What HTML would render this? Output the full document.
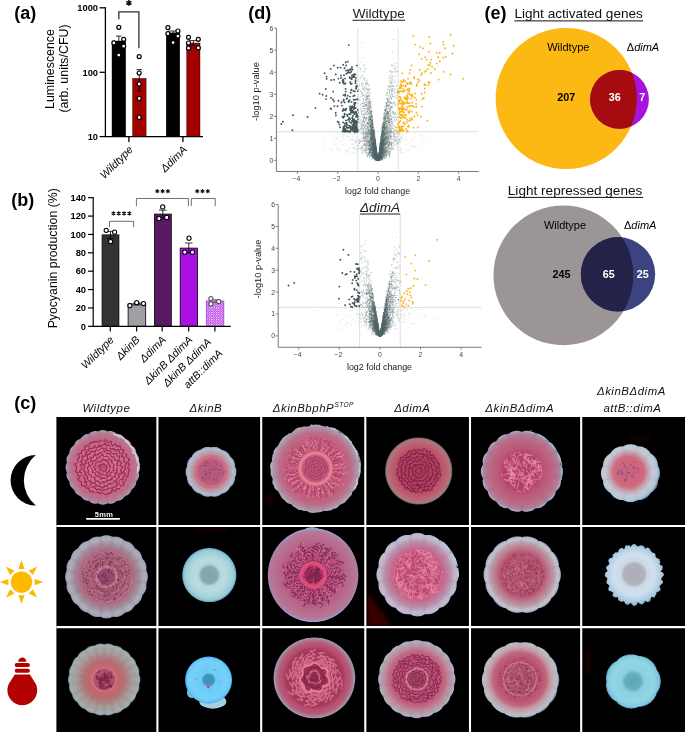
<!DOCTYPE html>
<html><head><meta charset="utf-8"><title>Figure</title>
<style>html,body{margin:0;padding:0;background:#fff;}body{width:685px;height:732px;overflow:hidden;font-family:"Liberation Sans", sans-serif;}svg{display:block;opacity:0.9999;}</style></head>
<body>
<svg width="685" height="732" viewBox="0 0 685 732" font-family='"Liberation Sans", sans-serif' fill="#000">
<defs>
<pattern id="chk" width="2.4" height="2.4" patternUnits="userSpaceOnUse"><rect width="2.4" height="2.4" fill="#b431e6"/><rect x="0" y="0" width="1.2" height="1.2" fill="#fff"/><rect x="1.2" y="1.2" width="1.2" height="1.2" fill="#dba6f3"/></pattern>
<clipPath id="cv1"><circle cx="566.2" cy="98.5" r="70.6"/></clipPath>
<clipPath id="cv2"><circle cx="563.4" cy="275.3" r="69.9"/></clipPath>
<filter id="b3" x="-30%" y="-30%" width="160%" height="160%"><feGaussianBlur stdDeviation="0.3"/></filter>
<filter id="b4" x="-30%" y="-30%" width="160%" height="160%"><feGaussianBlur stdDeviation="0.4"/></filter>
<filter id="b5" x="-30%" y="-30%" width="160%" height="160%"><feGaussianBlur stdDeviation="0.5"/></filter>
<filter id="b6" x="-30%" y="-30%" width="160%" height="160%"><feGaussianBlur stdDeviation="0.6"/></filter>
<filter id="b7" x="-30%" y="-30%" width="160%" height="160%"><feGaussianBlur stdDeviation="0.7"/></filter>
<filter id="b8" x="-30%" y="-30%" width="160%" height="160%"><feGaussianBlur stdDeviation="0.8"/></filter>
<filter id="b9" x="-30%" y="-30%" width="160%" height="160%"><feGaussianBlur stdDeviation="0.9"/></filter>
<filter id="b10" x="-30%" y="-30%" width="160%" height="160%"><feGaussianBlur stdDeviation="1.0"/></filter>
<filter id="b12" x="-30%" y="-30%" width="160%" height="160%"><feGaussianBlur stdDeviation="1.2"/></filter>
<filter id="b15" x="-30%" y="-30%" width="160%" height="160%"><feGaussianBlur stdDeviation="1.5"/></filter>
<filter id="b20" x="-30%" y="-30%" width="160%" height="160%"><feGaussianBlur stdDeviation="2.0"/></filter>
<filter id="b30" x="-30%" y="-30%" width="160%" height="160%"><feGaussianBlur stdDeviation="3.0"/></filter>
<filter id="wob" x="-10%" y="-10%" width="120%" height="120%"><feTurbulence type="fractalNoise" baseFrequency="0.11" numOctaves="2" seed="4" result="t"/><feDisplacementMap in="SourceGraphic" in2="t" scale="3.2" xChannelSelector="R" yChannelSelector="G"/></filter>
<radialGradient id="g1" gradientUnits="userSpaceOnUse" cx="102.8" cy="467.4" r="37.3"><stop offset="0" stop-color="#b14a6d"/><stop offset="0.1" stop-color="#c7627c"/><stop offset="0.3" stop-color="#d27287"/><stop offset="0.66" stop-color="#ca6b82"/><stop offset="0.8" stop-color="#c16b84"/><stop offset="0.9" stop-color="#b87d96"/><stop offset="0.96" stop-color="#ad8ea4"/><stop offset="0.99" stop-color="#aca4b8"/><stop offset="1" stop-color="#8e8ea8"/></radialGradient>
<radialGradient id="g2" gradientUnits="userSpaceOnUse" cx="211" cy="471.8" r="25.5"><stop offset="0" stop-color="#b25a7b"/><stop offset="0.5" stop-color="#b8607d"/><stop offset="0.56" stop-color="#cc6e85"/><stop offset="0.64" stop-color="#ce7287"/><stop offset="0.7" stop-color="#be93a2"/><stop offset="0.78" stop-color="#b4a4b4"/><stop offset="0.9" stop-color="#b9bcca"/><stop offset="0.97" stop-color="#98a8c2"/><stop offset="1" stop-color="#6c84a8"/></radialGradient>
<radialGradient id="g3" gradientUnits="userSpaceOnUse" cx="315.5" cy="468.6" r="45.3"><stop offset="0" stop-color="#bc5374"/><stop offset="0.29" stop-color="#c3587a"/><stop offset="0.325" stop-color="#e48496"/><stop offset="0.365" stop-color="#e07f90"/><stop offset="0.4" stop-color="#bc5374"/><stop offset="0.66" stop-color="#c15c7c"/><stop offset="0.8" stop-color="#bc6e88"/><stop offset="0.88" stop-color="#b4889c"/><stop offset="0.94" stop-color="#ad9bac"/><stop offset="0.985" stop-color="#b3b3c4"/><stop offset="1" stop-color="#888ba8"/></radialGradient>
<radialGradient id="g4" gradientUnits="userSpaceOnUse" cx="418.7" cy="471" r="33.6"><stop offset="0" stop-color="#a63f5b"/><stop offset="0.6" stop-color="#ad4460"/><stop offset="0.67" stop-color="#b85169"/><stop offset="0.82" stop-color="#bc6071"/><stop offset="0.91" stop-color="#b47276"/><stop offset="0.965" stop-color="#9b797c"/><stop offset="1" stop-color="#554850"/></radialGradient>
<radialGradient id="g5" gradientUnits="userSpaceOnUse" cx="521.8" cy="471.3" r="41"><stop offset="0" stop-color="#b44a6d"/><stop offset="0.45" stop-color="#b84a6f"/><stop offset="0.55" stop-color="#bc5576"/><stop offset="0.72" stop-color="#bc6380"/><stop offset="0.84" stop-color="#b8728c"/><stop offset="0.93" stop-color="#ad84a0"/><stop offset="0.985" stop-color="#b0aac4"/><stop offset="1" stop-color="#888db0"/></radialGradient>
<radialGradient id="g6" gradientUnits="userSpaceOnUse" cx="628.8" cy="471.8" r="30.5"><stop offset="0" stop-color="#ca637c"/><stop offset="0.49" stop-color="#d2677e"/><stop offset="0.56" stop-color="#ce8193"/><stop offset="0.64" stop-color="#bfa6b3"/><stop offset="0.78" stop-color="#c8c8d4"/><stop offset="0.92" stop-color="#b4c8d8"/><stop offset="0.98" stop-color="#98b8d0"/><stop offset="1" stop-color="#6c90b0"/></radialGradient>
<radialGradient id="g7" gradientUnits="userSpaceOnUse" cx="106.5" cy="576.8" r="41.7"><stop offset="0" stop-color="#904667"/><stop offset="0.18" stop-color="#974d6d"/><stop offset="0.24" stop-color="#c38196"/><stop offset="0.3" stop-color="#a65a71"/><stop offset="0.6" stop-color="#a9627a"/><stop offset="0.68" stop-color="#ab7489"/><stop offset="0.78" stop-color="#a28e9d"/><stop offset="0.9" stop-color="#b1aeba"/><stop offset="0.97" stop-color="#a0a6b6"/><stop offset="1" stop-color="#71788e"/></radialGradient>
<radialGradient id="g8" gradientUnits="userSpaceOnUse" cx="209.3" cy="575.1" r="27"><stop offset="0" stop-color="#84a4ac"/><stop offset="0.3" stop-color="#88a8b0"/><stop offset="0.42" stop-color="#b4d8da"/><stop offset="0.58" stop-color="#b8dcde"/><stop offset="0.78" stop-color="#a8d4dc"/><stop offset="0.92" stop-color="#98c8d8"/><stop offset="1" stop-color="#68a8c0"/></radialGradient>
<radialGradient id="g9" gradientUnits="userSpaceOnUse" cx="313.1" cy="575.2" r="46.9"><stop offset="0" stop-color="#9b2c53"/><stop offset="0.16" stop-color="#a6355e"/><stop offset="0.21" stop-color="#d94a78"/><stop offset="0.27" stop-color="#e0517e"/><stop offset="0.32" stop-color="#b84a70"/><stop offset="0.6" stop-color="#b6567a"/><stop offset="0.72" stop-color="#b8678a"/><stop offset="0.9" stop-color="#b87694"/><stop offset="0.95" stop-color="#a881a9"/><stop offset="0.985" stop-color="#aa9fc4"/><stop offset="1" stop-color="#8a8ab8"/></radialGradient>
<radialGradient id="g10" gradientUnits="userSpaceOnUse" cx="417.6" cy="574.6" r="41.8"><stop offset="0" stop-color="#c55378"/><stop offset="0.5" stop-color="#c5557a"/><stop offset="0.58" stop-color="#c76387"/><stop offset="0.7" stop-color="#c17999"/><stop offset="0.8" stop-color="#ba95af"/><stop offset="0.9" stop-color="#c5b8cc"/><stop offset="0.97" stop-color="#bab9d0"/><stop offset="1" stop-color="#9095b8"/></radialGradient>
<radialGradient id="g11" gradientUnits="userSpaceOnUse" cx="522.2" cy="574.6" r="38.8"><stop offset="0" stop-color="#b1536e"/><stop offset="0.55" stop-color="#b2556f"/><stop offset="0.62" stop-color="#bc637d"/><stop offset="0.72" stop-color="#bc8192"/><stop offset="0.82" stop-color="#b89ea8"/><stop offset="0.92" stop-color="#c6c3cc"/><stop offset="0.97" stop-color="#acb4c8"/><stop offset="1" stop-color="#707c9a"/></radialGradient>
<radialGradient id="g12" gradientUnits="userSpaceOnUse" cx="634.1" cy="574.2" r="31"><stop offset="0" stop-color="#acacb8"/><stop offset="0.34" stop-color="#b1b2be"/><stop offset="0.43" stop-color="#ccd8e6"/><stop offset="0.66" stop-color="#d0e0ee"/><stop offset="0.85" stop-color="#b4d0e2"/><stop offset="0.95" stop-color="#9cc0d8"/><stop offset="1" stop-color="#74a4c4"/></radialGradient>
<radialGradient id="g13" gradientUnits="userSpaceOnUse" cx="104.2" cy="679.5" r="36.3"><stop offset="0" stop-color="#a94a62"/><stop offset="0.28" stop-color="#b1536a"/><stop offset="0.325" stop-color="#d47085"/><stop offset="0.37" stop-color="#c16771"/><stop offset="0.5" stop-color="#b86b70"/><stop offset="0.58" stop-color="#b4767c"/><stop offset="0.66" stop-color="#ad8a88"/><stop offset="0.76" stop-color="#a99d9b"/><stop offset="0.87" stop-color="#a6a6a6"/><stop offset="0.95" stop-color="#a4b0b4"/><stop offset="1" stop-color="#5c7480"/></radialGradient>
<radialGradient id="g14" gradientUnits="userSpaceOnUse" cx="208.6" cy="680" r="23.4"><stop offset="0" stop-color="#3a92b6"/><stop offset="0.22" stop-color="#3e96ba"/><stop offset="0.32" stop-color="#6cccf8"/><stop offset="0.8" stop-color="#74d0fa"/><stop offset="0.94" stop-color="#68c6f8"/><stop offset="1" stop-color="#44a4e4"/></radialGradient>
<radialGradient id="g15" gradientUnits="userSpaceOnUse" cx="314.4" cy="677.9" r="40.9"><stop offset="0" stop-color="#8c2c4c"/><stop offset="0.3" stop-color="#9b3453"/><stop offset="0.7" stop-color="#a43b5b"/><stop offset="0.76" stop-color="#b44a6b"/><stop offset="0.88" stop-color="#b85c7b"/><stop offset="0.94" stop-color="#a97d95"/><stop offset="0.98" stop-color="#9e98ac"/><stop offset="1" stop-color="#6c6c8c"/></radialGradient>
<radialGradient id="g16" gradientUnits="userSpaceOnUse" cx="416.8" cy="679.1" r="39.2"><stop offset="0" stop-color="#9b3b5b"/><stop offset="0.2" stop-color="#a94666"/><stop offset="0.27" stop-color="#ce7d91"/><stop offset="0.32" stop-color="#bc5574"/><stop offset="0.6" stop-color="#bc5878"/><stop offset="0.72" stop-color="#bf6b84"/><stop offset="0.82" stop-color="#be8c9e"/><stop offset="0.92" stop-color="#b4a2b0"/><stop offset="0.97" stop-color="#afb4c2"/><stop offset="1" stop-color="#747a94"/></radialGradient>
<radialGradient id="g17" gradientUnits="userSpaceOnUse" cx="519.8" cy="679.0" r="39.2"><stop offset="0" stop-color="#a94f68"/><stop offset="0.38" stop-color="#ad536c"/><stop offset="0.42" stop-color="#ce7d8f"/><stop offset="0.46" stop-color="#b4556f"/><stop offset="0.56" stop-color="#bc5571"/><stop offset="0.68" stop-color="#bf677e"/><stop offset="0.78" stop-color="#c797a3"/><stop offset="0.88" stop-color="#bfb4bb"/><stop offset="0.96" stop-color="#b4c0cc"/><stop offset="1" stop-color="#687a92"/></radialGradient>
<radialGradient id="g18" gradientUnits="userSpaceOnUse" cx="633" cy="681.4" r="27.8"><stop offset="0" stop-color="#5ea6b6"/><stop offset="0.28" stop-color="#64aebe"/><stop offset="0.42" stop-color="#8cd0e0"/><stop offset="0.75" stop-color="#92d6e6"/><stop offset="0.92" stop-color="#80c8e0"/><stop offset="1" stop-color="#5098b8"/></radialGradient>
</defs>
<text x="14.2" y="19.4" font-size="18" font-weight="bold">(a)</text>
<text transform="translate(53.6,69) rotate(-90)" text-anchor="middle" font-size="12.4">Luminescence</text>
<text transform="translate(68.2,68.5) rotate(-90)" text-anchor="middle" font-size="12.4">(arb. units/CFU)</text>
<rect x="112.0" y="41.0" width="13.70" height="95.60" fill="#000000" stroke="#000" stroke-width="0.4"/>
<rect x="132.6" y="78.4" width="13.50" height="58.20" fill="#a30000" stroke="#000" stroke-width="0.4"/>
<rect x="166.2" y="32.9" width="13.60" height="103.70" fill="#000000" stroke="#000" stroke-width="0.4"/>
<rect x="186.7" y="43.0" width="13.30" height="93.60" fill="#a30000" stroke="#000" stroke-width="0.4"/>
<path d="M105.4 7.2 V136.6 M104.80000000000001 136.6 H203" stroke="#000" stroke-width="1.3" fill="none"/>
<path d="M99.6 7.8 H105.4" stroke="#000" stroke-width="1.3"/>
<path d="M99.6 72.3 H105.4" stroke="#000" stroke-width="1.3"/>
<path d="M99.6 136.6 H105.4" stroke="#000" stroke-width="1.3"/>
<path d="M128.9 136.6 V142" stroke="#000" stroke-width="1.3"/>
<path d="M182.9 136.6 V142" stroke="#000" stroke-width="1.3"/>
<text x="98" y="11.1" text-anchor="end" font-size="9.3" font-weight="bold">1000</text>
<text x="98" y="75.6" text-anchor="end" font-size="9.3" font-weight="bold">100</text>
<text x="98" y="139.9" text-anchor="end" font-size="9.3" font-weight="bold">10</text>
<path d="M118.8 36.1 V45.5 M115.89999999999999 36.1 H121.7 M115.89999999999999 45.5 H121.7" stroke="#000" stroke-width="0.8" fill="none"/>
<path d="M139.3 69.6 V91.0 M136.4 69.6 H142.20000000000002 M136.4 91.0 H142.20000000000002" stroke="#000" stroke-width="0.8" fill="none"/>
<path d="M173.0 31.0 V35.0 M168.5 31.0 H177.5 M168.5 35.0 H177.5" stroke="#000" stroke-width="0.8" fill="none"/>
<path d="M193.4 40.6 V45.6 M188.9 40.6 H197.9 M188.9 45.6 H197.9" stroke="#000" stroke-width="0.8" fill="none"/>
<path d="M118.85 19.3 V11.9 H138.9 V48.2" stroke="#2a2a2a" stroke-width="1.25" fill="none"/>
<path d="M128.90 -0.15L128.90 5.85M131.50 1.35L126.30 4.35M131.50 4.35L126.30 1.35" stroke="#111" stroke-width="1.45" fill="none"/>
<circle cx="118.8" cy="27.3" r="2.0" fill="#fff" stroke="#000" stroke-width="1.2"/>
<circle cx="123.7" cy="39.3" r="2.0" fill="#fff" stroke="#000" stroke-width="1.2"/>
<circle cx="113.9" cy="42.9" r="2.0" fill="#fff" stroke="#000" stroke-width="1.2"/>
<circle cx="123.7" cy="46.2" r="2.0" fill="#fff" stroke="#000" stroke-width="1.2"/>
<circle cx="118.8" cy="55.1" r="2.0" fill="#fff" stroke="#000" stroke-width="1.2"/>
<circle cx="139.2" cy="56.6" r="2.0" fill="#fff" stroke="#000" stroke-width="1.2"/>
<circle cx="139.2" cy="73.0" r="2.0" fill="#fff" stroke="#000" stroke-width="1.2"/>
<circle cx="139.2" cy="84.0" r="2.0" fill="#fff" stroke="#000" stroke-width="1.2"/>
<circle cx="139.2" cy="98.5" r="2.0" fill="#fff" stroke="#000" stroke-width="1.2"/>
<circle cx="139.2" cy="117.5" r="2.0" fill="#fff" stroke="#000" stroke-width="1.2"/>
<circle cx="167.9" cy="27.6" r="2.0" fill="#fff" stroke="#000" stroke-width="1.2"/>
<circle cx="177.9" cy="31.0" r="2.0" fill="#fff" stroke="#000" stroke-width="1.2"/>
<circle cx="167.9" cy="33.7" r="2.0" fill="#fff" stroke="#000" stroke-width="1.2"/>
<circle cx="177.9" cy="36.1" r="2.0" fill="#fff" stroke="#000" stroke-width="1.2"/>
<circle cx="173.1" cy="42.6" r="2.0" fill="#fff" stroke="#000" stroke-width="1.2"/>
<circle cx="188.5" cy="37.3" r="2.0" fill="#fff" stroke="#000" stroke-width="1.2"/>
<circle cx="198.3" cy="39.3" r="2.0" fill="#fff" stroke="#000" stroke-width="1.2"/>
<circle cx="188.5" cy="43.0" r="2.0" fill="#fff" stroke="#000" stroke-width="1.2"/>
<circle cx="188.5" cy="48.2" r="2.0" fill="#fff" stroke="#000" stroke-width="1.2"/>
<circle cx="198.3" cy="47.9" r="2.0" fill="#fff" stroke="#000" stroke-width="1.2"/>
<text transform="translate(133.6,150.2) rotate(-45)" text-anchor="end" font-size="10.8" font-style="italic">Wildtype</text>
<text transform="translate(187.6,150.2) rotate(-45)" text-anchor="end" font-size="10.8" font-style="italic">ΔdimA</text>
<text x="11.3" y="205.6" font-size="18" font-weight="bold">(b)</text>
<text transform="translate(56.6,258.3) rotate(-90)" text-anchor="middle" font-size="12.3">Pyocyanin production (%)</text>
<rect x="102.1" y="234.9" width="16.80" height="91.40" fill="#333333" stroke="#000" stroke-width="0.8"/>
<rect x="128.1" y="303.9" width="17.60" height="22.40" fill="#a0a0a4" stroke="#000" stroke-width="0.8"/>
<rect x="154.4" y="214.1" width="16.90" height="112.20" fill="#591864" stroke="#000" stroke-width="0.8"/>
<rect x="180.2" y="248.1" width="17.30" height="78.20" fill="#a910e2" stroke="#000" stroke-width="0.8"/>
<rect x="206.3" y="301.0" width="17.50" height="25.30" fill="url(#chk)" stroke="#b431e6" stroke-width="0.8"/>
<path d="M93.2 197.1 V326.3 M92.60000000000001 326.3 H230.8" stroke="#000" stroke-width="1.2" fill="none"/>
<path d="M88 326.30 H93.2" stroke="#000" stroke-width="1.2"/>
<text x="86" y="329.60" text-anchor="end" font-size="9.3" font-weight="bold">0</text>
<path d="M88 307.93 H93.2" stroke="#000" stroke-width="1.2"/>
<text x="86" y="311.23" text-anchor="end" font-size="9.3" font-weight="bold">20</text>
<path d="M88 289.56 H93.2" stroke="#000" stroke-width="1.2"/>
<text x="86" y="292.86" text-anchor="end" font-size="9.3" font-weight="bold">40</text>
<path d="M88 271.18 H93.2" stroke="#000" stroke-width="1.2"/>
<text x="86" y="274.48" text-anchor="end" font-size="9.3" font-weight="bold">60</text>
<path d="M88 252.81 H93.2" stroke="#000" stroke-width="1.2"/>
<text x="86" y="256.11" text-anchor="end" font-size="9.3" font-weight="bold">80</text>
<path d="M88 234.44 H93.2" stroke="#000" stroke-width="1.2"/>
<text x="86" y="237.74" text-anchor="end" font-size="9.3" font-weight="bold">100</text>
<path d="M88 216.07 H93.2" stroke="#000" stroke-width="1.2"/>
<text x="86" y="219.37" text-anchor="end" font-size="9.3" font-weight="bold">120</text>
<path d="M88 197.70 H93.2" stroke="#000" stroke-width="1.2"/>
<text x="86" y="201.00" text-anchor="end" font-size="9.3" font-weight="bold">140</text>
<path d="M110.3 326.3 V331.5" stroke="#000" stroke-width="1.2"/>
<path d="M136.6 326.3 V331.5" stroke="#000" stroke-width="1.2"/>
<path d="M162.2 326.3 V331.5" stroke="#000" stroke-width="1.2"/>
<path d="M188.7 326.3 V331.5" stroke="#000" stroke-width="1.2"/>
<path d="M214.9 326.3 V331.5" stroke="#000" stroke-width="1.2"/>
<path d="M110.5 231.3 V238.4 M106.7 231.3 H114.3 M106.7 238.4 H114.3" stroke="#000" stroke-width="0.8" fill="none"/>
<path d="M136.9 302.9 V305.0 M133.4 302.9 H140.4 M133.4 305.0 H140.4" stroke="#000" stroke-width="0.8" fill="none"/>
<path d="M162.8 210.2 V218.0 M159.0 210.2 H166.60000000000002 M159.0 218.0 H166.60000000000002" stroke="#000" stroke-width="0.8" fill="none"/>
<path d="M188.8 243.0 V253.0 M185.0 243.0 H192.60000000000002 M185.0 253.0 H192.60000000000002" stroke="#000" stroke-width="0.8" fill="none"/>
<path d="M215.0 299.6 V302.6 M211.2 299.6 H218.8 M211.2 302.6 H218.8" stroke="#555" stroke-width="0.8" fill="none"/>
<path d="M109.5 227.1 V221.3 H133.6 V227.1" stroke="#333" stroke-width="0.7" fill="none"/>
<path d="M136.4 206.1 V198.5 H188.4 V206.1" stroke="#333" stroke-width="0.7" fill="none"/>
<path d="M191.3 206.1 V198.5 H215.2 V206.1" stroke="#333" stroke-width="0.7" fill="none"/>
<path d="M113.45 211.25L113.45 215.55M115.31 212.33L111.59 214.47M115.31 214.47L111.59 212.33" stroke="#111" stroke-width="1.05" fill="none"/><path d="M118.75 211.25L118.75 215.55M120.61 212.33L116.89 214.47M120.61 214.47L116.89 212.33" stroke="#111" stroke-width="1.05" fill="none"/><path d="M124.05 211.25L124.05 215.55M125.91 212.33L122.19 214.47M125.91 214.47L122.19 212.33" stroke="#111" stroke-width="1.05" fill="none"/><path d="M129.35 211.25L129.35 215.55M131.21 212.33L127.49 214.47M131.21 214.47L127.49 212.33" stroke="#111" stroke-width="1.05" fill="none"/>
<path d="M157.30 189.05L157.30 193.35M159.16 190.12L155.44 192.27M159.16 192.27L155.44 190.12" stroke="#111" stroke-width="1.05" fill="none"/><path d="M162.60 189.05L162.60 193.35M164.46 190.12L160.74 192.27M164.46 192.27L160.74 190.12" stroke="#111" stroke-width="1.05" fill="none"/><path d="M167.90 189.05L167.90 193.35M169.76 190.12L166.04 192.27M169.76 192.27L166.04 190.12" stroke="#111" stroke-width="1.05" fill="none"/>
<path d="M197.20 189.05L197.20 193.35M199.06 190.12L195.34 192.27M199.06 192.27L195.34 190.12" stroke="#111" stroke-width="1.05" fill="none"/><path d="M202.50 189.05L202.50 193.35M204.36 190.12L200.64 192.27M204.36 192.27L200.64 190.12" stroke="#111" stroke-width="1.05" fill="none"/><path d="M207.80 189.05L207.80 193.35M209.66 190.12L205.94 192.27M209.66 192.27L205.94 190.12" stroke="#111" stroke-width="1.05" fill="none"/>
<circle cx="106.2" cy="230.3" r="2.1" fill="#fff" stroke="#000" stroke-width="1.05"/>
<circle cx="114.6" cy="232.1" r="2.1" fill="#fff" stroke="#000" stroke-width="1.05"/>
<circle cx="110.6" cy="241.5" r="2.1" fill="#fff" stroke="#000" stroke-width="1.05"/>
<circle cx="129.9" cy="305.6" r="2.1" fill="#fff" stroke="#000" stroke-width="1.05"/>
<circle cx="136.7" cy="302.6" r="2.1" fill="#fff" stroke="#000" stroke-width="1.05"/>
<circle cx="143.5" cy="303.5" r="2.1" fill="#fff" stroke="#000" stroke-width="1.05"/>
<circle cx="162.7" cy="206.9" r="2.1" fill="#fff" stroke="#000" stroke-width="1.05"/>
<circle cx="159.0" cy="218.5" r="2.1" fill="#fff" stroke="#000" stroke-width="1.05"/>
<circle cx="166.7" cy="217.4" r="2.1" fill="#fff" stroke="#000" stroke-width="1.05"/>
<circle cx="189.0" cy="238.2" r="2.1" fill="#fff" stroke="#000" stroke-width="1.05"/>
<circle cx="184.8" cy="252.2" r="2.1" fill="#fff" stroke="#000" stroke-width="1.05"/>
<circle cx="192.5" cy="252.2" r="2.1" fill="#fff" stroke="#000" stroke-width="1.05"/>
<circle cx="210.9" cy="298.5" r="2.1" fill="#fff" stroke="#555" stroke-width="1.05"/>
<circle cx="210.9" cy="303.9" r="2.1" fill="#fff" stroke="#555" stroke-width="1.05"/>
<circle cx="218.7" cy="301.5" r="2.1" fill="#fff" stroke="#555" stroke-width="1.05"/>
<text transform="translate(114.6,340.4) rotate(-45)" text-anchor="end" font-size="10.8" font-style="italic">Wildtype</text>
<text transform="translate(140.4,340.4) rotate(-45)" text-anchor="end" font-size="10.8" font-style="italic">ΔkinB</text>
<text transform="translate(166.6,340.4) rotate(-45)" text-anchor="end" font-size="10.8" font-style="italic">ΔdimA</text>
<text transform="translate(193.2,340.4) rotate(-45)" text-anchor="end" font-size="10.8" font-style="italic">ΔkinB ΔdimA</text>
<text transform="translate(211.8,342.6) rotate(-45)" text-anchor="end" font-size="10.8" font-style="italic">ΔkinB ΔdimA</text>
<text transform="translate(223.2,353.8) rotate(-45)" text-anchor="end" font-size="10.8" font-style="italic">attB::dimA</text>
<text x="248.3" y="19.3" font-size="18" font-weight="bold">(d)</text>
<g>
<path d="M357.85 28.0 V171.5 M398.15 28.0 V171.5 M276.4 131.74 H478.75" stroke="#c4c4c4" stroke-width="0.55" fill="none"/>
<path d="M375.7 155.7h.01M375.6 146.7h.01M375.2 147.5h.01M383.7 137.0h.01M379.1 156.8h.01M370.9 152.4h.01M376.9 160.3h.01M375.0 158.2h.01M379.3 152.8h.01M379.5 153.0h.01M380.8 156.9h.01M375.7 159.8h.01M370.4 109.0h.01M370.4 118.2h.01M380.9 145.6h.01M391.4 131.6h.01M386.2 147.7h.01M383.2 156.1h.01M379.4 154.8h.01M388.3 150.0h.01M382.8 152.6h.01M394.3 71.2h.01M378.1 159.7h.01M386.5 103.3h.01M382.9 126.8h.01M374.3 138.7h.01M383.0 132.7h.01M374.1 129.3h.01M381.5 152.1h.01M386.2 104.4h.01M370.2 118.9h.01M378.3 160.4h.01M372.1 132.6h.01M369.5 149.5h.01M382.9 144.7h.01M389.3 80.7h.01M389.7 121.0h.01M377.5 160.3h.01M378.4 158.7h.01M380.5 144.6h.01M377.3 157.7h.01M396.1 127.6h.01M374.4 148.5h.01M384.5 125.3h.01M392.6 96.7h.01M383.3 142.6h.01M372.6 157.1h.01M372.2 123.0h.01M374.9 153.7h.01M372.5 137.1h.01M376.6 151.7h.01M364.8 88.1h.01M379.2 156.4h.01M374.7 152.2h.01M374.4 139.0h.01M382.1 146.4h.01M375.9 153.2h.01M377.8 159.1h.01M374.7 142.8h.01M379.7 155.9h.01M379.7 148.6h.01M390.5 86.7h.01M367.0 135.2h.01M370.8 130.4h.01M391.6 132.0h.01M367.0 140.2h.01M383.7 149.1h.01M375.2 149.2h.01M384.5 116.5h.01M377.4 157.2h.01M389.1 152.4h.01M376.1 147.6h.01M372.6 145.0h.01M382.0 143.6h.01M370.6 138.2h.01M376.5 157.5h.01M367.7 111.5h.01M374.1 143.3h.01M360.9 119.9h.01M386.9 120.7h.01M379.6 152.5h.01M377.6 158.8h.01M377.6 159.1h.01M376.7 155.3h.01M382.7 142.9h.01M378.7 156.8h.01M387.0 144.1h.01M378.7 160.1h.01M372.7 155.8h.01M376.6 150.3h.01M385.0 140.3h.01M377.5 159.9h.01M373.9 144.7h.01M375.7 153.3h.01M376.6 153.4h.01M381.2 152.6h.01M385.8 148.3h.01M379.6 153.4h.01M386.9 134.8h.01M375.4 153.4h.01M389.8 122.0h.01M392.9 85.2h.01M374.9 145.7h.01M384.6 139.5h.01M389.1 112.2h.01M386.4 125.6h.01M386.1 148.7h.01M372.4 134.7h.01M379.9 152.0h.01M362.7 130.5h.01M386.6 111.0h.01M372.2 134.6h.01M372.3 131.3h.01M374.5 154.8h.01M378.3 159.3h.01M383.0 149.2h.01M384.6 118.5h.01M366.1 133.7h.01M381.8 152.2h.01M376.4 153.2h.01M370.9 127.8h.01M371.3 148.1h.01M386.3 137.4h.01M386.0 143.9h.01M370.5 132.8h.01M381.2 137.0h.01M375.8 147.6h.01M384.7 134.2h.01M374.5 157.1h.01M387.1 126.5h.01M384.2 127.0h.01M376.7 154.8h.01M382.3 146.3h.01M367.7 156.1h.01M379.3 160.2h.01M383.0 144.7h.01M381.9 135.4h.01M372.3 126.4h.01M363.8 117.3h.01M390.6 128.6h.01M385.3 150.0h.01M376.4 159.8h.01M389.8 106.1h.01M382.5 152.3h.01M380.0 146.9h.01M373.3 155.5h.01M368.0 124.4h.01M372.4 147.1h.01M367.2 105.7h.01M380.6 150.2h.01M368.5 85.6h.01M394.1 137.8h.01M390.9 135.7h.01M377.2 156.2h.01M374.1 150.0h.01M368.7 148.4h.01M377.5 158.0h.01M376.5 153.6h.01M378.5 157.7h.01M376.9 158.1h.01M389.4 126.3h.01M386.8 141.6h.01M381.1 154.1h.01M370.5 152.8h.01M394.8 113.4h.01M368.5 127.8h.01M372.8 156.6h.01M377.2 159.6h.01M378.9 158.1h.01M380.4 147.4h.01M379.6 158.1h.01M364.8 133.2h.01M381.9 134.8h.01M381.5 156.6h.01M379.7 156.6h.01M373.5 157.0h.01M375.1 158.2h.01M377.3 158.8h.01M382.5 149.0h.01M378.1 159.4h.01M384.6 134.1h.01M369.2 142.7h.01M367.9 136.7h.01M360.6 96.3h.01M383.3 144.4h.01M382.9 158.5h.01M380.8 149.3h.01M377.7 160.0h.01M380.2 151.8h.01M372.6 130.9h.01M371.5 139.9h.01M386.0 150.9h.01M381.3 145.4h.01M379.0 155.2h.01M381.0 156.0h.01M373.2 130.0h.01M370.6 111.9h.01M385.1 113.3h.01M387.6 128.9h.01M379.2 158.9h.01M382.4 144.9h.01M371.2 101.1h.01M382.7 130.3h.01M370.3 126.0h.01M384.4 140.2h.01M366.9 128.1h.01M381.0 153.6h.01M380.4 143.4h.01M383.1 127.6h.01M391.1 144.4h.01M383.3 155.7h.01M381.0 160.2h.01M383.6 136.0h.01M369.8 105.6h.01M382.5 148.7h.01M388.0 102.5h.01M376.5 153.2h.01M374.0 134.5h.01M376.8 157.5h.01M369.3 119.7h.01M376.3 157.1h.01M368.7 109.4h.01M389.8 152.2h.01M386.5 103.4h.01M362.7 133.5h.01M369.8 111.0h.01M383.1 133.1h.01M377.0 157.6h.01M379.3 157.4h.01M385.0 132.8h.01M380.5 150.3h.01M391.6 81.8h.01M380.9 153.2h.01M370.7 141.5h.01M359.2 142.5h.01M371.7 130.8h.01M376.1 148.6h.01M377.9 159.6h.01M376.1 149.0h.01M388.8 125.0h.01M397.0 136.5h.01M369.2 129.3h.01M376.0 155.0h.01M383.3 149.0h.01M385.1 137.6h.01M388.9 104.8h.01M375.3 153.4h.01M374.9 143.5h.01M367.8 147.1h.01M379.6 158.5h.01M376.6 156.2h.01M373.8 143.3h.01M367.1 132.7h.01M379.9 157.2h.01M379.4 149.1h.01M386.0 140.7h.01M376.5 150.1h.01M363.2 114.4h.01M374.9 149.4h.01M383.8 151.8h.01M376.0 149.8h.01M383.4 130.9h.01M370.6 127.2h.01M385.8 127.5h.01M395.1 117.6h.01M371.9 144.8h.01M373.4 148.3h.01M372.9 126.1h.01M379.6 157.3h.01M374.3 134.7h.01M370.6 149.0h.01M377.5 156.1h.01M376.2 152.4h.01M380.5 141.7h.01M386.1 115.0h.01M378.8 159.3h.01M374.6 139.2h.01M383.8 141.4h.01M387.2 140.7h.01M371.2 132.5h.01M374.1 146.9h.01M379.0 159.4h.01M366.9 101.7h.01M389.8 133.9h.01M369.7 102.2h.01M367.6 90.1h.01M387.1 133.4h.01M388.1 118.1h.01M373.6 140.2h.01M379.5 158.3h.01M382.1 149.7h.01M384.2 146.6h.01M367.2 95.6h.01M373.2 144.6h.01M381.4 139.4h.01M377.6 160.2h.01M384.2 135.5h.01M384.1 128.0h.01M368.8 141.0h.01M375.6 145.9h.01M376.8 157.4h.01M376.6 154.9h.01M371.4 112.5h.01M378.5 157.5h.01M379.4 156.4h.01M375.4 148.1h.01M391.5 144.3h.01M372.3 124.6h.01M376.5 156.4h.01M381.6 152.6h.01M381.1 140.5h.01M371.0 139.3h.01M370.0 120.4h.01M378.3 160.4h.01M379.3 154.9h.01M376.8 156.5h.01M367.0 145.3h.01M366.4 136.1h.01M377.5 158.8h.01M366.5 134.9h.01M361.3 107.2h.01M387.3 148.2h.01M368.9 85.6h.01M384.1 123.3h.01M367.1 145.5h.01M367.1 131.0h.01M368.4 95.2h.01M363.1 117.8h.01M377.9 160.3h.01M381.0 148.3h.01M380.5 151.1h.01M374.1 153.8h.01M381.2 157.6h.01M376.3 153.2h.01M371.9 139.0h.01M387.3 144.1h.01M392.2 143.1h.01M372.4 121.4h.01M390.4 108.7h.01M393.7 86.3h.01M382.9 144.6h.01M366.5 141.2h.01M372.8 128.2h.01M390.1 108.3h.01M375.3 149.8h.01M366.0 152.6h.01M373.4 132.3h.01M371.8 120.5h.01M385.9 110.9h.01M374.5 158.5h.01M379.1 154.1h.01M381.7 146.7h.01M385.6 147.4h.01M375.9 157.3h.01M361.5 127.4h.01M383.2 152.9h.01M397.9 120.1h.01M373.5 153.6h.01M375.0 148.4h.01M398.0 82.0h.01M366.2 95.7h.01M374.2 149.2h.01M383.4 135.0h.01M372.7 148.1h.01M370.0 148.7h.01M364.6 117.4h.01M360.4 108.1h.01M364.2 110.8h.01M383.9 152.6h.01M374.6 154.6h.01M373.0 122.1h.01M379.8 151.3h.01M379.9 158.7h.01M388.8 119.4h.01M384.1 151.3h.01M372.1 118.8h.01M377.9 159.8h.01M370.8 130.9h.01M373.1 156.1h.01M381.3 151.2h.01M382.0 147.3h.01M376.9 155.2h.01M385.0 143.4h.01M367.3 153.6h.01M396.2 92.3h.01M374.2 155.0h.01M374.4 153.0h.01M375.5 151.8h.01M383.4 122.5h.01M362.1 125.2h.01M375.5 145.7h.01M375.7 143.5h.01M370.8 132.3h.01M380.1 150.4h.01M377.3 155.2h.01M362.2 124.7h.01M380.7 157.9h.01M391.8 136.3h.01M378.7 158.0h.01M383.0 140.8h.01M371.3 130.3h.01M387.5 130.5h.01M378.6 157.3h.01M373.0 150.1h.01M379.5 158.5h.01M377.6 157.7h.01M387.2 99.8h.01M375.8 160.3h.01M380.2 156.0h.01M372.7 125.5h.01M371.4 142.3h.01M387.1 123.1h.01M376.2 148.6h.01M388.4 121.7h.01M382.8 146.3h.01M380.9 159.4h.01M376.1 148.7h.01M390.4 71.5h.01M384.2 133.6h.01M369.6 139.7h.01M369.9 104.8h.01M371.9 115.9h.01M381.1 147.4h.01M364.5 150.9h.01M384.9 127.6h.01M376.1 155.3h.01M386.8 126.6h.01M370.4 119.1h.01M360.0 81.7h.01M363.2 95.2h.01M381.4 157.7h.01M379.4 155.4h.01M387.9 134.5h.01M379.6 153.3h.01M361.1 83.9h.01M381.9 132.7h.01M374.4 149.8h.01M382.4 132.3h.01M375.2 151.5h.01M380.8 158.3h.01M363.9 118.3h.01M385.6 152.8h.01M381.9 136.0h.01M376.2 158.1h.01M383.4 154.5h.01M367.6 83.2h.01M379.1 153.1h.01M390.2 123.0h.01M376.3 154.8h.01M371.8 145.8h.01M379.2 154.1h.01M385.0 131.4h.01M379.0 154.2h.01M380.4 146.1h.01M358.3 129.3h.01M378.8 158.0h.01M370.1 113.8h.01M382.2 146.4h.01M377.0 155.6h.01M371.9 145.1h.01M378.6 159.6h.01M375.4 145.0h.01M366.2 94.3h.01M383.6 154.9h.01M379.2 154.6h.01M371.8 129.2h.01M377.6 160.3h.01M391.4 91.7h.01M387.2 116.3h.01M365.5 84.6h.01M379.2 159.6h.01M371.5 138.0h.01M384.1 156.6h.01M382.2 157.1h.01M380.4 153.5h.01M376.8 153.4h.01M377.1 157.8h.01M361.7 112.7h.01M373.6 135.9h.01M394.9 141.3h.01M377.5 159.1h.01M375.1 152.9h.01M377.0 159.6h.01M366.9 123.1h.01M388.4 134.7h.01M374.3 147.5h.01M368.3 106.0h.01M383.8 126.3h.01M378.5 159.0h.01M373.2 140.5h.01M376.1 146.4h.01M374.7 155.1h.01M396.1 137.4h.01M365.0 126.3h.01M385.4 117.2h.01M380.6 143.2h.01M379.1 156.1h.01M373.6 131.7h.01M394.3 78.8h.01M379.8 147.8h.01M380.9 155.8h.01M386.2 124.7h.01M369.0 99.2h.01M371.1 149.6h.01M376.0 158.3h.01M367.6 123.8h.01M377.3 156.1h.01M375.2 153.3h.01M377.6 160.1h.01M382.3 134.1h.01M373.5 134.9h.01M391.5 121.4h.01M382.0 151.8h.01M375.4 159.3h.01M373.4 145.7h.01M384.3 150.8h.01M377.5 158.2h.01M374.2 153.9h.01M367.7 149.1h.01M378.8 157.6h.01M360.8 68.6h.01M383.5 151.7h.01M382.6 158.1h.01M379.4 152.9h.01M378.8 156.5h.01M382.8 126.6h.01M369.7 138.2h.01M377.4 155.6h.01M374.7 150.3h.01M377.1 157.1h.01M371.2 150.1h.01M371.1 140.5h.01M397.9 88.9h.01M380.9 149.4h.01M374.7 154.8h.01M365.6 126.3h.01M372.6 131.5h.01M382.1 149.6h.01M363.2 119.6h.01M375.5 157.3h.01M378.7 159.9h.01M384.0 126.3h.01M377.0 153.4h.01M382.1 154.3h.01M391.4 145.4h.01M364.5 137.7h.01M376.4 152.4h.01M370.2 119.6h.01M372.5 134.4h.01M373.8 131.8h.01M375.9 148.0h.01M371.3 121.2h.01M389.3 146.5h.01M376.3 151.1h.01M363.5 144.7h.01M365.4 141.7h.01M395.3 127.9h.01M376.4 159.9h.01M375.0 144.2h.01M384.1 122.3h.01M379.9 147.8h.01M380.1 151.8h.01M389.7 142.8h.01M370.0 141.1h.01M376.8 154.3h.01M370.3 146.7h.01M389.3 156.6h.01M383.3 126.3h.01M382.0 137.7h.01M379.1 154.7h.01M390.6 147.1h.01M379.1 155.5h.01M384.0 132.6h.01M376.2 151.0h.01M386.5 140.7h.01M383.8 137.7h.01M392.7 142.6h.01M373.5 150.8h.01M381.0 151.1h.01M378.5 158.3h.01M388.6 145.3h.01M383.2 143.2h.01M380.4 149.8h.01M382.0 147.9h.01M382.9 151.4h.01M379.1 155.0h.01M376.5 158.0h.01M369.7 92.9h.01M387.0 146.2h.01M376.4 158.9h.01M377.9 159.4h.01M374.0 137.1h.01M363.8 148.4h.01M382.6 131.7h.01M388.0 129.2h.01M374.0 147.8h.01M362.8 138.6h.01M386.4 103.5h.01M366.7 133.2h.01M377.5 159.9h.01M359.6 129.3h.01M373.8 137.7h.01M373.2 132.4h.01M376.8 157.0h.01M377.5 158.9h.01M372.8 141.2h.01M378.7 158.6h.01M370.7 112.6h.01M387.2 135.7h.01M363.3 135.2h.01M372.7 141.8h.01M375.9 148.8h.01M369.4 157.0h.01M384.7 128.5h.01M371.9 121.2h.01M367.0 108.4h.01M382.6 128.9h.01M387.0 121.1h.01M381.6 156.6h.01M364.7 102.6h.01M391.9 126.9h.01M376.0 158.6h.01M369.1 154.0h.01M379.5 157.1h.01M379.0 156.8h.01M374.8 142.6h.01M375.8 150.3h.01M390.3 81.0h.01M375.0 154.7h.01M385.6 137.5h.01M374.1 137.2h.01M377.5 158.8h.01M375.8 158.3h.01M371.4 131.5h.01M375.2 151.7h.01M381.7 139.9h.01M370.2 118.1h.01M373.9 142.1h.01M377.6 160.4h.01M374.0 152.6h.01M362.0 42.9h.01M381.4 140.7h.01M381.7 155.7h.01M373.9 144.6h.01M377.8 159.8h.01M379.1 154.4h.01M375.7 148.1h.01M359.2 118.5h.01M379.5 155.7h.01M371.7 135.9h.01M376.1 153.4h.01M381.8 131.9h.01M388.9 117.2h.01M370.5 143.8h.01M373.4 143.0h.01M378.6 158.2h.01M390.2 154.8h.01M375.7 153.6h.01M373.4 147.1h.01M390.3 101.5h.01M373.4 134.7h.01M386.4 121.3h.01M383.7 131.6h.01M385.7 140.8h.01M384.4 129.8h.01M379.7 159.5h.01M369.1 113.1h.01M377.1 160.2h.01M370.6 152.2h.01M393.4 81.0h.01M374.0 143.4h.01M372.3 139.3h.01M382.3 148.2h.01M386.0 127.5h.01M387.5 100.3h.01M388.1 132.5h.01M374.6 146.0h.01M366.5 129.3h.01M382.7 135.1h.01M373.9 149.7h.01M391.4 82.2h.01M385.2 124.4h.01M368.7 146.3h.01M393.1 146.7h.01M382.2 155.0h.01M370.7 116.7h.01M381.5 148.6h.01M382.9 139.3h.01M377.8 159.3h.01M370.0 137.6h.01M386.1 151.1h.01M380.7 140.2h.01M381.5 136.9h.01M386.1 151.4h.01M386.6 114.6h.01M390.7 124.0h.01M371.4 148.4h.01M380.7 141.2h.01M381.9 127.3h.01M379.0 154.9h.01M371.9 147.3h.01M395.9 66.9h.01M386.7 113.4h.01M374.8 138.5h.01M382.1 149.1h.01M375.1 151.7h.01M373.1 149.8h.01M385.5 146.4h.01M383.2 118.4h.01M392.1 86.4h.01M381.4 154.5h.01M373.8 135.8h.01M374.9 151.8h.01M376.2 156.1h.01M370.6 125.6h.01M372.9 141.7h.01M388.2 120.7h.01M366.8 97.7h.01M377.3 156.6h.01M373.3 147.9h.01M378.8 155.5h.01M378.4 158.4h.01M370.1 150.9h.01M364.8 122.1h.01M375.1 153.6h.01M368.1 113.7h.01M374.8 144.7h.01M386.1 118.2h.01M375.5 154.9h.01M379.5 159.9h.01M381.2 154.1h.01M372.9 142.0h.01M370.9 123.6h.01M379.2 157.2h.01M375.3 139.7h.01M374.6 154.4h.01M374.3 157.8h.01M369.2 134.8h.01M380.2 155.1h.01M379.2 155.1h.01M384.0 139.8h.01M390.7 144.3h.01M378.8 160.3h.01M372.2 124.2h.01M374.7 135.7h.01M388.0 132.5h.01M385.2 118.3h.01M379.7 153.3h.01M384.6 145.2h.01M376.9 154.5h.01M372.9 125.3h.01M381.1 148.4h.01M365.9 92.0h.01M370.0 119.2h.01M374.3 149.0h.01M379.0 154.4h.01M365.8 111.2h.01M370.6 117.5h.01M368.7 129.3h.01M378.7 159.7h.01M381.0 157.7h.01M385.9 142.4h.01M390.3 96.5h.01M376.1 148.8h.01M380.9 152.3h.01M379.9 149.4h.01M373.9 146.9h.01M375.4 152.3h.01M388.1 106.8h.01M372.8 147.1h.01M377.4 159.0h.01M378.5 159.7h.01M378.7 156.3h.01M382.6 142.6h.01M382.3 154.2h.01M376.4 157.6h.01M380.6 152.9h.01M385.1 139.5h.01M372.7 123.0h.01M373.8 144.8h.01M364.0 153.2h.01M376.4 154.4h.01M374.3 137.0h.01M379.0 155.0h.01M382.7 130.9h.01M373.9 136.3h.01M372.5 148.6h.01M384.3 135.6h.01M370.9 146.3h.01M366.9 97.0h.01M369.9 144.9h.01M371.5 117.6h.01M376.9 154.6h.01M383.4 155.0h.01M380.5 153.1h.01M378.0 160.2h.01M376.9 154.2h.01M374.0 140.2h.01M375.9 149.7h.01M377.2 159.7h.01M385.0 120.9h.01M374.0 156.3h.01M384.7 139.8h.01M367.6 99.3h.01M389.5 125.3h.01M377.2 158.5h.01M388.9 108.5h.01M358.0 91.3h.01M378.8 156.1h.01M379.9 159.9h.01M385.4 117.4h.01M382.7 144.2h.01M382.8 138.8h.01M375.2 157.9h.01M394.8 82.8h.01M376.3 148.3h.01M376.3 149.5h.01M368.5 123.3h.01M377.6 160.0h.01M388.1 120.2h.01M375.7 153.2h.01M365.9 100.0h.01M377.0 159.5h.01M371.9 137.7h.01M376.7 159.1h.01M374.1 153.8h.01M361.8 138.1h.01M390.5 89.4h.01M365.1 122.0h.01M379.7 159.2h.01M397.4 117.4h.01M375.6 150.9h.01M383.9 139.5h.01M357.9 121.1h.01M383.2 154.4h.01M364.6 127.7h.01M375.5 152.5h.01M383.2 134.4h.01M389.7 141.3h.01M367.3 133.0h.01M383.6 151.6h.01M370.5 121.0h.01M377.2 155.8h.01M380.9 157.4h.01M375.0 146.5h.01M387.6 132.2h.01M384.1 148.6h.01M382.3 150.0h.01M374.3 150.1h.01M371.3 113.9h.01M388.4 144.4h.01M373.4 158.2h.01M380.8 151.9h.01M365.7 104.9h.01M382.2 157.4h.01M393.5 117.4h.01M372.9 127.9h.01M383.9 129.0h.01M366.2 148.6h.01M374.1 149.7h.01M381.6 146.8h.01M380.2 156.4h.01M375.6 153.0h.01M381.3 141.0h.01M390.5 125.4h.01M375.4 142.6h.01M389.2 132.3h.01M378.5 159.1h.01M384.1 144.7h.01M375.4 146.3h.01M370.0 147.0h.01M374.0 135.3h.01M381.6 134.8h.01M375.7 154.4h.01M372.0 125.6h.01M372.7 152.8h.01M378.4 160.3h.01M365.9 126.0h.01M389.5 127.8h.01M371.7 145.6h.01M385.7 136.6h.01M381.0 143.3h.01M372.5 150.3h.01M381.4 156.3h.01M377.3 157.3h.01M362.2 94.8h.01M379.1 154.1h.01M386.2 150.8h.01M395.8 118.5h.01M379.1 154.5h.01M376.2 154.1h.01M360.9 126.6h.01M375.0 141.2h.01M390.8 137.8h.01M390.2 131.7h.01M383.9 144.8h.01M391.2 65.8h.01M377.3 156.8h.01M378.5 159.0h.01M383.8 126.6h.01M377.1 155.7h.01M372.9 126.8h.01M377.1 158.9h.01M389.2 148.4h.01M371.8 122.5h.01M376.6 159.8h.01M391.3 147.8h.01M374.2 133.1h.01M380.8 147.7h.01M369.3 100.7h.01M362.7 128.9h.01M393.3 139.6h.01M375.6 147.0h.01M390.0 118.0h.01M386.5 144.1h.01M385.6 111.8h.01M372.0 136.9h.01M378.1 159.5h.01M376.2 159.9h.01M388.3 130.7h.01M381.0 142.3h.01M384.3 121.9h.01M376.1 158.9h.01M371.9 144.2h.01M384.1 139.8h.01M382.6 147.2h.01M391.7 148.6h.01M377.6 160.1h.01M369.7 149.7h.01M376.9 152.5h.01M366.0 118.0h.01M370.0 145.4h.01M374.0 131.2h.01M377.1 159.7h.01M391.6 98.2h.01M379.3 154.2h.01M374.9 150.9h.01M371.2 156.3h.01M375.2 151.4h.01M374.3 136.7h.01M372.7 155.2h.01M382.9 153.9h.01M379.3 152.8h.01M376.7 156.6h.01M371.3 148.3h.01M362.5 147.8h.01M374.0 133.5h.01M381.8 150.8h.01M380.2 155.0h.01M383.1 131.6h.01M384.5 120.5h.01M372.7 151.8h.01M384.8 110.6h.01M381.2 153.7h.01M380.0 154.1h.01M364.8 66.2h.01M379.8 150.6h.01M389.4 122.6h.01M376.7 152.0h.01M388.0 149.8h.01M379.9 156.9h.01M369.9 112.1h.01M388.4 145.8h.01M378.5 159.5h.01M373.6 139.4h.01M389.3 132.7h.01M378.8 157.0h.01M373.5 148.0h.01M375.0 148.7h.01M367.0 114.7h.01M374.9 140.4h.01M376.6 151.0h.01M385.0 125.0h.01M384.4 127.8h.01M385.0 118.8h.01M374.1 145.1h.01M382.6 149.3h.01M380.1 153.8h.01M373.6 155.4h.01M383.7 141.9h.01M363.3 101.8h.01M383.0 123.8h.01M375.2 154.5h.01M381.1 156.7h.01M370.2 143.7h.01M383.9 152.8h.01M367.0 111.7h.01M366.4 143.0h.01M374.3 145.1h.01M388.0 118.7h.01M379.1 157.0h.01M369.2 146.0h.01M374.7 146.0h.01M387.9 89.2h.01M362.9 150.1h.01M388.0 86.1h.01M376.7 159.2h.01M370.3 138.3h.01M380.0 145.5h.01M365.6 137.0h.01M371.4 121.2h.01M394.2 63.7h.01M373.1 138.5h.01M366.3 150.8h.01M365.2 119.6h.01M375.4 142.8h.01M374.8 153.5h.01M378.2 159.2h.01M385.2 139.2h.01M389.1 101.4h.01M377.0 158.5h.01M364.2 79.7h.01M375.8 148.7h.01M377.8 160.0h.01M383.1 146.4h.01M378.1 159.8h.01M384.5 123.3h.01M382.2 128.3h.01M379.3 155.1h.01M371.5 132.6h.01M379.7 150.6h.01M382.4 131.4h.01M374.9 137.1h.01M370.3 134.5h.01M383.4 145.4h.01M372.5 155.4h.01M371.4 141.1h.01M375.9 156.1h.01M380.5 148.2h.01M359.7 64.3h.01M381.3 137.8h.01M377.3 159.5h.01M386.1 155.7h.01M387.5 138.1h.01M380.6 152.5h.01M376.7 152.9h.01M374.6 149.0h.01M393.7 102.7h.01M378.9 160.4h.01M379.1 153.6h.01M368.9 149.7h.01M377.4 160.1h.01M382.9 124.7h.01M370.7 118.3h.01M385.0 157.4h.01M372.3 126.7h.01M389.7 153.9h.01M373.4 145.5h.01M373.6 144.0h.01M365.2 132.7h.01M380.8 140.2h.01M373.0 151.6h.01M367.3 137.2h.01M379.5 154.7h.01M384.5 115.2h.01M383.4 143.7h.01M366.1 105.2h.01M384.9 149.8h.01M378.6 156.7h.01M382.1 144.6h.01M378.2 159.8h.01M370.7 150.0h.01M389.2 144.7h.01M377.0 156.3h.01M371.3 140.9h.01M381.2 137.9h.01M371.4 119.4h.01M373.4 155.7h.01M371.6 118.0h.01M374.1 133.8h.01M375.2 155.3h.01M374.6 144.1h.01M378.7 155.7h.01M370.0 110.3h.01M372.2 142.9h.01M376.6 158.9h.01M374.9 151.0h.01M367.6 118.1h.01M388.1 137.3h.01M386.9 140.8h.01M368.7 131.7h.01M382.0 144.8h.01M380.3 145.8h.01M377.3 158.1h.01M375.7 142.7h.01M364.7 78.5h.01M380.6 144.7h.01M390.6 149.4h.01M371.3 140.8h.01M374.1 150.6h.01M379.4 159.4h.01M388.4 153.8h.01M376.0 155.2h.01M392.4 131.8h.01M385.8 121.2h.01M377.2 156.6h.01M383.5 140.9h.01M375.7 156.3h.01M385.1 139.9h.01M370.7 112.4h.01M374.9 140.0h.01M364.3 141.4h.01M396.2 63.0h.01M370.2 129.1h.01M368.0 109.5h.01M378.8 160.3h.01M387.7 99.0h.01M382.9 158.0h.01M385.9 131.0h.01M367.9 140.1h.01M377.1 157.3h.01M365.0 80.6h.01M385.9 126.8h.01M374.9 154.1h.01M378.2 160.1h.01M358.7 113.0h.01M370.7 138.7h.01M384.6 143.2h.01M379.5 156.6h.01M362.6 83.8h.01M362.2 149.4h.01M376.1 156.1h.01M377.4 160.0h.01M375.0 146.2h.01M383.2 141.7h.01M386.3 154.8h.01M375.5 158.8h.01M379.7 150.5h.01M383.1 125.4h.01M374.7 153.4h.01M383.7 142.0h.01M380.1 146.2h.01M375.9 155.9h.01M367.5 127.0h.01M372.1 135.9h.01M364.9 139.0h.01M373.5 157.7h.01M392.0 121.9h.01M378.5 157.6h.01M389.4 141.8h.01M381.4 140.0h.01M375.7 160.1h.01M381.5 159.2h.01M372.6 158.8h.01M365.0 106.5h.01M384.6 145.4h.01M378.6 156.3h.01M391.3 76.8h.01M375.6 145.8h.01M383.9 137.8h.01M365.3 132.5h.01M373.9 144.6h.01M374.4 159.7h.01M373.0 134.8h.01M373.7 136.7h.01M381.6 143.6h.01M383.4 149.4h.01M373.7 142.3h.01M374.8 142.7h.01M390.6 151.3h.01M375.4 143.3h.01M366.2 88.2h.01M377.8 160.2h.01M370.8 135.9h.01M371.4 113.9h.01M374.5 136.5h.01M376.2 149.6h.01M377.6 159.3h.01M366.8 131.6h.01M372.7 134.3h.01M382.7 123.1h.01M380.8 150.5h.01M386.5 115.9h.01M391.8 86.7h.01M379.5 156.8h.01M368.5 96.1h.01M381.1 156.1h.01M375.3 147.4h.01M376.4 154.9h.01M380.3 160.0h.01M375.1 146.5h.01M374.2 148.7h.01M382.2 131.6h.01M380.5 156.3h.01M386.5 104.7h.01M366.9 134.1h.01M381.7 148.0h.01M382.9 150.1h.01M370.9 126.4h.01M374.0 153.3h.01M387.1 113.1h.01M377.3 156.9h.01M384.4 141.0h.01M387.9 118.3h.01M380.3 158.4h.01M376.8 154.5h.01M378.6 159.1h.01M383.2 145.8h.01M383.9 143.7h.01M384.3 151.2h.01M375.1 139.1h.01M378.6 156.3h.01M370.4 137.2h.01M379.1 160.3h.01M386.0 118.6h.01M374.5 139.3h.01M373.6 139.7h.01M371.3 149.4h.01M387.2 154.3h.01M391.5 121.6h.01M373.7 149.7h.01M377.8 159.6h.01M377.5 158.6h.01M371.1 133.7h.01M373.9 144.2h.01M375.5 159.1h.01M374.1 150.1h.01M393.6 112.8h.01M367.9 114.6h.01M381.6 145.4h.01M376.2 154.4h.01M374.2 144.5h.01M389.4 86.3h.01M370.6 116.3h.01M379.8 154.6h.01M385.5 138.8h.01M371.7 141.0h.01M369.8 138.4h.01M377.1 158.6h.01M374.1 142.5h.01M383.0 149.4h.01M362.1 117.7h.01M389.8 149.9h.01M379.2 160.0h.01M379.4 157.1h.01M390.4 129.3h.01M390.7 103.2h.01M382.1 151.0h.01M373.6 127.2h.01M384.8 144.4h.01M372.5 131.0h.01M378.8 160.2h.01M376.0 145.2h.01M379.5 153.7h.01M391.9 107.2h.01M385.0 141.6h.01M374.6 143.4h.01M390.9 137.3h.01M373.5 132.7h.01M375.5 154.7h.01M367.7 122.8h.01M384.4 134.2h.01M373.8 154.5h.01M380.0 144.3h.01M389.5 78.7h.01M363.6 119.9h.01M375.4 153.8h.01M380.4 142.5h.01M373.0 158.3h.01M380.3 156.0h.01M389.8 119.8h.01M379.8 156.3h.01M379.0 154.0h.01M375.2 157.3h.01M381.8 152.2h.01M392.0 72.5h.01M382.6 152.7h.01M372.2 144.3h.01M385.8 125.9h.01M371.9 138.3h.01M385.9 108.7h.01M369.6 116.7h.01M387.4 114.5h.01M379.6 153.8h.01M383.4 133.6h.01M381.9 156.7h.01M370.9 123.4h.01M377.4 158.0h.01M387.6 127.8h.01M384.2 135.4h.01M389.2 113.7h.01M389.8 110.9h.01M385.7 127.9h.01M378.6 160.3h.01M373.5 144.4h.01M367.1 134.0h.01M379.1 156.9h.01M375.5 152.3h.01M380.9 150.3h.01M370.0 122.1h.01M386.7 109.0h.01M378.1 159.7h.01M377.1 157.7h.01M372.3 151.0h.01M376.5 151.3h.01M382.7 135.9h.01M364.6 68.3h.01M383.4 129.6h.01M378.3 159.6h.01M381.7 155.9h.01M384.3 124.7h.01M380.4 158.8h.01M382.5 151.6h.01M372.3 130.3h.01M374.0 131.4h.01M392.8 132.9h.01M371.7 144.7h.01M386.4 126.5h.01M375.6 150.7h.01M371.5 109.9h.01M372.9 129.5h.01M374.7 139.1h.01M371.3 149.0h.01M368.8 126.4h.01M374.5 155.0h.01M374.5 153.5h.01M376.4 158.3h.01M380.6 158.1h.01M366.9 144.2h.01M380.1 150.3h.01M396.6 132.3h.01M381.6 135.6h.01M368.8 121.7h.01M378.5 159.0h.01M379.8 143.5h.01M380.0 159.1h.01M370.9 141.0h.01M375.9 153.2h.01M377.1 157.3h.01M371.2 129.0h.01M379.2 155.3h.01M386.1 150.5h.01M370.2 94.5h.01M374.4 136.6h.01M371.5 139.2h.01M381.9 155.2h.01M379.9 147.8h.01M373.1 156.4h.01M389.1 108.2h.01M375.4 140.0h.01M364.0 150.4h.01M374.0 150.6h.01M374.1 156.0h.01M381.5 138.6h.01M378.7 157.2h.01M380.9 146.8h.01M369.2 137.0h.01M374.3 144.9h.01M370.8 151.0h.01M391.9 123.7h.01M375.7 154.4h.01M369.7 98.1h.01M380.6 142.3h.01M374.7 145.4h.01M380.1 151.0h.01M359.9 116.2h.01M384.7 122.2h.01M379.2 154.8h.01M377.1 159.3h.01M364.6 71.5h.01M383.7 139.6h.01M384.5 134.9h.01M368.9 128.0h.01M387.2 141.3h.01M373.9 158.0h.01M368.1 135.6h.01M380.3 154.1h.01M366.8 140.9h.01M385.3 129.1h.01M375.5 151.5h.01M382.4 154.7h.01M376.3 152.7h.01M373.5 146.6h.01M373.2 152.0h.01M380.0 148.8h.01M383.5 141.8h.01M377.8 159.9h.01M372.0 144.3h.01M389.6 134.1h.01M394.6 103.4h.01M372.6 143.4h.01M388.0 130.3h.01M385.2 134.3h.01M369.8 117.6h.01M381.1 156.6h.01M377.9 159.2h.01M381.9 139.9h.01M373.2 135.4h.01M385.7 133.5h.01M393.5 135.5h.01M372.1 115.5h.01M381.4 146.5h.01M373.0 133.3h.01M375.7 151.9h.01M392.3 66.1h.01M379.2 153.9h.01M379.2 157.3h.01M370.6 130.7h.01M382.1 158.0h.01M381.5 156.8h.01M388.3 137.9h.01M378.4 158.1h.01M380.7 152.8h.01M394.7 145.9h.01M363.6 115.3h.01M361.4 129.0h.01M383.4 142.8h.01M379.1 160.4h.01M383.1 151.0h.01M376.8 159.2h.01M370.0 122.7h.01M371.9 128.6h.01M384.7 150.4h.01M376.7 150.0h.01M363.6 98.8h.01M384.5 131.8h.01M385.7 116.5h.01M373.5 143.1h.01M373.7 137.8h.01M383.9 149.8h.01M371.7 133.3h.01M377.5 160.0h.01M369.4 107.9h.01M385.6 118.6h.01M360.2 148.3h.01M369.5 141.9h.01M375.6 149.3h.01M381.8 136.3h.01M381.9 150.4h.01M373.4 154.0h.01M373.7 149.2h.01M374.9 134.1h.01M365.5 137.4h.01M377.5 160.1h.01M378.9 157.6h.01M382.5 157.0h.01M375.8 151.8h.01M381.0 156.4h.01M375.5 159.5h.01M378.7 156.2h.01M365.2 112.4h.01M373.9 144.5h.01M388.8 151.6h.01M374.7 147.0h.01M375.5 155.5h.01M376.0 157.5h.01M376.3 154.1h.01M387.9 113.1h.01M381.8 146.2h.01M372.1 116.5h.01M385.7 144.7h.01M369.9 153.8h.01M372.8 144.4h.01M376.6 156.9h.01M374.8 148.3h.01M370.4 139.6h.01M381.1 153.7h.01M363.0 121.6h.01M394.1 130.1h.01M380.1 150.2h.01M379.5 156.3h.01M378.1 160.2h.01M379.7 156.4h.01M373.4 130.1h.01M376.9 159.3h.01M373.3 158.1h.01M381.3 147.2h.01M380.1 159.3h.01M381.3 150.5h.01M374.9 148.3h.01M376.7 152.7h.01M372.9 138.2h.01M373.1 142.0h.01M368.4 130.4h.01M380.4 155.3h.01M389.8 115.7h.01M373.2 155.3h.01M373.1 151.2h.01M392.1 123.6h.01M368.0 93.1h.01M374.8 152.1h.01M361.7 93.9h.01M392.8 93.5h.01M381.2 154.9h.01M384.3 150.2h.01M384.6 142.8h.01M391.6 106.6h.01M362.0 128.3h.01M371.4 135.8h.01M366.6 96.1h.01M380.0 149.2h.01M382.2 158.4h.01M370.6 137.6h.01M367.0 137.6h.01M378.9 152.8h.01M375.4 143.7h.01M380.0 145.6h.01M385.5 120.0h.01M374.8 151.7h.01M377.7 158.6h.01M377.3 158.4h.01M373.1 139.0h.01M370.3 125.5h.01M389.6 155.2h.01M389.9 133.0h.01M386.1 138.3h.01M375.9 157.6h.01M397.8 90.5h.01M366.2 104.8h.01M367.8 111.1h.01M372.4 121.8h.01M377.4 156.3h.01M371.8 137.3h.01M377.5 158.2h.01M375.6 157.4h.01M368.9 119.8h.01M370.0 126.5h.01M379.6 158.6h.01M374.7 148.7h.01M379.2 156.0h.01M379.7 147.6h.01M387.4 111.6h.01M385.0 131.2h.01M379.9 148.2h.01M384.1 140.2h.01M383.7 155.9h.01M371.6 141.9h.01M370.3 151.3h.01M368.1 127.6h.01M363.2 103.3h.01M383.8 146.2h.01M373.0 132.6h.01M373.6 131.9h.01M380.5 154.3h.01M372.0 155.2h.01M373.6 142.7h.01M379.0 159.4h.01M376.0 149.1h.01M382.0 136.8h.01M385.6 152.2h.01M382.4 141.0h.01M385.2 110.7h.01M388.2 120.9h.01M372.4 136.5h.01M381.0 153.5h.01M374.5 144.9h.01M383.7 156.0h.01M364.0 90.0h.01M386.3 133.8h.01M371.0 119.9h.01M369.9 141.2h.01M389.1 106.3h.01M367.4 110.3h.01M378.7 159.6h.01M381.6 139.2h.01M383.3 118.5h.01M378.2 160.3h.01M371.0 139.7h.01M378.8 157.8h.01M376.9 160.2h.01M362.9 123.4h.01M383.8 138.4h.01M371.6 144.5h.01M388.1 135.8h.01M381.7 144.8h.01M370.6 131.4h.01M381.6 157.8h.01M387.3 130.2h.01M394.5 91.9h.01M385.3 106.8h.01M374.3 139.0h.01M373.7 129.8h.01M374.4 159.2h.01M383.0 136.4h.01M384.9 133.1h.01M386.0 128.4h.01M386.0 144.6h.01M380.1 154.8h.01M385.7 155.3h.01M377.4 159.4h.01M375.7 153.2h.01M369.9 150.8h.01M380.9 157.5h.01M373.9 147.2h.01M375.8 152.2h.01M371.6 148.5h.01M383.7 132.5h.01M377.6 159.9h.01M377.7 158.1h.01M382.6 144.2h.01M371.6 148.0h.01M370.9 128.5h.01M373.0 148.5h.01M377.3 158.5h.01M374.7 154.1h.01M378.3 160.3h.01M380.8 142.1h.01M386.6 136.5h.01M385.4 139.1h.01M370.6 133.6h.01M385.8 133.8h.01M373.2 134.1h.01M381.5 150.2h.01M381.2 154.3h.01M382.9 131.0h.01M374.9 149.8h.01M385.1 121.5h.01M376.8 157.8h.01M376.9 155.1h.01M379.9 156.7h.01M376.2 154.3h.01M384.2 149.4h.01M379.0 156.8h.01M364.7 141.6h.01M383.6 118.9h.01M361.9 111.6h.01M379.1 156.3h.01M378.2 160.1h.01M390.4 136.2h.01M377.4 157.4h.01M370.1 140.9h.01M374.7 150.6h.01M379.2 152.5h.01M373.1 147.4h.01M371.3 111.0h.01M390.2 99.6h.01M374.4 156.2h.01M380.5 143.7h.01M375.5 142.9h.01M377.0 156.2h.01M383.0 124.5h.01M391.7 140.3h.01M378.6 159.5h.01M389.2 109.9h.01M369.3 103.6h.01M385.8 132.8h.01M375.4 141.9h.01M368.4 113.3h.01M386.2 151.9h.01M391.8 139.3h.01M358.3 88.8h.01M375.3 154.1h.01M375.2 147.1h.01M381.3 154.1h.01M376.7 159.5h.01M375.6 153.1h.01M383.7 121.2h.01M380.0 152.5h.01M371.5 111.8h.01M377.4 159.8h.01M360.8 141.2h.01M391.6 98.3h.01M370.1 124.2h.01M377.9 159.4h.01M371.1 139.7h.01M360.2 77.6h.01M387.2 134.6h.01M379.3 153.8h.01M366.2 151.7h.01M368.8 141.5h.01M381.1 143.4h.01M381.5 152.5h.01M371.3 127.5h.01M372.9 133.5h.01M393.7 149.5h.01M380.3 153.8h.01M383.4 135.8h.01M374.9 154.8h.01M379.6 156.6h.01M379.4 158.5h.01M381.5 144.3h.01M383.3 139.6h.01M372.1 137.2h.01M369.9 134.9h.01M383.5 144.8h.01M379.8 155.5h.01M371.9 145.4h.01M375.9 155.2h.01M379.7 148.6h.01M382.7 144.5h.01M379.3 158.0h.01M375.6 154.0h.01M368.8 148.9h.01M379.1 157.7h.01M370.4 101.5h.01M385.5 134.9h.01M381.5 154.2h.01M383.8 146.0h.01M367.6 107.5h.01M366.2 150.1h.01M381.1 147.9h.01M382.7 132.8h.01M365.6 105.1h.01M381.9 133.2h.01M380.1 149.9h.01M393.0 113.8h.01M381.2 145.9h.01M369.3 139.8h.01M381.3 147.0h.01M366.6 129.7h.01M374.0 134.8h.01M375.7 147.5h.01M378.9 158.8h.01M389.9 122.4h.01M368.6 123.6h.01M385.2 132.7h.01M366.8 153.1h.01M371.9 143.5h.01M373.7 128.2h.01M373.8 147.3h.01M374.0 154.0h.01M368.2 154.5h.01M375.2 150.8h.01M376.3 155.3h.01M373.4 154.7h.01M375.7 148.5h.01M375.0 151.3h.01M383.6 148.1h.01M374.2 148.3h.01M379.7 157.7h.01M383.6 135.7h.01M377.0 155.7h.01M391.8 102.9h.01M374.7 150.6h.01M377.4 157.4h.01M386.6 132.5h.01M359.5 67.7h.01M375.7 148.9h.01M387.4 113.5h.01M363.1 130.2h.01M376.7 152.6h.01M377.2 156.1h.01M386.0 143.1h.01M383.3 131.6h.01M385.2 151.6h.01M374.7 142.3h.01M358.5 98.7h.01M377.3 159.0h.01M370.6 125.8h.01M378.3 160.2h.01M378.5 159.6h.01M371.7 126.3h.01M370.9 152.2h.01M379.7 149.3h.01M389.7 137.0h.01M377.5 159.0h.01M372.9 134.9h.01M382.2 157.7h.01M374.2 141.0h.01M369.8 126.9h.01M391.0 149.6h.01M372.4 127.7h.01M380.1 143.9h.01M392.3 104.9h.01M365.9 96.8h.01M368.9 138.5h.01M371.4 130.0h.01M378.8 159.7h.01M374.8 156.6h.01M382.6 141.3h.01M381.6 138.5h.01M367.7 103.4h.01M381.5 157.1h.01M369.4 103.7h.01M387.6 119.7h.01M365.7 133.3h.01M380.0 153.5h.01M381.5 143.2h.01M376.3 156.6h.01M395.3 81.2h.01M370.3 105.1h.01M373.2 143.8h.01M390.5 141.7h.01M383.6 130.3h.01M363.1 121.0h.01M382.4 144.7h.01M370.9 148.1h.01M375.7 150.4h.01M378.4 159.3h.01M380.6 142.5h.01M368.4 143.7h.01M378.7 157.4h.01M375.1 142.4h.01M376.5 157.8h.01M376.4 151.9h.01M376.4 156.8h.01M371.1 129.6h.01M371.5 142.6h.01M388.4 90.0h.01M388.4 132.3h.01M380.0 156.3h.01M382.8 149.3h.01M366.0 109.8h.01M384.9 110.6h.01M383.2 131.7h.01M384.9 118.1h.01M384.8 127.3h.01M379.9 146.9h.01M361.2 149.3h.01M369.1 148.8h.01M371.8 141.1h.01M376.1 156.5h.01M389.0 152.0h.01M370.8 118.1h.01M360.3 110.3h.01M359.8 141.0h.01M379.7 158.9h.01M380.7 157.6h.01M372.7 132.6h.01M376.1 160.1h.01M377.6 159.6h.01M386.1 135.0h.01M382.4 153.9h.01M367.0 136.7h.01M374.4 142.6h.01M376.7 150.8h.01M361.8 125.2h.01M387.7 125.4h.01M374.2 139.5h.01M378.5 159.8h.01M361.5 124.5h.01M376.5 154.6h.01M383.3 151.3h.01M380.2 148.9h.01M374.3 155.9h.01M376.1 154.2h.01M375.5 153.9h.01M378.9 155.2h.01M365.6 136.8h.01M386.7 126.3h.01M380.1 154.0h.01M366.0 141.7h.01M378.8 155.7h.01M373.5 155.1h.01M394.9 114.2h.01M380.5 151.4h.01M378.4 159.0h.01M383.1 142.4h.01M377.4 156.9h.01M359.5 122.1h.01M372.5 144.7h.01M380.9 144.1h.01M374.9 152.9h.01M388.1 146.4h.01M380.6 148.2h.01M375.6 150.8h.01M372.4 151.3h.01M367.2 137.9h.01M375.1 140.0h.01M377.2 159.3h.01M386.1 114.0h.01M382.1 150.1h.01M379.7 159.3h.01M376.1 152.5h.01M385.3 131.0h.01M375.8 146.4h.01M384.2 138.0h.01M386.8 103.7h.01M366.2 68.1h.01M375.6 152.5h.01M386.5 148.6h.01M361.9 123.7h.01M359.5 130.9h.01M369.3 119.3h.01M379.5 154.8h.01M375.1 149.2h.01M376.8 158.9h.01M371.7 114.9h.01M364.8 117.3h.01M372.7 145.2h.01M388.2 106.0h.01M379.6 151.3h.01M379.4 156.7h.01M377.7 159.3h.01M382.7 142.6h.01M379.2 157.6h.01M384.9 154.0h.01M379.5 153.8h.01M379.6 154.5h.01M377.4 156.0h.01M379.0 159.1h.01M379.7 148.2h.01M377.3 156.3h.01M375.8 155.3h.01M373.3 125.2h.01M375.9 149.5h.01M381.2 146.7h.01M368.8 145.1h.01M374.1 131.8h.01M374.2 143.4h.01M362.0 152.5h.01M371.6 150.2h.01M367.6 149.2h.01M372.8 142.0h.01M366.9 132.8h.01M382.3 134.7h.01M379.0 154.5h.01M379.2 157.5h.01M381.9 140.5h.01M374.0 154.9h.01M372.3 153.4h.01M378.9 156.2h.01M382.9 131.5h.01M379.7 156.0h.01M381.6 153.5h.01M373.8 152.3h.01M388.0 137.0h.01M375.2 148.5h.01M364.1 103.5h.01M396.6 134.0h.01M372.6 134.2h.01M365.3 150.9h.01M379.4 150.6h.01M374.9 149.7h.01M380.2 144.5h.01M389.4 90.8h.01M384.8 118.6h.01M373.8 131.1h.01M388.5 124.0h.01M373.8 146.9h.01M371.5 116.9h.01M375.4 154.7h.01M396.2 137.9h.01M366.8 117.8h.01M377.0 155.4h.01M373.0 147.1h.01M368.8 146.1h.01M373.8 149.7h.01M378.8 157.0h.01M388.4 149.5h.01M381.8 140.1h.01M382.0 154.7h.01M380.7 148.6h.01M381.2 148.2h.01M380.4 154.7h.01M380.5 146.1h.01M381.5 145.3h.01M376.6 158.1h.01M376.7 160.1h.01M363.6 118.7h.01M389.4 145.0h.01M383.2 142.7h.01M378.6 159.7h.01M387.1 98.2h.01M375.0 154.4h.01M376.3 151.8h.01M372.7 146.7h.01M369.2 106.1h.01M367.4 156.8h.01M371.7 149.1h.01M383.2 159.9h.01M362.9 137.1h.01M382.7 137.7h.01M381.9 155.2h.01M379.5 155.2h.01M381.0 156.8h.01M376.6 151.2h.01M389.0 103.0h.01M370.3 125.3h.01M368.0 95.7h.01M384.2 123.0h.01M368.0 143.4h.01M375.1 152.4h.01M379.5 155.9h.01M375.3 149.3h.01M369.7 95.2h.01M382.4 150.1h.01M373.8 129.8h.01M373.4 139.0h.01M382.9 148.8h.01M376.1 159.3h.01M387.3 132.2h.01M372.9 150.8h.01M377.2 155.7h.01M365.2 100.0h.01M369.1 151.3h.01M370.9 135.2h.01M376.0 151.3h.01M376.7 155.0h.01M379.6 151.4h.01M377.1 157.6h.01M375.0 147.7h.01M375.7 159.5h.01M396.2 117.8h.01M363.8 133.1h.01M375.6 144.1h.01M380.7 142.4h.01M373.8 134.1h.01M386.7 155.5h.01M387.6 133.2h.01M372.6 156.6h.01M381.7 151.4h.01M371.2 159.1h.01M364.8 137.4h.01M381.0 136.7h.01M374.3 155.5h.01M390.7 133.1h.01M388.0 115.2h.01M366.2 154.6h.01M373.9 150.2h.01M383.3 141.2h.01M381.0 151.3h.01M376.6 154.2h.01M383.1 144.8h.01M384.8 140.5h.01M371.1 141.6h.01M371.9 128.0h.01M384.1 130.2h.01M383.2 135.5h.01M370.2 137.9h.01M381.0 137.5h.01M371.7 144.5h.01M386.3 150.7h.01M377.5 159.1h.01M381.3 142.4h.01M379.3 157.2h.01M383.0 141.9h.01M374.3 139.2h.01M368.2 152.0h.01M379.7 149.6h.01M374.7 151.6h.01M381.2 156.8h.01M385.3 111.3h.01M379.2 155.5h.01M392.4 127.9h.01M386.5 155.0h.01M383.4 131.5h.01M375.8 154.0h.01M378.9 159.8h.01M377.2 156.6h.01M377.0 154.8h.01M368.5 117.0h.01M378.5 159.8h.01M374.7 158.6h.01M383.5 130.5h.01M367.8 141.7h.01M382.6 130.0h.01M366.1 145.4h.01M375.7 151.9h.01M364.0 106.0h.01M372.9 147.2h.01M379.2 157.5h.01M365.5 140.6h.01M379.5 155.7h.01M387.4 153.6h.01M372.3 144.1h.01M382.1 159.0h.01M384.4 133.3h.01M374.8 155.7h.01M375.1 141.9h.01M373.6 132.8h.01M379.1 160.2h.01M388.7 144.5h.01M371.3 131.1h.01M379.4 160.1h.01M381.9 154.0h.01M377.7 158.0h.01M375.5 156.8h.01M389.7 119.8h.01M366.3 155.3h.01M365.1 128.8h.01M377.3 157.9h.01M396.2 127.2h.01M374.0 154.2h.01M372.2 128.1h.01M368.7 141.8h.01M375.5 157.1h.01M389.9 97.6h.01M372.3 149.9h.01M377.3 160.0h.01M383.7 136.8h.01M387.5 126.8h.01M370.6 137.9h.01M377.1 155.1h.01M359.9 100.1h.01M393.8 143.3h.01M373.6 155.3h.01M374.2 137.6h.01M372.1 121.5h.01M390.4 112.9h.01M376.0 148.3h.01M382.8 143.0h.01M374.4 153.5h.01M380.3 151.0h.01M367.2 139.0h.01M389.2 139.2h.01M380.5 145.1h.01M372.2 123.9h.01M373.3 157.0h.01M377.6 159.1h.01M374.7 152.2h.01M377.7 159.5h.01M381.6 155.1h.01M376.3 152.7h.01M379.3 153.4h.01M388.0 134.2h.01M376.5 159.0h.01M378.3 159.9h.01M380.9 155.7h.01M382.6 148.6h.01M372.5 135.6h.01M375.1 159.1h.01M380.0 153.5h.01M382.8 156.8h.01M384.6 141.6h.01M382.7 134.9h.01M373.7 139.8h.01M375.9 156.6h.01M375.3 146.1h.01M374.5 148.4h.01M378.4 158.9h.01M380.8 147.9h.01M376.9 157.8h.01M388.7 138.7h.01M378.6 155.8h.01M385.6 138.2h.01M359.4 139.6h.01M381.1 152.0h.01M389.2 120.9h.01M387.4 150.9h.01M371.3 113.2h.01M367.9 148.7h.01M384.7 144.3h.01M372.1 136.7h.01M389.7 154.5h.01M382.1 135.1h.01M369.7 132.6h.01M374.5 142.2h.01M381.6 154.2h.01M373.8 144.2h.01M386.8 146.6h.01M390.4 108.1h.01M377.5 159.1h.01M392.0 78.4h.01M379.9 157.2h.01M389.9 135.8h.01M381.2 154.9h.01M363.1 106.4h.01M374.6 158.7h.01M376.1 151.8h.01M361.1 103.4h.01M383.5 149.4h.01M381.8 140.1h.01M367.3 132.7h.01M381.1 155.9h.01M382.4 132.4h.01M375.0 139.4h.01M376.5 150.7h.01M374.5 150.3h.01M369.7 133.5h.01M377.8 158.7h.01M384.1 147.7h.01M379.2 154.2h.01M375.6 145.4h.01M389.9 136.8h.01M369.4 152.5h.01M384.4 117.2h.01M379.2 156.7h.01M374.8 152.7h.01M377.9 159.9h.01M368.0 122.7h.01M381.8 154.7h.01M377.6 159.9h.01M369.9 140.4h.01M386.8 89.2h.01M376.6 151.8h.01M378.2 158.2h.01M372.0 122.7h.01M367.0 113.0h.01M373.6 156.0h.01M382.9 134.3h.01M361.0 122.2h.01M363.9 72.0h.01M382.8 145.9h.01M379.8 149.2h.01M380.8 136.3h.01M387.3 119.8h.01M379.0 160.1h.01M381.9 153.0h.01M380.9 150.6h.01M379.6 155.0h.01M377.1 155.6h.01M378.2 158.7h.01M374.5 147.4h.01M368.2 136.9h.01M380.5 154.6h.01M372.6 153.5h.01M381.9 152.0h.01M362.0 104.9h.01M383.4 145.5h.01M380.2 154.8h.01M367.6 156.0h.01M376.2 160.3h.01M371.2 150.0h.01M368.3 119.6h.01M372.5 152.2h.01M380.4 156.3h.01M373.1 135.2h.01M373.5 131.2h.01M381.6 140.3h.01M372.5 154.5h.01M376.2 155.5h.01M362.8 93.5h.01M376.2 150.8h.01M382.8 152.5h.01M378.6 158.7h.01M382.5 145.2h.01M371.1 138.8h.01M387.8 137.5h.01M375.6 149.5h.01M383.3 132.0h.01M387.4 139.4h.01M375.5 147.2h.01M371.7 155.6h.01M378.4 158.0h.01M383.3 135.9h.01M391.5 91.2h.01M380.6 152.3h.01M379.7 150.2h.01M374.5 154.0h.01M376.0 158.4h.01M380.9 156.1h.01M365.2 118.6h.01M369.0 109.4h.01M377.4 156.8h.01M375.0 146.0h.01M370.2 142.9h.01M387.6 152.9h.01M380.8 156.3h.01M376.0 145.1h.01M396.5 86.3h.01M387.5 117.0h.01M370.4 140.4h.01M388.9 122.5h.01M380.2 151.4h.01M375.5 149.0h.01M361.5 147.6h.01M375.1 140.3h.01M373.3 134.2h.01M390.4 137.0h.01M379.5 156.5h.01M369.0 109.5h.01M374.0 139.0h.01M376.7 153.0h.01M376.2 153.6h.01M369.1 106.0h.01M374.6 152.1h.01M380.3 152.2h.01M389.2 142.3h.01M374.0 144.5h.01M393.7 148.3h.01M384.2 151.5h.01M377.3 157.8h.01M392.4 96.2h.01M375.2 157.4h.01M375.6 156.4h.01M374.4 146.5h.01M382.3 143.4h.01M378.4 159.3h.01M362.9 101.6h.01M372.6 157.5h.01M384.7 142.4h.01M371.5 150.7h.01M378.4 160.2h.01M366.4 84.7h.01M378.7 159.8h.01M387.3 114.3h.01M378.9 156.7h.01M384.6 143.1h.01M378.7 159.7h.01M375.2 149.7h.01M379.6 158.2h.01M391.5 86.0h.01M381.2 138.5h.01M370.7 137.3h.01M391.3 131.7h.01M381.0 154.2h.01M375.7 144.1h.01M372.0 152.9h.01M385.6 121.7h.01M379.0 158.0h.01M371.2 126.9h.01M385.5 151.9h.01M381.5 135.3h.01M384.4 133.3h.01M394.7 138.6h.01M377.3 159.9h.01M381.4 142.3h.01M385.1 145.1h.01M374.6 153.8h.01M365.4 90.9h.01M382.1 147.5h.01M372.5 127.4h.01M372.6 145.7h.01M380.4 157.7h.01M370.0 125.0h.01M373.6 144.1h.01M380.3 149.4h.01M379.7 154.7h.01M381.4 159.0h.01M385.9 134.0h.01M379.6 154.6h.01M389.8 138.0h.01M366.0 136.8h.01M391.0 125.8h.01M375.3 155.8h.01M380.4 157.1h.01M382.5 140.5h.01M388.5 127.8h.01M382.3 143.8h.01M374.8 151.3h.01M371.8 116.2h.01M384.9 128.8h.01M378.4 157.5h.01M376.4 157.6h.01M379.8 151.2h.01M377.7 159.8h.01M371.2 144.8h.01M385.1 127.8h.01M371.0 152.6h.01M390.5 71.3h.01M378.3 159.3h.01M373.8 145.3h.01M375.5 146.7h.01M386.5 133.0h.01M363.1 145.5h.01M383.7 144.4h.01M383.5 155.8h.01M374.9 152.4h.01M362.6 80.9h.01M363.0 83.3h.01M378.5 159.0h.01M376.9 159.5h.01M394.7 126.7h.01M372.3 125.5h.01M370.3 151.8h.01M378.2 158.8h.01M381.8 151.5h.01M374.2 157.2h.01M390.1 114.4h.01M383.6 139.6h.01M374.4 136.1h.01M380.6 158.2h.01M394.6 88.6h.01M387.5 121.5h.01M379.7 153.0h.01M373.6 147.7h.01M381.2 138.1h.01M377.7 160.0h.01M382.6 141.9h.01M381.4 148.2h.01M371.0 149.5h.01M367.4 97.1h.01M367.6 122.8h.01M378.9 156.4h.01M381.5 156.6h.01M374.4 152.3h.01M370.2 148.2h.01M372.7 126.8h.01M377.1 156.5h.01M375.2 155.1h.01M385.9 136.8h.01M373.0 143.5h.01M369.8 122.1h.01M385.6 110.2h.01M387.8 116.6h.01M377.3 157.7h.01M366.9 131.2h.01M383.8 151.7h.01M373.3 152.9h.01M378.3 159.9h.01M380.8 144.0h.01M379.5 149.8h.01M370.0 107.8h.01M374.0 141.9h.01M390.2 143.0h.01M373.0 140.0h.01M373.7 156.4h.01M383.3 149.5h.01M383.4 128.0h.01M392.2 124.3h.01M372.0 129.7h.01M388.3 136.2h.01M394.4 114.2h.01M374.2 145.9h.01M376.0 146.6h.01M379.5 152.4h.01M389.8 156.0h.01M375.8 147.4h.01M382.8 149.3h.01M361.2 129.1h.01M378.7 158.5h.01M372.9 139.6h.01M372.8 149.4h.01M368.6 140.9h.01M378.4 160.4h.01M391.3 127.6h.01M368.0 106.3h.01M380.6 150.3h.01M379.3 152.4h.01M385.5 128.5h.01M377.5 159.7h.01M377.3 158.6h.01M384.1 125.0h.01M380.0 150.9h.01M381.9 140.1h.01M373.2 140.3h.01M371.8 139.4h.01M376.4 160.0h.01M383.2 128.1h.01M379.7 157.0h.01M374.9 154.5h.01M382.6 138.4h.01M393.5 39.5h.01M369.8 113.5h.01M376.3 157.3h.01M378.7 160.0h.01M365.7 123.2h.01M372.6 120.1h.01M379.3 159.8h.01M371.2 130.8h.01M385.5 114.9h.01M376.9 152.1h.01M373.1 127.6h.01M370.7 114.9h.01M372.5 146.1h.01M382.4 150.4h.01M377.0 154.7h.01M369.0 155.9h.01M376.3 156.2h.01M370.5 137.9h.01M369.7 96.3h.01M381.3 147.0h.01M381.0 140.6h.01M370.9 146.0h.01M385.8 143.3h.01M382.6 141.0h.01M381.9 138.6h.01M364.2 108.3h.01M375.3 146.0h.01M372.7 152.7h.01M381.1 146.9h.01M389.7 110.7h.01M375.4 149.6h.01M384.5 138.8h.01M379.3 160.2h.01M382.9 127.1h.01M380.0 149.2h.01M378.2 159.7h.01M388.4 116.8h.01M371.4 142.6h.01M385.0 140.7h.01M384.9 130.6h.01M378.7 155.2h.01M381.7 156.8h.01M375.0 151.4h.01M370.7 111.8h.01M377.6 159.4h.01M384.9 148.8h.01M371.3 125.4h.01M376.0 151.9h.01M376.0 147.0h.01M382.6 133.3h.01M379.2 152.6h.01M375.4 157.0h.01M375.0 150.8h.01M378.6 158.5h.01M369.4 118.9h.01M369.3 144.6h.01M380.5 154.7h.01M389.3 142.6h.01M380.1 148.0h.01M380.7 144.8h.01M375.4 150.4h.01M370.8 143.9h.01M392.5 82.3h.01M365.7 120.4h.01M382.6 140.2h.01M369.2 126.4h.01M387.6 116.3h.01M377.2 158.0h.01M380.3 146.9h.01M381.7 149.9h.01M377.1 158.0h.01M363.5 108.4h.01M383.9 148.8h.01M375.5 145.8h.01M372.7 134.5h.01M380.9 146.9h.01M363.7 120.6h.01M382.3 151.9h.01M377.3 160.0h.01M362.7 116.5h.01M376.6 157.0h.01M370.0 150.9h.01M389.7 147.6h.01M375.9 155.2h.01M376.3 156.2h.01M384.7 130.4h.01M385.2 143.6h.01M389.9 95.0h.01M376.5 153.2h.01M360.6 142.0h.01M382.5 138.4h.01M374.4 151.1h.01M383.4 139.0h.01M396.5 67.0h.01M381.8 152.1h.01M381.6 135.6h.01M373.0 136.1h.01M375.5 151.2h.01M385.9 133.6h.01M382.0 134.3h.01M376.0 155.4h.01M373.5 137.6h.01M374.5 151.8h.01M369.3 149.8h.01M376.2 158.5h.01M381.9 157.5h.01M384.0 119.3h.01M374.6 153.0h.01M373.2 152.5h.01M374.5 146.1h.01M381.9 154.7h.01M381.2 157.7h.01M358.8 111.9h.01M382.0 134.3h.01M383.5 135.9h.01M371.6 116.5h.01M373.6 148.5h.01M393.7 131.2h.01M371.9 121.1h.01M371.0 125.8h.01M378.9 153.9h.01M377.3 156.6h.01M372.7 137.1h.01M374.7 147.7h.01M378.6 159.1h.01M389.1 111.8h.01M375.5 144.0h.01M361.0 91.8h.01M378.0 160.3h.01M384.0 126.5h.01M380.5 140.1h.01M383.1 137.6h.01M388.7 122.4h.01M377.6 159.4h.01M378.7 156.0h.01M386.1 118.4h.01M385.7 136.5h.01M378.4 157.8h.01M372.1 154.9h.01M391.1 113.0h.01M374.9 145.0h.01M383.4 142.5h.01M372.4 138.0h.01M385.7 141.6h.01M376.6 159.5h.01M386.8 114.5h.01M381.1 154.1h.01M382.2 141.8h.01M373.1 140.9h.01M378.6 159.8h.01M364.2 137.4h.01M385.2 144.1h.01M380.8 151.6h.01M382.4 134.5h.01M380.8 154.8h.01M394.5 89.7h.01M373.8 154.2h.01M384.4 139.4h.01M377.4 159.3h.01M377.1 158.8h.01M381.8 128.7h.01M377.2 158.5h.01M372.6 144.1h.01M373.8 151.2h.01M379.2 154.7h.01M377.6 159.9h.01M376.8 155.7h.01M368.0 136.9h.01M383.1 140.6h.01M379.5 158.3h.01M382.7 142.8h.01M395.2 93.3h.01M370.1 130.3h.01M361.6 124.9h.01M388.3 148.3h.01M388.6 102.0h.01M379.7 153.2h.01M387.1 121.6h.01M382.5 147.1h.01M391.2 145.6h.01M362.1 142.4h.01M383.8 136.8h.01M382.5 145.7h.01M375.7 154.7h.01M381.9 148.7h.01M391.7 118.1h.01M374.6 156.0h.01M368.2 136.3h.01M371.4 156.8h.01M384.3 125.6h.01M374.4 142.9h.01M364.4 106.3h.01M384.0 118.4h.01M379.2 159.2h.01M383.3 120.2h.01M379.9 144.4h.01M381.6 153.4h.01M379.9 149.9h.01M378.3 159.7h.01M385.1 113.9h.01M381.1 147.6h.01M386.5 142.4h.01M390.7 139.2h.01M386.5 141.2h.01M368.6 107.1h.01M379.9 154.2h.01M386.9 143.0h.01M371.4 117.2h.01M381.9 146.8h.01M372.3 130.3h.01M375.9 145.5h.01M391.2 70.4h.01M377.6 159.1h.01M375.0 141.5h.01M390.2 130.8h.01M386.4 131.6h.01M386.4 147.3h.01M385.5 141.3h.01M392.4 111.5h.01M382.0 152.1h.01M360.4 91.5h.01M383.7 123.0h.01M363.3 95.7h.01M372.3 149.1h.01M372.6 155.8h.01M385.2 109.1h.01M377.7 159.9h.01M383.6 135.4h.01M370.7 146.5h.01M387.6 135.7h.01M376.9 156.4h.01M374.6 143.3h.01M365.9 138.8h.01M370.3 131.1h.01M361.5 84.6h.01M374.5 147.7h.01M383.4 128.4h.01M383.8 125.0h.01M388.4 115.2h.01M381.7 145.8h.01M388.8 145.9h.01M366.9 128.0h.01M381.4 159.6h.01M388.7 114.2h.01M389.1 104.3h.01M386.9 137.9h.01M372.0 145.2h.01M378.2 159.8h.01M383.4 154.7h.01M387.4 128.3h.01M378.8 155.2h.01M385.0 117.2h.01M383.9 142.8h.01M373.8 130.8h.01M364.8 124.7h.01M382.0 149.7h.01M374.4 144.6h.01M370.5 149.4h.01M381.3 151.7h.01M383.1 150.6h.01M382.5 137.9h.01M383.7 136.0h.01M373.2 140.3h.01M383.5 156.4h.01M375.7 150.7h.01M380.4 144.1h.01M373.3 148.4h.01M385.7 138.5h.01M376.3 153.8h.01M376.6 158.6h.01M366.9 147.5h.01M371.1 123.6h.01M384.0 125.9h.01M375.7 140.7h.01M387.6 131.1h.01M362.4 152.1h.01M369.3 142.6h.01M376.9 153.1h.01M395.4 72.1h.01M380.5 147.1h.01M376.5 149.9h.01M366.9 145.1h.01M382.6 140.8h.01M374.9 140.7h.01M367.5 123.8h.01M381.4 148.1h.01M378.5 158.6h.01M372.9 151.4h.01M380.6 142.4h.01M379.4 157.7h.01M391.9 79.2h.01M377.3 156.2h.01M376.3 158.8h.01M378.6 159.2h.01M381.9 152.7h.01M383.6 141.1h.01M371.2 131.2h.01M388.0 134.3h.01M393.5 125.5h.01M386.0 144.2h.01M381.0 155.3h.01M380.1 144.3h.01M393.7 86.0h.01M387.7 138.8h.01M380.4 154.1h.01M383.2 146.2h.01M381.2 142.9h.01M393.1 65.5h.01M372.4 125.0h.01M382.0 144.3h.01M386.5 98.6h.01M382.1 147.3h.01M387.6 143.5h.01M379.3 154.1h.01M369.4 140.7h.01M378.5 158.1h.01M375.8 150.8h.01M378.1 159.8h.01M368.4 133.2h.01M363.5 114.3h.01M395.6 112.1h.01M373.7 130.4h.01M359.6 108.8h.01M382.2 143.3h.01M370.3 103.4h.01M383.4 133.5h.01M377.1 157.7h.01M372.6 153.1h.01M371.6 149.5h.01M381.5 154.0h.01M371.0 130.1h.01M383.6 139.4h.01M370.4 153.8h.01M380.8 151.0h.01M369.4 152.2h.01M384.6 132.5h.01M365.1 133.7h.01M387.9 142.0h.01M381.2 155.8h.01M374.0 154.2h.01M378.2 159.8h.01M372.8 155.4h.01M370.2 147.5h.01M368.5 130.0h.01M383.4 145.4h.01M379.6 155.8h.01M381.1 150.9h.01M386.9 148.9h.01M371.4 128.7h.01M386.6 94.3h.01M371.2 146.9h.01M376.1 153.9h.01M366.6 118.5h.01M376.2 158.9h.01M380.2 154.4h.01M372.1 124.9h.01M382.4 150.6h.01M384.7 149.3h.01M391.2 89.2h.01M374.7 150.4h.01M387.0 123.3h.01M368.5 120.3h.01M395.1 69.8h.01M380.1 146.1h.01M376.1 150.7h.01M369.7 126.7h.01M382.1 156.9h.01M380.1 151.0h.01M376.6 151.6h.01M386.1 136.4h.01M387.6 118.7h.01M363.5 65.5h.01M386.3 138.8h.01M364.4 144.1h.01M396.3 119.6h.01M374.7 145.3h.01M376.9 159.4h.01M381.6 137.4h.01M376.9 157.4h.01M374.5 145.4h.01M378.7 159.1h.01M379.6 158.3h.01M381.5 144.2h.01M382.7 125.0h.01M375.7 156.3h.01M396.2 129.8h.01M378.7 156.5h.01M384.1 145.1h.01M394.2 131.2h.01M371.6 149.4h.01M376.2 147.1h.01M368.4 116.8h.01M359.9 148.6h.01M372.6 155.6h.01M396.4 141.0h.01M380.0 152.3h.01M370.4 113.7h.01M375.2 151.6h.01M379.8 147.5h.01M367.7 99.2h.01M371.2 120.0h.01M369.9 146.2h.01M376.6 160.2h.01M366.7 134.6h.01M370.4 118.9h.01M381.3 141.7h.01M379.0 159.1h.01M395.8 140.9h.01M376.0 158.2h.01M374.2 145.4h.01M382.3 140.0h.01M378.2 159.9h.01M376.0 155.8h.01M361.3 147.2h.01M382.4 130.7h.01M373.8 155.5h.01M391.4 130.8h.01M385.6 134.8h.01M377.6 157.9h.01M374.5 143.4h.01M369.5 153.9h.01M381.4 155.3h.01M375.4 154.7h.01M380.6 148.5h.01M378.2 159.9h.01M386.2 143.7h.01M387.4 142.5h.01M380.2 149.3h.01M367.9 96.7h.01M364.8 108.5h.01M368.3 143.1h.01M374.8 148.8h.01M382.8 125.9h.01M380.3 153.2h.01M377.0 156.0h.01M366.2 112.8h.01M372.5 120.7h.01M376.1 152.1h.01M379.1 159.9h.01M371.0 121.8h.01M382.3 133.5h.01M371.5 145.8h.01M375.6 143.1h.01M381.3 147.7h.01M372.5 136.1h.01M388.3 129.7h.01M373.0 138.2h.01M375.9 155.7h.01M377.4 159.4h.01M378.7 159.1h.01M383.0 133.8h.01M376.3 158.1h.01M391.8 121.9h.01M388.6 153.5h.01M375.9 143.4h.01M373.0 151.0h.01M392.9 111.3h.01M373.5 154.4h.01M386.2 123.6h.01M379.8 152.5h.01M365.9 112.9h.01M378.8 157.3h.01M369.9 144.3h.01M385.1 153.1h.01M392.4 88.6h.01M382.2 148.9h.01M363.7 78.2h.01M375.3 145.1h.01M379.3 159.4h.01M385.0 155.3h.01M379.9 159.0h.01M379.5 149.6h.01M380.5 150.9h.01M381.7 142.1h.01M383.1 149.6h.01M359.7 89.5h.01M375.5 150.9h.01M368.7 104.4h.01M386.7 109.1h.01M381.5 141.7h.01M374.6 138.4h.01M379.9 155.1h.01M380.5 151.3h.01M384.3 156.4h.01M387.7 131.1h.01M377.1 154.4h.01M380.1 148.4h.01M380.4 159.0h.01M384.1 122.9h.01M385.8 113.3h.01M388.6 136.8h.01M383.3 153.0h.01M369.5 152.2h.01M381.1 148.1h.01M394.8 102.4h.01M376.5 149.1h.01M381.2 138.7h.01M383.4 142.1h.01M384.3 133.1h.01M388.3 105.6h.01M372.5 133.1h.01M372.7 142.3h.01M372.8 141.7h.01M390.4 145.7h.01M389.5 151.6h.01M382.6 151.7h.01M385.4 119.5h.01M378.4 159.2h.01M380.0 149.0h.01M367.5 126.9h.01M371.8 133.6h.01M382.0 155.8h.01M377.5 157.6h.01M386.1 133.7h.01M369.3 99.2h.01M374.5 133.6h.01M376.2 160.3h.01M369.4 125.7h.01M373.7 150.0h.01M383.7 152.2h.01M380.6 152.0h.01M376.7 160.4h.01M378.7 157.1h.01M370.1 126.8h.01M372.5 118.3h.01M375.4 143.1h.01M373.4 132.4h.01M381.8 140.0h.01M370.3 119.8h.01M376.1 154.7h.01M376.2 151.6h.01M379.7 150.3h.01M374.0 137.5h.01M394.2 135.4h.01M373.5 131.7h.01M388.4 99.6h.01M368.8 145.3h.01M374.7 148.1h.01M368.5 102.3h.01M387.4 105.8h.01M377.8 159.3h.01M372.0 125.9h.01M379.3 159.8h.01M373.8 144.1h.01M376.6 159.7h.01M373.2 141.4h.01M375.6 143.2h.01M373.4 127.6h.01M359.8 86.1h.01M386.8 105.7h.01M383.9 158.2h.01M384.4 146.6h.01M377.6 160.2h.01M374.8 157.2h.01M381.5 147.2h.01M384.9 142.1h.01M373.4 155.9h.01M382.1 137.5h.01M371.8 140.2h.01M379.8 145.6h.01M379.1 160.2h.01M371.7 137.7h.01M389.2 157.8h.01M383.6 132.3h.01M390.1 109.0h.01M386.0 122.5h.01M387.9 155.2h.01M371.5 111.3h.01M375.3 141.8h.01M384.7 119.1h.01M389.1 89.2h.01M381.4 141.9h.01M376.5 153.9h.01M376.2 157.1h.01M393.2 113.6h.01M371.7 138.9h.01M381.1 149.1h.01M370.7 132.8h.01M380.3 157.0h.01M382.0 152.9h.01M368.8 118.1h.01M377.3 157.9h.01M374.9 141.2h.01M376.4 159.0h.01M371.9 135.0h.01M386.3 131.2h.01M381.8 141.8h.01M374.2 132.5h.01M383.4 144.0h.01M378.9 159.5h.01M378.4 160.3h.01M371.2 113.9h.01M379.7 154.7h.01M373.2 137.6h.01M363.0 75.0h.01M374.4 134.6h.01M373.5 130.4h.01M391.4 116.3h.01M383.3 143.5h.01M383.4 139.5h.01M377.5 159.0h.01M364.3 117.7h.01M382.3 141.6h.01M377.3 159.4h.01M371.2 130.3h.01M370.0 110.8h.01M380.8 156.6h.01M371.6 153.3h.01M369.2 131.7h.01M379.4 157.8h.01M366.0 152.7h.01M381.6 138.5h.01M373.5 134.4h.01M390.2 129.9h.01M377.7 160.1h.01M375.5 145.9h.01M372.4 132.3h.01M384.1 133.7h.01M377.5 160.0h.01M378.9 158.6h.01M372.2 132.6h.01M375.9 150.3h.01M381.8 155.1h.01M381.8 159.8h.01M383.2 138.7h.01M379.1 160.2h.01M386.3 106.8h.01M380.5 145.8h.01M376.8 159.6h.01M362.7 141.1h.01M369.8 106.8h.01M381.4 142.9h.01M373.1 142.9h.01M373.5 149.4h.01M370.3 137.0h.01M390.7 106.4h.01M374.4 140.2h.01M367.3 80.2h.01M375.0 153.6h.01M383.9 140.0h.01M379.5 148.4h.01M371.9 131.9h.01M376.2 155.4h.01M361.8 126.1h.01M360.3 78.1h.01M379.4 158.6h.01M379.5 152.3h.01M372.5 140.1h.01M376.4 152.2h.01M382.2 149.2h.01M376.2 156.3h.01M394.9 133.2h.01M380.6 156.4h.01M389.7 82.4h.01M377.0 156.2h.01M376.3 159.5h.01M372.9 156.8h.01M381.6 149.7h.01M384.5 151.9h.01M382.4 147.9h.01M376.9 158.5h.01M376.3 152.5h.01M385.4 152.5h.01M373.4 149.2h.01M372.6 124.0h.01M379.1 159.9h.01M377.3 158.9h.01M384.8 138.4h.01M389.4 143.5h.01M396.7 140.7h.01M374.8 145.2h.01M363.2 135.0h.01M394.6 133.7h.01M376.3 159.9h.01M380.3 147.0h.01M371.4 154.0h.01M382.5 132.4h.01M377.6 157.4h.01M373.9 144.1h.01M373.0 129.9h.01M378.5 158.2h.01M372.0 152.4h.01M391.1 83.6h.01M376.1 152.8h.01M369.5 130.6h.01M366.3 99.6h.01M385.6 124.1h.01M376.0 149.4h.01M382.7 145.8h.01M377.8 158.9h.01M385.1 118.6h.01M375.1 149.1h.01M383.5 134.8h.01M377.2 159.8h.01M380.1 148.0h.01M364.3 127.5h.01M362.8 95.9h.01M375.6 157.4h.01M363.7 125.1h.01M381.7 144.6h.01M375.4 145.9h.01M373.8 140.6h.01M381.7 152.3h.01M374.0 147.5h.01M384.2 126.0h.01M385.1 144.6h.01M373.4 140.9h.01M372.9 143.8h.01M379.6 151.7h.01M381.6 134.5h.01M391.3 99.2h.01M388.0 113.3h.01M375.6 146.1h.01M375.3 156.7h.01M371.4 142.9h.01M374.7 151.2h.01M369.1 133.7h.01M372.6 128.8h.01M375.4 145.0h.01M359.5 143.5h.01M383.3 141.8h.01M385.8 135.7h.01M369.5 115.2h.01M369.0 90.6h.01M370.2 115.0h.01M379.5 151.4h.01M366.3 150.1h.01M378.5 157.6h.01M366.3 108.9h.01M377.7 157.6h.01M378.3 158.7h.01M381.9 147.6h.01M392.4 149.2h.01M366.2 120.0h.01M377.8 159.8h.01M364.0 121.6h.01M382.3 153.2h.01M392.4 51.3h.01M375.6 148.7h.01M360.7 128.4h.01M372.2 127.9h.01M377.9 160.0h.01M372.5 145.8h.01M370.2 105.6h.01M373.1 128.2h.01M363.4 137.8h.01M375.4 149.0h.01M369.7 151.5h.01M388.7 142.1h.01M383.8 129.9h.01M394.3 136.7h.01M379.1 156.0h.01M395.4 113.4h.01M374.7 155.7h.01M383.0 132.7h.01M376.6 151.7h.01M370.4 149.4h.01M364.8 139.1h.01M388.4 101.5h.01M384.5 153.1h.01M394.5 119.3h.01M375.2 144.2h.01M383.9 113.3h.01M397.7 70.5h.01M373.2 144.8h.01M375.1 157.6h.01M359.3 140.7h.01M374.5 153.7h.01M383.0 152.8h.01M380.1 159.7h.01M375.9 150.2h.01M373.3 132.8h.01M381.5 141.7h.01M392.1 125.9h.01M366.1 82.3h.01M382.4 137.9h.01M394.3 96.8h.01M392.5 139.2h.01M376.9 160.1h.01M377.6 158.8h.01M371.8 149.9h.01M396.3 149.6h.01M378.4 159.4h.01M368.5 131.0h.01M373.7 140.1h.01M379.3 158.7h.01M371.6 133.9h.01M379.0 155.6h.01M380.4 159.4h.01M373.5 141.3h.01M364.7 116.2h.01M366.8 104.3h.01M373.1 135.4h.01M370.8 126.1h.01M383.7 148.8h.01M374.8 150.5h.01M376.7 157.8h.01M380.8 151.5h.01M365.1 145.1h.01M378.0 160.1h.01M383.0 142.8h.01M382.4 133.8h.01M365.8 149.8h.01M383.6 153.2h.01M363.1 89.2h.01M378.2 160.4h.01M371.7 131.2h.01M376.5 157.9h.01M381.6 146.1h.01M358.5 80.1h.01M383.7 149.3h.01M380.5 146.5h.01M371.6 154.0h.01M391.8 84.4h.01M375.5 138.3h.01M375.2 153.7h.01M372.5 120.6h.01M380.0 150.7h.01M371.8 115.4h.01M381.3 148.4h.01M381.9 157.8h.01M387.1 151.0h.01M370.0 150.5h.01M383.9 135.5h.01M377.4 157.9h.01M375.3 147.6h.01M372.8 125.5h.01M371.9 137.5h.01M379.1 157.4h.01M380.3 144.8h.01M375.5 157.7h.01M384.9 157.3h.01M372.0 132.0h.01M370.6 103.5h.01M383.3 134.8h.01M373.7 156.2h.01M390.9 138.1h.01M383.2 157.7h.01M374.9 156.8h.01M391.5 142.7h.01M377.1 158.1h.01M381.8 134.7h.01M392.5 75.9h.01M367.6 93.1h.01M371.6 127.9h.01M376.1 152.7h.01M378.9 158.7h.01M383.6 140.0h.01M363.6 134.0h.01M384.1 124.7h.01M381.4 144.1h.01M387.9 123.5h.01M380.0 151.2h.01M375.2 151.1h.01M368.8 154.7h.01M364.8 103.5h.01M373.2 156.2h.01M366.7 134.3h.01M372.7 137.3h.01M380.7 140.0h.01M372.4 152.9h.01M391.9 136.4h.01M371.0 138.6h.01M371.4 124.1h.01M376.3 154.2h.01M368.8 96.1h.01M387.0 115.1h.01M377.6 159.2h.01M391.4 143.3h.01M367.2 82.9h.01M379.2 159.2h.01M376.9 159.0h.01M370.6 135.3h.01M377.4 159.2h.01M385.8 130.4h.01M372.0 142.7h.01M373.2 130.9h.01M371.8 110.5h.01M380.6 154.7h.01M368.3 100.9h.01M379.1 155.7h.01M382.0 136.3h.01M386.1 113.9h.01M394.0 101.3h.01M367.4 89.5h.01M370.6 125.0h.01M375.6 148.6h.01M385.4 122.3h.01M381.3 156.2h.01M380.2 156.8h.01M369.9 152.7h.01M377.4 156.6h.01M378.5 158.7h.01M379.3 160.0h.01M374.6 149.1h.01M382.6 145.1h.01M383.3 147.7h.01M372.8 154.8h.01M377.2 154.4h.01M385.5 145.2h.01M382.8 143.2h.01M384.4 132.2h.01M364.1 136.7h.01M366.5 141.9h.01M380.4 146.8h.01M373.6 157.2h.01M387.6 111.5h.01M376.2 156.0h.01M381.5 139.3h.01M375.6 154.7h.01M370.5 105.4h.01M378.4 159.0h.01M358.7 148.0h.01M371.6 111.5h.01M375.3 148.8h.01M371.3 104.6h.01M388.3 112.5h.01M374.0 136.9h.01M378.9 159.1h.01M381.7 149.6h.01M365.1 145.6h.01M382.8 141.5h.01M374.0 132.4h.01M369.4 122.1h.01M376.9 158.3h.01M373.5 124.1h.01M377.9 160.0h.01M380.9 148.5h.01M393.4 141.3h.01M379.2 155.7h.01M376.1 151.3h.01M381.5 144.7h.01M381.1 148.3h.01M381.3 153.7h.01M379.3 155.0h.01M379.2 150.2h.01M395.9 76.0h.01M377.8 159.7h.01M370.7 107.4h.01M387.1 105.0h.01M383.6 146.0h.01M381.1 134.4h.01M372.1 150.8h.01M377.2 155.0h.01M386.3 142.1h.01M385.8 150.7h.01M369.1 125.0h.01M371.9 131.0h.01M378.7 156.6h.01M372.3 132.7h.01M381.6 142.0h.01M363.8 120.6h.01M374.6 152.0h.01M373.7 155.1h.01M372.0 122.4h.01M374.7 142.9h.01M372.0 141.6h.01M381.1 155.1h.01M383.9 128.0h.01M380.9 148.6h.01M379.3 157.4h.01M392.2 145.1h.01M380.9 145.0h.01M383.8 142.6h.01M377.7 160.2h.01M385.8 128.2h.01M376.2 158.1h.01M377.4 159.3h.01M369.9 127.0h.01M379.9 159.2h.01M381.6 140.5h.01M370.7 143.7h.01M382.4 148.1h.01M389.1 123.4h.01M378.5 158.3h.01M392.6 94.3h.01M380.6 159.5h.01M358.3 130.4h.01M378.6 158.2h.01M377.4 160.1h.01M371.4 134.7h.01M392.2 96.5h.01M392.4 71.3h.01M373.8 145.6h.01M374.2 144.7h.01M387.3 116.3h.01M381.3 157.2h.01M393.1 133.1h.01M382.3 127.9h.01M377.8 159.7h.01M382.0 156.5h.01M383.7 117.1h.01M368.3 133.1h.01M375.1 152.5h.01M377.8 159.8h.01M375.7 146.8h.01M375.7 153.0h.01M384.9 123.4h.01M371.5 143.1h.01M380.6 155.2h.01M376.0 154.3h.01M377.9 158.6h.01M373.1 155.4h.01M377.1 158.1h.01M376.0 151.2h.01M383.3 151.2h.01M381.4 146.8h.01M388.9 115.9h.01M380.2 151.1h.01M387.7 146.8h.01M395.8 89.3h.01M372.2 116.4h.01M367.6 135.0h.01M378.2 159.6h.01M373.2 142.1h.01M380.7 155.8h.01M385.0 148.3h.01M374.1 148.0h.01M386.3 108.0h.01M375.0 155.4h.01M377.5 159.8h.01M377.4 157.9h.01M369.1 136.6h.01M381.4 151.9h.01M382.4 147.6h.01M380.5 152.0h.01M368.5 123.4h.01M389.6 132.1h.01M386.2 124.5h.01M384.2 150.5h.01M374.8 156.7h.01M377.1 157.6h.01M378.3 160.3h.01M378.7 156.5h.01M370.9 149.5h.01M375.6 152.7h.01M373.4 156.6h.01M362.3 126.8h.01M374.7 138.8h.01M382.2 145.1h.01M383.7 148.5h.01M384.3 129.5h.01M386.0 129.4h.01M384.8 140.4h.01M375.4 153.8h.01M389.6 90.9h.01M384.2 112.7h.01M366.5 114.8h.01M375.2 154.5h.01M379.0 158.9h.01M389.8 111.0h.01M383.6 138.8h.01M379.9 148.9h.01M383.1 129.7h.01M369.2 154.1h.01M376.8 153.9h.01M381.7 157.6h.01M378.9 157.1h.01M387.4 126.8h.01M378.3 159.7h.01M376.1 157.0h.01M382.7 150.8h.01M397.3 85.5h.01M384.1 139.4h.01M377.2 154.5h.01M377.3 159.7h.01M371.1 128.0h.01M375.5 154.8h.01M380.7 148.8h.01M372.4 136.2h.01M379.8 147.0h.01M388.6 102.3h.01M377.9 159.5h.01M371.5 142.4h.01M368.6 108.0h.01M381.5 148.8h.01M372.1 128.2h.01M371.4 139.5h.01M395.6 127.0h.01M381.6 153.6h.01M371.0 135.4h.01M376.6 154.8h.01M367.5 98.7h.01M369.4 144.0h.01M397.5 91.3h.01M368.1 93.0h.01M388.3 129.1h.01M380.1 155.0h.01M379.7 152.6h.01M391.4 145.1h.01M377.5 157.2h.01M375.5 149.6h.01M381.3 157.1h.01M379.2 157.4h.01M382.4 129.2h.01M390.1 148.4h.01M378.6 157.2h.01M372.4 147.8h.01M370.9 138.5h.01M383.7 126.5h.01M377.0 156.7h.01M388.4 106.9h.01M365.5 134.8h.01M374.4 137.4h.01M383.9 152.9h.01M379.1 158.0h.01M375.9 148.0h.01M377.2 156.3h.01M372.7 123.2h.01M395.1 86.6h.01M379.6 154.6h.01M382.4 128.4h.01M371.6 127.7h.01M385.7 153.8h.01M380.7 144.3h.01M374.2 148.1h.01M367.0 84.2h.01M391.1 142.9h.01M364.3 146.0h.01M382.3 151.3h.01M378.4 158.6h.01M373.0 154.9h.01M379.6 158.6h.01M369.8 155.9h.01M382.0 145.3h.01M369.4 112.0h.01M370.9 147.4h.01M367.4 137.6h.01M370.3 144.1h.01M377.9 160.0h.01M389.8 109.9h.01M381.6 133.9h.01M380.2 153.4h.01M376.4 156.7h.01M390.0 143.1h.01M383.5 154.3h.01M376.8 154.1h.01M380.3 156.6h.01M383.6 140.5h.01M376.3 158.2h.01M380.2 159.5h.01M372.8 135.3h.01M375.9 150.9h.01M370.6 145.4h.01M377.8 160.2h.01M391.6 107.2h.01M386.4 116.2h.01M386.6 110.0h.01M382.8 135.3h.01M368.8 148.3h.01M382.8 150.3h.01M365.0 150.5h.01M384.6 126.8h.01M388.8 146.1h.01M375.3 155.7h.01M381.8 153.1h.01M360.0 100.5h.01M395.6 68.7h.01M381.7 142.7h.01M378.1 159.5h.01M365.6 144.2h.01M380.1 145.8h.01M371.3 137.4h.01M389.0 116.8h.01M380.7 155.1h.01M369.1 111.0h.01M368.1 138.8h.01M368.0 129.0h.01M370.5 138.4h.01M372.1 135.6h.01M379.2 152.0h.01M365.7 147.9h.01M378.7 155.7h.01M382.7 154.6h.01M378.1 159.4h.01M370.7 124.0h.01M379.1 159.5h.01M389.8 135.9h.01M380.9 156.6h.01M375.5 158.2h.01M372.9 139.2h.01M383.4 146.7h.01M378.3 159.9h.01M375.2 147.3h.01M389.5 140.6h.01M379.3 152.6h.01M369.4 105.8h.01M380.6 143.7h.01M361.5 109.2h.01M377.5 157.1h.01M381.3 148.9h.01M383.1 142.3h.01M379.5 152.9h.01M386.8 144.2h.01M371.1 128.0h.01M378.7 155.0h.01M389.1 142.8h.01M376.2 150.4h.01M371.9 150.5h.01M374.2 155.9h.01M370.4 133.8h.01M375.6 152.9h.01M375.2 146.2h.01M376.0 155.6h.01M392.0 72.7h.01M382.5 137.3h.01M387.5 143.3h.01M364.3 143.5h.01M371.3 140.5h.01M380.1 151.2h.01M390.9 96.3h.01M381.0 148.2h.01M376.7 153.9h.01M382.3 146.5h.01M372.7 140.0h.01M378.8 156.8h.01M378.4 159.6h.01M391.2 64.1h.01M373.8 142.4h.01M364.5 144.0h.01M382.5 148.2h.01M379.6 159.2h.01M367.2 126.2h.01M389.5 135.3h.01M388.5 139.1h.01M372.6 145.0h.01M377.7 160.1h.01M368.1 134.7h.01M389.7 116.3h.01M375.0 151.3h.01M388.8 134.7h.01M365.1 86.5h.01M382.9 129.1h.01M384.4 130.1h.01M360.7 120.1h.01M368.2 142.2h.01M380.7 150.9h.01M373.1 142.5h.01M379.7 159.9h.01M377.5 157.7h.01M382.3 150.5h.01M374.8 147.0h.01M362.2 93.0h.01M381.4 156.9h.01M396.1 122.4h.01M373.8 148.7h.01M377.4 157.7h.01M387.7 112.8h.01M373.1 146.5h.01M382.4 134.6h.01M389.6 126.8h.01M377.4 160.2h.01M376.1 159.7h.01M375.8 145.9h.01M382.4 138.0h.01M375.0 137.9h.01M385.8 123.8h.01M372.5 138.2h.01M376.6 152.8h.01M380.2 151.0h.01M387.0 135.9h.01M376.2 157.4h.01M376.2 152.0h.01M377.9 159.6h.01M372.7 127.8h.01M387.2 126.0h.01M392.2 76.7h.01M385.9 123.3h.01M369.9 136.6h.01M373.9 134.3h.01M387.0 127.5h.01M372.0 134.9h.01M382.4 159.6h.01M382.8 151.1h.01M374.0 131.2h.01M375.8 148.3h.01M382.8 130.9h.01M373.2 142.7h.01M385.7 133.4h.01M376.7 157.4h.01M374.6 158.1h.01M372.6 119.1h.01M371.2 147.5h.01M376.6 154.3h.01M364.7 131.2h.01M377.6 159.4h.01M379.2 157.0h.01M366.3 141.0h.01M369.5 133.2h.01M376.4 147.8h.01M386.6 137.8h.01M387.5 142.0h.01M391.5 129.3h.01M378.5 156.5h.01M377.7 158.8h.01M372.8 130.4h.01M376.6 156.6h.01M379.4 157.4h.01M389.0 120.6h.01M373.1 138.3h.01M382.2 130.1h.01M385.9 142.5h.01M373.5 155.4h.01M367.1 105.8h.01M381.5 149.5h.01M375.7 149.7h.01M372.9 155.9h.01M377.0 153.3h.01M379.0 156.8h.01M370.3 131.2h.01M386.7 110.1h.01M397.1 95.6h.01M372.9 154.4h.01M376.4 153.3h.01M389.2 148.3h.01M387.1 112.7h.01M367.3 102.3h.01M394.3 130.3h.01M370.1 148.4h.01M382.4 141.1h.01M390.3 103.5h.01M380.2 150.8h.01M380.2 147.8h.01M383.6 144.8h.01M372.5 136.0h.01M372.0 125.1h.01M363.6 141.0h.01M380.5 154.2h.01M370.9 132.1h.01M376.7 158.6h.01M393.5 103.7h.01M374.1 144.6h.01M376.3 158.3h.01M375.5 149.7h.01M369.2 141.6h.01M362.0 96.3h.01M383.8 139.4h.01M369.9 92.5h.01M372.2 144.8h.01M383.6 126.7h.01M388.3 139.8h.01M369.4 134.4h.01M371.0 152.7h.01M374.3 139.8h.01M390.3 97.8h.01M385.5 147.6h.01M372.3 147.6h.01M358.3 111.6h.01M371.0 139.1h.01M378.8 155.2h.01M371.3 136.0h.01M379.1 159.9h.01M370.2 149.6h.01M380.6 142.0h.01M378.0 160.0h.01M387.1 150.3h.01M382.5 141.1h.01M376.9 156.5h.01M368.9 109.6h.01M387.3 95.5h.01M389.0 142.9h.01M383.3 143.5h.01M376.4 149.9h.01M377.2 157.0h.01M390.4 132.1h.01M377.3 156.8h.01M376.9 159.5h.01M373.5 136.4h.01M392.3 90.4h.01M362.5 146.7h.01M365.3 138.2h.01M387.8 105.5h.01M379.3 156.4h.01M374.6 151.6h.01M372.1 143.3h.01M378.5 156.9h.01M377.7 158.8h.01M380.2 145.7h.01M374.8 141.6h.01M385.1 137.8h.01M388.5 151.3h.01M376.6 155.6h.01M371.3 107.4h.01M366.9 143.0h.01M379.7 154.7h.01M380.9 157.2h.01M377.1 157.3h.01M374.2 136.3h.01M376.8 157.7h.01M379.7 154.0h.01M381.7 143.3h.01M386.4 150.7h.01M390.2 130.6h.01M381.2 151.7h.01M371.2 138.5h.01M382.9 128.4h.01M377.1 159.1h.01M388.8 113.2h.01M367.3 133.6h.01M364.5 95.8h.01M363.3 132.2h.01M385.3 155.1h.01M377.8 159.8h.01M377.2 158.3h.01M389.1 118.4h.01M364.8 108.7h.01M376.4 152.0h.01M386.6 139.4h.01M371.9 125.5h.01M385.0 109.7h.01M366.1 137.0h.01M363.9 150.8h.01M386.4 137.2h.01M371.5 137.3h.01M386.9 117.8h.01M383.1 146.2h.01M378.3 160.2h.01M369.7 152.5h.01M372.5 148.8h.01M391.0 110.3h.01M381.9 149.1h.01M368.2 108.2h.01M374.1 152.5h.01M372.7 133.4h.01M374.6 154.3h.01M358.1 90.3h.01M379.2 156.4h.01M387.8 136.9h.01M372.3 149.6h.01M383.5 151.2h.01M384.5 142.6h.01M388.5 117.3h.01M369.0 149.2h.01M374.0 134.6h.01M371.4 148.4h.01M368.0 99.5h.01M382.3 139.3h.01M376.9 159.8h.01M363.6 129.5h.01M379.9 154.2h.01M380.0 150.1h.01M379.2 156.9h.01M384.1 118.3h.01M380.6 149.8h.01M375.0 144.7h.01M376.0 157.1h.01M381.8 147.9h.01M372.2 129.9h.01M382.5 144.0h.01M377.3 160.2h.01M370.8 119.1h.01M376.3 156.3h.01M379.0 154.5h.01M392.8 107.6h.01M376.6 152.9h.01M376.3 150.7h.01M376.4 153.5h.01M386.1 152.9h.01M370.9 102.2h.01M377.2 158.4h.01M388.0 118.4h.01M388.4 142.6h.01M384.6 142.7h.01M374.6 145.7h.01M386.8 105.5h.01M382.6 156.6h.01M388.3 148.1h.01M380.4 150.0h.01M375.1 150.8h.01M380.8 151.1h.01M382.7 134.9h.01M372.6 147.8h.01M378.7 158.8h.01M375.1 140.5h.01M376.7 159.4h.01M377.4 156.7h.01M376.1 158.4h.01M370.9 122.6h.01M372.4 153.3h.01M368.4 135.2h.01M376.7 157.9h.01M374.5 148.9h.01M363.9 99.9h.01M379.6 151.6h.01M379.4 150.4h.01M389.7 75.6h.01M378.6 160.3h.01M386.4 106.4h.01M384.7 119.7h.01M369.5 117.2h.01M381.3 144.8h.01M384.4 158.7h.01M380.0 144.4h.01M384.3 144.5h.01M368.4 154.6h.01M389.9 127.8h.01M372.5 151.8h.01M358.7 131.3h.01M376.1 147.4h.01M365.5 133.4h.01M383.2 132.8h.01M376.3 151.1h.01M391.4 102.6h.01M374.0 156.2h.01M378.1 160.2h.01M387.0 137.7h.01M380.3 154.7h.01M382.4 127.1h.01M367.6 143.8h.01M376.6 156.0h.01M375.3 147.3h.01M377.9 158.6h.01M376.4 150.0h.01M385.0 153.9h.01M383.0 124.0h.01M369.2 88.5h.01M384.2 140.3h.01M369.2 147.3h.01M374.6 142.3h.01M390.7 149.3h.01M374.7 134.5h.01M369.0 129.3h.01M381.7 151.8h.01M377.0 154.2h.01M374.4 155.9h.01M375.7 157.9h.01M366.7 88.8h.01M376.1 157.3h.01M366.9 129.0h.01M361.2 131.0h.01M381.2 147.8h.01M397.7 133.0h.01M371.4 139.6h.01M376.9 158.8h.01M377.6 159.3h.01M362.5 110.4h.01M392.7 86.2h.01M370.3 144.2h.01M379.8 151.5h.01M379.6 157.6h.01M371.6 127.9h.01M384.4 149.9h.01M375.7 154.8h.01M377.3 157.7h.01M365.2 139.0h.01M383.8 143.2h.01M387.3 136.9h.01M384.2 126.8h.01M387.5 104.9h.01M378.7 159.5h.01M381.3 145.4h.01M383.1 147.9h.01M377.2 154.9h.01M363.5 83.7h.01M379.4 150.4h.01M394.1 144.3h.01M378.8 158.0h.01M369.8 150.7h.01M363.6 120.7h.01M386.7 147.3h.01M387.1 146.0h.01M371.5 138.0h.01M383.1 145.8h.01M388.1 101.1h.01M371.0 149.8h.01M374.3 154.4h.01M374.3 145.0h.01M373.6 142.2h.01M377.3 158.3h.01M391.1 94.8h.01M382.1 144.1h.01M379.7 150.2h.01M373.9 140.9h.01M381.0 147.1h.01M369.6 122.6h.01M379.4 154.4h.01M372.9 142.3h.01M380.7 142.9h.01M388.0 113.6h.01M373.2 154.1h.01M376.8 160.2h.01M374.8 148.2h.01M390.5 137.6h.01M375.6 149.6h.01M382.8 144.5h.01M382.6 132.8h.01M374.3 142.5h.01M377.7 159.4h.01M375.0 140.7h.01M369.8 151.2h.01M365.6 147.9h.01M374.8 149.1h.01M358.8 99.5h.01M388.5 86.9h.01M372.2 153.1h.01M378.9 160.4h.01M366.8 88.1h.01M378.9 159.3h.01M378.4 159.8h.01M381.7 140.1h.01M378.8 160.3h.01M377.1 156.8h.01M380.4 158.6h.01M367.8 136.4h.01M382.9 137.8h.01M384.2 122.5h.01M392.7 112.3h.01M379.5 151.6h.01M382.0 136.9h.01M377.1 158.9h.01M374.4 147.8h.01M368.9 148.3h.01M378.4 158.7h.01M380.2 154.5h.01M376.9 152.4h.01M387.0 140.2h.01M388.5 118.6h.01M385.5 122.1h.01M376.7 154.5h.01M371.1 127.2h.01M391.9 91.3h.01M377.6 158.8h.01M371.5 115.8h.01M375.4 156.9h.01M387.6 101.9h.01M385.9 132.2h.01M378.2 159.4h.01M384.3 129.0h.01M372.2 151.0h.01M374.0 147.6h.01M376.0 153.1h.01M385.5 133.5h.01M377.2 155.0h.01M369.8 149.4h.01M382.8 158.1h.01M381.4 150.0h.01M382.1 152.1h.01M371.9 123.6h.01M369.8 132.4h.01M360.8 133.3h.01M380.0 157.4h.01M375.8 148.9h.01M361.0 140.2h.01M381.8 158.2h.01M371.0 126.5h.01M376.6 153.2h.01M369.5 115.4h.01M368.7 153.9h.01M371.9 137.9h.01M386.9 138.7h.01M360.7 68.7h.01M378.9 159.3h.01M370.6 133.5h.01M386.4 112.1h.01M390.0 87.2h.01M375.7 149.1h.01M377.7 158.8h.01M384.1 150.0h.01M366.5 135.0h.01M380.3 142.4h.01M373.7 157.1h.01M367.1 96.7h.01M385.4 109.8h.01M385.1 150.6h.01M390.8 125.7h.01M385.0 145.1h.01M384.0 123.1h.01M365.1 97.1h.01M370.8 154.7h.01M381.8 143.6h.01M373.4 133.3h.01M376.3 156.1h.01M384.9 136.9h.01M367.9 114.4h.01M385.0 153.6h.01M369.9 103.3h.01M377.6 158.3h.01M366.1 104.6h.01M373.8 155.7h.01M376.4 150.1h.01M370.7 128.8h.01M378.6 159.4h.01M383.2 146.3h.01M381.0 154.7h.01M370.7 125.2h.01M386.9 141.8h.01M376.3 158.8h.01M376.5 150.9h.01M377.4 159.8h.01M369.0 131.9h.01M386.2 153.4h.01M383.0 141.4h.01M371.7 145.0h.01M376.3 154.0h.01M373.3 147.2h.01M381.7 132.7h.01M383.5 127.6h.01M373.5 150.6h.01M376.9 153.6h.01M370.2 148.4h.01M392.0 103.2h.01M382.4 151.6h.01M374.6 152.2h.01M367.3 93.1h.01M374.4 149.4h.01M374.6 140.2h.01M361.8 92.7h.01M379.9 156.4h.01M384.8 155.6h.01M374.4 130.2h.01M380.6 144.3h.01M374.9 158.7h.01M374.5 154.7h.01M364.5 123.8h.01M383.3 150.2h.01M385.3 124.8h.01M375.7 150.1h.01M382.3 146.3h.01M378.4 158.6h.01M376.1 155.1h.01M391.6 136.4h.01M373.3 157.2h.01M374.3 153.9h.01M384.4 134.0h.01M376.1 156.3h.01M363.1 110.9h.01M386.9 138.6h.01M374.0 151.2h.01M378.1 158.6h.01M383.0 152.5h.01M382.0 153.4h.01M379.0 160.0h.01M375.2 158.0h.01M371.2 121.0h.01M360.1 123.1h.01M382.2 148.0h.01M371.8 136.9h.01M377.2 156.4h.01M382.9 140.0h.01M372.6 130.1h.01M377.6 159.0h.01M382.4 133.5h.01M367.3 141.8h.01M382.7 132.7h.01M376.5 149.0h.01M372.4 143.9h.01M391.5 133.1h.01M382.7 128.9h.01M390.2 143.1h.01M380.8 154.0h.01M385.7 138.5h.01M382.1 133.0h.01M389.5 131.8h.01M362.3 114.6h.01M374.7 147.0h.01M386.9 93.0h.01M385.6 148.3h.01M377.6 158.1h.01M389.9 138.2h.01M387.9 142.5h.01M380.9 141.3h.01M375.4 142.5h.01M391.0 119.2h.01M383.7 131.2h.01M384.8 128.7h.01M378.3 159.3h.01M378.4 158.6h.01M368.1 98.5h.01M379.4 158.8h.01M379.5 157.7h.01M389.3 131.5h.01M371.0 136.9h.01M390.1 114.9h.01M372.1 153.1h.01M380.4 148.9h.01M365.2 136.0h.01M369.6 101.4h.01M379.0 160.2h.01M377.2 157.7h.01M380.2 150.6h.01M369.4 132.2h.01M373.6 140.2h.01M371.1 133.5h.01M382.0 133.0h.01M382.3 137.1h.01M381.3 147.7h.01M365.9 133.2h.01M375.1 152.4h.01M366.2 145.7h.01M375.3 142.7h.01M362.9 134.1h.01M382.5 152.9h.01M379.6 157.6h.01M374.2 155.3h.01M386.4 120.5h.01M383.9 122.6h.01M386.3 157.4h.01M390.6 115.1h.01M381.7 154.7h.01M380.6 150.3h.01M382.6 127.7h.01M372.0 132.1h.01M383.3 123.4h.01M378.1 159.8h.01M373.7 143.8h.01M386.3 112.3h.01M390.9 115.4h.01M385.1 125.7h.01M389.1 98.2h.01M385.0 155.1h.01M386.4 131.6h.01M377.5 158.0h.01M376.6 150.0h.01M371.8 153.3h.01M365.1 117.9h.01M381.0 154.7h.01M374.7 157.1h.01M376.9 159.4h.01M376.0 149.7h.01M358.3 100.5h.01M379.7 159.3h.01M361.7 141.4h.01M375.9 150.3h.01M374.9 143.2h.01M390.0 102.5h.01M373.0 146.4h.01M379.5 151.6h.01M378.4 158.8h.01M381.7 150.6h.01M376.1 155.8h.01M383.7 116.7h.01M376.3 152.8h.01M386.0 139.5h.01M379.8 153.8h.01M380.2 157.0h.01M379.3 155.4h.01M372.9 123.2h.01M362.3 88.0h.01M375.3 154.3h.01M384.4 143.7h.01M376.4 155.6h.01M392.5 117.7h.01M377.7 157.6h.01M385.1 147.8h.01M374.9 152.2h.01M378.8 158.1h.01M374.7 144.8h.01M388.8 139.8h.01M387.0 118.1h.01M383.3 130.7h.01M366.0 140.3h.01M372.5 126.6h.01M384.5 154.9h.01M385.9 145.9h.01M378.3 158.7h.01M383.3 126.5h.01M373.3 144.7h.01M366.4 139.5h.01M369.4 146.8h.01M357.9 129.5h.01M378.5 158.2h.01M373.5 157.8h.01M380.3 147.3h.01M383.5 127.6h.01M385.4 147.0h.01M371.5 141.8h.01M382.3 136.9h.01M368.0 124.0h.01M378.1 159.6h.01M366.7 104.4h.01M377.4 160.1h.01M380.4 150.8h.01M372.7 144.8h.01M377.9 160.3h.01M374.3 140.6h.01M384.1 148.3h.01M379.0 156.2h.01M364.3 144.2h.01M377.1 157.3h.01M374.6 141.3h.01M392.2 132.1h.01M384.7 115.4h.01M376.9 154.0h.01M381.2 134.8h.01M380.4 156.1h.01M392.1 78.9h.01M381.8 146.4h.01M360.5 104.9h.01M375.8 145.4h.01M373.9 152.0h.01M381.8 136.4h.01M389.9 106.7h.01M390.3 83.8h.01M378.1 159.6h.01M370.9 128.1h.01M382.7 132.0h.01M369.4 142.1h.01M376.2 157.1h.01M379.1 159.0h.01M376.9 155.1h.01M373.9 147.1h.01M375.7 158.7h.01M365.3 139.2h.01M378.5 157.9h.01M373.9 143.6h.01M361.7 76.7h.01M372.3 144.2h.01M378.3 160.3h.01M387.4 98.9h.01M388.6 128.1h.01M382.1 146.6h.01M376.6 158.5h.01M376.7 159.6h.01M376.5 156.0h.01M385.5 155.1h.01M367.7 96.5h.01M360.7 128.9h.01M382.7 146.4h.01M377.0 155.4h.01M380.0 158.2h.01M388.6 137.2h.01M375.5 150.1h.01M370.3 132.8h.01M377.6 160.3h.01M387.1 139.5h.01M369.6 129.9h.01M398.1 114.7h.01M373.8 132.6h.01M373.5 145.2h.01M368.7 129.7h.01M394.2 141.6h.01M381.2 151.2h.01M380.4 149.2h.01M382.3 130.3h.01M389.4 144.3h.01M372.8 147.5h.01M367.1 129.3h.01M380.6 159.8h.01M393.4 121.2h.01M377.8 159.9h.01M369.7 103.2h.01M385.4 151.4h.01M381.4 140.0h.01M383.8 139.1h.01M382.3 151.5h.01M378.3 158.8h.01M376.5 156.2h.01M378.2 159.7h.01M376.4 150.6h.01M379.2 155.3h.01M385.4 133.7h.01M374.8 146.5h.01M382.3 151.7h.01M387.7 93.5h.01M382.9 124.4h.01M367.6 138.3h.01M380.6 148.4h.01M371.8 138.9h.01M381.4 134.6h.01M383.3 145.9h.01M374.2 145.6h.01M375.9 152.3h.01M375.2 145.7h.01M378.2 159.7h.01M375.4 144.0h.01M391.3 134.4h.01M379.2 159.4h.01M379.9 149.6h.01M387.0 147.5h.01M365.1 94.3h.01M392.5 148.3h.01M373.7 156.8h.01M381.7 151.5h.01M383.7 149.9h.01M375.1 154.5h.01M383.0 143.7h.01M369.5 145.1h.01M395.3 131.5h.01M387.8 138.6h.01M371.9 155.8h.01M377.8 158.6h.01M383.5 145.6h.01M374.3 157.8h.01M368.0 153.3h.01M381.2 143.9h.01M376.6 157.1h.01M381.4 141.5h.01M374.3 135.0h.01M372.3 116.0h.01M371.1 156.1h.01M384.8 130.1h.01M370.8 129.6h.01M388.1 131.2h.01M376.0 152.3h.01M378.7 157.1h.01M368.3 141.7h.01M386.0 134.5h.01M370.8 157.0h.01M376.8 157.0h.01M375.5 143.7h.01M366.0 100.0h.01M374.1 131.9h.01M387.1 136.9h.01M371.8 145.5h.01M395.0 96.7h.01M384.1 146.9h.01M384.5 139.9h.01M375.8 156.3h.01M380.8 151.6h.01M379.9 156.4h.01M366.3 97.8h.01M372.6 139.3h.01M382.5 150.2h.01M373.3 146.7h.01M378.7 158.0h.01M375.8 144.4h.01M373.3 143.3h.01M368.1 152.7h.01M370.9 107.9h.01M375.1 155.0h.01M379.5 160.3h.01M382.9 138.7h.01M385.8 137.6h.01M382.5 131.5h.01M379.0 156.7h.01M382.8 124.3h.01M395.0 96.1h.01M381.3 136.3h.01M373.5 144.6h.01M380.2 155.5h.01M389.3 85.6h.01M384.4 154.9h.01M387.8 137.1h.01M387.1 155.6h.01M388.3 145.1h.01M390.0 110.8h.01M361.5 132.8h.01M378.2 159.3h.01M376.1 145.7h.01M387.7 143.6h.01M378.3 158.7h.01M381.6 157.5h.01M377.6 160.3h.01M370.3 154.9h.01M376.7 158.4h.01M371.3 138.8h.01M380.8 144.1h.01M396.9 91.9h.01M387.4 113.5h.01M387.9 112.0h.01M378.3 159.7h.01M365.2 144.0h.01M375.1 157.0h.01M369.8 146.9h.01M377.5 159.4h.01M368.3 132.7h.01M358.0 118.1h.01M378.7 154.7h.01M377.6 159.7h.01M382.7 153.5h.01M366.3 147.0h.01M380.7 147.0h.01M385.5 143.4h.01M367.8 140.9h.01M379.0 158.6h.01M374.0 149.3h.01M385.9 152.8h.01M363.8 124.5h.01M376.7 154.8h.01M390.0 77.4h.01M373.3 151.7h.01M372.3 121.4h.01M391.9 91.2h.01M371.2 114.1h.01M382.3 148.7h.01M373.6 143.2h.01M383.0 148.6h.01M375.5 150.3h.01M380.9 146.6h.01M374.1 143.4h.01M380.2 151.4h.01M374.8 140.5h.01M375.9 156.5h.01M386.0 149.2h.01M379.0 156.2h.01M376.8 158.2h.01M380.8 154.7h.01M378.5 160.0h.01M380.9 141.9h.01M376.9 157.8h.01M359.9 120.1h.01M374.1 149.6h.01M380.0 158.2h.01M375.4 158.0h.01M385.2 157.6h.01M362.9 105.8h.01M380.7 158.8h.01M379.2 159.8h.01M396.3 144.6h.01M373.4 152.7h.01M381.9 148.3h.01M381.2 158.0h.01M382.8 146.4h.01M380.8 143.7h.01M397.3 91.3h.01M371.4 132.2h.01M383.6 142.6h.01M374.2 137.6h.01M381.3 149.7h.01M371.7 155.9h.01M372.1 147.3h.01M364.9 117.2h.01M363.9 114.9h.01M367.4 122.5h.01M372.2 136.6h.01M386.1 128.6h.01M374.7 143.3h.01M358.7 94.5h.01M373.6 135.0h.01M374.0 132.6h.01M383.8 132.9h.01M381.4 148.3h.01M378.6 157.7h.01M382.7 143.4h.01M374.9 140.4h.01M380.0 148.3h.01M396.3 98.6h.01M373.6 152.5h.01M370.3 120.5h.01M383.7 123.0h.01M363.3 57.4h.01M383.7 127.1h.01M386.8 141.9h.01M369.3 101.5h.01M383.9 152.5h.01M380.9 153.1h.01M365.9 82.7h.01M377.8 159.9h.01M375.8 152.6h.01M366.0 146.2h.01M371.3 151.6h.01M379.7 158.7h.01M381.8 147.9h.01M364.3 104.5h.01M382.3 131.5h.01M367.6 127.4h.01M362.2 85.7h.01M372.8 158.2h.01M376.0 151.2h.01M370.7 133.4h.01M382.7 129.9h.01M392.7 128.5h.01M383.7 148.6h.01M371.3 135.9h.01M369.7 134.7h.01M368.7 148.6h.01M380.6 151.6h.01M379.7 158.0h.01M382.3 142.3h.01M367.5 108.6h.01M385.6 141.7h.01M381.4 146.7h.01M383.7 133.0h.01M369.2 130.0h.01M390.1 124.9h.01M372.2 134.5h.01M365.7 98.3h.01M376.7 154.2h.01M392.1 80.3h.01M374.6 145.6h.01M385.0 130.5h.01M390.6 135.9h.01M376.9 152.9h.01M379.5 156.1h.01M376.5 158.6h.01M382.0 152.9h.01M377.3 158.1h.01M373.7 141.1h.01M382.0 132.2h.01M382.7 137.2h.01M376.3 159.2h.01M383.7 126.1h.01M373.2 142.3h.01M373.4 152.4h.01M367.9 130.9h.01M371.9 152.5h.01M384.5 137.5h.01M376.7 151.8h.01M370.6 149.4h.01M385.1 118.1h.01M384.9 134.1h.01M365.6 114.1h.01M389.0 121.5h.01M396.1 129.4h.01M381.3 152.4h.01M371.4 142.9h.01M390.0 118.9h.01M375.3 141.9h.01M377.4 159.0h.01M374.2 139.9h.01M385.0 126.2h.01M379.1 158.0h.01M373.0 155.6h.01M377.7 159.0h.01M393.5 128.8h.01M372.4 137.5h.01M365.7 144.1h.01M375.5 150.0h.01M372.0 140.1h.01M372.0 122.1h.01M396.0 114.6h.01M382.8 138.6h.01M374.0 129.6h.01M361.6 75.8h.01M375.2 156.0h.01M378.2 159.6h.01M381.6 141.7h.01M380.7 140.4h.01M362.7 126.7h.01M389.4 122.3h.01M388.9 122.6h.01M393.3 112.7h.01M392.0 107.4h.01M398.0 143.0h.01M370.0 125.1h.01M369.8 150.4h.01M375.7 149.9h.01M381.0 151.2h.01M376.0 156.4h.01M366.7 102.6h.01M375.0 143.5h.01M376.2 158.0h.01M376.2 159.0h.01M379.8 150.8h.01M382.8 136.7h.01M374.5 140.5h.01M376.8 158.3h.01M372.9 156.2h.01M383.5 124.4h.01M364.7 145.1h.01M375.5 143.5h.01M383.7 143.6h.01M383.9 129.1h.01M381.4 152.8h.01M379.8 159.1h.01M368.9 89.6h.01M383.8 136.3h.01M377.8 159.6h.01M379.9 155.1h.01M372.6 130.9h.01M381.8 155.6h.01M382.9 157.7h.01M379.8 157.5h.01M391.2 128.8h.01M385.0 125.1h.01M366.9 117.9h.01M370.2 139.6h.01M385.2 121.1h.01M366.1 100.4h.01M388.1 132.1h.01M383.8 114.4h.01M358.9 145.2h.01M370.8 149.3h.01M382.9 143.4h.01M374.1 151.0h.01M384.7 143.5h.01M379.5 148.6h.01M365.1 148.4h.01M372.9 142.1h.01M376.7 150.7h.01M384.6 133.1h.01M376.9 158.5h.01M382.3 147.4h.01M374.5 152.8h.01M387.1 152.3h.01M374.5 156.8h.01M393.1 89.9h.01M378.9 159.3h.01M374.2 155.5h.01M380.0 152.3h.01M374.8 145.4h.01M379.0 160.3h.01M378.6 159.9h.01M384.5 110.4h.01M371.0 116.3h.01M370.8 118.4h.01M375.6 156.6h.01M379.8 159.3h.01M380.2 145.6h.01M370.4 132.9h.01M377.0 159.1h.01M377.2 155.7h.01M388.9 120.7h.01M390.1 124.5h.01M383.9 118.2h.01M377.7 158.7h.01M377.2 159.4h.01M379.2 156.6h.01M380.1 152.4h.01M384.8 149.5h.01M362.9 103.2h.01M377.0 157.3h.01M379.5 156.8h.01M381.6 130.2h.01M395.0 116.0h.01M381.4 142.4h.01M384.1 145.6h.01M358.2 126.4h.01M370.2 143.0h.01M388.2 113.6h.01M368.8 149.6h.01M384.6 128.2h.01M373.6 136.3h.01M381.7 155.8h.01M371.1 138.9h.01M358.4 113.3h.01M381.9 139.4h.01M374.5 145.9h.01M372.6 138.1h.01M372.9 126.2h.01M386.1 155.0h.01M386.3 157.0h.01M379.5 157.1h.01M376.3 152.3h.01M384.0 152.3h.01M371.1 143.0h.01M381.6 147.2h.01M380.4 152.0h.01M379.5 147.9h.01M373.9 130.1h.01M371.3 124.0h.01M382.7 139.7h.01M369.4 144.1h.01M368.2 139.8h.01M378.2 158.7h.01M374.0 148.5h.01M376.0 151.0h.01M375.4 147.6h.01M372.1 149.2h.01M365.0 119.4h.01M378.2 159.5h.01M388.8 111.4h.01M380.0 157.5h.01M375.6 154.1h.01M363.7 138.1h.01M383.5 126.7h.01M372.8 149.6h.01M364.6 114.5h.01M366.3 89.2h.01M384.0 121.4h.01M364.5 140.5h.01M381.8 148.0h.01M379.2 157.9h.01M375.9 159.1h.01M371.8 139.3h.01M375.9 146.5h.01M378.3 159.8h.01M379.0 155.2h.01M371.5 145.6h.01M387.8 113.7h.01M375.5 148.0h.01M377.1 159.8h.01M380.4 151.3h.01M372.0 154.7h.01M387.2 108.4h.01M376.3 159.5h.01M374.4 139.5h.01M381.9 129.9h.01M382.0 138.5h.01M379.9 147.5h.01M363.9 131.8h.01M372.7 145.4h.01M379.5 157.4h.01M379.5 158.6h.01M377.2 159.6h.01M377.4 160.3h.01M376.1 150.8h.01M374.9 139.9h.01M369.5 144.4h.01M377.6 158.7h.01M384.5 137.3h.01M387.8 140.8h.01M367.7 105.9h.01M377.6 159.2h.01M381.1 150.9h.01M382.5 151.9h.01M374.5 142.7h.01M376.4 148.1h.01M377.3 159.1h.01M384.9 117.3h.01M380.7 150.1h.01M379.0 159.1h.01M371.1 125.5h.01M384.0 156.0h.01M391.4 89.8h.01M375.5 148.6h.01M368.2 120.0h.01M379.1 158.9h.01M379.8 156.8h.01M382.1 136.4h.01M390.5 74.3h.01M368.6 125.1h.01M389.7 101.9h.01M382.5 139.5h.01M382.3 135.6h.01M379.5 155.7h.01M381.2 152.0h.01M387.5 140.1h.01M378.1 160.0h.01M381.9 136.2h.01M367.9 134.2h.01M371.7 132.7h.01M382.6 159.3h.01M384.5 146.9h.01M376.7 151.6h.01M386.5 143.1h.01M377.6 157.3h.01M372.4 122.8h.01M385.6 128.8h.01M371.6 127.6h.01M379.0 157.8h.01M372.3 127.7h.01M385.1 133.4h.01M384.2 134.4h.01M373.4 155.6h.01M385.8 109.6h.01M383.3 136.3h.01M375.7 152.6h.01M374.8 151.6h.01M371.7 111.5h.01M385.7 139.4h.01M375.5 144.0h.01M358.0 126.6h.01M367.1 124.9h.01M374.4 152.4h.01M374.9 142.4h.01M377.7 159.2h.01M381.1 137.7h.01M378.2 159.7h.01M378.9 159.8h.01M395.9 104.0h.01M376.5 159.6h.01M380.8 142.8h.01M386.7 129.7h.01M377.4 157.9h.01M381.7 145.5h.01M371.9 143.4h.01M377.0 159.5h.01M377.5 158.9h.01M370.6 141.1h.01M366.4 81.0h.01M375.9 148.3h.01M377.4 158.9h.01M378.8 157.6h.01M387.2 132.6h.01M381.8 136.7h.01M372.7 149.5h.01M373.6 143.2h.01M381.9 133.3h.01M379.6 160.0h.01M373.2 147.5h.01M370.0 102.2h.01M390.9 103.3h.01M381.7 135.2h.01M366.5 141.7h.01M368.7 101.9h.01M372.5 122.8h.01M379.1 151.8h.01M373.3 151.1h.01M376.0 155.4h.01M381.6 141.5h.01M372.1 135.2h.01M379.6 156.3h.01M383.8 125.0h.01M383.7 139.5h.01M383.1 131.4h.01M394.2 124.8h.01M379.5 158.2h.01M389.7 128.5h.01M375.6 151.3h.01M376.0 151.5h.01M376.1 152.3h.01M376.7 151.7h.01M381.2 145.3h.01M380.0 152.8h.01M374.1 153.6h.01M380.5 151.8h.01M373.3 155.8h.01M385.0 106.9h.01M365.4 129.8h.01M385.3 105.9h.01M375.2 149.7h.01M372.2 146.0h.01M372.2 123.6h.01M383.2 154.3h.01M384.4 140.1h.01M388.4 153.0h.01M364.0 137.2h.01M382.5 158.1h.01M390.8 152.3h.01M390.1 132.6h.01M375.2 157.3h.01M369.5 122.2h.01M373.0 130.1h.01M365.7 69.6h.01M379.8 151.6h.01M370.4 111.8h.01M377.6 157.9h.01M378.0 159.9h.01M392.1 106.4h.01M373.3 149.8h.01M372.8 158.5h.01M364.2 128.8h.01M379.8 157.9h.01M377.4 159.8h.01M379.5 147.4h.01M388.8 143.9h.01M371.4 134.2h.01M397.9 71.6h.01M376.8 155.3h.01M373.3 131.7h.01M363.5 88.8h.01M372.9 151.3h.01M379.9 147.9h.01M393.3 92.0h.01M375.3 141.0h.01M373.4 152.6h.01M375.4 154.5h.01M384.4 123.9h.01M392.1 95.0h.01M381.8 143.4h.01M380.0 154.5h.01M371.3 133.9h.01M377.7 160.3h.01M377.2 155.6h.01M373.7 132.1h.01M377.4 156.9h.01M395.3 104.5h.01M379.5 153.4h.01M388.9 95.0h.01M373.1 137.6h.01M369.7 146.1h.01M376.1 150.6h.01M376.0 156.1h.01M378.9 158.8h.01M376.0 154.9h.01M378.4 160.3h.01M369.0 121.3h.01M375.9 149.8h.01M376.9 155.3h.01M377.6 157.5h.01M373.3 130.8h.01M396.3 143.7h.01M383.0 144.7h.01M369.5 122.9h.01M377.9 160.4h.01M368.7 104.4h.01M384.5 154.0h.01M375.4 151.9h.01M388.1 146.6h.01M366.1 83.5h.01M376.5 157.7h.01M376.4 159.0h.01M376.9 153.4h.01M372.6 144.4h.01M379.2 152.9h.01M377.6 158.4h.01M383.0 151.3h.01M374.9 143.1h.01M382.0 129.9h.01M394.2 68.3h.01M366.3 124.1h.01M380.1 150.1h.01M368.4 103.8h.01M378.9 157.6h.01M378.7 156.8h.01M370.9 138.4h.01M382.2 151.0h.01M386.6 151.2h.01M379.7 152.4h.01M392.0 119.5h.01M375.0 136.1h.01M384.0 145.6h.01M387.3 125.1h.01M384.8 126.9h.01M380.2 152.3h.01M385.4 157.4h.01M372.5 129.2h.01M381.3 138.6h.01M393.9 134.1h.01M382.0 138.5h.01M377.8 159.4h.01M384.0 138.4h.01M373.3 134.0h.01M368.3 132.9h.01M379.1 152.7h.01M364.5 117.6h.01M375.8 154.7h.01M376.7 153.7h.01M383.3 147.7h.01M397.9 91.9h.01M376.1 159.5h.01M377.1 159.4h.01M361.1 70.8h.01M384.3 156.0h.01M374.4 151.0h.01M383.8 152.9h.01M375.7 149.2h.01M371.4 141.4h.01M379.5 151.8h.01M376.9 157.6h.01M384.1 147.9h.01M375.4 152.5h.01M376.4 152.4h.01M376.2 151.7h.01M374.5 151.3h.01M379.7 149.4h.01M376.2 148.7h.01M379.7 157.6h.01M370.8 146.1h.01M390.8 118.1h.01M385.2 114.7h.01M377.9 160.0h.01M388.9 141.3h.01M377.0 157.8h.01M389.6 92.7h.01M379.0 158.3h.01M390.1 118.8h.01M380.8 152.4h.01M376.8 153.2h.01M384.6 135.8h.01M390.9 107.9h.01M379.4 155.8h.01M385.1 148.5h.01M376.1 154.4h.01M396.4 71.9h.01M375.9 149.0h.01M372.9 149.4h.01M378.2 159.8h.01M361.7 62.3h.01M383.4 126.4h.01M358.2 103.6h.01M371.6 146.4h.01M391.4 119.5h.01M385.8 143.0h.01M372.7 152.3h.01M370.7 121.4h.01M378.6 158.3h.01M366.9 84.2h.01M378.8 158.7h.01M390.5 130.4h.01M372.8 149.2h.01M379.9 158.8h.01M374.7 158.7h.01M375.6 155.5h.01M374.4 132.4h.01M383.4 141.7h.01M384.0 123.7h.01M379.9 152.7h.01M378.7 157.1h.01M382.1 140.5h.01M389.2 78.3h.01M378.2 159.5h.01M381.8 133.6h.01M374.6 158.7h.01M365.0 134.8h.01M374.1 140.5h.01M361.9 90.0h.01M365.7 149.5h.01M380.7 154.7h.01M373.7 144.8h.01M380.2 157.8h.01M386.7 128.8h.01M367.1 144.6h.01M377.7 159.1h.01M387.8 99.4h.01M362.3 121.6h.01M395.8 134.6h.01M383.5 149.7h.01M372.2 124.4h.01M381.2 138.9h.01M371.0 129.9h.01M363.3 132.5h.01M368.1 83.8h.01M377.2 154.8h.01M379.7 151.9h.01M372.9 139.4h.01M378.8 158.2h.01M381.5 140.1h.01M380.7 152.9h.01M382.1 148.9h.01M380.7 145.3h.01M376.3 159.3h.01M364.5 78.5h.01M376.6 151.3h.01M378.8 156.7h.01M370.1 117.7h.01M376.1 148.8h.01M383.9 119.8h.01M385.1 144.7h.01M372.0 143.8h.01M380.0 147.9h.01M384.7 117.0h.01M358.1 112.7h.01M379.4 152.5h.01M388.0 114.4h.01M377.3 159.1h.01M367.2 111.3h.01M364.4 86.7h.01M376.5 151.1h.01M374.5 145.3h.01M373.7 149.2h.01M377.0 153.5h.01M376.1 158.7h.01M371.4 138.6h.01M365.6 125.9h.01M379.0 156.7h.01M378.3 159.9h.01M382.2 135.7h.01M375.4 139.3h.01M374.8 150.0h.01M375.8 155.9h.01M371.4 135.3h.01M389.1 130.9h.01M387.5 151.1h.01M378.2 159.8h.01M373.5 146.5h.01M382.5 140.4h.01M372.6 153.9h.01M380.4 154.0h.01M368.1 130.7h.01M382.4 137.0h.01M390.5 133.4h.01M365.3 135.7h.01M372.8 151.8h.01M376.5 156.0h.01M397.0 130.5h.01M371.3 123.4h.01M382.6 144.2h.01M377.8 157.5h.01M380.7 153.1h.01M393.7 64.9h.01M374.3 149.2h.01M376.1 152.2h.01M375.0 144.2h.01M382.3 150.6h.01M381.6 142.9h.01M370.7 149.1h.01M376.4 151.9h.01M396.9 97.8h.01M389.9 86.9h.01M379.9 147.2h.01M388.2 122.6h.01M377.5 156.9h.01M386.4 104.0h.01M382.3 129.3h.01M380.1 152.0h.01M378.8 158.2h.01M379.7 149.5h.01M384.6 109.3h.01M372.1 130.5h.01M384.4 138.3h.01M377.8 158.0h.01M379.6 158.0h.01M390.9 119.9h.01M378.8 155.1h.01M383.7 133.5h.01M383.5 136.3h.01M381.1 145.1h.01M369.7 133.8h.01M386.5 142.3h.01M364.8 126.8h.01M381.0 156.4h.01M379.3 154.4h.01M383.5 131.1h.01M395.4 139.1h.01M377.7 159.2h.01M383.4 149.9h.01M374.1 144.2h.01M376.0 152.3h.01M392.6 123.0h.01M377.2 157.6h.01M369.8 107.2h.01M381.3 143.0h.01M388.6 126.7h.01M381.2 142.7h.01M370.2 143.2h.01M375.7 148.2h.01M385.6 115.8h.01M371.5 138.7h.01M370.4 128.0h.01M383.2 154.8h.01M371.2 145.3h.01M378.3 160.2h.01M385.4 115.5h.01M378.9 157.6h.01M371.4 122.2h.01M380.0 148.2h.01M382.6 152.9h.01M381.3 151.8h.01M378.6 159.6h.01M371.4 152.0h.01M371.0 148.1h.01M386.7 131.8h.01M375.6 143.3h.01M374.3 149.7h.01M371.4 147.9h.01M376.6 157.1h.01M377.4 157.2h.01M375.7 152.1h.01M375.4 142.0h.01M381.9 157.9h.01M373.0 157.9h.01M380.9 158.9h.01M385.8 118.0h.01M388.9 100.6h.01M381.9 146.3h.01M381.5 140.7h.01M358.7 96.9h.01M374.3 144.0h.01M369.6 152.1h.01M391.0 120.2h.01M375.5 157.9h.01M372.9 154.1h.01M383.4 134.6h.01M383.6 140.1h.01M371.6 137.4h.01M363.4 126.0h.01M376.4 153.3h.01M371.7 111.4h.01M372.9 145.9h.01M362.8 86.6h.01M364.9 131.2h.01M374.7 145.5h.01M375.3 144.1h.01M363.1 88.3h.01M368.7 118.7h.01M361.4 114.1h.01M379.6 154.9h.01M379.0 155.4h.01M375.4 147.8h.01M373.6 136.5h.01M385.0 152.8h.01M377.4 158.2h.01M373.0 130.7h.01M375.6 159.6h.01M385.7 136.2h.01M368.7 108.6h.01M382.4 144.1h.01M382.3 133.7h.01M376.6 160.2h.01M389.7 135.5h.01M370.3 154.5h.01M370.0 106.6h.01M368.1 145.2h.01M382.8 143.0h.01M380.6 160.2h.01M384.3 126.1h.01M387.1 111.9h.01M375.3 155.7h.01M374.6 159.9h.01M388.3 97.4h.01M384.0 151.4h.01M373.5 152.3h.01M380.7 156.1h.01M381.7 143.3h.01M383.8 146.5h.01M379.5 152.5h.01M370.8 119.8h.01M393.5 136.6h.01M374.4 150.2h.01M375.7 147.6h.01M388.8 105.4h.01M368.0 124.6h.01M375.9 146.3h.01M383.8 156.6h.01M375.1 151.6h.01M379.5 159.7h.01M372.9 120.1h.01M395.8 106.1h.01M376.3 152.0h.01M369.9 109.0h.01M383.0 122.0h.01M389.7 71.5h.01M372.3 130.5h.01M378.8 154.6h.01M375.5 145.7h.01M362.7 121.7h.01M373.0 145.7h.01M379.3 154.1h.01M373.6 148.8h.01M388.5 152.2h.01M389.1 124.8h.01M397.9 94.1h.01M380.2 151.9h.01M367.2 131.6h.01M374.8 147.3h.01M387.0 140.3h.01M384.2 127.3h.01M379.6 158.8h.01M381.1 155.7h.01M370.9 143.5h.01M371.3 134.7h.01M375.9 158.0h.01M367.3 141.6h.01M393.5 135.1h.01M375.7 148.1h.01M377.0 159.0h.01M377.7 158.9h.01M378.4 160.2h.01M389.1 121.8h.01M385.1 128.8h.01M386.1 150.9h.01M382.3 157.0h.01M382.0 136.8h.01M376.5 157.8h.01M390.9 108.7h.01M370.5 119.4h.01M374.7 154.9h.01M371.3 150.1h.01M377.2 158.2h.01M385.4 135.0h.01M374.7 149.3h.01M371.9 134.0h.01M374.9 145.3h.01M397.6 143.3h.01M375.4 148.1h.01M363.9 91.1h.01M363.8 138.8h.01M365.8 106.0h.01M374.8 148.8h.01M377.5 159.4h.01M379.4 152.0h.01M381.4 136.1h.01M371.6 135.9h.01M372.0 121.0h.01M370.7 124.3h.01M370.7 118.8h.01M363.3 139.8h.01M391.8 147.6h.01M377.5 158.1h.01M393.5 133.3h.01M387.5 140.1h.01M382.2 132.8h.01M369.0 120.7h.01M372.0 138.7h.01M379.9 153.1h.01M381.7 154.3h.01M377.0 158.7h.01M374.6 149.9h.01M375.1 142.2h.01M365.2 121.6h.01M372.8 139.0h.01M371.9 132.9h.01M380.4 145.6h.01M363.1 134.1h.01M374.7 154.4h.01M380.7 147.4h.01M383.1 133.2h.01M375.9 154.3h.01M372.6 125.6h.01M376.7 152.4h.01M381.8 139.3h.01M371.7 142.8h.01M376.2 147.7h.01M389.0 119.6h.01M381.5 135.8h.01M372.3 120.5h.01M374.2 131.5h.01M397.5 139.7h.01M373.8 142.9h.01M371.1 142.1h.01M383.6 147.2h.01M376.9 153.4h.01M387.2 128.1h.01M379.8 157.6h.01M377.2 156.7h.01M376.8 157.8h.01M380.9 138.3h.01M386.4 129.3h.01M378.6 159.9h.01M371.7 120.3h.01M387.2 92.7h.01M379.8 154.2h.01M386.4 121.3h.01M384.3 119.4h.01M373.8 131.2h.01M380.5 144.8h.01M370.4 132.6h.01M374.4 143.7h.01M390.3 121.1h.01M374.4 145.8h.01M372.5 139.3h.01M375.5 142.9h.01M376.5 156.8h.01M390.1 129.4h.01M379.2 153.0h.01M377.2 155.0h.01M380.2 150.7h.01M377.6 158.5h.01M380.2 153.3h.01M378.2 160.2h.01M375.7 151.8h.01M373.9 148.9h.01M370.1 152.0h.01M377.8 160.2h.01M391.3 144.1h.01M380.1 150.1h.01M368.9 123.7h.01M379.1 158.8h.01M379.8 155.5h.01M378.5 159.1h.01M388.1 146.5h.01M384.5 112.7h.01M364.2 64.8h.01M370.2 142.2h.01M381.6 138.1h.01M369.4 118.9h.01M374.0 152.8h.01M375.7 157.1h.01M382.2 150.5h.01M384.4 128.8h.01M377.0 154.7h.01M380.5 142.0h.01M372.7 137.5h.01M373.2 156.4h.01M373.2 153.2h.01M394.4 76.3h.01M371.5 154.8h.01M374.0 156.3h.01M375.7 157.1h.01M373.1 149.4h.01M383.9 133.7h.01M377.5 158.2h.01M380.0 147.7h.01M387.3 102.7h.01M376.4 156.9h.01M381.8 152.3h.01M382.4 140.4h.01M374.9 152.0h.01M383.4 152.8h.01M374.9 138.2h.01M363.9 125.9h.01M384.9 130.1h.01M386.5 102.7h.01M377.0 154.8h.01M366.8 126.1h.01M379.4 155.9h.01M371.3 139.2h.01M384.0 142.4h.01M376.4 152.1h.01M385.3 149.2h.01M378.6 158.7h.01M383.3 141.0h.01M391.2 119.0h.01M370.1 116.4h.01M377.5 159.1h.01M376.7 155.2h.01M368.5 153.4h.01M383.5 155.4h.01M375.3 159.4h.01M386.4 121.5h.01M374.3 154.5h.01M383.0 130.8h.01M376.4 155.2h.01M378.9 156.8h.01M373.9 143.8h.01M379.9 153.0h.01M383.9 145.0h.01M397.3 142.8h.01M380.1 160.3h.01M380.4 141.4h.01M381.1 157.9h.01M371.6 107.2h.01M374.1 156.1h.01M378.8 158.7h.01M377.0 157.1h.01M380.7 154.3h.01M381.1 158.2h.01M376.0 153.2h.01M393.3 121.2h.01M384.4 145.7h.01M367.8 149.8h.01M381.4 145.2h.01M368.4 145.5h.01M377.8 159.2h.01M360.0 104.2h.01M374.0 133.9h.01M374.8 136.9h.01M372.1 125.5h.01M366.5 117.2h.01M388.9 85.0h.01M383.0 156.8h.01M375.3 157.5h.01M382.0 151.9h.01M387.6 118.4h.01M385.7 137.1h.01M376.2 156.7h.01M374.6 136.0h.01M377.8 159.5h.01M386.2 127.5h.01M381.3 155.0h.01M385.8 138.0h.01M377.6 159.9h.01M390.5 82.2h.01M383.2 154.7h.01M383.0 138.1h.01M370.0 152.4h.01M379.1 158.2h.01M395.5 140.0h.01M372.9 143.3h.01M383.3 127.4h.01M373.2 147.6h.01M372.8 148.1h.01M377.1 159.7h.01M379.6 152.4h.01M374.2 139.1h.01M380.9 138.9h.01M370.5 112.8h.01M375.4 146.0h.01M373.7 136.2h.01M362.4 98.7h.01M385.0 152.3h.01M378.7 158.3h.01M387.0 132.7h.01M381.8 146.4h.01M383.8 138.6h.01M385.5 138.3h.01M374.9 141.5h.01M370.4 112.1h.01M377.4 160.1h.01M366.3 101.4h.01M374.0 158.1h.01M380.7 153.9h.01M377.0 157.6h.01M381.0 139.5h.01M373.9 144.6h.01M375.8 148.5h.01M367.4 145.8h.01M385.6 127.0h.01M377.0 158.2h.01M379.4 159.3h.01M387.2 123.1h.01M389.8 153.9h.01M380.0 159.3h.01M370.7 134.3h.01M377.3 159.2h.01M383.0 142.5h.01M381.4 135.0h.01M385.9 152.4h.01M378.4 159.9h.01M375.8 155.5h.01M368.8 90.7h.01M365.6 102.8h.01M366.3 119.7h.01M376.6 154.5h.01M374.5 141.0h.01M385.8 149.2h.01M380.2 150.8h.01M380.1 143.5h.01M376.8 159.4h.01M374.6 148.9h.01M380.3 143.3h.01M393.8 136.5h.01M381.9 148.5h.01M377.2 156.0h.01M384.7 116.3h.01M381.7 135.6h.01M375.7 157.3h.01M383.3 152.5h.01M384.0 135.8h.01M377.9 159.8h.01M375.2 142.7h.01M381.0 141.1h.01M374.7 146.9h.01M371.0 133.5h.01M389.2 116.6h.01M378.7 158.8h.01M375.4 159.0h.01M371.6 138.1h.01M381.4 151.7h.01M378.0 160.1h.01M385.7 122.4h.01M371.2 133.4h.01M379.7 158.9h.01M380.3 144.3h.01M377.1 158.8h.01M374.6 150.2h.01M392.1 88.6h.01M377.4 156.6h.01M384.7 151.7h.01M363.5 99.8h.01M369.7 116.5h.01M379.9 152.0h.01M373.2 136.2h.01M362.6 111.5h.01M381.2 143.7h.01M377.8 159.5h.01M384.2 126.2h.01M373.7 150.0h.01M380.8 146.3h.01M395.6 136.8h.01M379.8 150.9h.01M385.5 111.3h.01M376.6 155.3h.01M361.0 111.8h.01M393.6 112.0h.01M395.7 120.7h.01M361.1 114.0h.01M367.6 121.9h.01M385.5 143.8h.01M367.8 112.2h.01M383.6 143.4h.01M374.3 140.1h.01M372.6 150.7h.01M373.9 146.2h.01M377.3 159.2h.01M369.8 156.3h.01M376.0 152.7h.01M362.8 103.5h.01M381.9 149.0h.01M378.6 156.7h.01M384.6 120.2h.01M379.0 155.6h.01M381.7 144.7h.01M383.8 140.4h.01M373.7 147.3h.01M375.4 140.8h.01M381.1 146.7h.01M375.1 152.9h.01M375.3 140.6h.01M378.2 159.3h.01M373.8 150.0h.01M376.2 153.5h.01M363.8 129.2h.01M380.8 145.8h.01M380.8 156.3h.01M382.8 131.3h.01M386.1 123.5h.01M377.5 158.2h.01M382.9 140.0h.01M376.8 150.7h.01M376.2 154.0h.01M377.5 157.2h.01M374.1 140.2h.01M371.7 140.2h.01M384.0 149.6h.01M371.8 120.2h.01M383.1 137.2h.01M369.6 89.1h.01M374.8 140.7h.01M373.2 132.5h.01M373.1 134.7h.01M378.6 158.8h.01M381.3 138.6h.01M369.1 117.5h.01M377.3 158.1h.01M383.9 139.5h.01M369.0 124.2h.01M377.6 158.9h.01M372.8 117.3h.01M377.3 157.1h.01M377.6 159.6h.01M373.7 135.8h.01M375.6 153.5h.01M382.3 127.2h.01M374.5 156.1h.01M372.7 134.1h.01M379.1 155.9h.01M385.3 136.1h.01M375.1 150.3h.01M386.4 118.1h.01M374.0 149.0h.01M381.2 139.5h.01M378.9 153.7h.01M375.0 159.5h.01M388.9 138.6h.01M376.6 156.1h.01M368.7 120.2h.01M383.8 127.2h.01M376.9 160.0h.01M363.1 106.7h.01M373.1 144.7h.01M391.6 93.8h.01M376.4 155.7h.01M390.1 93.7h.01M376.9 157.4h.01M381.5 152.0h.01M380.7 154.0h.01M369.2 114.4h.01M383.6 147.0h.01M387.1 148.2h.01M377.1 155.6h.01M385.5 102.6h.01M378.7 157.4h.01M379.8 151.5h.01M380.7 141.5h.01M373.8 152.4h.01M386.3 112.9h.01M381.6 152.0h.01M374.2 142.0h.01M382.3 148.9h.01M384.4 113.3h.01M378.3 157.6h.01M381.3 144.6h.01M377.5 159.6h.01M380.1 157.6h.01M363.2 122.5h.01M368.1 142.6h.01M377.2 157.3h.01M376.9 155.8h.01M369.3 144.6h.01M386.4 136.8h.01M371.8 156.2h.01M368.0 143.6h.01M377.9 159.8h.01M381.4 145.0h.01M368.4 134.6h.01M380.8 152.0h.01M374.8 144.2h.01M367.1 128.4h.01M386.2 106.8h.01M372.8 136.9h.01M364.8 113.5h.01M374.3 154.8h.01M382.2 131.3h.01M374.1 142.6h.01M384.2 132.0h.01M373.1 146.0h.01M384.3 140.8h.01M381.0 153.2h.01M369.3 142.2h.01M371.3 154.1h.01M370.5 101.6h.01M362.0 146.7h.01M374.7 153.9h.01M363.5 136.3h.01M382.0 127.2h.01M379.6 153.8h.01M367.2 108.9h.01M389.3 140.8h.01M379.2 154.9h.01M367.6 155.6h.01M366.8 105.3h.01M389.2 153.7h.01M369.9 119.5h.01M385.2 127.5h.01M368.2 152.3h.01M369.7 131.8h.01M383.7 141.4h.01M394.0 116.9h.01M382.6 138.2h.01M368.4 102.5h.01M382.8 140.9h.01M384.7 139.1h.01M389.5 90.9h.01M380.9 151.2h.01M389.5 104.8h.01M383.3 140.6h.01M372.8 137.7h.01M383.3 152.8h.01M374.4 139.6h.01M376.8 159.5h.01M381.5 147.7h.01M371.1 127.0h.01M373.8 143.0h.01M372.3 145.4h.01M377.4 158.1h.01M379.3 151.4h.01M368.7 112.3h.01M381.8 133.9h.01M391.9 143.0h.01M379.1 156.4h.01M377.6 159.6h.01M372.1 123.8h.01M375.4 154.8h.01M372.8 152.1h.01M376.3 158.1h.01M373.6 144.1h.01M382.7 149.0h.01M386.1 136.8h.01M359.5 84.9h.01M385.0 143.3h.01M384.2 140.7h.01M379.9 157.1h.01M388.8 133.3h.01M394.8 106.2h.01M380.2 157.7h.01M368.8 140.7h.01M387.0 129.8h.01M374.0 154.1h.01M380.7 144.3h.01M371.3 125.2h.01M364.0 128.4h.01M386.3 152.4h.01M373.9 155.1h.01M375.7 145.7h.01M378.5 158.1h.01M376.3 157.7h.01M383.2 127.2h.01M379.9 158.8h.01M373.0 130.6h.01M377.0 155.8h.01M376.4 154.2h.01M380.0 143.7h.01M381.9 137.5h.01M379.4 154.8h.01M387.8 93.1h.01M376.9 152.2h.01M379.7 158.0h.01M388.2 112.4h.01M387.8 149.9h.01M374.9 152.6h.01M385.2 127.7h.01M378.7 156.3h.01M375.0 148.9h.01M375.0 146.7h.01M370.4 145.5h.01M383.0 125.7h.01M364.9 110.0h.01M374.2 134.7h.01M365.6 104.9h.01M365.6 131.8h.01M364.0 140.5h.01M375.2 158.2h.01M375.5 145.3h.01M381.1 158.7h.01M380.4 158.5h.01M383.2 126.1h.01M379.8 153.0h.01M372.0 113.7h.01M369.5 140.4h.01M378.2 158.9h.01M380.7 151.6h.01M380.5 149.0h.01M377.0 160.2h.01M375.2 146.6h.01M378.8 156.3h.01M385.7 95.3h.01M377.7 159.4h.01M381.6 140.0h.01M375.6 142.6h.01M374.3 147.6h.01M384.2 138.6h.01M383.9 115.8h.01M369.2 111.8h.01M378.6 159.7h.01M371.9 117.0h.01M368.2 89.4h.01M376.5 149.7h.01M375.2 142.4h.01M372.2 119.6h.01M386.0 129.3h.01M381.2 138.7h.01M379.8 147.2h.01M381.6 148.4h.01M380.9 149.4h.01M386.1 142.8h.01M387.7 109.6h.01M381.5 154.1h.01M387.7 144.7h.01M381.3 157.8h.01M377.3 160.0h.01M378.8 159.2h.01M393.5 68.1h.01M382.6 148.9h.01M374.7 148.1h.01M385.1 154.6h.01M376.7 157.2h.01M374.6 146.4h.01M375.9 152.8h.01M370.5 135.7h.01M380.7 141.0h.01M379.0 157.4h.01M381.9 157.0h.01M379.3 157.5h.01M371.4 135.8h.01M385.3 121.2h.01M391.3 131.2h.01M384.2 135.9h.01M376.2 148.5h.01M392.4 90.7h.01M363.0 106.5h.01M382.9 133.0h.01M371.8 133.8h.01M374.3 147.6h.01M359.5 142.7h.01M379.8 144.9h.01M394.8 140.0h.01M384.8 152.6h.01M376.9 156.7h.01" stroke="#52666a" stroke-opacity="0.6" stroke-width="0.72" stroke-linecap="round" fill="none"/>
<path d="M352.5 137.7h.01M400.6 141.2h.01M402.0 136.4h.01M399.4 134.7h.01M398.9 134.4h.01M400.7 151.1h.01M406.6 133.9h.01M400.7 149.7h.01M348.8 137.0h.01M354.7 147.7h.01M400.2 147.2h.01M353.4 139.6h.01M401.8 135.5h.01M399.2 139.4h.01M400.6 138.9h.01M398.2 136.3h.01M344.9 134.2h.01M356.4 141.2h.01M398.4 132.4h.01M399.5 140.6h.01M399.9 138.6h.01M355.2 134.1h.01M353.4 139.6h.01M350.6 133.0h.01M354.5 133.7h.01M343.6 137.7h.01M398.7 139.5h.01M350.4 138.9h.01M401.3 133.9h.01M405.7 138.8h.01M401.1 138.4h.01M356.8 137.9h.01M400.6 148.8h.01M348.5 140.2h.01M400.8 132.0h.01M351.0 139.3h.01M398.5 141.0h.01M401.9 148.6h.01M405.2 150.7h.01M407.2 140.4h.01M408.1 132.8h.01M409.7 144.0h.01M334.7 140.7h.01M357.7 132.8h.01M333.9 134.1h.01M414.2 138.0h.01M357.4 145.8h.01M330.5 148.8h.01M356.1 149.3h.01M399.4 139.6h.01M354.0 143.7h.01M345.7 150.6h.01M324.2 150.4h.01M459.6 150.6h.01M351.3 144.1h.01M341.1 136.9h.01M308.3 143.2h.01M311.8 150.2h.01M348.9 132.7h.01M350.1 141.0h.01M353.9 153.4h.01M342.1 140.3h.01M341.5 153.1h.01M407.6 151.9h.01M357.1 140.5h.01M354.4 140.5h.01M355.7 149.7h.01M348.8 149.8h.01M333.5 132.3h.01M336.7 132.2h.01M357.4 149.7h.01M324.2 137.0h.01M356.5 132.5h.01M347.7 151.8h.01M353.3 148.2h.01M419.3 134.4h.01M353.9 152.6h.01M336.8 148.0h.01M337.1 138.1h.01M356.4 148.6h.01M408.9 148.2h.01M346.2 150.7h.01M346.3 151.2h.01M343.9 134.8h.01M337.9 148.8h.01M344.2 140.2h.01M335.6 144.2h.01M357.1 149.6h.01M356.0 153.0h.01M413.1 138.8h.01M405.6 139.2h.01M354.8 133.7h.01M398.6 147.6h.01M323.6 147.3h.01M405.8 136.5h.01M399.1 133.2h.01M410.3 146.5h.01M416.1 147.4h.01M401.3 136.5h.01M399.9 151.2h.01M339.8 148.8h.01M414.4 146.6h.01M399.0 142.0h.01M411.8 145.4h.01M401.1 152.5h.01M355.8 141.4h.01M421.9 138.1h.01M340.2 151.3h.01M399.3 134.1h.01M401.7 140.0h.01M355.3 136.6h.01M331.4 150.6h.01M352.2 140.1h.01M399.9 142.3h.01M399.0 143.0h.01M402.9 149.8h.01M402.3 139.1h.01M345.4 153.8h.01M300.3 135.3h.01M400.1 141.4h.01M344.1 145.3h.01M347.2 136.7h.01M355.1 140.8h.01M332.7 145.8h.01M403.7 153.2h.01M335.0 144.2h.01M354.3 148.2h.01M399.7 132.6h.01M422.4 140.3h.01M421.7 135.2h.01M347.7 136.8h.01M406.7 145.2h.01M401.9 137.7h.01M407.5 148.9h.01M356.7 141.3h.01M352.7 144.2h.01M325.0 142.4h.01M355.5 141.4h.01M444.6 138.6h.01M345.9 132.6h.01M413.1 147.0h.01M350.0 153.4h.01M355.7 142.1h.01M421.0 144.0h.01M340.2 141.6h.01M401.2 153.0h.01M409.1 150.8h.01M354.4 146.0h.01M353.2 144.2h.01M410.9 145.8h.01M353.1 147.7h.01M338.0 149.0h.01M432.1 141.6h.01M332.8 149.6h.01M430.8 146.2h.01M356.2 143.4h.01M343.1 135.2h.01M403.3 134.3h.01M398.4 134.7h.01M414.0 147.1h.01M400.0 149.5h.01M426.8 153.1h.01M434.3 144.6h.01M429.5 139.8h.01M399.6 140.4h.01M415.3 133.6h.01M354.8 133.0h.01M350.0 148.0h.01M342.3 144.9h.01M411.6 140.7h.01M352.3 136.8h.01M347.1 152.1h.01M419.5 149.1h.01M350.5 147.3h.01M336.8 138.3h.01M333.7 137.2h.01M400.7 137.0h.01M399.7 144.3h.01M414.8 146.1h.01M356.9 146.1h.01M347.0 145.7h.01M343.7 132.8h.01M301.5 142.4h.01" stroke="#8a9a9a" stroke-opacity="0.5" stroke-width="0.7" stroke-linecap="round" fill="none"/>
<path d="M355.6 103.0h.01M349.8 119.6h.01M350.2 131.5h.01M356.8 130.7h.01M345.4 129.8h.01M348.4 70.4h.01M351.9 67.2h.01M344.9 123.6h.01M356.1 123.7h.01M355.6 108.0h.01M352.7 107.6h.01M356.9 127.7h.01M351.7 122.3h.01M351.0 123.1h.01M344.5 125.6h.01M349.9 78.1h.01M354.1 74.2h.01M351.5 89.8h.01M350.5 131.5h.01M341.8 105.6h.01M353.7 99.6h.01M349.1 114.0h.01M325.8 89.0h.01M357.2 99.2h.01M354.1 119.9h.01M357.6 115.7h.01M356.1 131.3h.01M356.3 126.2h.01M344.7 130.8h.01M349.5 77.3h.01M335.7 113.0h.01M352.4 77.2h.01M356.0 128.6h.01M354.3 114.3h.01M353.9 131.7h.01M352.3 106.2h.01M344.9 109.9h.01M347.6 131.3h.01M341.1 77.9h.01M352.3 117.6h.01M348.3 131.1h.01M354.7 129.0h.01M357.1 131.7h.01M356.3 121.1h.01M344.6 102.4h.01M354.0 121.9h.01M356.0 86.7h.01M350.9 112.2h.01M356.3 122.1h.01M345.3 128.7h.01M343.5 109.0h.01M349.6 131.6h.01M343.1 79.4h.01M354.5 120.9h.01M346.2 108.7h.01M353.4 127.1h.01M339.7 82.7h.01M355.0 112.3h.01M357.4 131.6h.01M353.9 99.9h.01M351.3 71.5h.01M354.5 127.0h.01M354.8 105.0h.01M337.5 106.2h.01M340.0 127.2h.01M331.2 80.0h.01M350.6 128.1h.01M353.4 90.9h.01M352.3 117.5h.01M343.6 128.4h.01M355.6 81.5h.01M356.1 88.7h.01M346.0 120.4h.01M355.9 131.7h.01M346.2 109.1h.01M351.5 78.5h.01M355.2 126.0h.01M354.2 107.7h.01M351.5 129.6h.01M353.0 115.9h.01M344.2 116.3h.01M350.1 108.7h.01M357.6 117.0h.01M357.8 91.1h.01M350.7 92.8h.01M352.9 112.3h.01M346.0 130.3h.01M354.1 125.0h.01M350.0 106.5h.01M330.9 97.9h.01M350.2 110.2h.01M351.2 108.6h.01M343.6 95.1h.01M326.3 96.0h.01M343.6 81.7h.01M356.0 116.9h.01M354.2 131.0h.01M340.9 75.5h.01M347.0 98.5h.01M344.5 68.2h.01M343.5 117.7h.01M342.9 82.5h.01M351.3 109.9h.01M354.9 123.2h.01M357.6 109.9h.01M357.6 122.6h.01M349.9 131.1h.01M340.6 67.6h.01M353.8 131.5h.01M354.4 129.9h.01M344.1 83.8h.01M355.6 80.1h.01M347.3 130.6h.01M347.4 116.0h.01M343.7 100.7h.01M356.9 86.0h.01M344.8 114.2h.01M349.5 72.6h.01M355.9 111.7h.01M356.2 129.1h.01M354.8 123.5h.01M346.4 123.5h.01M355.2 121.9h.01M354.1 131.7h.01M349.0 127.8h.01M343.7 130.2h.01M351.6 111.4h.01M352.3 110.6h.01M345.3 94.5h.01M352.1 120.6h.01M355.9 131.1h.01M354.6 129.0h.01M345.1 78.6h.01M354.2 126.4h.01M350.9 128.8h.01M353.9 76.0h.01M349.1 125.6h.01M353.7 121.4h.01M352.1 112.8h.01M354.8 113.1h.01M353.9 130.7h.01M357.2 131.6h.01M354.3 107.8h.01M346.5 98.8h.01M334.4 106.1h.01M343.0 129.1h.01M346.4 131.4h.01M333.2 91.6h.01M339.3 124.5h.01M350.2 82.2h.01M338.4 100.7h.01M345.1 95.7h.01M357.4 129.8h.01M356.3 87.8h.01M348.4 101.4h.01M350.4 131.7h.01M342.6 110.8h.01M347.9 131.1h.01M354.6 131.0h.01M346.8 127.2h.01M352.1 112.5h.01M341.7 102.1h.01M357.0 129.4h.01M346.6 122.8h.01M357.7 131.2h.01M347.7 95.8h.01M354.0 112.4h.01M350.8 129.9h.01M355.4 74.4h.01M357.7 115.9h.01M353.8 127.5h.01M355.2 108.1h.01M349.9 69.8h.01M345.5 110.4h.01M344.4 126.1h.01M350.5 131.6h.01M350.4 114.4h.01M355.7 122.0h.01M345.2 131.7h.01M337.6 121.6h.01M344.0 75.3h.01M352.2 118.0h.01M348.0 119.9h.01M353.7 131.4h.01M345.2 123.7h.01M354.7 125.5h.01M355.0 120.6h.01M334.0 79.7h.01M330.7 68.9h.01M347.0 131.3h.01M351.2 90.2h.01M354.1 131.4h.01M356.3 115.1h.01M353.3 96.1h.01M354.5 102.7h.01M349.4 117.9h.01M355.4 127.6h.01M350.2 126.6h.01M355.7 128.1h.01M352.7 130.6h.01M353.9 108.9h.01M342.5 116.8h.01M349.9 118.9h.01M356.9 125.0h.01M356.4 113.2h.01M335.8 115.4h.01M354.1 119.2h.01M343.4 80.9h.01M357.6 131.6h.01M332.8 99.5h.01M357.8 119.6h.01M338.5 78.6h.01M354.7 130.4h.01M350.0 96.6h.01M343.7 99.6h.01M351.1 107.3h.01M346.0 126.1h.01M346.4 122.9h.01M354.0 104.1h.01M356.5 131.1h.01M349.0 118.3h.01M348.8 131.7h.01M350.9 69.1h.01M334.0 101.2h.01M354.1 76.1h.01M353.8 131.6h.01M347.7 116.3h.01M347.8 72.8h.01M357.3 122.3h.01M347.5 127.4h.01M343.0 110.7h.01M343.2 122.5h.01M354.9 127.1h.01M354.0 77.0h.01M355.0 127.1h.01M347.8 70.2h.01M351.9 126.9h.01M356.2 131.3h.01M351.9 75.7h.01M343.2 64.8h.01M353.4 128.3h.01M342.6 131.5h.01M352.6 119.1h.01M355.3 131.7h.01M352.5 69.5h.01M343.3 127.1h.01M345.4 83.5h.01M357.1 115.0h.01M344.0 127.6h.01M344.3 131.6h.01M345.6 88.9h.01M357.3 131.2h.01M354.6 95.5h.01M353.3 125.2h.01M347.2 124.8h.01M353.6 125.1h.01M346.4 73.8h.01M326.1 99.1h.01M350.7 69.3h.01M352.4 125.3h.01M350.4 72.5h.01M345.7 91.6h.01M341.4 102.6h.01M353.0 121.2h.01M356.9 128.0h.01M354.7 131.2h.01M349.5 121.7h.01M334.0 65.5h.01M356.6 130.6h.01M347.1 114.6h.01M351.6 101.9h.01M342.6 81.0h.01M356.4 87.4h.01M349.3 119.2h.01M355.4 126.2h.01M355.5 83.4h.01M352.9 119.4h.01M350.0 126.1h.01M346.1 65.5h.01M350.7 83.8h.01M330.6 108.4h.01M356.0 128.2h.01M348.2 72.3h.01M344.8 114.5h.01M346.1 70.6h.01M348.8 101.9h.01M352.3 129.3h.01M354.0 106.8h.01M355.3 131.7h.01M347.6 127.9h.01M354.8 91.4h.01M356.9 130.5h.01M349.5 100.3h.01M355.4 99.6h.01M353.6 123.7h.01M353.7 109.1h.01M351.6 79.3h.01M352.8 128.0h.01M355.3 131.7h.01M351.7 83.7h.01M344.5 113.7h.01M357.6 110.1h.01M331.2 109.1h.01M352.7 110.7h.01M353.6 112.1h.01M356.6 114.0h.01M355.9 77.8h.01M350.5 131.3h.01M352.4 75.1h.01M338.6 122.4h.01M281.3 124.0h.01M282.9 121.8h.01M293.0 115.2h.01M292.4 130.2h.01M307.5 117.0h.01M315.5 108.1h.01M319.6 93.6h.01M322.6 94.7h.01M324.6 73.3h.01M326.6 76.6h.01M326.6 78.8h.01M348.8 45.1h.01M337.7 67.8h.01M345.8 62.3h.01M347.8 61.6h.01M356.8 65.6h.01M335.7 74.4h.01" stroke="#3f5557" stroke-width="1.9" stroke-linecap="round" fill="none"/>
<path d="M403.4 89.5h.01M400.2 111.8h.01M402.3 109.9h.01M400.8 84.1h.01M423.0 48.2h.01M401.8 108.4h.01M406.1 97.1h.01M414.3 116.5h.01M409.5 88.6h.01M402.0 111.5h.01M404.0 91.3h.01M403.4 117.2h.01M400.4 129.6h.01M411.7 95.7h.01M402.2 129.7h.01M424.4 84.8h.01M407.8 103.0h.01M402.5 73.4h.01M427.4 120.7h.01M443.2 57.6h.01M399.9 99.7h.01M407.3 119.8h.01M399.4 113.2h.01M398.3 127.1h.01M409.3 90.2h.01M403.1 109.7h.01M406.5 102.9h.01M434.7 69.1h.01M408.2 97.9h.01M414.0 106.9h.01M404.0 112.4h.01M403.6 130.7h.01M417.7 127.4h.01M398.2 131.2h.01M402.0 114.5h.01M436.6 53.1h.01M400.5 103.6h.01M399.9 129.2h.01M399.2 109.7h.01M403.8 122.4h.01M409.3 120.8h.01M398.6 107.8h.01M424.7 92.5h.01M405.1 81.1h.01M407.1 101.7h.01M409.6 73.5h.01M407.6 130.6h.01M408.6 112.5h.01M398.4 101.0h.01M401.4 85.9h.01M399.0 108.7h.01M416.7 85.7h.01M399.6 130.8h.01M424.8 88.5h.01M400.3 97.0h.01M422.0 106.6h.01M404.3 97.4h.01M399.8 100.2h.01M430.3 62.8h.01M405.1 124.2h.01M412.1 102.7h.01M402.3 82.2h.01M406.7 131.5h.01M399.2 101.4h.01M422.3 98.9h.01M399.3 92.5h.01M419.2 54.2h.01M429.7 82.7h.01M421.0 116.8h.01M406.1 99.2h.01M407.9 126.4h.01M398.6 92.7h.01M398.8 131.3h.01M402.9 102.2h.01M421.7 58.9h.01M401.7 118.2h.01M427.8 69.1h.01M439.8 61.2h.01M402.0 108.5h.01M405.7 85.8h.01M428.3 65.2h.01M405.6 99.2h.01M403.9 103.5h.01M400.4 131.4h.01M399.5 102.5h.01M399.7 88.2h.01M430.9 73.0h.01M409.4 103.3h.01M407.0 109.8h.01M406.1 129.0h.01M403.2 130.2h.01M399.1 100.8h.01M403.5 107.6h.01M407.0 96.9h.01M405.5 117.7h.01M403.0 110.1h.01M402.2 129.8h.01M419.4 80.3h.01M400.2 117.7h.01M400.6 109.1h.01M411.4 84.2h.01M406.8 122.3h.01M412.4 95.2h.01M398.8 96.9h.01M422.0 73.2h.01M414.1 77.0h.01M400.6 90.9h.01M399.0 122.5h.01M430.1 65.1h.01M399.7 112.1h.01M399.8 126.5h.01M421.2 75.0h.01M400.1 86.1h.01M421.5 93.8h.01M402.0 106.2h.01M400.1 131.2h.01M425.4 84.8h.01M410.2 118.6h.01M401.9 116.0h.01M438.6 79.6h.01M409.0 91.1h.01M403.3 85.7h.01M419.6 69.8h.01M409.9 120.8h.01M402.1 129.2h.01M424.7 84.2h.01M400.4 114.8h.01M408.7 125.6h.01M443.1 41.9h.01M408.1 78.7h.01M401.3 127.1h.01M445.7 56.8h.01M412.7 96.6h.01M411.7 118.2h.01M408.7 126.8h.01M404.0 115.1h.01M402.3 126.6h.01M407.2 90.1h.01M400.4 108.2h.01M409.0 106.2h.01M399.2 101.7h.01M412.2 111.8h.01M404.7 114.7h.01M398.7 100.6h.01M416.4 112.6h.01M402.3 91.8h.01M410.3 94.6h.01M401.4 128.4h.01M407.2 95.2h.01M399.3 117.0h.01M398.2 104.3h.01M399.3 122.3h.01M409.2 111.8h.01M417.5 115.1h.01M401.1 81.2h.01M438.2 57.2h.01M416.3 99.9h.01M398.2 92.3h.01M404.8 99.0h.01M404.2 117.5h.01M407.6 84.0h.01M407.1 98.5h.01M418.0 82.3h.01M425.2 71.7h.01M412.4 106.0h.01M409.5 83.6h.01M399.2 128.3h.01M401.1 127.1h.01M402.7 130.5h.01M432.2 66.7h.01M405.6 109.5h.01M417.8 79.1h.01M452.3 53.7h.01M402.2 103.0h.01M401.9 100.7h.01M406.6 83.3h.01M436.9 63.6h.01M403.3 102.3h.01M406.1 115.2h.01M412.2 94.8h.01M409.0 112.9h.01M428.4 82.0h.01M411.5 65.5h.01M401.0 84.6h.01M425.5 84.9h.01M401.7 103.8h.01M400.8 99.0h.01M435.1 69.1h.01M398.2 126.9h.01M415.3 93.5h.01M425.2 57.3h.01M416.1 103.9h.01M414.8 97.8h.01M410.0 110.5h.01M401.9 109.0h.01M439.7 52.8h.01M407.6 89.2h.01M400.4 121.1h.01M416.7 84.5h.01M400.8 114.9h.01M404.8 103.5h.01M409.7 82.5h.01M444.9 48.2h.01M410.6 105.6h.01M404.0 103.7h.01M398.2 131.7h.01M402.3 103.0h.01M402.4 111.9h.01M403.3 123.1h.01M403.5 79.7h.01M431.3 59.6h.01M401.6 130.6h.01M443.6 71.7h.01M400.3 87.7h.01M401.5 109.2h.01M403.4 126.4h.01M410.9 82.4h.01M409.5 94.0h.01M402.7 104.9h.01M416.2 106.7h.01M408.0 92.7h.01M398.4 90.7h.01M428.5 85.0h.01M428.9 51.7h.01M402.8 104.3h.01M426.7 59.6h.01M398.2 124.3h.01M414.4 78.3h.01M405.4 86.5h.01M413.8 127.7h.01M405.8 86.0h.01M439.7 61.5h.01M425.9 70.7h.01M403.7 81.2h.01M401.9 101.0h.01M403.9 109.0h.01M410.1 69.9h.01M404.8 90.4h.01M401.6 88.1h.01M412.1 119.8h.01M399.0 127.0h.01M407.4 99.6h.01M408.5 111.6h.01M398.6 108.0h.01M402.9 110.6h.01M407.0 107.3h.01M410.9 98.6h.01M405.1 103.1h.01M423.7 98.3h.01M398.3 126.5h.01M463.0 78.8h.01M450.5 34.7h.01M453.6 45.7h.01M452.6 53.5h.01M429.4 36.9h.01M413.3 35.8h.01M420.3 46.8h.01M415.3 44.6h.01M443.5 44.6h.01M430.4 43.5h.01M450.5 74.4h.01" stroke="#fbb315" stroke-width="1.9" stroke-linecap="round" fill="none"/>
<path d="M276.4 28.0 V171.5 H478.75" stroke="#555b5c" stroke-width="0.8" fill="none"/>
<path d="M273.79999999999995 160.40 H276.4" stroke="#555b5c" stroke-width="0.7"/>
<text x="273.2" y="162.80" text-anchor="end" font-size="6.8" fill="#444">0</text>
<path d="M273.79999999999995 138.35 H276.4" stroke="#555b5c" stroke-width="0.7"/>
<text x="273.2" y="140.75" text-anchor="end" font-size="6.8" fill="#444">1</text>
<path d="M273.79999999999995 116.30 H276.4" stroke="#555b5c" stroke-width="0.7"/>
<text x="273.2" y="118.70" text-anchor="end" font-size="6.8" fill="#444">2</text>
<path d="M273.79999999999995 94.25 H276.4" stroke="#555b5c" stroke-width="0.7"/>
<text x="273.2" y="96.65" text-anchor="end" font-size="6.8" fill="#444">3</text>
<path d="M273.79999999999995 72.20 H276.4" stroke="#555b5c" stroke-width="0.7"/>
<text x="273.2" y="74.60" text-anchor="end" font-size="6.8" fill="#444">4</text>
<path d="M273.79999999999995 50.15 H276.4" stroke="#555b5c" stroke-width="0.7"/>
<text x="273.2" y="52.55" text-anchor="end" font-size="6.8" fill="#444">5</text>
<path d="M273.79999999999995 28.10 H276.4" stroke="#555b5c" stroke-width="0.7"/>
<text x="273.2" y="30.50" text-anchor="end" font-size="6.8" fill="#444">6</text>
<path d="M297.40 171.5 v2.4" stroke="#555b5c" stroke-width="0.7"/>
<text x="296.40" y="181.0" text-anchor="middle" font-size="6.8" fill="#444">−4</text>
<path d="M337.70 171.5 v2.4" stroke="#555b5c" stroke-width="0.7"/>
<text x="336.70" y="181.0" text-anchor="middle" font-size="6.8" fill="#444">−2</text>
<path d="M378.00 171.5 v2.4" stroke="#555b5c" stroke-width="0.7"/>
<text x="378.00" y="181.0" text-anchor="middle" font-size="6.8" fill="#444">0</text>
<path d="M418.30 171.5 v2.4" stroke="#555b5c" stroke-width="0.7"/>
<text x="418.30" y="181.0" text-anchor="middle" font-size="6.8" fill="#444">2</text>
<path d="M458.60 171.5 v2.4" stroke="#555b5c" stroke-width="0.7"/>
<text x="458.60" y="181.0" text-anchor="middle" font-size="6.8" fill="#444">4</text>
<text transform="translate(259.2,91.5) rotate(-90)" text-anchor="middle" font-size="9.3" fill="#222">-log10 p-value</text>
<text x="377.6" y="193.8" text-anchor="middle" font-size="8.9" fill="#222">log2 fold change</text>
</g>
<text x="378.7" y="18.1" text-anchor="middle" font-size="13.6" fill="#222">Wildtype</text>
<path d="M352.4 20.3 H405 " stroke="#222" stroke-width="1.1"/>
<g>
<path d="M359.60 204.6 V347.3 M400.20 204.6 V347.3 M278.2 307.43 H481.40" stroke="#c4c4c4" stroke-width="0.55" fill="none"/>
<path d="M388.0 290.4h.01M381.7 333.3h.01M382.9 329.1h.01M378.7 332.8h.01M378.1 333.6h.01M381.7 329.0h.01M381.6 327.5h.01M378.7 334.0h.01M378.5 332.7h.01M382.7 319.4h.01M383.2 329.0h.01M382.8 322.5h.01M370.5 315.8h.01M384.8 317.4h.01M386.0 329.1h.01M372.4 308.5h.01M397.8 262.0h.01M379.6 335.2h.01M376.7 318.6h.01M385.7 304.4h.01M372.4 330.8h.01M382.8 325.3h.01M387.2 311.4h.01M378.0 325.8h.01M387.0 307.9h.01M363.1 319.2h.01M375.1 313.6h.01M376.3 323.0h.01M380.2 334.7h.01M373.7 311.3h.01M381.8 331.5h.01M384.6 323.9h.01M387.8 321.3h.01M382.5 326.6h.01M391.9 325.5h.01M384.7 319.2h.01M376.3 322.9h.01M381.4 330.2h.01M375.4 318.6h.01M389.6 297.6h.01M383.0 331.6h.01M386.0 306.2h.01M377.5 328.7h.01M377.6 327.1h.01M378.4 328.5h.01M383.7 322.7h.01M383.6 318.1h.01M386.3 303.9h.01M387.1 308.6h.01M382.1 330.1h.01M372.5 289.2h.01M378.3 332.8h.01M362.3 314.6h.01M378.0 334.0h.01M381.1 329.9h.01M374.0 311.7h.01M368.0 286.3h.01M385.0 313.8h.01M382.4 321.9h.01M396.1 285.2h.01M375.7 331.7h.01M381.4 332.5h.01M388.3 297.6h.01M378.7 330.7h.01M378.9 331.9h.01M371.4 302.4h.01M380.4 334.3h.01M376.5 321.3h.01M376.3 312.9h.01M370.1 293.0h.01M384.7 314.3h.01M380.4 332.9h.01M374.4 311.0h.01M391.8 286.7h.01M383.6 330.6h.01M384.5 327.4h.01M378.8 331.3h.01M372.8 318.8h.01M386.6 323.7h.01M383.6 324.1h.01M369.0 321.8h.01M390.2 300.5h.01M370.6 311.5h.01M381.5 328.6h.01M383.4 320.7h.01M370.2 311.3h.01M378.3 335.1h.01M371.4 319.9h.01M376.4 325.1h.01M376.3 325.5h.01M382.6 328.0h.01M382.5 327.6h.01M381.7 334.7h.01M385.6 325.4h.01M389.4 309.6h.01M388.1 325.7h.01M379.6 335.1h.01M381.2 334.1h.01M375.7 326.5h.01M367.0 296.3h.01M376.7 326.8h.01M378.4 333.7h.01M389.2 305.9h.01M366.5 319.9h.01M385.0 326.8h.01M375.8 315.6h.01M372.8 320.4h.01M380.2 335.3h.01M388.9 324.3h.01M373.2 302.4h.01M384.6 315.2h.01M371.1 319.1h.01M387.4 308.7h.01M384.3 328.1h.01M393.7 261.8h.01M376.9 334.1h.01M379.4 332.2h.01M382.1 323.5h.01M381.7 329.9h.01M365.6 315.2h.01M382.4 330.9h.01M383.4 319.4h.01M384.5 312.5h.01M379.5 334.8h.01M381.3 328.4h.01M374.6 310.1h.01M386.3 302.8h.01M378.2 332.5h.01M375.1 308.1h.01M385.4 328.8h.01M379.1 334.2h.01M376.2 332.5h.01M371.3 307.9h.01M387.0 314.2h.01M376.2 317.0h.01M396.9 297.5h.01M382.1 325.6h.01M382.9 333.5h.01M374.6 307.6h.01M380.5 332.2h.01M372.9 299.5h.01M378.9 331.3h.01M377.7 330.1h.01M383.6 323.8h.01M382.1 333.7h.01M386.3 299.5h.01M371.7 324.9h.01M383.5 319.7h.01M386.3 316.0h.01M390.8 295.3h.01M381.0 333.1h.01M383.7 329.7h.01M361.1 253.4h.01M384.2 332.0h.01M375.3 323.6h.01M380.2 334.9h.01M379.8 335.8h.01M380.1 335.1h.01M377.5 332.7h.01M384.0 318.3h.01M371.1 300.6h.01M378.9 334.3h.01M381.2 335.8h.01M380.5 334.1h.01M369.2 289.9h.01M378.0 329.8h.01M377.1 327.7h.01M378.7 335.8h.01M372.2 293.7h.01M383.6 316.4h.01M374.6 305.4h.01M382.2 329.8h.01M378.0 328.1h.01M374.0 325.3h.01M366.8 325.2h.01M374.0 318.9h.01M382.6 331.0h.01M387.9 299.4h.01M361.2 258.1h.01M381.9 334.3h.01M383.1 327.0h.01M386.2 301.0h.01M378.3 331.0h.01M382.1 322.3h.01M364.6 284.0h.01M391.1 309.2h.01M385.0 332.2h.01M375.2 329.0h.01M378.7 333.0h.01M380.8 331.6h.01M378.0 328.9h.01M367.6 306.4h.01M381.0 332.9h.01M384.4 315.6h.01M382.2 331.2h.01M380.6 335.8h.01M381.1 329.7h.01M382.0 326.2h.01M392.7 285.2h.01M382.6 319.5h.01M382.5 329.6h.01M378.8 331.2h.01M376.3 316.7h.01M385.9 327.2h.01M381.3 331.1h.01M382.5 320.5h.01M385.1 330.5h.01M380.5 334.7h.01M391.1 284.6h.01M388.8 317.2h.01M385.5 311.5h.01M371.0 318.3h.01M378.5 330.8h.01M364.8 307.5h.01M378.6 329.2h.01M382.6 326.2h.01M382.3 326.5h.01M380.8 333.5h.01M371.1 285.7h.01M372.1 290.6h.01M382.8 333.2h.01M383.9 317.4h.01M368.1 286.1h.01M387.2 324.4h.01M375.1 315.9h.01M381.1 333.7h.01M371.1 324.8h.01M380.3 334.3h.01M381.7 326.2h.01M381.0 332.0h.01M390.1 309.5h.01M369.1 321.6h.01M385.2 320.4h.01M388.2 328.3h.01M379.3 335.6h.01M393.6 296.0h.01M376.7 328.0h.01M371.6 288.6h.01M366.5 307.6h.01M379.4 334.3h.01M384.9 306.3h.01M363.0 295.6h.01M387.5 317.5h.01M379.0 332.1h.01M382.3 326.4h.01M381.2 335.8h.01M376.5 331.3h.01M383.7 332.2h.01M372.9 304.3h.01M381.4 334.2h.01M375.8 317.8h.01M363.0 267.4h.01M395.2 287.2h.01M387.4 317.0h.01M390.6 305.6h.01M372.9 309.6h.01M383.5 333.6h.01M383.5 320.7h.01M380.2 332.9h.01M374.9 328.6h.01M382.5 321.8h.01M389.3 325.9h.01M393.0 299.3h.01M380.5 333.8h.01M385.5 325.2h.01M375.0 328.0h.01M378.4 330.4h.01M389.9 315.3h.01M383.2 320.9h.01M384.9 313.8h.01M373.6 320.5h.01M375.2 309.0h.01M374.9 314.2h.01M380.6 332.5h.01M382.4 326.4h.01M382.0 330.4h.01M377.9 332.1h.01M384.4 324.4h.01M379.3 331.2h.01M381.1 334.8h.01M389.3 293.8h.01M371.8 314.0h.01M378.8 332.4h.01M380.2 335.6h.01M378.1 333.4h.01M376.5 326.5h.01M375.2 312.2h.01M378.3 333.2h.01M390.3 312.8h.01M377.1 322.5h.01M394.6 246.8h.01M380.6 335.7h.01M384.3 326.5h.01M381.4 328.1h.01M370.0 311.8h.01M378.5 332.2h.01M379.3 333.5h.01M387.2 297.5h.01M377.9 331.2h.01M383.0 327.5h.01M380.5 334.2h.01M376.7 333.9h.01M380.8 330.6h.01M375.7 325.5h.01M380.3 332.8h.01M391.9 284.8h.01M384.5 329.6h.01M372.2 323.1h.01M384.1 310.6h.01M381.9 331.1h.01M383.7 325.5h.01M371.6 297.6h.01M384.8 321.0h.01M373.5 309.1h.01M375.6 324.9h.01M384.2 317.5h.01M382.4 328.2h.01M385.8 313.0h.01M380.1 335.0h.01M375.4 309.4h.01M383.1 326.0h.01M376.5 331.1h.01M367.3 260.9h.01M380.2 335.1h.01M365.9 251.1h.01M382.1 327.1h.01M378.1 330.2h.01M378.7 331.9h.01M373.3 324.9h.01M384.9 319.2h.01M375.5 313.7h.01M379.8 335.0h.01M378.3 331.7h.01M383.4 323.3h.01M375.3 323.6h.01M381.6 329.6h.01M382.1 330.1h.01M382.2 331.9h.01M380.8 332.2h.01M394.6 306.9h.01M372.1 326.3h.01M375.6 334.3h.01M367.1 301.4h.01M382.1 335.9h.01M385.5 310.1h.01M375.6 323.3h.01M373.5 315.9h.01M380.8 333.2h.01M382.4 322.8h.01M388.9 317.9h.01M378.2 325.6h.01M366.8 316.0h.01M381.7 332.2h.01M376.3 327.2h.01M376.8 326.9h.01M380.9 330.6h.01M388.7 290.9h.01M390.9 324.4h.01M379.4 335.7h.01M378.9 333.0h.01M383.1 327.8h.01M381.8 326.7h.01M376.4 322.3h.01M377.3 319.7h.01M396.3 303.5h.01M376.8 317.4h.01M389.4 324.5h.01M383.9 318.6h.01M372.3 321.9h.01M382.5 331.6h.01M382.2 328.8h.01M378.5 333.3h.01M375.8 314.8h.01M378.8 333.4h.01M371.3 297.1h.01M375.2 312.8h.01M372.9 298.3h.01M379.1 333.5h.01M379.8 335.6h.01M379.2 333.9h.01M362.7 246.1h.01M381.9 330.1h.01M361.4 292.1h.01M374.6 314.0h.01M384.1 316.2h.01M379.5 333.8h.01M366.0 316.0h.01M380.7 334.2h.01M360.7 296.3h.01M366.6 315.1h.01M379.1 335.2h.01M375.5 327.4h.01M380.2 335.5h.01M385.1 309.8h.01M379.1 335.2h.01M375.5 328.1h.01M384.3 327.2h.01M389.5 285.5h.01M378.7 335.4h.01M378.9 333.3h.01M378.8 328.8h.01M377.6 330.6h.01M372.7 297.9h.01M370.8 288.1h.01M384.6 316.5h.01M378.9 331.3h.01M383.5 333.6h.01M385.2 321.5h.01M380.0 335.4h.01M387.0 294.0h.01M373.5 318.8h.01M366.7 319.3h.01M388.8 292.6h.01M385.9 320.6h.01M374.1 308.4h.01M383.0 328.2h.01M399.2 283.3h.01M376.0 319.4h.01M376.2 331.1h.01M380.9 331.3h.01M378.9 332.5h.01M378.1 326.1h.01M382.1 330.1h.01M381.1 333.7h.01M389.3 302.2h.01M386.3 300.9h.01M385.5 316.4h.01M376.1 330.3h.01M382.5 333.8h.01M378.3 330.2h.01M370.7 306.8h.01M392.3 309.7h.01M376.1 323.7h.01M376.2 321.8h.01M378.7 329.7h.01M378.2 332.1h.01M386.2 318.5h.01M375.0 326.4h.01M377.8 324.2h.01M382.3 330.1h.01M379.6 334.7h.01M394.6 312.2h.01M384.5 320.1h.01M376.7 329.8h.01M378.1 330.3h.01M379.0 334.8h.01M383.9 325.0h.01M382.3 326.2h.01M376.9 331.6h.01M381.1 328.9h.01M377.8 327.3h.01M386.2 322.4h.01M388.8 298.5h.01M376.8 331.4h.01M372.6 318.6h.01M379.3 334.4h.01M384.7 317.4h.01M369.5 315.9h.01M374.1 312.9h.01M385.8 312.7h.01M379.1 333.0h.01M379.2 333.1h.01M385.8 317.9h.01M387.5 308.3h.01M398.7 281.5h.01M384.0 329.3h.01M395.9 295.4h.01M374.8 325.4h.01M370.2 300.4h.01M384.6 316.2h.01M382.6 328.8h.01M384.5 321.9h.01M381.1 334.3h.01M368.5 293.8h.01M379.0 333.4h.01M380.0 335.6h.01M370.2 314.5h.01M379.4 333.8h.01M377.4 323.0h.01M378.6 335.4h.01M384.1 326.0h.01M372.3 321.0h.01M380.9 332.8h.01M375.5 313.6h.01M376.3 324.7h.01M374.2 311.9h.01M388.3 299.9h.01M369.2 298.5h.01M377.9 333.3h.01M379.0 333.1h.01M371.9 317.3h.01M368.0 310.6h.01M384.5 310.0h.01M368.0 287.1h.01M388.5 325.3h.01M378.6 333.3h.01M380.6 333.9h.01M378.9 332.4h.01M380.5 334.0h.01M385.1 328.0h.01M368.1 300.3h.01M377.6 334.3h.01M377.3 327.1h.01M377.0 334.7h.01M384.3 316.6h.01M389.2 321.7h.01M374.5 313.6h.01M381.5 335.3h.01M370.3 321.8h.01M374.9 322.2h.01M371.6 314.5h.01M379.4 334.6h.01M386.4 327.6h.01M378.7 335.4h.01M382.0 330.3h.01M382.9 324.7h.01M386.1 324.2h.01M386.9 323.9h.01M371.4 314.7h.01M376.5 333.6h.01M384.6 329.3h.01M380.9 330.3h.01M382.2 329.5h.01M390.5 279.4h.01M387.9 298.4h.01M377.4 327.3h.01M374.6 321.3h.01M370.4 301.2h.01M385.9 329.6h.01M379.1 335.8h.01M387.2 313.0h.01M382.5 327.0h.01M372.6 310.0h.01M374.1 308.0h.01M379.3 335.7h.01M374.6 310.2h.01M362.6 314.2h.01M369.8 318.2h.01M368.2 289.7h.01M382.8 334.1h.01M373.6 315.8h.01M377.6 323.6h.01M387.9 314.0h.01M382.1 333.4h.01M389.9 297.9h.01M381.5 333.4h.01M376.8 326.8h.01M380.4 333.5h.01M373.6 324.8h.01M372.5 331.6h.01M375.6 326.3h.01M372.8 329.2h.01M383.5 332.1h.01M379.7 335.6h.01M387.1 309.8h.01M369.3 292.8h.01M377.4 327.9h.01M378.1 332.4h.01M371.1 308.1h.01M381.2 334.3h.01M387.7 315.5h.01M383.2 327.3h.01M369.6 309.7h.01M376.5 321.8h.01M369.5 291.7h.01M376.4 334.7h.01M379.3 335.0h.01M376.1 316.4h.01M380.4 335.9h.01M383.7 323.9h.01M373.2 316.1h.01M379.2 332.1h.01M376.9 318.6h.01M373.7 301.0h.01M392.1 271.4h.01M374.3 315.7h.01M392.3 300.0h.01M394.3 289.7h.01M373.4 298.9h.01M376.7 332.6h.01M392.0 282.1h.01M380.4 333.7h.01M377.2 324.7h.01M384.1 327.3h.01M383.2 321.0h.01M386.6 306.4h.01M387.7 330.3h.01M382.4 328.4h.01M382.1 331.1h.01M377.9 332.2h.01M390.2 319.9h.01M380.3 334.8h.01M380.4 334.5h.01M382.7 326.0h.01M393.3 274.9h.01M377.8 331.9h.01M373.7 301.9h.01M378.8 330.5h.01M379.3 333.9h.01M369.4 320.2h.01M383.1 322.8h.01M377.3 319.3h.01M381.4 327.5h.01M390.0 281.4h.01M371.3 306.8h.01M383.5 330.5h.01M372.8 309.7h.01M375.3 331.4h.01M381.5 332.2h.01M383.6 328.3h.01M383.8 329.5h.01M382.0 326.6h.01M380.8 332.1h.01M381.7 330.8h.01M372.8 305.8h.01M377.3 332.5h.01M374.0 311.9h.01M380.4 332.6h.01M378.6 332.2h.01M380.8 335.6h.01M380.1 334.9h.01M385.5 311.6h.01M371.5 320.7h.01M385.2 312.7h.01M386.4 322.0h.01M382.7 323.5h.01M371.2 295.2h.01M378.7 334.6h.01M385.9 319.2h.01M368.8 307.1h.01M380.4 335.0h.01M365.4 301.1h.01M382.4 320.1h.01M377.6 329.2h.01M377.8 326.0h.01M371.2 327.0h.01M373.3 315.1h.01M374.2 319.5h.01M382.5 320.9h.01M392.8 304.9h.01M384.6 320.8h.01M376.5 331.0h.01M378.9 331.1h.01M382.5 331.6h.01M385.3 304.9h.01M376.7 320.6h.01M381.3 334.2h.01M385.2 315.2h.01M376.8 324.5h.01M380.9 335.5h.01M381.9 329.2h.01M384.0 316.1h.01M382.7 322.5h.01M392.9 302.7h.01M380.9 332.9h.01M385.7 296.8h.01M387.3 302.5h.01M382.5 323.7h.01M367.3 266.1h.01M389.6 284.1h.01M381.8 332.7h.01M386.4 304.1h.01M389.6 320.6h.01M373.1 311.3h.01M374.5 324.3h.01M376.6 318.4h.01M388.2 291.7h.01M387.3 328.9h.01M382.6 328.2h.01M378.0 333.9h.01M385.3 319.1h.01M368.5 275.9h.01M383.3 324.7h.01M377.6 328.7h.01M373.7 317.1h.01M376.4 320.3h.01M381.6 328.8h.01M394.8 250.2h.01M380.8 331.4h.01M376.7 324.7h.01M379.4 335.8h.01M372.9 327.8h.01M381.5 332.3h.01M391.3 287.5h.01M379.2 335.5h.01M387.5 293.8h.01M379.1 331.2h.01M390.3 300.8h.01M388.4 290.6h.01M376.8 328.7h.01M374.2 320.3h.01M384.0 325.0h.01M382.3 335.1h.01M377.8 326.0h.01M377.0 319.8h.01M388.1 297.4h.01M382.5 335.7h.01M372.6 321.8h.01M377.2 324.6h.01M387.7 312.9h.01M387.1 314.0h.01M384.7 322.3h.01M371.2 311.6h.01M381.2 334.5h.01M378.5 333.4h.01M363.5 325.7h.01M378.3 330.9h.01M379.3 332.6h.01M379.7 334.6h.01M381.8 329.8h.01M392.1 302.4h.01M377.5 327.7h.01M376.2 329.6h.01M378.0 327.2h.01M384.7 316.5h.01M379.7 335.3h.01M387.9 322.9h.01M370.3 313.7h.01M390.8 309.0h.01M382.9 332.1h.01M386.2 303.0h.01M374.3 314.9h.01M375.1 320.3h.01M383.0 323.9h.01M375.5 315.1h.01M385.3 308.5h.01M376.5 330.3h.01M375.7 324.7h.01M375.5 324.8h.01M379.6 335.6h.01M385.1 304.4h.01M385.3 328.7h.01M376.4 327.6h.01M384.7 324.2h.01M375.1 307.5h.01M381.1 329.9h.01M366.1 315.4h.01M378.0 328.3h.01M377.4 324.5h.01M382.2 331.7h.01M375.1 316.7h.01M371.1 319.9h.01M382.4 327.3h.01M371.3 298.3h.01M386.5 324.1h.01M380.6 331.0h.01M383.6 324.2h.01M394.4 280.3h.01M383.3 320.3h.01M373.0 334.3h.01M383.8 319.6h.01M379.4 335.2h.01M382.1 328.4h.01M382.5 326.1h.01M373.0 311.6h.01M372.7 293.4h.01M365.2 302.9h.01M377.1 330.6h.01M382.2 323.8h.01M374.8 321.7h.01M373.4 327.2h.01M383.8 319.3h.01M388.0 308.7h.01M376.1 311.9h.01M379.1 333.6h.01M370.3 313.3h.01M379.6 334.2h.01M381.0 332.5h.01M382.5 330.1h.01M379.2 334.5h.01M374.8 320.0h.01M380.8 332.4h.01M382.1 327.2h.01M393.8 272.1h.01M385.2 323.5h.01M391.0 312.3h.01M388.0 286.7h.01M370.6 308.0h.01M381.9 323.9h.01M371.5 300.3h.01M361.9 318.1h.01M374.1 326.9h.01M396.2 268.7h.01M391.0 304.2h.01M383.8 332.2h.01M374.3 326.9h.01M363.4 281.1h.01M387.3 307.5h.01M374.2 310.4h.01M386.5 297.9h.01M380.7 329.9h.01M382.0 333.7h.01M360.4 246.7h.01M378.1 335.2h.01M388.7 325.5h.01M377.6 323.0h.01M391.6 273.5h.01M373.8 306.7h.01M381.4 328.4h.01M385.6 310.1h.01M388.0 323.2h.01M382.0 329.7h.01M379.2 334.3h.01M383.8 330.3h.01M377.4 323.8h.01M381.7 329.8h.01M376.9 324.0h.01M379.0 333.0h.01M381.0 334.5h.01M381.4 330.2h.01M380.9 331.9h.01M364.5 293.1h.01M377.0 332.0h.01M380.7 332.4h.01M380.5 333.3h.01M371.5 305.3h.01M383.0 324.0h.01M384.9 319.7h.01M379.2 332.4h.01M380.7 330.9h.01M386.0 325.1h.01M393.5 296.3h.01M382.2 329.0h.01M374.2 306.2h.01M376.4 324.5h.01M378.8 330.6h.01M376.4 316.8h.01M376.8 321.9h.01M382.0 324.9h.01M365.1 302.5h.01M377.2 326.1h.01M385.6 310.9h.01M371.9 303.7h.01M385.8 327.7h.01M376.6 330.0h.01M386.8 320.2h.01M375.9 323.0h.01M381.1 335.8h.01M373.9 304.4h.01M386.5 329.3h.01M377.7 331.4h.01M372.7 304.4h.01M384.4 318.0h.01M382.9 323.2h.01M380.5 333.5h.01M376.7 325.2h.01M376.8 323.5h.01M375.5 328.3h.01M383.3 316.2h.01M385.1 327.3h.01M378.4 332.3h.01M378.4 326.1h.01M379.9 335.0h.01M377.2 321.9h.01M379.9 335.9h.01M380.8 334.2h.01M380.7 333.2h.01M381.1 327.8h.01M370.7 325.5h.01M378.2 331.1h.01M383.4 323.0h.01M374.2 310.2h.01M380.9 331.7h.01M381.3 335.9h.01M374.1 330.7h.01M395.3 301.5h.01M374.3 321.9h.01M369.2 303.8h.01M392.9 275.5h.01M373.3 317.8h.01M380.4 333.3h.01M376.2 316.1h.01M380.1 334.6h.01M381.4 329.0h.01M373.0 329.5h.01M371.9 292.8h.01M378.8 331.7h.01M378.1 326.3h.01M379.3 335.6h.01M378.8 335.0h.01M362.9 291.5h.01M386.9 301.4h.01M386.0 327.6h.01M386.7 321.0h.01M377.6 325.2h.01M379.6 334.0h.01M393.7 308.6h.01M377.2 322.7h.01M374.7 326.9h.01M380.4 333.8h.01M381.2 333.4h.01M377.9 330.7h.01M386.5 314.8h.01M373.9 309.0h.01M370.5 313.5h.01M383.9 323.6h.01M366.6 289.3h.01M380.6 335.8h.01M382.9 323.4h.01M392.7 318.0h.01M377.8 333.2h.01M382.8 329.4h.01M382.6 332.6h.01M380.8 331.7h.01M376.1 316.4h.01M371.7 312.7h.01M383.7 333.9h.01M385.7 327.0h.01M387.3 295.7h.01M378.6 332.9h.01M380.8 334.6h.01M388.1 295.8h.01M378.4 334.3h.01M386.3 301.1h.01M376.9 330.8h.01M388.4 301.8h.01M398.9 254.2h.01M376.9 320.3h.01M385.6 305.4h.01M386.2 297.6h.01M393.0 299.8h.01M377.7 324.0h.01M380.7 332.7h.01M380.5 334.3h.01M385.2 322.7h.01M381.6 331.0h.01M389.4 323.0h.01M386.6 300.1h.01M383.4 325.9h.01M379.3 335.8h.01M375.8 320.8h.01M377.9 329.8h.01M379.6 335.3h.01M378.7 334.3h.01M377.8 322.7h.01M370.3 311.2h.01M379.3 334.3h.01M385.1 327.2h.01M377.6 329.7h.01M379.2 332.3h.01M377.0 324.7h.01M376.1 328.0h.01M379.3 335.8h.01M383.8 322.3h.01M381.1 331.1h.01M377.4 319.7h.01M398.3 253.2h.01M371.0 307.0h.01M378.5 329.0h.01M375.7 314.9h.01M373.7 306.1h.01M375.3 325.9h.01M376.2 331.6h.01M392.3 308.1h.01M380.8 334.7h.01M378.1 325.7h.01M374.8 312.7h.01M384.1 317.8h.01M383.1 323.5h.01M379.6 335.2h.01M387.3 328.6h.01M376.0 320.2h.01M386.8 319.7h.01M372.2 312.7h.01M377.6 322.3h.01M375.0 321.9h.01M380.3 334.3h.01M373.9 331.9h.01M372.1 316.1h.01M369.3 313.6h.01M383.3 329.6h.01M383.2 333.0h.01M384.8 320.9h.01M378.7 333.6h.01M387.4 317.6h.01M396.4 280.1h.01M388.3 288.6h.01M377.6 323.0h.01M367.1 321.7h.01M370.1 315.3h.01M370.0 296.0h.01M379.1 335.3h.01M377.7 330.5h.01M374.7 317.8h.01M375.6 322.7h.01M385.7 314.8h.01M392.5 314.9h.01M371.9 309.4h.01M375.5 329.5h.01M372.5 305.5h.01M378.8 332.9h.01M384.7 318.2h.01M376.2 323.9h.01M382.2 326.3h.01M378.9 332.1h.01M383.6 331.3h.01M378.9 332.1h.01M381.5 324.1h.01M379.8 335.7h.01M381.3 332.2h.01M383.2 315.9h.01M387.3 320.1h.01M388.6 320.7h.01M372.6 303.6h.01M372.1 288.8h.01M374.1 325.5h.01M381.1 331.5h.01M378.1 334.2h.01M377.7 324.7h.01M380.5 335.1h.01M379.1 332.0h.01M383.5 315.4h.01M371.1 293.8h.01M391.8 312.2h.01M383.6 331.6h.01M381.8 334.1h.01M381.0 333.3h.01M394.0 300.5h.01M368.5 316.5h.01M373.9 303.0h.01M385.9 327.4h.01M397.2 315.4h.01M379.2 334.0h.01M368.0 304.1h.01M380.9 329.9h.01M379.2 333.6h.01M382.9 317.0h.01M372.1 306.2h.01M376.0 328.9h.01M382.4 322.9h.01M383.1 327.5h.01M384.9 308.1h.01M370.1 287.5h.01M386.4 306.2h.01M378.5 332.3h.01M375.8 323.6h.01M397.3 252.3h.01M387.4 306.8h.01M375.6 312.1h.01M380.1 335.5h.01M389.2 293.0h.01M380.2 335.7h.01M376.6 328.9h.01M383.0 327.6h.01M374.8 319.8h.01M379.7 335.2h.01M393.4 303.9h.01M372.0 304.3h.01M379.5 332.4h.01M375.6 320.1h.01M377.5 333.3h.01M381.6 331.3h.01M371.5 320.8h.01M379.2 334.1h.01M385.3 320.8h.01M382.7 327.9h.01M382.2 324.0h.01M377.7 332.2h.01M378.0 328.4h.01M384.1 333.5h.01M382.2 329.6h.01M377.2 331.9h.01M381.3 330.8h.01M386.0 304.7h.01M382.6 334.8h.01M377.2 328.7h.01M386.6 298.5h.01M382.2 330.5h.01M384.2 319.0h.01M375.6 334.8h.01M372.0 308.1h.01M382.3 325.6h.01M383.0 315.3h.01M388.0 301.5h.01M377.7 327.8h.01M389.0 322.3h.01M379.3 335.7h.01M363.8 292.3h.01M386.0 324.4h.01M399.0 300.7h.01M375.6 318.0h.01M390.7 277.2h.01M377.9 328.1h.01M375.9 320.3h.01M381.3 328.3h.01M377.4 323.7h.01M377.3 334.3h.01M382.3 324.6h.01M375.7 313.3h.01M373.8 324.1h.01M374.6 329.0h.01M373.3 315.0h.01M386.7 321.2h.01M375.1 321.6h.01M381.9 327.6h.01M383.5 322.1h.01M378.2 334.5h.01M381.6 327.0h.01M376.4 324.6h.01M387.9 325.1h.01M377.5 321.7h.01M380.5 335.4h.01M377.2 326.1h.01M375.2 331.1h.01M374.8 310.0h.01M376.1 326.6h.01M367.8 300.3h.01M385.8 317.0h.01M382.7 329.9h.01M369.5 294.0h.01M378.1 335.4h.01M388.5 317.1h.01M378.3 328.7h.01M386.1 324.8h.01M377.8 331.4h.01M380.5 332.3h.01M385.8 309.4h.01M367.3 319.6h.01M370.5 309.0h.01M382.8 324.2h.01M381.4 329.0h.01M376.4 320.2h.01M360.5 304.4h.01M378.7 328.6h.01M378.9 333.8h.01M379.6 333.7h.01M387.2 329.5h.01M384.0 322.6h.01M385.0 309.9h.01M377.3 324.5h.01M382.2 331.2h.01M387.3 328.6h.01M378.9 332.4h.01M374.5 309.9h.01M381.4 332.2h.01M371.8 314.3h.01M382.1 324.0h.01M389.5 305.4h.01M374.6 321.1h.01M381.3 329.5h.01M379.2 334.3h.01M383.3 333.7h.01M382.9 322.1h.01M382.1 334.5h.01M373.5 323.4h.01M378.4 332.6h.01M379.4 333.5h.01M386.0 327.0h.01M382.2 327.6h.01M380.8 332.0h.01M386.8 325.2h.01M381.8 325.4h.01M389.0 302.4h.01M378.4 334.4h.01M372.6 312.3h.01M370.7 301.6h.01M377.0 321.8h.01M369.2 322.2h.01M381.4 334.2h.01M376.0 325.4h.01M373.7 317.4h.01M376.0 315.0h.01M381.2 327.7h.01M380.3 334.2h.01M383.5 324.0h.01M383.7 320.8h.01M380.1 335.3h.01M382.7 321.4h.01M381.8 329.6h.01M379.1 335.8h.01M375.2 325.8h.01M379.4 333.5h.01M389.4 286.3h.01M373.8 324.9h.01M370.3 288.8h.01M374.9 330.1h.01M378.0 329.7h.01M366.9 293.6h.01M393.9 307.2h.01M381.6 328.2h.01M383.0 318.3h.01M380.8 334.6h.01M378.8 333.3h.01M376.6 321.3h.01M377.7 328.9h.01M388.8 327.6h.01M377.6 323.8h.01M389.7 320.1h.01M389.3 320.8h.01M375.8 315.6h.01M380.3 335.4h.01M375.2 327.0h.01M375.4 310.5h.01M378.2 330.1h.01M382.3 320.2h.01M368.0 293.2h.01M377.9 326.2h.01M385.7 305.4h.01M382.1 332.8h.01M361.4 256.2h.01M380.8 333.1h.01M377.5 327.4h.01M376.2 321.9h.01M381.8 332.7h.01M387.3 318.3h.01M388.1 301.7h.01M373.8 327.6h.01M381.3 329.9h.01M390.5 311.6h.01M379.3 332.8h.01M387.9 332.3h.01M376.9 321.1h.01M375.0 312.9h.01M384.7 331.5h.01M388.7 318.3h.01M375.8 326.4h.01M375.1 328.8h.01M386.0 303.5h.01M376.9 327.3h.01M389.1 318.6h.01M367.1 290.1h.01M384.0 317.9h.01M378.4 334.2h.01M376.8 332.2h.01M370.7 294.1h.01M376.2 321.2h.01M380.5 332.0h.01M381.9 324.4h.01M366.6 313.1h.01M379.5 335.7h.01M377.4 325.6h.01M380.4 333.3h.01M386.8 305.5h.01M365.9 294.0h.01M391.2 313.7h.01M383.5 319.5h.01M385.5 327.8h.01M396.4 262.0h.01M375.7 315.7h.01M377.8 329.4h.01M384.7 326.4h.01M389.4 318.8h.01M378.8 333.1h.01M381.8 333.1h.01M362.2 301.9h.01M383.8 320.4h.01M380.0 335.0h.01M388.9 301.4h.01M363.1 293.0h.01M375.5 324.7h.01M371.1 298.2h.01M378.0 332.6h.01M382.6 330.5h.01M388.8 310.3h.01M386.5 327.5h.01M382.3 333.3h.01M383.1 329.1h.01M375.3 331.0h.01M369.5 307.6h.01M388.8 317.7h.01M362.1 259.8h.01M376.2 327.7h.01M376.0 325.1h.01M377.1 323.5h.01M381.7 334.5h.01M384.8 323.1h.01M373.3 302.0h.01M381.0 332.5h.01M392.1 310.3h.01M374.0 327.3h.01M368.9 275.4h.01M373.8 317.3h.01M394.0 287.9h.01M399.2 246.0h.01M377.1 323.6h.01M375.6 321.8h.01M382.7 320.7h.01M380.4 334.1h.01M382.6 328.0h.01M374.8 324.5h.01M390.9 278.2h.01M367.2 293.2h.01M387.4 322.7h.01M377.5 321.2h.01M386.7 317.4h.01M381.0 333.8h.01M387.2 305.5h.01M376.4 323.7h.01M378.9 328.1h.01M381.8 331.3h.01M382.8 325.7h.01M382.6 333.5h.01M375.6 319.5h.01M395.2 295.5h.01M373.4 303.2h.01M374.2 311.6h.01M374.2 325.7h.01M374.3 305.0h.01M391.2 276.1h.01M374.4 315.2h.01M395.1 283.0h.01M378.1 334.6h.01M395.1 295.2h.01M377.7 325.2h.01M386.7 296.9h.01M374.1 314.9h.01M378.9 332.8h.01M383.9 332.1h.01M381.3 330.0h.01M377.2 322.1h.01M397.7 315.7h.01M374.9 326.6h.01M379.3 333.4h.01M382.5 326.1h.01M385.3 320.0h.01M382.7 327.5h.01M375.7 326.0h.01M382.5 328.8h.01M388.5 288.3h.01M387.2 320.3h.01M383.5 332.6h.01M383.6 313.3h.01M381.3 330.1h.01M379.9 335.2h.01M380.2 335.3h.01M385.3 305.8h.01M374.7 310.9h.01M385.3 304.4h.01M385.9 331.0h.01M383.4 320.6h.01M374.8 329.4h.01M381.6 327.6h.01M378.5 332.7h.01M379.2 333.4h.01M373.0 310.4h.01M379.8 335.6h.01M384.6 330.7h.01M368.2 283.9h.01M381.5 332.2h.01M377.0 330.0h.01M380.3 335.2h.01M376.1 324.9h.01M377.6 332.0h.01M387.5 294.2h.01M381.7 325.7h.01M389.2 317.5h.01M388.7 312.8h.01M382.0 331.7h.01M374.5 315.4h.01M372.6 317.9h.01M382.4 329.4h.01M382.0 325.0h.01M381.7 329.3h.01M381.7 328.0h.01M381.4 330.0h.01M391.7 281.4h.01M362.4 249.4h.01M376.3 328.9h.01M386.0 318.9h.01M380.4 334.2h.01M396.8 237.7h.01M381.6 325.2h.01M391.7 277.8h.01M382.0 330.7h.01M378.5 327.2h.01M384.9 323.5h.01M385.1 312.4h.01M381.5 329.6h.01M381.9 332.5h.01M377.0 321.4h.01M372.3 321.4h.01M383.3 327.3h.01M382.7 325.8h.01M383.3 325.4h.01M380.8 332.4h.01M375.1 317.6h.01M383.2 317.2h.01M382.6 332.9h.01M375.5 310.5h.01M366.1 319.4h.01M388.0 306.0h.01M380.3 335.3h.01M383.6 313.1h.01M379.3 332.3h.01M377.6 328.0h.01M380.8 335.6h.01M378.7 330.9h.01M382.2 325.4h.01M371.1 319.3h.01M375.2 325.4h.01M386.9 314.6h.01M386.9 318.8h.01M362.7 262.8h.01M375.6 309.1h.01M385.5 315.4h.01M385.9 299.9h.01M388.0 294.2h.01M372.5 323.5h.01M372.2 329.6h.01M375.3 329.4h.01M377.5 327.5h.01M390.8 301.8h.01M382.8 320.4h.01M381.0 334.1h.01M380.2 334.7h.01M366.8 312.4h.01M389.5 310.0h.01M377.1 325.3h.01M371.9 332.0h.01M373.9 315.5h.01M378.3 326.3h.01M372.3 318.6h.01M379.4 335.5h.01M379.4 334.1h.01M377.7 330.9h.01M380.2 335.4h.01M369.4 290.7h.01M380.8 330.4h.01M386.6 297.6h.01M375.5 325.3h.01M377.4 331.6h.01M370.3 299.7h.01M380.4 334.1h.01M378.6 331.5h.01M385.9 327.3h.01M380.8 333.0h.01M387.3 329.8h.01M377.2 329.0h.01M380.2 334.2h.01M377.3 326.6h.01M387.9 320.7h.01M381.0 332.5h.01M365.8 318.9h.01M371.9 316.2h.01M382.4 327.0h.01M380.4 333.7h.01M374.1 314.1h.01M388.4 317.9h.01M369.1 283.1h.01M380.8 330.7h.01M384.0 325.4h.01M385.0 309.6h.01M371.1 320.3h.01M383.1 329.6h.01M381.4 330.2h.01M381.2 329.0h.01M387.0 317.8h.01M372.8 320.7h.01M377.0 319.0h.01M388.1 321.2h.01M378.9 330.7h.01M387.9 321.5h.01M366.7 312.3h.01M382.5 326.3h.01M375.0 329.4h.01M380.7 333.6h.01M375.5 331.2h.01M376.4 331.0h.01M379.3 334.5h.01M372.4 303.6h.01M394.7 259.5h.01M375.7 321.5h.01M370.0 321.8h.01M381.1 332.9h.01M361.2 274.7h.01M380.9 330.6h.01M379.2 333.7h.01M387.1 315.8h.01M375.5 325.4h.01M392.4 295.3h.01M381.2 331.1h.01M386.9 308.2h.01M376.1 312.5h.01M379.3 334.9h.01M369.6 308.6h.01M382.8 325.5h.01M374.9 312.3h.01M373.4 309.8h.01M376.1 315.4h.01M386.6 320.0h.01M379.4 335.2h.01M378.0 326.3h.01M377.1 321.8h.01M392.2 312.2h.01M385.5 329.3h.01M380.3 334.6h.01M372.4 318.4h.01M382.9 325.0h.01M382.1 323.2h.01M379.4 334.5h.01M381.5 328.7h.01M395.0 299.3h.01M389.7 321.1h.01M371.9 298.5h.01M383.4 315.6h.01M367.3 293.9h.01M392.6 301.4h.01M377.7 330.9h.01M380.7 334.5h.01M380.9 334.2h.01M394.2 317.9h.01M376.7 325.9h.01M390.0 294.7h.01M384.5 316.5h.01M393.0 325.7h.01M378.4 332.3h.01M383.5 318.7h.01M375.9 332.2h.01M383.9 322.0h.01M380.9 332.3h.01M381.1 333.1h.01M384.6 327.5h.01M361.1 259.8h.01M383.0 320.6h.01M371.7 305.0h.01M377.6 331.8h.01M387.4 330.9h.01M383.9 325.6h.01M387.1 305.2h.01M376.6 327.0h.01M395.6 282.8h.01M396.4 315.1h.01M380.8 333.8h.01M374.1 328.7h.01M388.0 316.1h.01M383.7 328.1h.01M383.9 331.6h.01M385.7 310.6h.01M372.6 321.2h.01M383.2 324.4h.01M392.4 320.3h.01M373.3 309.6h.01M371.9 309.5h.01M378.2 333.5h.01M386.6 314.9h.01M381.2 328.4h.01M378.1 330.4h.01M383.7 319.6h.01M382.1 332.7h.01M373.7 315.9h.01M377.3 330.5h.01M372.6 318.3h.01M387.2 301.2h.01M368.8 292.4h.01M382.7 328.9h.01M374.9 323.0h.01M388.4 306.4h.01M375.3 316.3h.01M376.9 330.8h.01M373.5 326.4h.01M379.4 332.4h.01M379.3 334.3h.01M371.8 291.7h.01M380.9 335.7h.01M377.0 332.1h.01M365.0 308.0h.01M376.0 317.7h.01M374.1 308.8h.01M389.1 294.6h.01M385.1 320.3h.01M381.7 332.1h.01M377.9 330.6h.01M380.5 335.5h.01M367.6 317.4h.01M372.7 328.3h.01M378.5 327.9h.01M379.6 334.7h.01M380.8 334.6h.01M374.1 325.5h.01M378.6 332.7h.01M382.5 328.2h.01M384.0 325.9h.01M375.5 327.4h.01M371.5 316.6h.01M379.5 334.8h.01M376.8 328.5h.01M381.3 333.9h.01M381.6 335.1h.01M385.1 321.4h.01M385.6 317.1h.01M373.7 316.4h.01M369.8 313.7h.01M385.3 317.3h.01M379.1 333.0h.01M376.3 316.1h.01M377.9 329.0h.01M371.2 308.7h.01M374.9 330.2h.01M383.8 318.3h.01M378.1 328.8h.01M377.6 328.8h.01M388.5 299.2h.01M384.3 320.6h.01M368.4 318.1h.01M384.1 315.0h.01M388.4 323.2h.01M375.3 327.5h.01M372.6 322.9h.01M384.5 328.9h.01M392.4 297.3h.01M382.8 319.3h.01M366.4 323.2h.01M387.4 315.0h.01M376.3 331.4h.01M377.9 329.9h.01M387.0 305.9h.01M382.0 327.8h.01M386.1 321.9h.01M376.4 325.9h.01M372.9 322.8h.01M378.3 326.6h.01M372.9 315.2h.01M373.4 302.3h.01M390.5 286.5h.01M386.9 301.1h.01M386.2 307.4h.01M371.6 311.5h.01M386.5 321.9h.01M373.8 311.8h.01M380.6 334.0h.01M386.0 308.0h.01M379.3 333.7h.01M380.1 334.7h.01M379.0 333.7h.01M378.1 329.2h.01M381.9 333.0h.01M388.1 321.1h.01M390.5 320.8h.01M387.6 324.0h.01M377.8 325.8h.01M373.8 320.4h.01M383.6 320.5h.01M381.5 325.1h.01M379.3 333.6h.01M376.0 333.2h.01M379.6 335.7h.01M379.3 333.1h.01M369.6 279.5h.01M381.3 331.3h.01M382.6 329.8h.01M386.7 296.2h.01M380.5 335.0h.01M372.5 308.4h.01M385.8 303.1h.01M377.1 334.4h.01M385.3 324.1h.01M385.8 323.2h.01M377.8 334.6h.01M361.0 292.0h.01M369.9 315.2h.01M381.6 327.4h.01M377.3 324.2h.01M384.0 320.7h.01M380.3 335.6h.01M377.1 326.4h.01M381.2 331.5h.01M378.6 333.5h.01M378.4 328.9h.01M365.8 274.0h.01M372.9 306.7h.01M376.6 321.8h.01M373.9 325.2h.01M376.3 318.9h.01M374.8 320.7h.01M397.1 281.0h.01M381.3 330.8h.01M384.8 328.7h.01M370.4 326.5h.01M376.9 330.4h.01M384.2 329.0h.01M377.3 332.8h.01M384.2 324.8h.01M381.7 331.3h.01M381.9 326.4h.01M379.5 334.8h.01M367.9 286.8h.01M373.8 311.9h.01M386.9 325.1h.01M388.7 322.2h.01M375.7 325.1h.01M373.9 309.2h.01M376.9 324.5h.01M382.7 322.7h.01M370.0 306.3h.01M396.0 277.6h.01M382.2 330.1h.01M369.2 328.0h.01M387.8 327.4h.01M386.3 316.0h.01M381.4 335.0h.01M368.6 294.0h.01M374.5 319.0h.01M386.0 328.1h.01M385.6 326.9h.01M387.0 318.3h.01M370.9 322.9h.01M378.0 329.2h.01M379.0 334.4h.01M389.7 309.6h.01M377.7 324.8h.01M374.8 316.5h.01M382.8 330.1h.01M375.3 332.2h.01M377.3 326.5h.01M385.0 319.8h.01M380.9 332.9h.01M381.5 330.2h.01M372.3 295.3h.01M384.7 306.5h.01M383.7 327.0h.01M374.9 306.4h.01M371.4 293.6h.01M381.8 327.9h.01M374.9 312.2h.01M383.7 320.0h.01M369.9 321.0h.01M386.1 322.8h.01M377.9 332.5h.01M380.7 334.9h.01M385.7 321.0h.01M367.0 302.0h.01M400.0 294.3h.01M377.8 326.5h.01M378.3 334.3h.01M377.5 331.0h.01M382.5 327.1h.01M380.1 335.2h.01M398.9 320.4h.01M366.5 293.2h.01M386.6 305.8h.01M380.5 335.0h.01M388.1 303.3h.01M373.1 318.9h.01M371.5 318.6h.01M378.3 331.0h.01M399.5 273.4h.01M381.3 330.4h.01M384.2 329.2h.01M379.7 334.9h.01M382.7 327.3h.01M375.7 329.0h.01M388.0 289.5h.01M385.9 317.2h.01M382.5 328.7h.01M382.0 325.4h.01M376.6 318.2h.01M372.0 309.6h.01M376.5 328.8h.01M385.0 309.1h.01M387.3 317.4h.01M381.4 329.3h.01M380.3 333.7h.01M378.8 333.4h.01M385.7 320.4h.01M384.4 323.4h.01M385.0 316.4h.01M378.7 332.5h.01M381.7 333.4h.01M381.8 326.1h.01M389.7 284.7h.01M378.2 329.8h.01M380.7 334.7h.01M386.8 318.4h.01M386.8 304.9h.01M393.5 309.9h.01M393.4 309.9h.01M381.6 328.5h.01M378.6 332.7h.01M361.8 307.2h.01M373.4 301.5h.01M379.3 333.5h.01M382.2 327.2h.01M372.0 303.3h.01M383.4 329.6h.01M382.3 329.0h.01M377.7 330.3h.01M377.0 327.6h.01M394.0 259.1h.01M373.4 331.7h.01M383.3 326.7h.01M385.6 315.7h.01M376.5 330.5h.01M384.5 325.9h.01M370.0 327.6h.01M385.4 323.5h.01M378.0 327.1h.01M380.8 330.9h.01M386.4 295.3h.01M380.7 333.8h.01M380.9 333.4h.01M383.5 331.3h.01M387.5 311.0h.01M372.4 305.9h.01M374.3 321.2h.01M381.3 335.0h.01M391.2 276.3h.01M376.8 329.4h.01M389.2 327.2h.01M394.7 278.3h.01M377.6 323.3h.01M383.6 329.0h.01M378.1 331.9h.01M382.3 330.8h.01M378.8 332.0h.01M384.5 314.1h.01M372.3 292.8h.01M382.8 327.9h.01M375.3 320.9h.01M389.3 292.7h.01M378.7 330.8h.01M380.0 335.1h.01M384.2 333.6h.01M393.4 302.4h.01M366.4 304.9h.01M383.3 330.1h.01M379.0 335.1h.01M377.3 325.8h.01M380.4 335.4h.01M385.0 314.2h.01M383.7 331.6h.01M375.0 304.4h.01M388.9 295.3h.01M369.7 302.4h.01M386.7 322.1h.01M374.9 305.5h.01M379.8 335.5h.01M381.2 328.7h.01M385.1 315.4h.01M366.3 321.4h.01M379.6 334.1h.01M386.9 298.3h.01M380.0 334.4h.01M384.8 325.8h.01M376.7 321.6h.01M382.2 327.2h.01M390.3 313.2h.01M376.0 331.5h.01M383.5 313.4h.01M373.9 328.6h.01M381.4 332.0h.01M384.5 325.8h.01M377.3 335.4h.01M377.3 329.9h.01M383.9 325.2h.01M385.8 326.0h.01M378.8 332.6h.01M370.9 313.8h.01M375.3 331.1h.01M382.1 323.4h.01M381.7 332.4h.01M375.0 322.8h.01M377.9 329.2h.01M375.9 320.3h.01M379.3 335.2h.01M378.6 328.1h.01M396.5 312.3h.01M372.9 308.0h.01M377.5 327.1h.01M374.8 328.7h.01M388.5 333.0h.01M377.3 332.9h.01M363.9 321.5h.01M377.8 328.5h.01M367.7 284.9h.01M378.3 334.1h.01M383.0 324.3h.01M390.5 319.8h.01M381.6 329.7h.01M367.1 262.5h.01M380.5 334.0h.01M378.2 333.6h.01M383.3 323.7h.01M372.0 325.1h.01M381.8 326.8h.01M373.2 309.3h.01M373.6 304.8h.01M373.4 306.4h.01M384.9 321.8h.01M376.6 325.9h.01M374.6 302.9h.01M381.5 335.6h.01M369.8 290.6h.01M379.1 334.7h.01M379.5 335.7h.01M377.1 326.2h.01M381.1 331.9h.01M376.7 332.3h.01M386.0 303.8h.01M377.6 333.2h.01M376.2 321.2h.01M369.4 306.6h.01M382.5 326.9h.01M386.8 324.4h.01M372.2 310.3h.01M377.8 322.1h.01M383.6 326.3h.01M386.3 331.0h.01M380.6 334.2h.01M391.4 301.6h.01M387.5 308.8h.01M390.8 287.9h.01M379.3 334.9h.01M381.2 335.2h.01M375.5 323.7h.01M386.6 314.0h.01M380.3 333.0h.01M371.1 310.6h.01M376.6 332.4h.01M383.5 324.4h.01M388.9 284.4h.01M369.5 311.7h.01M377.9 331.6h.01M381.0 335.4h.01M383.3 322.9h.01M386.4 319.4h.01M384.3 331.6h.01M384.2 328.9h.01M389.3 309.5h.01M375.0 319.3h.01M388.0 313.6h.01M362.5 293.8h.01M374.3 311.0h.01M362.9 293.7h.01M376.8 332.7h.01M374.0 325.5h.01M374.4 309.7h.01M373.3 312.3h.01M387.2 314.2h.01M378.6 333.2h.01M361.2 312.7h.01M362.4 315.6h.01M368.2 278.7h.01M383.0 327.3h.01M373.2 324.8h.01M391.6 299.5h.01M374.9 312.3h.01M384.9 313.8h.01M372.7 300.5h.01M383.5 329.4h.01M378.5 328.0h.01M380.9 331.1h.01M376.3 317.7h.01M381.3 330.6h.01M381.3 335.5h.01M384.3 317.9h.01M377.9 331.0h.01M384.4 321.9h.01M381.7 332.3h.01M381.8 333.5h.01M381.9 327.4h.01M379.4 334.5h.01M385.4 324.1h.01M383.6 312.7h.01M375.4 318.1h.01M368.7 288.6h.01M374.2 324.5h.01M381.6 330.8h.01M382.6 331.9h.01M387.1 328.9h.01M382.7 317.1h.01M370.8 285.7h.01M379.0 330.7h.01M386.5 304.6h.01M387.0 297.3h.01M388.5 296.3h.01M376.7 325.6h.01M384.3 326.9h.01M398.7 267.0h.01M381.4 329.2h.01M391.1 284.0h.01M385.1 323.5h.01M390.2 271.4h.01M380.7 333.7h.01M396.6 256.8h.01M382.8 330.5h.01M372.7 329.2h.01M376.3 329.4h.01M375.6 317.0h.01M384.0 314.9h.01M377.3 329.5h.01M381.0 333.0h.01M371.3 304.9h.01M389.6 323.6h.01M385.7 304.5h.01M369.2 304.1h.01M369.7 302.0h.01M393.6 272.9h.01M382.9 324.5h.01M378.3 326.3h.01M380.3 332.8h.01M376.0 315.7h.01M386.2 302.8h.01M381.9 327.8h.01M389.2 319.6h.01M392.4 295.7h.01M365.9 294.1h.01M381.7 328.3h.01M378.4 333.6h.01M367.8 300.2h.01M383.9 315.3h.01M394.7 274.0h.01M377.9 332.4h.01M380.3 335.4h.01M388.8 282.2h.01M378.5 332.2h.01M368.1 304.9h.01M382.2 327.4h.01M371.7 314.6h.01M377.9 323.1h.01M373.6 315.5h.01M363.6 286.0h.01M374.4 320.6h.01M391.6 318.2h.01M369.2 292.7h.01M383.1 321.8h.01M374.2 309.6h.01M381.9 333.8h.01M385.1 314.6h.01M384.7 319.5h.01M369.9 296.6h.01M382.4 322.4h.01M382.3 333.4h.01M371.7 288.5h.01M386.5 300.4h.01M382.7 330.9h.01M390.4 319.8h.01M390.5 301.5h.01M381.6 328.6h.01M380.6 333.4h.01M382.6 326.6h.01M381.8 327.4h.01M363.8 318.1h.01M373.8 303.3h.01M386.7 315.2h.01M373.2 323.5h.01M374.5 302.1h.01M379.6 335.8h.01M380.5 334.8h.01M385.2 325.8h.01M383.4 316.0h.01M379.2 334.1h.01M381.6 330.0h.01M383.9 326.6h.01M380.2 335.3h.01M376.8 319.4h.01M388.0 307.1h.01M379.8 335.8h.01M377.0 330.3h.01M382.3 327.1h.01M389.6 307.6h.01M385.5 325.8h.01M386.0 305.8h.01M376.0 333.3h.01M391.2 305.9h.01M380.3 333.6h.01M373.1 304.5h.01M380.3 333.8h.01M399.2 254.1h.01M377.9 327.0h.01M386.0 305.0h.01M378.6 334.5h.01M372.6 320.5h.01M372.1 282.3h.01M381.1 331.7h.01M380.8 335.4h.01M384.9 312.4h.01M378.6 333.9h.01M386.0 307.8h.01M381.2 331.2h.01M371.0 287.4h.01M386.1 314.5h.01M376.2 319.0h.01M374.8 319.6h.01M376.3 323.5h.01M383.1 321.4h.01M378.8 335.6h.01M390.2 299.7h.01M385.3 307.4h.01M386.0 300.1h.01M385.1 323.6h.01M379.4 333.2h.01M383.9 334.1h.01M387.1 313.6h.01M376.6 320.3h.01M386.2 309.6h.01M374.6 309.6h.01M382.5 324.0h.01M383.7 324.2h.01M380.0 335.5h.01M380.8 333.2h.01M379.7 334.3h.01M376.2 327.0h.01M370.2 324.4h.01M386.7 299.9h.01M383.4 315.8h.01M390.5 320.6h.01M366.9 292.2h.01M382.8 329.3h.01M383.0 333.2h.01M383.2 326.8h.01M378.9 334.8h.01M381.4 329.7h.01M380.6 334.3h.01M387.6 317.6h.01M376.3 328.2h.01M383.2 326.4h.01M384.9 323.1h.01M385.8 314.6h.01M385.1 330.3h.01M367.0 271.8h.01M384.8 316.6h.01M377.6 327.6h.01M383.5 325.6h.01M387.0 300.1h.01M377.3 330.9h.01M382.3 330.3h.01M376.5 335.0h.01M391.7 304.0h.01M369.8 330.2h.01M385.7 315.6h.01M371.0 321.7h.01M378.9 332.6h.01M383.4 327.1h.01M382.1 327.3h.01M379.7 335.0h.01M378.6 332.6h.01M388.8 295.9h.01M385.5 310.0h.01M382.1 330.5h.01M379.5 335.7h.01M375.4 309.4h.01M369.0 306.9h.01M390.4 283.4h.01M375.7 312.0h.01M371.2 322.5h.01M376.1 318.2h.01M365.2 286.3h.01M388.2 313.9h.01M379.7 335.3h.01M391.5 309.2h.01M381.4 332.0h.01M376.8 324.9h.01M381.2 329.7h.01M375.8 321.1h.01M382.4 330.6h.01M383.8 319.3h.01M393.5 322.5h.01M363.5 278.3h.01M374.8 323.0h.01M384.1 331.3h.01M382.0 325.7h.01M372.2 315.2h.01M375.3 315.9h.01M374.2 330.1h.01M373.8 306.6h.01M362.0 269.6h.01M380.5 335.9h.01M379.7 335.2h.01M382.3 329.1h.01M378.3 332.6h.01M366.5 274.6h.01M398.3 313.4h.01M367.9 312.1h.01M374.1 306.2h.01M391.0 295.3h.01M376.2 330.0h.01M382.0 329.0h.01M378.1 323.7h.01M382.5 324.2h.01M374.6 326.5h.01M379.5 334.7h.01M377.0 322.6h.01M378.6 331.4h.01M382.2 335.1h.01M379.3 335.3h.01M387.1 316.5h.01M367.7 305.6h.01M375.5 319.9h.01M378.4 333.3h.01M387.0 310.2h.01M382.7 322.0h.01M385.9 319.7h.01M383.0 318.9h.01M361.4 271.9h.01M382.1 328.3h.01M380.1 335.6h.01M388.7 290.5h.01M374.3 322.7h.01M389.5 292.1h.01M374.7 313.1h.01M383.3 324.2h.01M365.4 291.8h.01M383.4 323.3h.01M369.7 305.9h.01M370.4 322.1h.01M379.4 335.8h.01M378.1 323.5h.01M375.4 324.0h.01M375.7 316.8h.01M381.6 330.7h.01M378.2 334.1h.01M388.6 318.5h.01M383.1 334.0h.01M369.6 302.8h.01M377.9 331.4h.01M378.5 331.4h.01M371.2 290.2h.01M381.0 333.6h.01M389.7 296.1h.01M378.2 328.9h.01M388.5 296.7h.01M380.1 335.8h.01M395.8 287.6h.01M380.8 333.9h.01M370.4 297.1h.01M374.0 325.3h.01M372.9 323.8h.01M382.1 322.0h.01M398.3 321.1h.01M374.1 318.4h.01M379.0 333.8h.01M372.9 321.5h.01M365.6 322.3h.01M378.2 335.4h.01M388.1 287.3h.01M377.4 321.8h.01M369.3 322.4h.01M374.1 323.9h.01M378.0 327.9h.01M376.8 319.5h.01M384.2 325.5h.01M375.8 316.0h.01M376.2 311.6h.01M370.4 317.7h.01M395.5 304.0h.01M379.3 334.8h.01M386.0 323.4h.01M384.2 325.1h.01M376.2 331.7h.01M377.3 320.9h.01M377.9 332.2h.01M372.3 326.3h.01M379.2 334.9h.01M382.9 322.1h.01M369.2 318.0h.01M382.9 321.5h.01M386.3 322.1h.01M398.3 303.5h.01M388.5 321.4h.01M393.8 300.0h.01M392.0 290.1h.01M375.9 327.2h.01M380.7 333.0h.01M387.4 295.0h.01M385.2 310.0h.01M376.4 318.5h.01M381.9 329.7h.01M382.5 333.3h.01M375.4 321.1h.01M373.6 307.3h.01M392.9 317.5h.01M379.2 332.9h.01M374.8 321.4h.01M382.7 330.0h.01M386.6 315.7h.01M383.8 326.1h.01M388.3 327.2h.01M378.3 327.9h.01M371.8 334.2h.01M396.9 286.2h.01M371.8 296.4h.01M375.2 317.0h.01M389.1 303.4h.01M376.4 326.8h.01M388.9 317.2h.01M380.9 331.0h.01M388.0 327.7h.01M391.8 317.9h.01M372.4 327.0h.01M383.1 331.4h.01M384.4 312.2h.01M369.9 296.8h.01M376.6 320.5h.01M377.1 321.5h.01M376.3 320.0h.01M375.6 326.5h.01M384.5 314.7h.01M383.5 328.0h.01M379.4 334.5h.01M376.4 332.7h.01M388.7 308.0h.01M376.5 322.7h.01M399.4 247.2h.01M383.2 320.7h.01M378.3 331.2h.01M390.7 277.1h.01M393.8 258.8h.01M381.1 334.8h.01M369.6 324.2h.01M376.1 323.7h.01M376.4 319.0h.01M369.6 285.3h.01M382.6 332.9h.01M376.4 319.5h.01M390.3 320.9h.01M378.6 329.2h.01M374.5 316.5h.01M378.3 330.8h.01M372.7 294.3h.01M387.1 315.3h.01M380.8 334.0h.01M377.9 329.2h.01M383.0 316.3h.01M384.8 324.3h.01M395.0 254.1h.01M386.5 314.7h.01M377.0 332.3h.01M371.4 288.0h.01M379.4 332.6h.01M376.5 329.7h.01M383.8 326.0h.01M374.6 314.7h.01M380.7 335.2h.01M387.8 313.1h.01M376.6 324.0h.01M376.2 324.1h.01M382.4 331.8h.01M388.8 288.8h.01M372.0 318.4h.01M389.4 309.6h.01M381.4 328.7h.01M374.2 320.5h.01M375.8 326.0h.01M377.1 333.9h.01M375.8 327.7h.01M376.6 328.8h.01M375.2 316.6h.01M377.3 325.1h.01M387.1 323.5h.01M392.7 281.2h.01M382.5 335.1h.01M385.2 326.7h.01M381.4 330.3h.01M371.9 317.5h.01M371.3 321.5h.01M387.8 303.7h.01M378.6 332.3h.01M381.1 333.0h.01M379.2 334.6h.01M382.6 329.2h.01M365.7 316.4h.01M391.4 319.2h.01M380.6 333.9h.01M383.2 331.8h.01M397.7 295.4h.01M378.8 332.6h.01M381.9 333.5h.01M388.9 314.5h.01M378.8 332.2h.01M383.3 317.1h.01M379.0 331.6h.01M380.2 335.7h.01M388.2 325.6h.01M371.9 328.6h.01M375.9 317.8h.01M379.4 334.4h.01M382.2 328.5h.01M377.1 328.2h.01M375.2 312.4h.01M381.1 329.0h.01M382.2 323.2h.01M382.3 332.3h.01M380.1 335.6h.01M397.0 314.6h.01M385.8 327.5h.01M378.9 333.4h.01M385.7 300.5h.01M363.3 251.8h.01M388.0 324.7h.01M388.0 291.0h.01M373.9 326.7h.01M383.2 330.7h.01M373.3 304.7h.01M382.3 326.7h.01M386.8 312.1h.01M383.6 312.6h.01M368.8 261.4h.01M373.0 297.9h.01M377.9 333.6h.01M390.6 329.6h.01M382.8 320.3h.01M377.2 323.1h.01M374.0 327.9h.01M386.6 329.3h.01M384.1 329.4h.01M373.3 300.0h.01M375.3 313.0h.01M385.0 316.9h.01M375.8 313.9h.01M364.3 321.3h.01M366.3 283.3h.01M385.2 306.5h.01M381.2 332.6h.01M378.4 333.5h.01M379.4 335.0h.01M384.6 316.4h.01M377.1 328.9h.01M366.6 284.7h.01M374.9 321.5h.01M375.5 321.3h.01M374.0 326.1h.01M385.5 307.0h.01M374.0 327.8h.01M362.4 306.8h.01M384.5 324.2h.01M374.9 327.1h.01M376.9 330.4h.01M384.0 309.2h.01M385.3 316.9h.01M382.6 329.8h.01M389.0 306.9h.01M381.2 329.7h.01M389.2 326.1h.01M381.4 325.7h.01M381.5 331.2h.01M389.8 289.1h.01M391.6 312.0h.01M378.0 332.0h.01M380.5 335.0h.01M389.7 328.9h.01M375.4 316.3h.01M364.1 267.3h.01M373.1 328.3h.01M380.2 334.1h.01M379.7 334.7h.01M364.5 250.5h.01M375.5 314.1h.01M382.3 332.5h.01M392.6 273.3h.01M384.4 313.6h.01M381.4 328.3h.01M379.6 334.4h.01M377.5 333.2h.01M371.9 324.2h.01M381.3 330.6h.01M380.7 334.2h.01M375.7 331.2h.01M382.6 331.2h.01M374.4 310.7h.01M376.5 330.3h.01M389.0 305.0h.01M381.4 328.1h.01M386.2 302.0h.01M395.0 297.7h.01M390.9 286.3h.01M377.5 330.0h.01M379.4 333.4h.01M389.3 316.1h.01M381.5 331.8h.01M374.8 309.1h.01M389.0 309.8h.01M383.0 325.2h.01M388.7 316.1h.01M380.2 335.3h.01M394.1 273.9h.01M381.1 328.9h.01M384.0 323.1h.01M377.9 328.1h.01M368.0 291.3h.01M384.2 319.3h.01M387.1 319.2h.01M371.0 312.0h.01M381.6 332.9h.01M380.4 335.0h.01M377.1 329.6h.01M369.7 295.4h.01M383.9 315.6h.01M381.5 327.8h.01M382.4 329.8h.01M380.6 334.7h.01M383.1 320.2h.01M386.3 304.2h.01M370.3 289.0h.01M379.3 332.4h.01M382.8 321.8h.01M380.4 335.3h.01M383.4 320.0h.01M399.7 293.0h.01M377.5 330.8h.01M381.8 328.7h.01M388.3 288.2h.01M379.0 330.7h.01M378.0 332.8h.01M375.1 309.0h.01M376.2 311.7h.01M395.8 323.5h.01M383.3 330.1h.01M376.3 326.3h.01M382.9 327.2h.01M377.6 331.9h.01M384.1 321.1h.01M378.3 332.1h.01M399.2 290.3h.01M384.4 323.7h.01M386.8 325.4h.01M378.4 331.5h.01M391.5 265.2h.01M375.8 320.3h.01M379.8 334.8h.01M379.5 334.8h.01M392.7 275.5h.01M390.9 326.3h.01M386.4 308.0h.01M372.5 303.0h.01M385.5 327.6h.01M371.5 311.3h.01M390.6 307.7h.01M381.1 333.5h.01M375.9 320.9h.01M384.1 332.9h.01M376.2 333.0h.01M383.7 334.2h.01M384.0 314.3h.01M385.2 315.7h.01M373.1 326.4h.01M370.5 322.5h.01M371.5 300.5h.01M374.4 330.4h.01M378.1 333.7h.01M382.7 327.5h.01M368.4 287.3h.01M384.9 317.5h.01M376.8 321.8h.01M365.5 326.5h.01M398.8 299.4h.01M368.9 322.2h.01M373.8 328.9h.01M375.6 334.0h.01M380.6 334.4h.01M378.3 327.7h.01M388.5 323.1h.01M382.2 324.2h.01M397.6 310.3h.01M374.4 303.4h.01M384.7 310.4h.01M385.6 317.2h.01M381.8 329.9h.01M381.0 329.2h.01M369.5 325.3h.01M382.7 328.8h.01M378.3 331.1h.01M378.4 330.2h.01M383.0 325.1h.01M375.8 329.2h.01M383.4 321.0h.01M386.0 314.4h.01M371.1 316.5h.01M387.1 326.0h.01M385.7 315.8h.01M378.9 333.5h.01M387.1 328.0h.01M380.2 335.5h.01M386.0 322.6h.01M369.8 289.7h.01M387.9 316.3h.01M388.7 311.7h.01M373.9 310.6h.01M380.3 332.9h.01M381.7 325.1h.01M378.0 326.0h.01M386.4 299.7h.01M389.0 300.0h.01M386.0 319.8h.01M374.3 327.0h.01M370.5 302.0h.01M378.2 327.7h.01M374.2 328.0h.01M373.1 309.3h.01M381.7 326.7h.01M376.3 319.0h.01M393.0 302.0h.01M378.5 333.0h.01M385.4 310.1h.01M381.0 331.3h.01M384.0 328.1h.01M381.0 334.7h.01M379.1 332.9h.01M373.8 296.9h.01M378.3 333.6h.01M384.4 323.2h.01M380.8 333.9h.01M370.9 314.6h.01M386.7 305.8h.01M378.6 334.4h.01M380.4 335.1h.01M372.1 319.6h.01M372.6 320.6h.01M382.7 324.9h.01M385.9 310.6h.01M376.5 332.4h.01M368.7 293.4h.01M381.7 330.4h.01M378.6 333.5h.01M376.4 319.6h.01M378.7 334.6h.01M391.1 274.3h.01M373.1 308.1h.01M378.3 334.5h.01M375.3 323.5h.01M380.8 330.3h.01M381.5 328.0h.01M364.8 281.6h.01M360.2 305.5h.01M381.9 329.4h.01M379.6 334.8h.01M378.8 333.2h.01M392.3 288.8h.01M380.8 332.7h.01M371.8 296.6h.01M383.2 332.9h.01M381.4 329.3h.01M375.4 322.7h.01M378.9 333.2h.01M370.1 313.5h.01M386.2 300.0h.01M379.6 334.0h.01M373.5 323.6h.01M382.5 322.4h.01M379.1 334.8h.01M387.5 308.4h.01M388.5 311.4h.01M375.5 323.8h.01M374.9 313.8h.01M378.0 332.4h.01M371.4 312.8h.01M386.5 314.4h.01M385.5 325.7h.01M383.7 315.3h.01M391.8 311.4h.01M371.8 320.2h.01M380.7 332.5h.01M385.3 321.9h.01M375.2 318.0h.01M381.5 328.3h.01M376.8 323.5h.01M389.7 312.6h.01M384.2 321.8h.01M382.7 333.1h.01M385.6 334.1h.01M381.4 326.9h.01M386.0 301.6h.01M379.4 334.7h.01M375.2 312.7h.01M376.1 325.6h.01M389.3 301.8h.01M381.1 330.1h.01M376.7 328.8h.01M384.0 314.9h.01M372.6 295.4h.01M368.4 283.1h.01M379.1 332.5h.01M381.7 325.9h.01M383.7 318.7h.01M393.2 288.6h.01M380.3 334.2h.01M379.4 334.1h.01M379.6 335.5h.01M374.9 323.4h.01M374.2 325.8h.01M382.3 331.9h.01M371.8 315.8h.01M379.6 335.6h.01M379.1 333.0h.01M396.1 266.5h.01M381.8 328.1h.01M386.5 299.7h.01M381.1 332.8h.01M376.1 312.9h.01M373.2 314.2h.01M374.5 308.0h.01M373.4 321.7h.01M372.5 296.6h.01M375.6 323.2h.01M373.8 324.0h.01M388.4 323.7h.01M375.7 315.7h.01M383.6 328.9h.01M378.9 335.1h.01M377.6 329.5h.01M387.8 314.7h.01M377.4 330.2h.01M383.7 323.1h.01M391.5 282.6h.01M384.0 321.0h.01M380.8 331.7h.01M376.8 323.9h.01M384.0 317.0h.01M369.7 310.1h.01M371.2 287.0h.01M377.2 322.6h.01M376.0 329.0h.01M372.1 305.3h.01M389.0 283.7h.01M384.5 320.9h.01M383.4 320.1h.01M375.8 312.3h.01M385.9 325.8h.01M377.2 329.1h.01M391.8 296.3h.01M378.9 334.5h.01M384.7 309.2h.01M382.3 328.8h.01M382.0 324.7h.01M384.9 320.8h.01M373.4 318.9h.01M376.6 327.6h.01M387.8 323.6h.01M379.3 335.4h.01M378.8 332.7h.01M379.2 334.6h.01M383.2 321.6h.01M384.8 311.1h.01M388.8 319.4h.01M392.4 315.0h.01M377.6 329.6h.01M385.1 329.0h.01M381.5 332.9h.01M386.0 330.4h.01M374.9 310.5h.01M385.1 310.0h.01M377.3 325.7h.01M379.7 335.9h.01M386.4 310.5h.01M376.7 315.0h.01M372.2 314.5h.01M375.6 326.5h.01M376.7 331.2h.01M372.7 307.4h.01M378.8 333.8h.01M372.3 300.8h.01M380.0 335.6h.01M383.0 325.0h.01M379.2 335.7h.01M385.2 328.2h.01M380.8 335.5h.01M394.2 301.2h.01M382.8 326.7h.01M381.1 328.6h.01M389.1 291.6h.01M388.8 288.3h.01M369.7 316.9h.01M381.3 335.6h.01M372.6 297.3h.01M384.6 334.0h.01M387.1 320.8h.01M369.7 325.9h.01M380.5 334.8h.01M380.7 334.2h.01M383.7 327.6h.01M374.9 323.0h.01M379.4 335.3h.01M380.7 331.1h.01M376.4 320.0h.01M380.1 335.4h.01M366.6 280.7h.01M381.6 330.4h.01M380.6 333.5h.01M388.8 317.3h.01M390.6 301.3h.01M377.0 326.4h.01M376.8 323.4h.01M374.2 329.8h.01M379.2 335.0h.01M377.4 333.9h.01M384.8 311.8h.01M380.2 335.1h.01M382.0 329.5h.01M387.5 313.5h.01M375.2 328.2h.01M378.7 334.9h.01M378.4 333.4h.01M384.9 330.5h.01M385.9 312.1h.01M390.5 315.1h.01M360.4 252.7h.01M376.5 320.8h.01M369.9 303.5h.01M378.6 332.8h.01M381.9 324.3h.01M378.3 334.1h.01M360.0 298.7h.01M386.3 319.8h.01M387.2 308.9h.01M371.5 308.3h.01M394.5 295.4h.01M370.9 314.1h.01M380.0 335.2h.01M379.7 334.8h.01M374.7 318.8h.01M380.9 333.4h.01M376.2 321.3h.01M385.7 312.9h.01M376.6 333.1h.01M381.4 330.3h.01M375.6 330.6h.01M383.8 330.6h.01M379.1 332.6h.01M379.4 334.5h.01M382.8 330.8h.01M380.3 335.9h.01M371.4 272.4h.01M376.5 335.3h.01M378.7 334.4h.01M377.5 323.3h.01M378.0 330.3h.01M365.9 323.1h.01M375.6 318.7h.01M386.4 317.2h.01M379.2 332.9h.01M369.0 303.1h.01M377.0 321.3h.01M377.6 327.8h.01M375.2 311.4h.01M373.8 332.6h.01M386.2 322.8h.01M379.5 335.5h.01M375.7 328.8h.01M377.7 326.6h.01M372.4 329.6h.01M376.3 327.0h.01M385.7 315.8h.01M379.1 333.9h.01M380.9 331.1h.01M362.8 306.5h.01M375.2 313.6h.01M392.8 279.9h.01M384.9 320.7h.01M368.3 309.5h.01M377.6 324.1h.01M386.5 292.2h.01M378.2 331.4h.01M379.6 335.7h.01M399.8 265.2h.01M374.4 325.4h.01M386.3 303.1h.01M380.3 335.6h.01M375.3 320.3h.01M364.3 282.0h.01M371.9 300.5h.01M379.3 333.8h.01M379.5 335.1h.01M374.0 321.9h.01M376.9 326.1h.01M384.2 317.0h.01M378.4 329.8h.01M395.0 281.6h.01M383.7 327.3h.01M378.0 326.8h.01M389.1 283.9h.01M382.6 329.4h.01M383.4 328.6h.01M375.4 311.2h.01M384.8 311.2h.01M376.2 323.3h.01M381.7 328.7h.01M383.8 313.8h.01M376.1 324.8h.01M381.9 331.0h.01M371.7 318.4h.01M374.2 328.6h.01M376.4 326.8h.01M375.2 308.5h.01M377.2 330.0h.01M388.9 309.6h.01M375.2 326.3h.01M381.2 335.8h.01M381.4 333.2h.01M382.4 320.9h.01M371.9 318.0h.01M382.3 333.5h.01M374.9 321.2h.01M389.9 292.1h.01M381.8 333.8h.01M375.2 329.2h.01M383.5 317.6h.01M379.1 335.6h.01M383.9 316.7h.01M374.0 301.4h.01M383.8 312.4h.01M379.1 333.5h.01M381.6 328.3h.01M368.6 309.6h.01M375.8 327.3h.01M385.6 329.6h.01M374.4 319.9h.01M374.4 322.0h.01M359.9 314.5h.01M377.9 334.6h.01M374.6 320.8h.01M379.5 335.5h.01M380.4 334.8h.01M363.3 273.2h.01M375.4 308.3h.01M370.8 315.6h.01M379.1 334.6h.01M372.3 328.4h.01M388.1 302.2h.01M396.2 288.0h.01M375.2 316.4h.01M365.3 312.7h.01M394.5 325.7h.01M382.2 329.1h.01M371.1 327.7h.01M377.9 330.1h.01M375.1 324.1h.01M384.7 328.1h.01M378.2 333.0h.01M373.3 310.8h.01M385.9 306.2h.01M377.7 333.2h.01M381.1 328.3h.01M383.6 320.1h.01M376.6 331.3h.01M381.9 328.2h.01M388.8 306.9h.01M373.8 331.5h.01M376.7 329.2h.01M375.0 328.9h.01M382.3 330.3h.01M378.1 325.1h.01M392.6 277.1h.01M378.1 327.2h.01M369.8 317.3h.01M374.8 309.4h.01M385.8 330.4h.01M381.0 332.2h.01M360.2 316.1h.01M379.0 333.6h.01M381.5 333.3h.01M366.5 294.1h.01M365.8 260.7h.01M371.1 310.0h.01M383.8 313.9h.01M384.2 306.0h.01M382.5 322.4h.01M377.6 321.8h.01M385.2 322.3h.01M378.6 329.2h.01M382.0 327.0h.01M393.8 286.6h.01M388.9 325.5h.01M379.1 331.3h.01M385.8 331.5h.01M366.7 267.3h.01M374.6 329.4h.01M379.7 335.2h.01M377.4 330.1h.01M385.7 311.4h.01M377.6 334.7h.01M383.5 313.9h.01M380.3 333.0h.01M386.5 323.8h.01M380.8 333.9h.01M386.1 317.3h.01M376.1 323.3h.01M368.6 328.1h.01M373.5 320.8h.01M395.6 298.2h.01M384.3 317.0h.01M381.3 332.5h.01M384.0 322.2h.01M375.1 324.4h.01M373.6 318.7h.01M384.0 330.2h.01M386.3 319.7h.01M371.0 290.6h.01M390.7 294.4h.01M377.5 329.5h.01M380.3 334.6h.01M377.6 332.5h.01M386.2 299.9h.01M388.7 294.8h.01M390.2 303.6h.01M379.2 332.1h.01M378.0 324.3h.01M374.9 329.8h.01M387.4 322.2h.01M384.1 308.6h.01M361.5 313.7h.01M377.2 324.3h.01M378.4 328.9h.01M369.7 307.4h.01M378.2 333.1h.01M369.8 275.0h.01M391.9 264.5h.01M386.8 311.1h.01M382.4 323.2h.01M379.5 335.7h.01M381.4 326.4h.01M376.6 320.7h.01M375.9 322.9h.01M388.4 284.3h.01M390.1 310.6h.01M391.1 276.5h.01M382.4 330.0h.01M377.4 329.6h.01M386.5 317.1h.01M379.3 333.1h.01M382.7 324.6h.01M383.3 323.7h.01M372.3 311.2h.01M389.6 286.7h.01M382.8 332.5h.01M368.8 286.3h.01M386.2 326.6h.01M367.7 298.5h.01M396.9 307.4h.01M374.0 323.7h.01M387.7 325.3h.01M374.3 304.9h.01M384.8 327.3h.01M390.3 303.0h.01M380.4 334.6h.01M376.3 321.1h.01M384.1 312.7h.01M384.7 320.5h.01M381.2 330.9h.01M384.4 320.7h.01M382.2 325.5h.01M382.8 322.4h.01M375.5 321.3h.01M387.4 299.5h.01M391.1 296.4h.01M399.6 290.2h.01M386.0 328.6h.01M366.4 276.1h.01M369.1 281.3h.01M372.6 304.3h.01M379.2 335.8h.01M371.0 299.9h.01M386.3 313.3h.01M377.8 329.7h.01M372.9 322.0h.01M368.1 278.5h.01M372.4 328.7h.01M379.4 335.2h.01M374.5 325.1h.01M361.3 304.3h.01M381.7 335.0h.01M376.0 329.1h.01M374.3 317.3h.01M384.0 317.7h.01M370.0 276.0h.01M389.2 290.9h.01M371.4 296.9h.01M385.3 325.9h.01M371.1 317.8h.01M380.4 333.5h.01M377.4 331.3h.01M373.8 322.7h.01M374.8 331.0h.01M387.2 306.0h.01M386.8 317.6h.01M378.1 327.8h.01M377.7 331.5h.01M380.5 335.2h.01M381.6 331.7h.01M381.7 332.2h.01M383.5 332.2h.01M397.8 280.5h.01M376.3 325.6h.01M373.8 313.0h.01M380.9 331.6h.01M375.3 316.0h.01M379.7 335.8h.01M384.8 322.6h.01M380.5 333.8h.01M379.6 335.7h.01M374.9 310.7h.01M378.4 329.3h.01M371.4 310.4h.01M388.2 319.7h.01M378.9 333.6h.01M384.9 321.7h.01M382.5 325.2h.01M378.8 332.1h.01M390.1 312.8h.01M395.1 301.3h.01M372.5 299.1h.01M386.9 307.9h.01M385.8 322.6h.01M382.8 329.8h.01M381.2 334.8h.01M379.4 335.0h.01M383.8 327.7h.01M363.3 303.4h.01M375.6 331.3h.01M376.7 329.7h.01M381.3 330.1h.01M380.9 333.7h.01M367.9 329.2h.01M379.9 335.4h.01M380.2 335.9h.01M377.4 326.5h.01M372.3 300.3h.01M376.8 323.9h.01M394.0 305.4h.01M381.6 334.0h.01M387.7 319.6h.01M391.1 274.7h.01M387.9 326.8h.01M381.8 330.6h.01M393.0 313.5h.01M380.8 334.2h.01M389.0 296.7h.01M378.7 329.6h.01M380.8 335.6h.01M383.6 321.5h.01M386.2 325.2h.01M390.7 290.7h.01M377.1 323.1h.01M377.5 329.5h.01M377.9 326.1h.01M380.9 329.6h.01M376.1 320.4h.01M362.9 284.6h.01M368.1 263.4h.01M382.1 323.6h.01M373.7 306.4h.01M376.6 325.4h.01M377.2 323.9h.01M379.3 334.7h.01M382.2 327.6h.01M386.9 328.2h.01M377.1 327.1h.01M390.2 327.1h.01M381.4 326.3h.01M378.9 333.5h.01M362.7 296.8h.01M375.7 332.0h.01M394.4 273.4h.01M384.3 313.5h.01M388.2 322.8h.01M391.4 293.1h.01M364.2 278.7h.01M384.1 325.3h.01M377.6 332.3h.01M378.7 334.7h.01M375.6 316.9h.01M373.2 307.3h.01M376.1 328.9h.01M377.9 334.5h.01M380.3 334.9h.01M384.8 318.4h.01M386.4 308.6h.01M375.0 331.1h.01M377.2 331.8h.01M384.7 315.2h.01M382.3 323.0h.01M366.4 303.1h.01M382.7 329.4h.01M373.7 318.8h.01M384.7 320.9h.01M376.3 325.4h.01M372.2 303.1h.01M369.4 324.3h.01M371.9 324.6h.01M375.6 312.1h.01M377.3 331.2h.01M378.3 330.6h.01M387.0 299.7h.01M386.1 304.9h.01M376.6 326.8h.01M390.7 318.5h.01M378.7 334.5h.01M372.2 314.8h.01M383.4 326.1h.01M378.5 335.3h.01M378.3 332.2h.01M381.6 330.3h.01M376.4 316.9h.01M377.6 328.0h.01M370.6 319.9h.01M379.7 334.6h.01M370.8 296.9h.01M369.5 314.1h.01M386.5 298.1h.01M379.7 335.7h.01M376.5 316.6h.01M377.2 319.9h.01M379.6 335.8h.01M381.8 329.7h.01M374.9 323.6h.01M370.6 322.3h.01M384.9 320.2h.01M378.7 334.6h.01M375.0 317.9h.01M376.2 325.0h.01M380.5 332.1h.01M367.4 273.5h.01M373.0 296.8h.01M383.4 314.3h.01M376.9 330.1h.01M380.5 335.2h.01M380.7 334.7h.01M376.4 322.4h.01M395.4 279.6h.01M380.9 333.8h.01M384.7 323.2h.01M376.9 317.2h.01M379.6 335.2h.01M383.6 325.6h.01M386.6 302.7h.01M375.1 313.0h.01M380.3 334.5h.01M383.7 331.4h.01M383.5 325.9h.01M376.0 317.8h.01M377.7 333.2h.01M392.5 280.8h.01M391.2 284.6h.01M390.0 293.9h.01M373.1 318.4h.01M377.2 326.2h.01M387.4 293.3h.01M374.0 306.5h.01M376.4 332.5h.01M377.0 332.2h.01M380.1 335.5h.01M370.1 283.7h.01M390.7 292.1h.01M367.9 307.5h.01M384.2 310.1h.01M366.2 292.9h.01M378.0 328.0h.01M378.7 333.3h.01M376.9 334.3h.01M376.9 326.1h.01M375.6 312.0h.01M380.5 332.6h.01M373.2 317.4h.01M382.3 329.6h.01M380.8 333.6h.01M398.4 309.5h.01M382.0 325.3h.01M382.4 323.8h.01M387.7 312.6h.01M393.9 287.7h.01M376.5 329.4h.01M369.5 287.1h.01M378.5 327.6h.01M380.2 335.0h.01M381.5 328.6h.01M375.8 322.4h.01M382.0 330.4h.01M380.7 331.4h.01M376.0 322.9h.01M376.8 317.8h.01M378.1 333.3h.01M367.5 286.7h.01M366.9 293.0h.01M384.2 322.8h.01M381.7 334.1h.01M392.4 272.2h.01M389.6 284.1h.01M392.3 301.3h.01M367.5 306.2h.01M381.8 334.8h.01M390.7 305.9h.01M386.6 312.6h.01M379.1 335.6h.01M373.9 321.0h.01M390.5 323.0h.01M388.4 318.0h.01M383.8 313.4h.01M369.1 321.3h.01M376.5 317.0h.01M391.2 303.0h.01M381.2 329.3h.01M383.3 323.6h.01M378.8 335.3h.01M378.6 328.7h.01M377.2 327.9h.01M379.2 334.8h.01M381.2 330.1h.01M373.2 329.3h.01M381.2 335.2h.01M384.2 320.9h.01M376.2 324.0h.01M398.0 291.5h.01M380.6 331.4h.01M377.8 330.1h.01M399.3 306.0h.01M382.6 332.8h.01M376.2 322.3h.01M386.0 328.9h.01M378.8 332.3h.01M371.9 312.3h.01M395.1 313.1h.01M377.3 323.1h.01M373.4 308.1h.01M374.2 308.5h.01M383.8 316.3h.01M378.1 329.5h.01M365.9 267.1h.01M373.5 331.1h.01M391.8 294.3h.01M393.1 306.8h.01M375.0 310.9h.01M379.3 333.2h.01M372.3 311.4h.01M375.5 331.6h.01M368.4 285.8h.01M378.5 333.5h.01M381.8 327.0h.01M383.4 319.8h.01M377.0 317.4h.01M374.9 319.8h.01M387.8 305.6h.01M384.0 322.4h.01M377.9 329.8h.01M377.2 333.7h.01M384.0 329.4h.01M385.7 322.5h.01M370.7 325.6h.01M385.3 331.4h.01M380.0 335.0h.01M381.8 326.8h.01M383.4 325.0h.01M379.6 335.2h.01M372.7 307.4h.01M384.0 312.6h.01M390.5 306.6h.01M378.2 334.2h.01M382.8 319.1h.01M384.7 311.7h.01M373.2 321.0h.01M383.4 325.7h.01M385.0 303.9h.01M379.5 335.1h.01M374.1 302.2h.01M375.1 308.5h.01M384.4 309.1h.01M374.9 309.2h.01M381.0 335.6h.01M382.4 330.6h.01M374.3 327.8h.01M382.7 330.1h.01M375.3 307.3h.01M385.3 317.3h.01M377.9 333.9h.01M378.5 331.8h.01M379.4 333.1h.01M373.0 313.9h.01M381.5 330.5h.01M372.9 323.3h.01M387.2 316.1h.01M391.2 307.8h.01M367.2 290.5h.01M380.9 332.4h.01M382.0 332.0h.01M385.3 309.1h.01M365.6 322.4h.01M375.0 333.0h.01M382.5 325.5h.01M373.2 306.0h.01M383.2 330.6h.01M385.4 320.6h.01M367.0 293.0h.01M381.7 333.6h.01M371.5 291.0h.01M398.1 287.4h.01M380.5 333.0h.01M376.9 321.8h.01M375.4 318.5h.01M375.7 325.2h.01M374.6 308.1h.01M374.8 331.1h.01M375.7 332.0h.01M390.1 293.4h.01M383.5 330.9h.01M383.7 328.6h.01M384.3 316.9h.01M379.5 333.8h.01M376.1 321.2h.01M382.8 327.5h.01M378.5 333.2h.01M381.7 330.4h.01M380.1 335.8h.01M383.7 314.3h.01M375.0 316.4h.01M380.8 333.9h.01M380.0 334.9h.01M386.4 310.3h.01M372.1 318.3h.01M386.9 296.8h.01M384.2 316.9h.01M383.9 328.8h.01M374.2 306.2h.01M378.0 326.1h.01M378.4 330.1h.01M386.3 324.4h.01M393.8 321.7h.01M386.3 291.1h.01M378.8 331.0h.01M375.9 325.3h.01M374.4 308.5h.01M374.3 310.2h.01M376.3 328.0h.01M381.4 330.7h.01M375.1 311.0h.01M385.9 328.2h.01M372.3 325.0h.01M372.7 322.6h.01M376.6 319.4h.01M374.9 307.7h.01M375.6 330.9h.01M373.5 323.2h.01M382.0 324.7h.01M384.0 331.6h.01M386.3 305.2h.01M374.8 321.2h.01M386.9 299.8h.01M376.5 333.2h.01M371.8 318.0h.01M370.3 292.5h.01M377.3 323.4h.01M372.0 294.8h.01M371.9 321.6h.01M380.5 333.6h.01M390.5 294.8h.01M377.0 321.7h.01M385.5 322.8h.01M378.6 333.2h.01M370.8 319.0h.01M384.4 322.2h.01M371.2 298.6h.01M393.1 313.2h.01M392.8 272.3h.01M367.0 311.2h.01M384.1 320.8h.01M386.1 308.6h.01M397.9 329.2h.01M373.6 320.4h.01M378.0 326.0h.01M373.9 304.3h.01M373.6 307.9h.01M378.7 329.6h.01M382.2 329.0h.01M370.9 299.8h.01M374.1 307.8h.01M379.7 335.4h.01M388.7 327.3h.01M376.4 321.9h.01M382.6 330.5h.01M386.2 312.0h.01M385.9 309.2h.01M375.2 329.8h.01M373.2 297.6h.01M382.2 331.5h.01M371.2 319.0h.01M386.8 303.9h.01M373.3 322.8h.01M378.7 331.0h.01M382.7 328.7h.01M384.4 327.6h.01M378.5 332.8h.01M400.1 268.8h.01M377.7 334.0h.01M377.6 322.0h.01M379.2 334.5h.01M377.5 323.5h.01M374.8 307.4h.01M376.2 328.9h.01M390.3 319.7h.01M383.6 331.6h.01M378.3 328.5h.01M393.8 279.4h.01M388.6 290.9h.01M383.5 326.8h.01M385.6 322.6h.01M375.8 328.7h.01M374.3 328.7h.01M387.8 292.1h.01M380.6 331.2h.01M376.4 325.4h.01M383.2 328.2h.01M390.8 298.8h.01M373.4 323.2h.01M382.2 320.5h.01M381.5 327.8h.01M378.9 332.6h.01M386.3 311.9h.01M371.0 293.7h.01M380.4 335.8h.01M392.4 304.3h.01M378.1 330.8h.01M374.0 324.9h.01M383.5 327.5h.01M392.9 311.4h.01M383.9 317.6h.01M372.8 302.4h.01M376.8 333.5h.01M378.5 332.1h.01M392.9 316.5h.01M377.5 333.4h.01M379.7 335.5h.01M382.4 327.0h.01M379.4 335.0h.01M386.1 303.7h.01M377.3 322.8h.01M376.8 321.5h.01M374.8 324.0h.01M377.6 322.5h.01M379.7 335.4h.01M368.1 310.4h.01M377.5 323.5h.01M389.4 287.5h.01M399.2 280.5h.01M381.4 333.3h.01M383.1 319.3h.01M381.0 335.4h.01M388.0 317.6h.01M376.5 319.2h.01M393.4 302.0h.01M377.8 333.1h.01M385.2 315.6h.01M378.4 335.9h.01M387.5 309.4h.01M376.9 320.6h.01M378.2 327.7h.01M394.0 255.0h.01M382.5 328.8h.01M381.4 334.8h.01M378.3 329.5h.01M368.5 314.7h.01M389.7 281.2h.01M379.5 333.8h.01M377.6 331.5h.01M375.2 308.7h.01M368.7 296.0h.01M385.7 303.2h.01M380.9 331.1h.01M398.6 311.6h.01M386.4 314.4h.01M369.4 313.3h.01M374.6 321.3h.01M384.7 331.4h.01M377.8 326.9h.01M372.8 317.3h.01M389.2 301.7h.01M371.1 324.6h.01M384.5 316.6h.01M380.4 333.0h.01M375.2 313.2h.01M377.9 333.1h.01M380.0 335.2h.01M365.3 278.1h.01M386.9 303.0h.01M392.5 314.9h.01M374.7 309.0h.01M364.5 261.4h.01M379.1 330.9h.01M380.9 332.9h.01M386.2 327.4h.01M381.1 333.0h.01M365.9 261.8h.01M375.6 331.0h.01M382.1 332.7h.01M378.1 327.2h.01M370.9 309.4h.01M379.3 334.3h.01M386.8 316.6h.01M365.7 314.0h.01M375.7 313.4h.01M377.4 321.8h.01M387.0 311.0h.01M385.6 328.1h.01M378.8 334.2h.01M380.0 335.3h.01M373.5 311.2h.01M394.5 292.5h.01M386.6 301.1h.01M385.8 322.7h.01M388.9 307.2h.01M386.9 321.3h.01M378.1 326.7h.01M388.9 291.5h.01M381.1 329.1h.01M387.4 303.6h.01M382.6 331.0h.01M374.1 317.0h.01M381.6 328.0h.01M383.7 328.1h.01M377.9 330.9h.01M381.4 334.8h.01M386.6 310.3h.01M398.6 253.0h.01M387.4 304.9h.01M383.4 332.5h.01M385.1 318.2h.01M375.0 331.3h.01M361.3 304.7h.01M379.8 335.8h.01M372.9 297.0h.01M388.2 300.5h.01M382.9 318.8h.01M378.4 332.4h.01M380.1 334.8h.01M383.2 327.2h.01M379.3 335.3h.01M370.4 317.3h.01M383.9 312.3h.01M380.1 334.7h.01M374.2 306.8h.01M378.0 331.2h.01M391.4 302.7h.01M373.4 321.4h.01M376.3 318.2h.01M393.9 257.2h.01M369.1 316.9h.01M380.2 335.0h.01M384.4 327.6h.01M383.5 319.8h.01M377.9 328.3h.01M377.4 321.9h.01M385.8 328.5h.01M382.4 331.8h.01M385.8 322.1h.01M377.7 334.7h.01M383.3 321.6h.01M382.4 324.4h.01M375.0 310.7h.01M376.5 330.9h.01M362.3 280.4h.01M381.7 329.9h.01M385.0 310.3h.01M379.0 334.5h.01M365.3 285.4h.01M386.9 303.6h.01M381.0 333.4h.01M374.1 329.8h.01M373.7 328.4h.01M376.6 323.7h.01M382.6 331.6h.01M380.0 335.3h.01M376.5 317.7h.01M383.6 331.0h.01M374.2 316.2h.01M377.5 330.8h.01M380.7 333.9h.01M372.8 327.4h.01M378.2 332.2h.01M377.0 333.4h.01M382.7 329.4h.01M383.0 317.0h.01M377.8 332.1h.01M380.2 335.4h.01M378.0 324.9h.01M378.6 328.3h.01M379.1 334.0h.01M377.8 328.5h.01M376.0 313.6h.01M383.0 319.8h.01M376.5 325.1h.01M376.7 324.4h.01M383.9 315.6h.01M373.8 307.6h.01M388.1 309.2h.01M375.2 323.8h.01M383.4 325.3h.01M379.3 333.8h.01M390.5 307.6h.01M365.5 310.7h.01M374.9 306.5h.01M386.1 328.4h.01M375.5 319.3h.01M372.4 330.9h.01M384.4 324.1h.01M385.4 322.6h.01M372.2 306.7h.01M378.0 324.1h.01M378.8 328.6h.01M384.1 331.1h.01M387.5 311.0h.01M380.0 335.4h.01M380.3 332.7h.01M374.3 320.4h.01M376.7 326.2h.01M377.5 331.4h.01M375.5 317.9h.01M383.4 330.9h.01M379.5 334.5h.01M387.4 298.8h.01M386.3 318.8h.01M370.5 293.2h.01M381.0 334.8h.01M362.7 309.3h.01M383.8 327.7h.01M374.3 323.0h.01M378.0 330.2h.01M375.1 315.6h.01M379.4 334.5h.01M380.7 332.3h.01M369.6 315.0h.01M375.4 318.8h.01M386.0 325.6h.01M380.2 334.5h.01M368.9 300.5h.01M382.3 328.6h.01M382.2 327.7h.01M395.9 254.8h.01M381.9 330.7h.01M377.0 331.1h.01M377.4 325.3h.01M375.9 324.0h.01M374.8 323.4h.01M387.9 312.7h.01M388.0 288.1h.01M393.0 305.2h.01M386.0 306.9h.01M378.0 332.4h.01M373.4 303.4h.01M372.3 319.6h.01M381.3 332.9h.01M376.6 330.8h.01M381.8 325.1h.01M375.4 319.7h.01M387.5 317.9h.01M370.1 321.4h.01M378.0 333.3h.01M372.6 303.4h.01M387.7 321.7h.01M368.6 306.4h.01M378.6 330.1h.01M371.7 306.1h.01M384.4 331.0h.01M383.6 315.1h.01M391.6 297.5h.01M389.5 320.8h.01M386.8 319.2h.01M377.8 325.6h.01M380.3 333.8h.01M381.9 329.4h.01M372.1 313.8h.01M384.8 309.2h.01M386.5 308.7h.01M375.7 327.2h.01M368.8 292.7h.01M377.8 329.6h.01M381.6 330.1h.01M374.1 321.1h.01M375.4 310.0h.01M373.8 326.1h.01M381.4 330.7h.01M383.9 325.5h.01M384.0 317.3h.01M375.3 328.0h.01M389.7 306.9h.01M374.7 315.4h.01M381.2 330.1h.01M377.5 326.6h.01M378.8 332.8h.01M372.9 316.4h.01M378.9 333.7h.01M379.4 335.4h.01M373.7 295.9h.01M387.3 330.8h.01M384.3 328.8h.01M388.8 319.1h.01M394.1 281.5h.01M378.1 328.3h.01M375.3 327.3h.01M383.4 328.4h.01M383.5 314.4h.01M391.4 277.9h.01M378.7 334.4h.01M369.0 311.0h.01M379.6 335.3h.01M381.3 327.1h.01M391.1 299.6h.01M378.4 333.4h.01M381.2 331.0h.01M367.3 294.1h.01M370.7 297.7h.01M388.3 317.9h.01M373.7 324.6h.01M384.4 317.6h.01M366.3 324.2h.01M373.1 301.9h.01M371.7 324.8h.01M382.7 326.6h.01M380.9 333.1h.01M379.0 331.3h.01M372.1 329.9h.01M379.9 335.4h.01M372.5 320.6h.01M387.3 320.1h.01M385.7 301.7h.01M367.7 277.4h.01M382.9 323.7h.01M371.3 317.5h.01M379.1 335.2h.01M373.4 330.8h.01M377.7 325.3h.01M379.3 335.5h.01M369.8 311.3h.01M374.7 330.7h.01M360.8 276.6h.01M385.3 330.0h.01M383.9 329.2h.01M389.4 307.6h.01M381.8 335.6h.01M381.5 324.4h.01M387.9 290.3h.01M376.3 328.9h.01M383.8 325.1h.01M376.5 329.0h.01M371.9 325.9h.01M375.5 313.4h.01M372.2 323.3h.01M390.1 297.2h.01M379.5 335.5h.01M391.3 284.6h.01M381.5 329.2h.01M361.0 322.3h.01M383.9 319.5h.01M381.5 332.9h.01M383.7 319.6h.01M370.1 300.0h.01M381.0 332.2h.01M377.9 324.7h.01M381.0 333.1h.01M379.3 332.6h.01M395.1 325.4h.01M386.5 311.7h.01M386.5 321.7h.01M377.9 330.4h.01M372.4 293.5h.01M383.2 320.9h.01M361.4 326.2h.01M375.2 324.4h.01M382.5 328.3h.01M370.1 273.3h.01M391.8 318.9h.01M370.9 321.3h.01M381.4 325.8h.01M383.7 323.6h.01M380.1 335.8h.01M379.8 335.6h.01M371.7 314.7h.01M371.0 297.0h.01M389.9 327.3h.01M369.9 296.0h.01M379.8 335.1h.01M376.2 321.0h.01M378.7 334.8h.01M380.4 333.7h.01M389.2 323.8h.01M384.0 314.5h.01M391.6 298.3h.01M376.8 323.5h.01M377.4 328.6h.01M384.8 315.9h.01M378.6 328.8h.01M380.4 333.8h.01M392.0 302.0h.01M387.5 318.7h.01M370.1 322.0h.01M381.7 333.5h.01M387.2 321.3h.01M366.3 293.7h.01M379.8 335.6h.01M366.9 304.6h.01M398.5 318.1h.01M386.4 301.5h.01M380.6 333.2h.01M378.8 333.8h.01M372.6 301.6h.01M379.6 334.7h.01M387.1 324.6h.01M382.3 325.3h.01M379.1 335.5h.01M384.6 326.7h.01M381.0 335.2h.01M382.6 333.8h.01M382.1 327.0h.01M382.9 321.4h.01M383.0 328.8h.01M382.7 327.9h.01M392.9 307.4h.01M373.1 316.2h.01M374.2 322.9h.01M376.7 326.2h.01M385.3 319.8h.01M376.8 320.8h.01M384.8 323.0h.01M390.1 283.5h.01M383.1 333.3h.01M375.0 305.5h.01M380.3 335.1h.01M379.2 333.0h.01M379.5 334.0h.01M382.5 329.6h.01M379.5 335.8h.01M388.2 297.7h.01M388.1 322.3h.01M376.9 334.5h.01M382.9 322.6h.01M376.3 314.5h.01M372.2 307.2h.01M396.1 311.0h.01M384.7 309.5h.01M382.6 329.5h.01M384.0 312.4h.01M372.5 303.9h.01M376.7 319.2h.01M379.2 334.4h.01M382.3 330.7h.01M370.6 315.8h.01M381.2 329.0h.01M379.8 335.2h.01M376.7 327.0h.01M380.7 334.0h.01M370.3 318.0h.01M376.9 327.7h.01M383.5 326.3h.01M381.2 331.6h.01M376.8 318.9h.01M391.8 327.3h.01M376.1 327.5h.01M384.7 312.3h.01M381.1 332.3h.01M384.4 317.6h.01M378.8 330.8h.01M381.6 330.4h.01M382.0 329.6h.01M386.2 305.7h.01M393.1 311.9h.01M371.0 286.6h.01M380.8 335.8h.01M385.6 320.7h.01M377.7 323.6h.01M364.3 317.4h.01M375.9 313.3h.01M384.8 312.4h.01M378.5 330.0h.01M369.8 293.3h.01M392.9 285.2h.01M389.3 296.8h.01M381.0 333.5h.01M377.8 333.6h.01M377.4 321.7h.01M383.6 328.7h.01M373.0 309.8h.01M384.7 321.0h.01M388.1 324.0h.01M387.7 301.1h.01M381.4 329.6h.01M383.3 328.7h.01M377.4 322.1h.01M373.5 322.6h.01M380.5 335.2h.01M382.6 327.3h.01M389.8 323.6h.01M377.5 325.3h.01M385.2 307.3h.01M378.0 327.6h.01M392.8 307.9h.01M374.1 323.4h.01M374.8 317.0h.01M376.3 314.9h.01M384.0 323.8h.01M368.2 270.0h.01M375.6 320.1h.01M379.9 335.5h.01M387.2 294.3h.01M386.3 311.3h.01M375.2 325.0h.01M389.6 297.2h.01M385.1 311.4h.01M370.8 303.0h.01M376.9 318.3h.01M383.8 321.8h.01M377.4 330.4h.01M384.7 318.8h.01M393.4 312.7h.01M395.7 275.6h.01M378.0 326.9h.01M379.3 335.1h.01M375.6 309.7h.01M380.6 333.1h.01M380.7 334.2h.01M379.7 335.6h.01M374.8 322.6h.01M377.9 334.4h.01M384.1 332.6h.01M374.2 306.8h.01M373.8 303.1h.01M381.3 329.1h.01M378.5 329.7h.01M381.2 333.3h.01M376.4 331.0h.01M389.8 323.8h.01M377.8 332.3h.01M375.1 334.3h.01M376.5 318.6h.01M383.2 330.9h.01M379.0 330.9h.01M368.3 303.3h.01M374.1 307.4h.01M386.0 315.2h.01M376.3 328.4h.01M378.9 330.0h.01M381.7 333.7h.01M392.2 287.1h.01M390.8 321.3h.01M379.4 335.1h.01M382.3 332.8h.01M387.4 295.3h.01M379.4 333.0h.01M372.6 288.8h.01M386.0 300.7h.01M376.2 313.6h.01M383.7 326.9h.01M381.5 332.3h.01M377.8 333.2h.01M378.7 335.1h.01M372.7 308.6h.01M380.5 334.2h.01M380.8 334.5h.01M379.6 334.9h.01M390.1 297.6h.01M378.4 333.6h.01M380.6 334.2h.01M390.8 315.5h.01M385.3 311.3h.01M383.8 323.1h.01M383.1 332.2h.01M375.8 322.8h.01M374.2 331.4h.01M380.3 333.7h.01M385.2 333.0h.01M393.7 258.9h.01M374.6 328.4h.01M366.4 312.2h.01M387.9 300.2h.01M393.0 322.2h.01M369.1 307.9h.01M374.4 322.5h.01M380.6 334.4h.01M381.6 331.0h.01M363.8 305.9h.01M392.3 299.7h.01M378.1 334.7h.01M378.3 332.4h.01M368.0 289.2h.01M372.4 321.1h.01M395.5 288.2h.01M373.6 321.6h.01M381.7 326.8h.01M377.2 325.5h.01M373.5 324.7h.01M369.5 311.8h.01M380.8 332.8h.01M377.9 326.6h.01M379.2 335.1h.01M391.0 284.5h.01M374.3 329.5h.01M381.5 329.4h.01M378.9 331.1h.01M377.5 332.7h.01M377.1 333.7h.01M383.6 329.5h.01M383.8 314.2h.01M386.8 308.0h.01M385.3 322.6h.01M393.8 282.3h.01M376.1 314.5h.01M392.3 323.8h.01M390.0 296.7h.01M377.7 334.5h.01M389.4 304.0h.01M382.1 330.2h.01M377.5 334.2h.01M381.2 328.6h.01M369.6 304.8h.01M372.5 302.5h.01M393.3 297.7h.01M390.6 296.8h.01M376.8 320.2h.01M376.0 327.7h.01M390.7 299.6h.01M384.4 316.1h.01M381.4 330.3h.01M390.6 291.5h.01M382.9 324.4h.01M372.3 308.2h.01M364.9 316.8h.01M388.0 303.4h.01M388.8 289.5h.01M370.4 323.3h.01M392.6 310.3h.01M377.5 321.6h.01M383.2 322.3h.01M381.9 330.2h.01M387.0 304.0h.01M383.5 319.3h.01M381.1 331.6h.01M378.6 332.8h.01M372.6 309.6h.01M381.1 334.0h.01M380.1 333.9h.01M387.6 322.9h.01M373.5 316.7h.01M379.7 335.9h.01M373.5 311.1h.01M379.7 335.4h.01M389.8 287.7h.01M377.4 323.5h.01M380.4 334.8h.01M376.1 322.6h.01M385.5 319.3h.01M382.9 325.6h.01M381.8 325.2h.01M392.4 273.4h.01M375.8 322.7h.01M389.7 305.4h.01M371.8 315.7h.01M382.8 326.5h.01M380.6 332.6h.01M366.8 273.8h.01M383.3 330.2h.01M380.0 335.3h.01M378.0 330.2h.01M382.4 330.3h.01M383.7 321.0h.01M399.5 297.4h.01M385.2 325.6h.01M378.3 334.2h.01M375.3 319.3h.01M393.2 311.1h.01M380.1 335.6h.01M381.9 330.4h.01M375.2 315.0h.01M364.0 303.4h.01M378.4 332.6h.01M377.9 327.4h.01M391.5 320.0h.01M373.6 308.6h.01M381.7 328.3h.01M386.4 329.7h.01M377.8 325.4h.01M381.8 326.9h.01M380.4 334.8h.01M383.7 316.7h.01M371.9 314.6h.01M373.7 308.5h.01M382.4 334.0h.01M375.0 312.3h.01M379.1 334.8h.01M387.0 325.0h.01M368.5 291.8h.01M380.0 335.8h.01M368.4 289.0h.01M371.0 311.2h.01M385.3 307.9h.01M380.4 334.1h.01M371.2 284.5h.01M376.5 316.0h.01M374.1 324.1h.01M371.2 314.5h.01M387.8 326.1h.01M382.9 331.9h.01M377.2 326.8h.01M372.7 303.8h.01M382.8 317.1h.01M386.1 307.2h.01M363.9 256.4h.01M386.3 324.4h.01M392.4 288.0h.01M377.5 325.9h.01M375.3 318.8h.01M392.2 295.6h.01M390.7 324.9h.01M372.1 290.3h.01M376.1 326.7h.01M381.6 334.0h.01M378.7 334.5h.01M397.2 267.6h.01M379.3 334.1h.01M378.1 331.1h.01M377.2 322.2h.01M379.6 335.4h.01M385.3 306.1h.01M384.9 333.5h.01M370.0 277.5h.01M392.6 315.5h.01M379.1 334.3h.01M387.0 322.2h.01M388.7 320.1h.01M374.7 322.6h.01M376.0 314.4h.01M385.4 325.4h.01M378.4 333.1h.01M385.7 322.4h.01M390.3 310.2h.01M386.9 305.8h.01M384.7 333.0h.01M370.9 284.7h.01M382.8 329.1h.01M373.9 327.3h.01M379.4 334.3h.01M392.5 298.0h.01M381.7 330.9h.01M379.2 333.9h.01M384.7 319.9h.01M378.6 333.6h.01M380.8 332.7h.01M378.7 329.8h.01M377.3 326.0h.01M387.1 291.7h.01M381.9 323.4h.01M393.7 317.2h.01M370.5 329.1h.01M375.3 317.6h.01M373.5 333.2h.01M380.5 333.5h.01M369.2 314.0h.01M378.1 331.3h.01M366.5 279.9h.01M391.6 280.5h.01M375.9 314.0h.01M381.3 331.0h.01M380.7 335.6h.01M377.6 333.1h.01M381.1 331.6h.01M375.8 327.3h.01M366.8 275.2h.01M383.7 312.9h.01M387.7 308.2h.01M367.5 285.3h.01M384.5 314.2h.01M381.5 331.3h.01M374.9 314.2h.01M387.9 312.5h.01M372.8 321.8h.01M384.3 321.9h.01M378.1 334.2h.01M372.4 304.6h.01M379.0 333.6h.01M387.1 296.5h.01M386.4 321.1h.01M387.4 314.7h.01M378.4 328.2h.01M385.3 322.4h.01M379.1 332.2h.01M380.7 331.3h.01M383.4 331.6h.01M378.9 334.5h.01M383.2 320.9h.01M381.2 334.3h.01M376.1 315.4h.01M390.0 322.7h.01M380.3 335.4h.01M375.7 319.9h.01M373.2 294.7h.01M381.7 329.6h.01M395.9 303.3h.01M381.4 328.4h.01M380.8 332.8h.01M382.1 327.9h.01M374.3 314.3h.01M373.4 295.8h.01M380.0 335.8h.01M389.9 314.5h.01M395.6 316.8h.01M376.4 328.8h.01M378.6 334.7h.01M373.5 305.8h.01M386.3 325.6h.01M379.5 332.6h.01M382.9 324.8h.01M379.4 334.9h.01M389.4 309.0h.01M373.4 321.8h.01M378.3 326.5h.01M381.4 331.2h.01M381.9 329.8h.01M375.1 322.8h.01M384.3 312.2h.01M378.9 335.4h.01M379.6 332.6h.01M383.7 321.9h.01M385.1 321.8h.01M383.0 330.8h.01M377.9 328.5h.01M386.7 307.5h.01M368.8 290.8h.01M377.4 323.9h.01M384.3 317.4h.01M382.2 330.3h.01M373.0 311.2h.01M376.5 331.3h.01M374.7 321.0h.01M377.1 321.6h.01M376.1 315.7h.01M374.5 317.0h.01M385.0 327.6h.01M388.9 316.7h.01M374.2 315.3h.01M374.0 308.4h.01M378.9 335.2h.01M377.9 330.2h.01M363.5 289.8h.01M377.9 327.3h.01M394.8 258.9h.01M372.6 325.0h.01M385.7 313.1h.01M379.4 333.7h.01M396.7 272.7h.01M377.1 333.8h.01M386.9 304.4h.01M377.7 330.1h.01M386.1 307.3h.01M380.3 334.2h.01M383.1 320.0h.01M392.0 301.5h.01M380.7 330.9h.01M390.6 306.0h.01M380.7 334.7h.01M382.0 329.3h.01M388.4 332.3h.01M385.6 318.9h.01M378.0 326.8h.01M369.9 291.4h.01M378.6 329.3h.01M373.0 303.9h.01M394.8 288.3h.01M377.2 330.6h.01M376.7 328.5h.01M375.1 327.6h.01M375.8 311.5h.01M399.1 319.4h.01M375.4 333.1h.01M383.0 319.5h.01M366.3 307.8h.01M377.9 324.8h.01M379.0 334.4h.01M366.9 298.1h.01M380.7 332.6h.01M386.4 332.1h.01M381.7 327.1h.01M387.1 301.8h.01M362.0 272.7h.01M386.6 325.0h.01M378.8 335.1h.01M390.9 323.1h.01M377.3 331.9h.01M386.4 313.4h.01M381.6 325.0h.01M380.8 333.0h.01M389.9 304.5h.01M374.0 309.9h.01M381.0 333.6h.01M376.9 326.5h.01M372.2 297.7h.01M397.8 287.2h.01M378.8 332.9h.01M383.2 331.1h.01M381.5 329.6h.01M378.4 332.9h.01M378.0 327.6h.01M361.8 291.6h.01M360.0 299.0h.01M365.7 320.9h.01M369.5 322.0h.01M382.0 332.5h.01M377.2 325.6h.01M369.2 292.7h.01M374.2 306.4h.01M397.7 299.5h.01M384.5 316.5h.01M378.1 335.4h.01M381.6 330.3h.01M386.2 299.3h.01M379.4 334.5h.01M384.1 316.1h.01M372.4 309.3h.01M376.1 315.0h.01M374.9 318.7h.01M383.0 329.9h.01M375.5 324.1h.01M382.5 326.1h.01M378.0 325.2h.01M380.8 332.8h.01M378.6 329.6h.01M378.3 329.9h.01M387.9 324.4h.01M390.0 323.0h.01M381.1 333.5h.01M380.9 333.5h.01M378.1 324.5h.01M370.5 296.3h.01M382.5 325.9h.01M386.8 308.4h.01M384.5 312.8h.01M396.6 305.4h.01M377.9 325.1h.01M378.8 332.4h.01M370.5 305.4h.01M385.3 309.2h.01M375.9 314.9h.01M375.2 326.9h.01M380.5 333.9h.01M360.8 282.0h.01M378.8 328.4h.01M373.6 298.7h.01M384.0 330.2h.01M371.4 301.7h.01M382.6 330.1h.01M385.0 323.2h.01M380.6 334.2h.01M383.7 330.6h.01M382.4 325.0h.01M378.4 333.6h.01M377.0 325.5h.01M377.8 323.3h.01M373.8 319.2h.01M390.6 293.5h.01M374.4 303.0h.01M383.9 334.1h.01M380.4 334.4h.01M381.9 327.0h.01M379.3 333.4h.01M372.4 306.0h.01M370.2 296.9h.01M373.2 305.0h.01M391.3 284.5h.01M397.3 268.1h.01M369.1 322.7h.01M389.4 325.8h.01M372.0 328.6h.01M384.0 319.4h.01M378.6 332.0h.01M367.7 300.6h.01M392.8 321.6h.01M370.0 314.5h.01M380.3 335.2h.01M373.7 327.2h.01M373.3 306.5h.01M373.4 327.0h.01M381.8 331.2h.01M373.6 329.7h.01M381.7 326.9h.01M388.1 304.2h.01M379.9 335.3h.01M384.6 313.0h.01M378.4 326.1h.01M392.5 297.7h.01M376.3 322.2h.01M384.0 330.2h.01M384.6 311.0h.01M384.0 324.0h.01M383.8 327.9h.01M369.5 319.0h.01M373.8 324.4h.01M383.9 322.2h.01M378.5 330.7h.01M372.3 302.7h.01M378.1 329.5h.01M374.3 313.3h.01M384.0 327.1h.01M384.3 318.4h.01M378.3 334.2h.01M369.5 296.2h.01M376.9 328.2h.01M391.5 317.9h.01M379.4 333.6h.01M377.8 330.8h.01M376.9 321.5h.01M388.4 318.2h.01M383.4 327.2h.01M366.7 321.9h.01M379.2 334.1h.01M384.8 322.9h.01M377.2 326.5h.01M382.8 325.3h.01M382.0 322.2h.01M378.4 330.1h.01M376.2 320.3h.01M376.4 315.7h.01M383.1 317.1h.01M387.2 309.6h.01M371.8 317.5h.01M381.3 330.0h.01M398.0 289.9h.01M381.3 331.7h.01M372.2 297.8h.01M384.6 328.0h.01M376.6 318.2h.01M386.2 309.5h.01M387.7 307.2h.01M386.1 302.3h.01M379.2 335.2h.01M369.1 322.8h.01M382.1 330.4h.01M388.0 326.5h.01M373.4 321.3h.01M385.0 323.4h.01M379.2 333.0h.01M377.5 330.9h.01M390.2 288.7h.01M377.2 329.6h.01M376.1 316.6h.01M376.9 326.3h.01M386.0 323.7h.01M376.0 314.1h.01M380.5 334.6h.01M377.6 328.5h.01M373.3 317.3h.01M378.4 331.9h.01M378.8 334.1h.01M383.4 317.8h.01M382.1 331.9h.01M387.3 312.0h.01M380.3 333.7h.01M366.5 314.5h.01M375.3 328.8h.01M382.8 329.3h.01M385.3 311.6h.01M380.3 334.6h.01M383.2 323.1h.01M382.2 330.8h.01M380.6 333.8h.01M380.6 334.8h.01M376.6 320.9h.01M388.6 299.6h.01M384.7 325.3h.01M385.8 320.6h.01M388.7 315.1h.01M377.6 323.8h.01M385.2 318.1h.01M387.5 324.1h.01M372.9 297.0h.01M376.8 322.0h.01M380.9 334.8h.01M392.7 260.0h.01M385.8 322.2h.01M375.1 307.2h.01M378.2 334.5h.01M394.5 289.0h.01M382.1 326.1h.01M383.1 318.3h.01M368.4 309.3h.01M371.6 312.6h.01M381.0 335.5h.01M381.0 335.4h.01M373.9 308.0h.01M381.4 334.1h.01M374.5 309.4h.01M376.2 325.3h.01M386.0 331.0h.01M387.8 307.0h.01M380.4 333.2h.01M375.9 322.2h.01M387.2 327.3h.01M384.1 312.6h.01M372.5 310.1h.01M376.3 316.5h.01M363.3 297.9h.01M375.6 328.8h.01M375.1 324.9h.01M380.3 335.1h.01M376.6 330.8h.01M390.2 318.0h.01M387.2 321.6h.01M380.7 332.2h.01M384.7 315.0h.01M387.0 327.7h.01M377.5 321.5h.01M382.7 332.0h.01M380.3 334.8h.01M375.4 311.5h.01M375.2 329.8h.01M378.9 330.7h.01M373.8 310.8h.01M380.6 332.1h.01M376.1 321.3h.01M376.9 331.4h.01M383.3 321.7h.01M379.6 333.4h.01M372.9 325.2h.01M370.1 305.7h.01M384.3 329.7h.01M369.4 290.2h.01M378.9 335.9h.01M376.8 326.1h.01M385.9 314.2h.01M376.4 322.1h.01M380.0 335.5h.01M377.8 330.6h.01M389.8 285.6h.01M366.3 271.5h.01M380.5 333.4h.01M379.2 335.5h.01M388.7 319.9h.01M378.5 333.8h.01M379.7 335.5h.01M377.3 324.9h.01M379.8 335.4h.01M382.7 332.6h.01M392.0 288.7h.01M378.9 333.4h.01M381.7 327.7h.01M383.0 330.7h.01M393.2 277.0h.01M385.2 327.4h.01M373.1 325.8h.01M367.3 289.9h.01M374.7 326.8h.01M378.1 331.1h.01M380.6 333.7h.01M376.6 323.9h.01M368.5 308.5h.01M376.3 318.4h.01M373.9 312.6h.01M383.2 322.7h.01M385.3 326.8h.01M366.9 285.9h.01M383.6 327.5h.01M377.8 324.9h.01M379.8 335.7h.01M373.9 308.4h.01M383.1 320.7h.01M381.9 330.7h.01M378.5 331.0h.01M382.5 324.5h.01M367.9 302.9h.01M375.6 321.5h.01M381.4 331.5h.01M375.2 321.6h.01M364.2 312.0h.01M377.9 334.2h.01M382.3 330.0h.01M380.7 334.4h.01M379.6 334.4h.01M396.6 255.5h.01M372.8 311.1h.01M374.1 321.9h.01M398.5 299.6h.01M378.2 326.5h.01M363.6 290.8h.01M382.1 327.6h.01M385.8 316.6h.01M378.1 328.1h.01M383.3 327.1h.01M399.0 287.1h.01M388.3 294.8h.01M379.5 335.4h.01M389.3 304.5h.01M378.9 334.9h.01M375.2 312.2h.01M375.6 314.7h.01M373.7 308.4h.01M373.0 294.4h.01M383.2 324.9h.01M395.4 297.8h.01M375.8 323.8h.01M385.1 326.5h.01M383.4 326.2h.01M384.0 321.6h.01M387.8 315.8h.01M380.9 334.8h.01M390.3 324.5h.01M380.7 333.0h.01M372.3 309.8h.01M373.5 304.1h.01M378.5 333.4h.01M389.3 328.2h.01M377.9 332.8h.01M389.4 322.6h.01M391.6 296.0h.01M386.5 300.4h.01M368.0 269.5h.01M385.2 328.2h.01M378.0 328.5h.01M379.3 332.9h.01M378.3 327.4h.01M365.1 297.9h.01M364.5 244.2h.01M384.2 330.1h.01M382.1 323.9h.01M384.4 319.2h.01M380.2 335.6h.01M389.2 274.8h.01M365.4 240.8h.01M389.6 307.5h.01M369.5 321.9h.01M376.1 319.5h.01M369.7 324.7h.01M374.9 306.0h.01M374.4 322.9h.01M379.7 335.1h.01M375.0 325.1h.01M378.5 328.7h.01M375.4 333.5h.01M374.9 326.6h.01M391.5 278.8h.01M386.8 310.5h.01M372.0 298.1h.01M386.9 327.5h.01M377.4 327.4h.01M375.5 312.6h.01M371.7 290.6h.01M377.8 328.8h.01M393.0 310.0h.01M379.4 334.8h.01M381.1 333.0h.01M376.9 328.0h.01M375.9 333.7h.01M373.9 324.3h.01M369.5 319.7h.01M381.5 326.8h.01M381.1 328.6h.01M372.7 302.1h.01M379.5 333.1h.01M376.3 333.1h.01M381.7 325.1h.01M373.3 309.9h.01M385.5 327.3h.01M389.0 312.4h.01M385.5 325.5h.01M386.3 323.7h.01M382.4 320.3h.01M377.3 329.6h.01M382.3 322.9h.01M374.8 323.9h.01M366.3 288.8h.01M384.5 328.7h.01M381.7 327.3h.01M376.1 327.3h.01M392.1 303.9h.01M387.0 320.5h.01M378.3 333.1h.01M381.0 333.4h.01M388.4 326.9h.01M393.6 295.8h.01M374.3 317.5h.01M383.4 325.5h.01M387.3 315.0h.01M382.8 327.1h.01M385.0 310.7h.01M387.4 319.7h.01M397.8 317.9h.01M381.1 329.5h.01M370.6 290.4h.01M380.4 333.0h.01M377.4 332.6h.01M380.1 335.6h.01M377.8 334.8h.01M389.7 321.6h.01M378.1 329.7h.01M377.7 331.6h.01M386.4 328.2h.01M379.0 331.7h.01M373.8 322.3h.01M373.7 315.5h.01M381.7 329.1h.01M373.2 305.2h.01M375.6 325.9h.01M369.0 315.2h.01M378.6 328.5h.01M380.4 335.5h.01M380.3 335.7h.01M372.4 311.4h.01M388.8 327.4h.01M381.3 329.1h.01M371.6 320.1h.01M362.1 258.4h.01M363.4 318.2h.01M377.9 331.4h.01M376.4 325.6h.01M379.8 335.1h.01M384.2 330.6h.01M385.5 310.3h.01M383.9 325.8h.01M384.4 308.8h.01M376.3 325.8h.01M376.7 326.0h.01M395.0 267.9h.01M393.9 268.2h.01M381.4 333.1h.01M383.7 325.9h.01M379.6 335.8h.01M381.2 334.5h.01M379.3 331.6h.01M376.4 329.5h.01M377.8 332.3h.01M377.3 320.3h.01M375.7 318.4h.01M379.8 335.0h.01M383.9 312.8h.01M376.6 330.6h.01M394.0 315.2h.01M380.4 335.8h.01M383.0 330.8h.01M373.3 319.0h.01M391.4 317.4h.01M381.3 332.6h.01M381.1 335.0h.01M385.6 324.3h.01M373.7 329.3h.01M376.8 331.3h.01M378.2 330.2h.01M375.8 324.9h.01M384.6 326.0h.01M379.1 332.2h.01M380.4 335.8h.01M398.9 299.6h.01M379.6 335.1h.01M377.0 326.4h.01M380.6 334.0h.01M376.9 327.9h.01M386.4 305.3h.01M385.0 323.4h.01M375.4 319.9h.01M385.0 318.2h.01M381.8 329.7h.01M381.8 330.2h.01M382.4 323.6h.01M375.5 318.4h.01M372.1 323.7h.01M377.4 333.9h.01M387.6 298.0h.01M381.4 332.7h.01M385.1 310.0h.01M381.6 328.9h.01M382.2 327.6h.01M381.7 334.0h.01M387.0 302.6h.01M376.6 328.0h.01M378.0 324.0h.01M385.7 310.4h.01M373.0 321.3h.01M381.0 331.4h.01M371.3 324.3h.01M381.4 334.6h.01M381.5 330.3h.01M370.2 296.2h.01M377.0 332.4h.01M379.2 333.9h.01M388.6 300.2h.01M375.7 328.4h.01M391.8 320.5h.01M383.2 327.0h.01M382.9 325.7h.01M384.5 309.8h.01M379.1 332.8h.01M380.4 333.3h.01M375.1 307.8h.01M394.8 293.5h.01M378.2 329.5h.01M378.4 325.0h.01M381.8 334.3h.01M374.7 310.2h.01M382.1 324.7h.01M366.4 294.2h.01M367.3 293.1h.01M365.9 298.3h.01M373.7 315.0h.01M370.3 285.1h.01M381.4 332.6h.01M380.1 335.2h.01M384.9 316.8h.01M381.3 332.7h.01M385.2 320.4h.01M380.3 335.9h.01M387.1 330.4h.01M378.8 333.6h.01M369.9 311.1h.01M388.3 313.5h.01M386.1 323.9h.01M381.5 328.2h.01M395.7 290.3h.01M380.0 335.6h.01M378.9 332.9h.01M382.6 326.9h.01M366.2 303.1h.01M391.1 325.3h.01M375.7 313.1h.01M381.5 326.6h.01M375.1 321.8h.01M378.7 334.6h.01M375.2 307.5h.01M377.8 332.9h.01M373.9 306.9h.01M376.6 317.7h.01M375.3 306.7h.01M379.5 335.3h.01M377.3 330.3h.01M381.6 334.1h.01M380.6 335.7h.01M380.5 332.6h.01M374.9 325.8h.01M369.4 299.8h.01M368.0 299.8h.01M374.6 322.8h.01M383.8 315.8h.01M390.2 308.5h.01M375.4 325.3h.01M378.0 330.7h.01M380.3 335.3h.01M393.2 295.7h.01M381.0 333.5h.01M386.1 304.8h.01M385.9 300.9h.01M386.0 327.7h.01M384.9 303.4h.01M373.2 304.9h.01M378.9 330.5h.01M380.6 331.4h.01M389.0 316.7h.01M379.3 335.5h.01M368.8 299.4h.01M377.4 325.4h.01M377.3 324.0h.01M376.3 321.7h.01M379.9 335.4h.01M379.2 335.2h.01M372.5 293.4h.01M386.4 319.8h.01M377.4 322.9h.01M378.0 326.4h.01M383.6 326.0h.01M368.8 319.4h.01M375.3 314.0h.01M391.9 299.2h.01M380.3 334.1h.01M371.5 321.3h.01M391.9 284.7h.01M381.3 332.2h.01M377.4 332.5h.01M376.7 325.2h.01M370.5 292.1h.01M390.1 298.4h.01M374.4 305.9h.01M378.0 327.3h.01M382.6 327.7h.01M381.0 333.6h.01M383.5 332.5h.01M369.7 311.4h.01M384.5 315.2h.01M386.5 323.9h.01M376.0 314.8h.01M383.8 325.5h.01M378.8 332.0h.01M384.0 323.6h.01M383.4 316.8h.01M370.2 325.9h.01M373.1 328.2h.01M367.9 267.9h.01M374.5 325.3h.01M383.1 331.3h.01M375.8 321.2h.01M382.5 327.7h.01M380.9 335.3h.01M387.0 311.5h.01M367.4 269.8h.01M388.2 295.6h.01M382.5 325.5h.01M377.6 326.9h.01M388.7 300.7h.01M390.1 301.6h.01M379.4 333.9h.01M360.6 319.0h.01M377.4 324.8h.01M390.0 307.0h.01M378.3 332.1h.01M378.9 333.4h.01M375.2 329.3h.01M382.4 329.7h.01M381.6 328.1h.01M380.5 335.4h.01M377.6 323.3h.01M386.5 323.7h.01M367.8 301.5h.01M372.3 319.4h.01M384.2 322.8h.01M391.0 327.2h.01M377.0 332.1h.01M377.1 332.3h.01M375.0 327.9h.01M370.0 290.5h.01M385.7 321.5h.01M387.5 304.5h.01M379.0 334.5h.01M381.9 327.9h.01M376.9 320.3h.01M381.4 334.2h.01M366.2 302.6h.01M376.7 327.9h.01M379.5 335.3h.01M381.6 328.0h.01M371.4 316.3h.01M385.0 309.7h.01M378.6 329.6h.01M380.4 335.5h.01M381.1 332.8h.01M375.7 317.8h.01M378.2 332.7h.01M391.2 281.7h.01M385.9 308.8h.01M376.9 325.5h.01M371.7 327.4h.01M386.6 329.9h.01M371.5 315.6h.01M377.4 323.2h.01M374.1 324.8h.01M367.0 276.2h.01M384.3 322.2h.01M377.3 325.4h.01M398.2 301.9h.01M383.8 333.9h.01M386.8 302.3h.01M380.3 333.5h.01M383.5 324.1h.01M379.4 334.5h.01M381.5 326.6h.01M380.0 334.8h.01M376.9 332.3h.01M380.6 334.6h.01M368.5 299.9h.01M382.4 327.0h.01M382.1 332.5h.01M383.6 324.6h.01M379.6 335.1h.01M367.1 302.9h.01M378.8 331.0h.01M380.3 335.1h.01M381.2 334.2h.01M384.8 315.8h.01M385.9 308.8h.01M380.3 335.8h.01M377.4 321.8h.01M383.0 322.0h.01M372.9 301.8h.01M379.6 335.5h.01M387.5 327.1h.01M378.4 334.1h.01M384.0 321.7h.01M365.7 306.0h.01M375.4 308.9h.01M384.9 307.7h.01M391.2 295.0h.01M384.6 311.6h.01M370.4 299.9h.01M376.5 330.4h.01M388.0 309.9h.01M376.8 318.7h.01M378.9 332.7h.01M386.6 327.1h.01M387.4 316.1h.01M396.3 288.7h.01M366.9 306.2h.01M397.8 313.8h.01M368.8 284.7h.01M385.3 311.8h.01M377.8 327.6h.01M375.5 316.0h.01M373.3 301.4h.01M380.4 333.9h.01M379.4 334.9h.01M382.1 334.8h.01M379.3 335.3h.01M389.6 281.4h.01M375.1 329.0h.01M389.6 305.8h.01M377.9 326.5h.01M376.1 322.4h.01M385.5 308.7h.01M364.8 284.5h.01M366.6 318.9h.01M372.4 318.8h.01M384.0 324.8h.01M373.6 312.6h.01M375.2 316.1h.01M392.9 312.1h.01M384.8 325.2h.01M381.5 327.3h.01M371.1 307.0h.01M373.0 294.2h.01M379.9 335.2h.01M383.6 332.2h.01M361.9 295.5h.01M383.6 329.8h.01M367.3 312.0h.01M383.2 328.0h.01M382.7 322.9h.01M382.0 331.0h.01M380.7 333.4h.01M380.6 333.3h.01M367.0 315.3h.01M377.9 323.1h.01M382.3 325.4h.01M379.7 335.8h.01M386.2 324.4h.01M378.3 325.6h.01M378.9 335.2h.01M389.3 311.0h.01M387.8 297.8h.01M370.6 320.7h.01M382.3 326.6h.01M380.8 333.0h.01M378.6 327.5h.01M368.8 299.6h.01M390.1 316.0h.01M380.6 334.8h.01M379.3 335.7h.01M381.7 334.8h.01M378.2 329.8h.01M376.0 314.7h.01M380.7 333.2h.01M386.3 314.0h.01M380.8 331.7h.01M370.3 320.6h.01M385.9 316.2h.01M385.6 310.5h.01M378.3 330.9h.01M380.9 335.7h.01M377.6 325.9h.01M374.1 317.4h.01M384.2 317.4h.01M375.6 320.2h.01M383.1 330.6h.01M385.4 305.8h.01M389.1 297.0h.01M382.1 330.1h.01M378.4 335.5h.01M369.0 304.9h.01M391.5 295.4h.01M378.5 329.0h.01M384.0 314.1h.01M378.8 333.7h.01M395.3 292.1h.01M387.8 304.9h.01M396.8 249.4h.01M374.5 309.0h.01M381.6 325.7h.01M380.7 334.4h.01M378.5 334.9h.01M386.4 322.0h.01M378.5 333.1h.01M374.7 309.0h.01M382.8 328.4h.01M379.4 333.3h.01M375.2 309.5h.01M365.2 284.9h.01M378.9 334.9h.01M383.1 316.0h.01M385.4 312.3h.01M377.3 325.6h.01M382.6 327.6h.01M380.8 334.7h.01M368.0 265.0h.01M380.1 335.2h.01M392.5 324.2h.01M371.7 293.2h.01M386.8 309.3h.01M385.7 329.9h.01M377.7 330.9h.01M384.4 315.6h.01M390.9 284.6h.01M376.6 331.1h.01M381.8 332.5h.01M386.5 299.5h.01M374.2 306.2h.01M385.1 306.2h.01M372.3 312.6h.01M378.8 331.1h.01M378.2 332.1h.01M384.0 323.2h.01M374.5 331.4h.01M369.9 325.3h.01M376.2 328.3h.01M375.6 323.0h.01M385.4 322.3h.01M377.3 318.6h.01M380.6 331.9h.01M375.4 317.6h.01M381.3 329.2h.01M386.9 299.1h.01M379.7 335.2h.01M381.8 334.6h.01M394.5 308.9h.01M376.2 329.1h.01M383.8 326.8h.01M379.0 335.3h.01M376.7 316.1h.01M381.9 328.9h.01M370.0 312.4h.01M379.2 335.1h.01M378.1 333.6h.01M374.1 321.7h.01M369.4 312.8h.01M377.6 325.6h.01M390.4 296.7h.01M375.6 317.3h.01M380.4 334.7h.01M375.0 324.0h.01M383.2 319.2h.01M380.3 334.8h.01M378.2 330.2h.01M379.0 334.0h.01M382.6 329.2h.01M378.7 329.6h.01M381.9 326.2h.01M377.6 334.3h.01M387.2 301.8h.01M377.0 327.4h.01M381.3 331.7h.01M383.0 326.5h.01M384.0 327.3h.01M388.4 321.2h.01M381.3 334.3h.01M383.0 318.2h.01M383.0 326.6h.01M380.7 332.6h.01M381.9 325.8h.01M378.2 327.9h.01M389.2 318.4h.01M382.9 317.6h.01M387.1 294.3h.01M380.5 334.3h.01M374.0 306.2h.01M381.4 331.4h.01M381.1 330.1h.01M376.8 333.8h.01M378.7 333.5h.01M377.9 328.9h.01M370.1 299.9h.01M384.0 320.8h.01M384.4 331.8h.01M360.6 258.6h.01M375.7 313.0h.01M370.6 280.2h.01M377.7 328.1h.01M375.8 311.7h.01M377.1 316.7h.01M389.1 308.1h.01M371.6 294.8h.01M381.9 331.0h.01M376.9 329.4h.01M372.9 320.6h.01M388.1 298.8h.01M375.7 320.4h.01M384.8 324.8h.01M384.0 328.8h.01M374.6 324.4h.01M381.7 333.1h.01M380.6 333.8h.01M377.8 334.4h.01M377.9 331.6h.01M380.8 334.3h.01M381.4 332.6h.01M385.6 308.6h.01M392.6 312.0h.01M387.6 298.6h.01M384.6 314.0h.01M378.4 328.4h.01M380.2 334.6h.01M377.7 325.9h.01M377.9 326.9h.01M379.3 334.0h.01M379.1 332.7h.01M382.3 325.0h.01M382.4 328.4h.01M372.4 320.4h.01M377.2 324.0h.01M379.6 335.2h.01M374.0 315.9h.01M380.3 335.1h.01M379.7 335.0h.01M378.2 330.8h.01M379.4 335.1h.01M372.6 293.5h.01M383.8 325.8h.01M377.6 327.7h.01M380.8 333.2h.01M387.3 318.0h.01M378.4 328.1h.01M378.6 331.3h.01M370.2 285.4h.01M385.3 324.2h.01M384.7 324.3h.01M391.0 326.7h.01M378.4 329.4h.01M374.1 320.2h.01M383.7 331.1h.01M395.2 328.5h.01M371.9 315.9h.01M379.6 335.3h.01M380.5 335.2h.01M382.9 330.6h.01M384.3 319.2h.01M385.1 314.0h.01M377.9 330.5h.01M368.5 326.4h.01M382.8 316.6h.01M380.8 334.2h.01M385.3 313.9h.01M366.3 290.9h.01M370.8 323.1h.01M380.7 334.2h.01M376.9 322.5h.01M362.1 295.8h.01M380.8 332.7h.01M370.7 320.2h.01M380.8 329.6h.01M369.7 294.1h.01M372.4 315.0h.01M385.6 312.8h.01M390.3 314.6h.01M371.5 307.2h.01M392.2 319.5h.01M371.1 289.0h.01M381.7 328.5h.01M380.1 335.9h.01M370.9 297.7h.01M378.4 329.5h.01M389.9 326.2h.01M381.8 325.8h.01M397.1 277.2h.01M385.0 314.3h.01M384.5 320.7h.01M368.9 275.6h.01M388.8 299.1h.01M378.8 335.1h.01M397.1 299.8h.01M387.5 314.0h.01M373.9 305.5h.01M385.2 329.2h.01M379.8 334.7h.01M395.2 306.0h.01M376.4 320.5h.01M384.7 311.6h.01M364.4 324.6h.01M382.9 324.1h.01M388.5 329.7h.01M374.5 324.6h.01M381.0 330.0h.01M383.9 328.5h.01M374.8 314.8h.01M383.1 327.8h.01M376.7 328.8h.01M377.9 333.3h.01M384.2 325.1h.01M374.7 328.0h.01M381.7 325.9h.01M383.0 332.4h.01M370.4 327.5h.01M386.3 325.1h.01M390.3 320.1h.01M363.3 290.3h.01M381.0 329.6h.01M387.1 319.3h.01M370.9 317.3h.01M374.6 314.6h.01M379.0 333.1h.01M389.8 293.5h.01M370.4 298.2h.01M379.4 334.2h.01M365.4 268.9h.01M382.4 326.3h.01M391.4 291.9h.01M382.9 328.6h.01M376.0 325.2h.01M366.0 258.6h.01M364.1 320.9h.01M374.2 326.4h.01M376.0 332.9h.01M377.4 330.1h.01M366.0 294.5h.01M371.9 320.4h.01M376.6 324.1h.01M380.9 329.6h.01M378.5 331.7h.01M375.7 311.0h.01M381.7 333.6h.01M383.9 326.4h.01M387.0 323.6h.01M364.4 257.4h.01M386.0 317.7h.01M376.4 332.2h.01M374.6 329.4h.01M374.5 326.3h.01M379.0 335.4h.01M384.6 330.2h.01M383.8 329.8h.01M378.7 331.5h.01M383.7 324.2h.01M380.8 335.2h.01M364.5 294.0h.01M378.5 329.7h.01M389.9 296.3h.01M378.1 325.2h.01M378.2 329.3h.01M383.7 326.6h.01M375.3 324.8h.01M377.2 334.0h.01M369.0 317.8h.01M386.9 314.2h.01M381.4 331.5h.01M371.5 297.3h.01M386.8 316.0h.01M362.2 304.9h.01M375.4 328.0h.01M371.8 322.7h.01M397.2 279.7h.01M381.0 333.4h.01M369.9 310.6h.01M381.5 331.0h.01M380.6 335.6h.01M378.7 332.5h.01M376.7 334.6h.01M374.8 316.5h.01M364.1 272.0h.01M383.3 328.5h.01M369.6 325.1h.01M396.6 286.6h.01M375.0 318.4h.01M373.4 324.5h.01M398.0 306.9h.01M379.6 335.1h.01M371.5 319.0h.01M379.3 334.4h.01M391.3 276.7h.01M373.0 321.0h.01M378.1 323.2h.01M386.1 310.6h.01M380.8 334.2h.01M376.6 316.8h.01M374.4 327.0h.01M393.5 293.8h.01M370.9 280.8h.01M383.7 332.2h.01M382.5 333.6h.01M394.5 288.0h.01M388.7 316.5h.01M376.0 317.7h.01M382.3 334.1h.01M384.9 308.9h.01M380.4 335.0h.01M392.0 321.9h.01M380.8 334.0h.01M386.0 301.8h.01M378.8 330.1h.01M383.3 319.1h.01M370.9 302.2h.01M380.3 333.3h.01M383.7 319.0h.01M384.9 310.0h.01M380.7 333.7h.01M379.2 335.5h.01M372.6 325.0h.01M389.3 282.5h.01M372.3 306.4h.01M379.5 335.3h.01M386.1 299.8h.01M371.3 301.9h.01M378.4 330.1h.01M384.2 322.1h.01M381.4 330.6h.01M385.9 302.6h.01M385.0 310.2h.01M361.3 268.7h.01M385.0 308.6h.01M382.5 328.8h.01M395.3 288.5h.01M386.3 304.9h.01M369.8 298.5h.01M363.7 274.2h.01M383.5 322.9h.01M375.0 325.4h.01" stroke="#52666a" stroke-opacity="0.6" stroke-width="0.72" stroke-linecap="round" fill="none"/>
<path d="M356.4 315.2h.01M400.5 317.6h.01M403.7 308.7h.01M358.0 311.2h.01M401.4 314.7h.01M357.7 321.1h.01M400.2 313.1h.01M358.0 317.8h.01M404.5 321.8h.01M356.8 313.4h.01M403.7 310.1h.01M409.1 314.4h.01M401.7 311.1h.01M405.0 319.4h.01M400.9 310.8h.01M349.1 328.8h.01M354.8 322.4h.01M406.8 308.8h.01M404.7 315.7h.01M402.5 316.8h.01M417.2 324.9h.01M351.8 316.7h.01M349.5 326.9h.01M351.5 324.0h.01M403.1 318.5h.01M403.6 321.9h.01M340.5 320.4h.01M434.1 326.3h.01M403.5 318.6h.01M341.7 311.5h.01M415.9 318.7h.01M412.9 310.3h.01M409.6 315.4h.01M408.5 313.1h.01M346.7 326.6h.01M319.8 323.3h.01M421.4 309.7h.01M346.9 322.6h.01M405.3 328.8h.01M404.7 307.9h.01M404.5 313.1h.01M405.0 309.6h.01M407.9 309.5h.01M414.8 323.4h.01M356.2 329.0h.01M414.3 329.3h.01M358.9 309.6h.01M346.3 323.8h.01M345.8 309.8h.01M336.8 314.5h.01M356.7 313.2h.01M418.8 328.4h.01M424.6 316.4h.01M332.6 326.3h.01M358.2 323.1h.01M346.9 326.9h.01M462.6 321.3h.01M409.6 317.7h.01M408.6 327.7h.01M433.0 318.6h.01M358.8 313.7h.01M352.9 319.2h.01M352.3 311.1h.01M350.8 310.0h.01M357.0 309.9h.01M341.0 309.5h.01M405.5 315.8h.01M402.9 314.6h.01M401.2 314.6h.01M344.8 316.4h.01M402.4 314.6h.01M425.8 315.9h.01M349.3 310.7h.01M348.2 322.8h.01M452.8 319.9h.01M400.8 311.4h.01M340.9 322.8h.01M407.8 309.6h.01M344.6 308.7h.01M442.3 316.4h.01M349.3 316.5h.01M351.9 320.8h.01M328.0 319.9h.01M340.9 329.0h.01M357.9 325.3h.01M342.3 328.1h.01M358.2 314.4h.01M303.7 313.3h.01M404.7 316.3h.01M410.6 308.8h.01M410.0 313.5h.01M403.3 322.4h.01M418.6 317.6h.01M412.9 324.3h.01M411.1 323.5h.01M315.5 310.6h.01M401.1 317.4h.01M401.6 309.0h.01M354.9 308.9h.01M438.6 317.9h.01M344.8 324.6h.01M343.2 319.4h.01" stroke="#8a9a9a" stroke-opacity="0.5" stroke-width="0.7" stroke-linecap="round" fill="none"/>
<path d="M359.4 293.0h.01M357.0 268.5h.01M358.9 273.3h.01M354.4 272.0h.01M358.4 296.2h.01M358.6 285.6h.01M359.3 306.3h.01M356.1 264.0h.01M358.9 293.1h.01M354.5 289.7h.01M354.2 298.9h.01M359.3 270.5h.01M345.1 305.3h.01M354.4 288.8h.01M357.1 276.4h.01M359.6 297.3h.01M358.1 300.9h.01M358.2 298.2h.01M357.3 283.2h.01M358.0 292.4h.01M352.5 296.4h.01M351.5 296.9h.01M350.9 306.5h.01M357.1 301.8h.01M356.9 299.3h.01M357.7 264.3h.01M356.3 280.6h.01M357.3 268.6h.01M354.8 276.2h.01M358.8 299.8h.01M358.0 269.6h.01M358.3 299.3h.01M350.6 271.6h.01M352.2 283.3h.01M354.3 303.5h.01M352.3 307.3h.01M358.1 284.2h.01M346.6 274.0h.01M356.1 276.2h.01M349.2 299.4h.01M354.0 304.0h.01M355.3 305.6h.01M358.2 278.9h.01M357.9 285.1h.01M349.7 304.2h.01M356.9 290.2h.01M354.6 302.2h.01M355.2 299.9h.01M356.6 306.3h.01M358.8 269.4h.01M352.7 279.9h.01M359.3 306.0h.01M354.6 305.4h.01M357.9 295.6h.01M359.6 271.1h.01M354.9 278.0h.01M352.6 302.9h.01M356.2 299.9h.01M359.4 272.0h.01M359.0 268.2h.01M356.7 274.2h.01M358.5 301.8h.01M288.5 285.5h.01M294.2 282.9h.01M343.4 249.8h.01M348.4 254.9h.01M340.3 259.7h.01M339.3 286.6h.01M338.9 298.7h.01M342.3 273.0h.01M345.4 274.6h.01" stroke="#3f5557" stroke-width="1.9" stroke-linecap="round" fill="none"/>
<path d="M437.1 239.8h.01M415.4 255.1h.01M405.3 257.1h.01M429.0 260.8h.01M411.4 263.6h.01M415.2 270.6h.01M406.3 274.6h.01M414.4 278.5h.01M417.5 279.0h.01M400.6 281.6h.01M425.6 285.1h.01M413.4 286.0h.01M410.8 288.2h.01M408.3 289.0h.01M404.3 293.2h.01M407.3 294.3h.01M410.3 295.4h.01M402.2 296.5h.01M401.2 298.2h.01M405.3 299.1h.01M409.3 300.4h.01M412.4 302.0h.01M403.2 303.0h.01M406.3 304.1h.01M401.8 305.2h.01M408.3 305.7h.01M404.7 306.6h.01M411.4 297.6h.01M401.2 300.9h.01M406.7 291.0h.01M412.8 303.5h.01M403.9 300.9h.01M409.9 292.1h.01M402.6 306.3h.01" stroke="#fbb315" stroke-width="1.9" stroke-linecap="round" fill="none"/>
<path d="M278.2 204.6 V347.3 H481.40" stroke="#555b5c" stroke-width="0.8" fill="none"/>
<path d="M275.59999999999997 335.90 H278.2" stroke="#555b5c" stroke-width="0.7"/>
<text x="275.0" y="338.30" text-anchor="end" font-size="6.8" fill="#444">0</text>
<path d="M275.59999999999997 314.00 H278.2" stroke="#555b5c" stroke-width="0.7"/>
<text x="275.0" y="316.40" text-anchor="end" font-size="6.8" fill="#444">1</text>
<path d="M275.59999999999997 292.10 H278.2" stroke="#555b5c" stroke-width="0.7"/>
<text x="275.0" y="294.50" text-anchor="end" font-size="6.8" fill="#444">2</text>
<path d="M275.59999999999997 270.20 H278.2" stroke="#555b5c" stroke-width="0.7"/>
<text x="275.0" y="272.60" text-anchor="end" font-size="6.8" fill="#444">3</text>
<path d="M275.59999999999997 248.30 H278.2" stroke="#555b5c" stroke-width="0.7"/>
<text x="275.0" y="250.70" text-anchor="end" font-size="6.8" fill="#444">4</text>
<path d="M275.59999999999997 226.40 H278.2" stroke="#555b5c" stroke-width="0.7"/>
<text x="275.0" y="228.80" text-anchor="end" font-size="6.8" fill="#444">5</text>
<path d="M275.59999999999997 204.50 H278.2" stroke="#555b5c" stroke-width="0.7"/>
<text x="275.0" y="206.90" text-anchor="end" font-size="6.8" fill="#444">6</text>
<path d="M298.70 347.3 v2.4" stroke="#555b5c" stroke-width="0.7"/>
<text x="297.70" y="357.0" text-anchor="middle" font-size="6.8" fill="#444">−4</text>
<path d="M339.30 347.3 v2.4" stroke="#555b5c" stroke-width="0.7"/>
<text x="338.30" y="357.0" text-anchor="middle" font-size="6.8" fill="#444">−2</text>
<path d="M379.90 347.3 v2.4" stroke="#555b5c" stroke-width="0.7"/>
<text x="379.90" y="357.0" text-anchor="middle" font-size="6.8" fill="#444">0</text>
<path d="M420.50 347.3 v2.4" stroke="#555b5c" stroke-width="0.7"/>
<text x="420.50" y="357.0" text-anchor="middle" font-size="6.8" fill="#444">2</text>
<path d="M461.10 347.3 v2.4" stroke="#555b5c" stroke-width="0.7"/>
<text x="461.10" y="357.0" text-anchor="middle" font-size="6.8" fill="#444">4</text>
<text transform="translate(260.6,269.0) rotate(-90)" text-anchor="middle" font-size="9.3" fill="#222">-log10 p-value</text>
<text x="379.5" y="369.6" text-anchor="middle" font-size="8.9" fill="#222">log2 fold change</text>
</g>
<rect x="359" y="196" width="42" height="18" fill="#fff"/>
<text x="380" y="211.5" text-anchor="middle" font-size="13.6" fill="#222" font-style="italic">ΔdimA</text>
<path d="M360 214 H400.2" stroke="#222" stroke-width="1.2"/>
<text x="484.5" y="19" font-size="18" font-weight="bold">(e)</text>
<text x="514.4" y="17.6" font-size="13.6" fill="#111">Light activated genes</text>
<path d="M514.4 20.9 H643.2" stroke="#111" stroke-width="1"/>
<circle cx="566.2" cy="98.5" r="70.6" fill="#fdb913"/>
<circle cx="619.5" cy="99.4" r="29.4" fill="#a712dc"/>
<circle cx="619.5" cy="99.4" r="29.4" fill="#a50c10" clip-path="url(#cv1)"/>
<text x="568.3" y="51.2" text-anchor="middle" font-size="11">Wildtype</text>
<text x="643" y="51.2" text-anchor="middle" font-size="11" font-style="italic"><tspan font-style="normal">Δ</tspan>dimA</text>
<text x="566.2" y="101.2" text-anchor="middle" font-size="10.8" font-weight="bold">207</text>
<text x="614.7" y="101.2" text-anchor="middle" font-size="10.8" font-weight="bold" fill="#fff">36</text>
<text x="642.2" y="101.2" text-anchor="middle" font-size="10.8" font-weight="bold" fill="#fff">7</text>
<text x="507.8" y="194.8" font-size="13.6" fill="#111">Light repressed genes</text>
<path d="M507.8 197.4 H643.2" stroke="#111" stroke-width="1"/>
<circle cx="563.4" cy="275.3" r="69.9" fill="#9c9595"/>
<circle cx="618" cy="274.3" r="37.2" fill="#3d437f"/>
<circle cx="618" cy="274.3" r="37.2" fill="#232349" clip-path="url(#cv2)"/>
<text x="565" y="228.8" text-anchor="middle" font-size="11">Wildtype</text>
<text x="640.2" y="228.8" text-anchor="middle" font-size="11" font-style="italic"><tspan font-style="normal">Δ</tspan>dimA</text>
<text x="561.4" y="277.6" text-anchor="middle" font-size="10.8" font-weight="bold">245</text>
<text x="608.7" y="277.6" text-anchor="middle" font-size="10.8" font-weight="bold" fill="#fff">65</text>
<text x="642.8" y="277.6" text-anchor="middle" font-size="10.8" font-weight="bold" fill="#fff">25</text>
<text x="106.4" y="411.9" font-size="11.4" font-style="italic" letter-spacing="0.55" text-anchor="middle" fill="#111">Wildtype</text>
<text x="205.9" y="411.9" font-size="11.4" font-style="italic" letter-spacing="0.55" text-anchor="middle" fill="#111">ΔkinB</text>
<text x="303.5" y="411.9" font-size="11.4" font-style="italic" letter-spacing="0.55" text-anchor="middle" fill="#111">ΔkinBbphP</text>
<text x="334.6" y="407" font-size="6.6" font-style="italic" letter-spacing="0.3" fill="#111">STOP</text>
<text x="412.3" y="411.9" font-size="11.4" font-style="italic" letter-spacing="0.55" text-anchor="middle" fill="#111">ΔdimA</text>
<text x="519.7" y="411.9" font-size="11.4" font-style="italic" letter-spacing="0.55" text-anchor="middle" fill="#111">ΔkinBΔdimA</text>
<text x="631.4" y="394.6" font-size="11.4" font-style="italic" letter-spacing="0.55" text-anchor="middle" fill="#111">ΔkinBΔdimA</text>
<text x="632.4" y="411.9" font-size="11.4" font-style="italic" letter-spacing="0.55" text-anchor="middle" fill="#111">attB::dimA</text>
<text x="14.3" y="409.4" font-size="18" font-weight="bold">(c)</text>
<path d="M35.8 455.1 A25.25 25.25 0 0 0 35.8 505.6 A32.6 32.6 0 0 1 35.8 455.1 Z" fill="#000"/>
<circle cx="21.5" cy="582.1" r="10.7" fill="#fdb900"/>
<path d="M18.4 569.0 L21.5 560.1 L24.6 569.0 Z" fill="#fdb900" transform="rotate(0 21.5 582.1)"/>
<path d="M18.4 569.0 L21.5 560.1 L24.6 569.0 Z" fill="#fdb900" transform="rotate(45 21.5 582.1)"/>
<path d="M18.4 569.0 L21.5 560.1 L24.6 569.0 Z" fill="#fdb900" transform="rotate(90 21.5 582.1)"/>
<path d="M18.4 569.0 L21.5 560.1 L24.6 569.0 Z" fill="#fdb900" transform="rotate(135 21.5 582.1)"/>
<path d="M18.4 569.0 L21.5 560.1 L24.6 569.0 Z" fill="#fdb900" transform="rotate(180 21.5 582.1)"/>
<path d="M18.4 569.0 L21.5 560.1 L24.6 569.0 Z" fill="#fdb900" transform="rotate(225 21.5 582.1)"/>
<path d="M18.4 569.0 L21.5 560.1 L24.6 569.0 Z" fill="#fdb900" transform="rotate(270 21.5 582.1)"/>
<path d="M18.4 569.0 L21.5 560.1 L24.6 569.0 Z" fill="#fdb900" transform="rotate(315 21.5 582.1)"/>
<path d="M18.200000000000003 661.7 A4.1 4.3 0 0 1 26.4 661.7 Z" fill="#b30000"/>
<rect x="14.700000000000001" y="662.9" width="15.2" height="4.1" rx="2" fill="#b30000"/>
<rect x="14.700000000000001" y="668.7" width="15.2" height="4.1" rx="2" fill="#b30000"/>
<path d="M14.700000000000001 674.4 H29.9 L34.1 681.2 A14.9 14.9 0 1 1 10.5 681.2 Z" fill="#b30000"/>
<rect x="56.4" y="417" width="628.6" height="315" fill="#000"/>
<path d="M367 592 L367 626 L392 626 Z" fill="#380000" filter="url(#b20)"/>
<ellipse cx="640" cy="438" rx="12" ry="2.5" fill="#180000" filter="url(#b20)"/>
<ellipse cx="213" cy="529" rx="18" ry="2.5" fill="#1c0000" filter="url(#b20)"/>
<ellipse cx="588" cy="662" rx="4" ry="14" fill="#160404" filter="url(#b20)"/>
<ellipse cx="270" cy="500" rx="4" ry="8" fill="#150000" filter="url(#b20)"/>
<g filter="url(#b7)">
<path d="M140.1 467.4 L139.9 469.1 L139.4 470.7 L138.6 472.3 L139.1 474.0 L139.1 475.7 L138.8 477.3 L138.1 478.9 L137.1 480.3 L136.2 481.7 L136.1 483.4 L135.6 485.0 L134.8 486.5 L133.7 487.8 L132.4 488.9 L131.3 490.1 L130.7 491.7 L129.7 493.2 L128.6 494.3 L127.1 495.3 L125.5 495.9 L124.3 497.0 L123.2 498.3 L121.9 499.4 L120.4 500.2 L118.8 500.7 L117.1 500.8 L115.7 501.7 L114.3 502.7 L112.7 503.4 L111.1 503.7 L109.4 503.7 L107.7 503.2 L106.1 504.0 L104.5 504.5 L102.8 504.7 L101.1 504.5 L99.5 504.0 L97.9 503.2 L96.2 503.7 L94.5 503.7 L92.9 503.4 L91.3 502.7 L89.9 501.7 L88.5 500.8 L86.8 500.7 L85.2 500.2 L83.7 499.4 L82.4 498.3 L81.3 497.0 L80.1 495.9 L78.5 495.3 L77.0 494.3 L75.9 493.2 L74.9 491.7 L74.3 490.1 L73.2 488.9 L71.9 487.8 L70.8 486.5 L70.0 485.0 L69.5 483.4 L69.4 481.7 L68.5 480.3 L67.5 478.9 L66.8 477.3 L66.5 475.7 L66.5 474.0 L67.0 472.3 L66.2 470.7 L65.7 469.1 L65.5 467.4 L65.7 465.7 L66.2 464.1 L67.0 462.5 L66.5 460.8 L66.5 459.1 L66.8 457.5 L67.5 455.9 L68.5 454.5 L69.4 453.1 L69.5 451.4 L70.0 449.8 L70.8 448.3 L71.9 447.0 L73.2 445.9 L74.3 444.7 L74.9 443.1 L75.9 441.6 L77.0 440.5 L78.5 439.5 L80.1 438.9 L81.3 437.8 L82.4 436.5 L83.7 435.4 L85.2 434.6 L86.8 434.1 L88.5 434.0 L89.9 433.1 L91.3 432.1 L92.9 431.4 L94.5 431.1 L96.2 431.1 L97.9 431.6 L99.5 430.8 L101.1 430.3 L102.8 430.1 L104.5 430.3 L106.1 430.8 L107.7 431.6 L109.4 431.1 L111.1 431.1 L112.7 431.4 L114.3 432.1 L115.7 433.1 L117.1 434.0 L118.8 434.1 L120.4 434.6 L121.9 435.4 L123.2 436.5 L124.3 437.8 L125.5 438.9 L127.1 439.5 L128.6 440.5 L129.7 441.6 L130.7 443.1 L131.3 444.7 L132.4 445.9 L133.7 447.0 L134.8 448.3 L135.6 449.8 L136.1 451.4 L136.2 453.1 L137.1 454.5 L138.1 455.9 L138.8 457.5 L139.1 459.1 L139.1 460.8 L138.6 462.5 L139.4 464.1 L139.9 465.7Z" fill="url(#g1)"/>
</g>
<path d="M132.4 471.3L138.7 472.1M130.4 478.8L136.2 481.2M126.5 485.6L131.5 489.4M121.0 491.1L124.8 496.1M114.2 495.0L116.6 500.8M106.7 497.0L107.5 503.3M98.9 497.0L98.1 503.3M91.4 495.0L89.0 500.8M84.6 491.1L80.8 496.1M79.1 485.6L74.1 489.4M75.2 478.8L69.4 481.2M73.2 471.3L66.9 472.1M73.2 463.5L66.9 462.7M75.2 456.0L69.4 453.6M79.1 449.2L74.1 445.4M84.6 443.7L80.8 438.7M91.4 439.8L89.0 434.0M98.9 437.8L98.1 431.5M106.7 437.8L107.5 431.5M114.2 439.8L116.6 434.0M121.0 443.7L124.8 438.7M126.5 449.2L131.5 445.4M130.4 456.0L136.2 453.6M132.4 463.5L138.7 462.7" stroke="#7a4a78" stroke-opacity="0.35" stroke-width="0.9" fill="none" stroke-linecap="round" filter="url(#b10)"/>
<g filter="url(#wob)"><path d="M106.5 467.4 L105.3 468.0 L105.0 468.5 L105.3 469.4 L105.1 470.3 L104.6 471.1 L103.6 471.0 L102.8 470.7 L102.2 470.2 L101.3 470.5 L100.6 470.1 L100.0 469.6 L100.2 468.6 L100.5 467.9 L99.2 467.4 L98.5 466.4 L98.8 465.5 L99.9 465.0 L101.1 465.3 L101.8 465.2 L102.1 464.3 L102.8 464.0 L103.6 464.0 L104.1 464.6 L104.5 465.2 L105.5 465.3 L106.4 465.7 L107.0 466.4ZM109.6 467.4 L109.0 468.3 L109.0 469.3 L109.4 470.5 L109.3 471.7 L108.2 472.2 L107.2 472.7 L106.7 473.8 L106.0 474.9 L104.8 475.0 L103.6 474.3 L102.6 474.0 L101.4 474.8 L100.3 474.7 L99.4 473.9 L99.2 472.4 L98.2 472.1 L97.0 471.9 L96.4 471.0 L96.3 469.9 L96.1 468.9 L95.7 467.9 L94.5 466.8 L94.9 465.6 L96.1 464.8 L96.8 464.0 L97.0 462.9 L97.5 461.9 L98.6 461.6 L99.9 461.7 L100.7 461.3 L101.5 460.5 L102.5 460.1 L103.6 460.2 L104.4 461.1 L105.4 461.3 L106.9 460.6 L108.0 461.2 L108.6 462.2 L108.5 463.6 L108.9 464.5 L110.2 465.2 L110.2 466.3ZM113.5 467.4 L113.4 468.4 L114.1 469.6 L114.7 470.9 L113.8 471.8 L112.2 472.2 L111.7 473.2 L111.3 474.1 L111.0 475.3 L110.1 475.9 L108.7 475.7 L107.6 475.8 L107.4 477.4 L106.5 478.1 L105.4 478.3 L104.3 478.1 L103.3 477.8 L102.3 478.6 L101.1 479.1 L100.0 478.7 L99.2 477.9 L98.5 476.9 L97.3 477.0 L96.1 476.8 L95.4 475.9 L95.1 474.8 L95.1 473.5 L94.0 473.0 L92.6 472.6 L92.5 471.5 L92.8 470.3 L92.5 469.4 L91.8 468.5 L91.1 467.4 L91.0 466.3 L91.6 465.2 L92.3 464.3 L92.7 463.4 L92.1 461.9 L92.8 460.9 L94.3 460.7 L95.6 460.5 L96.2 459.8 L96.6 458.6 L97.0 457.4 L98.5 457.9 L99.5 457.8 L100.4 457.4 L101.1 455.8 L102.2 455.4 L103.3 456.2 L104.3 457.0 L105.4 456.6 L106.6 456.5 L107.7 456.6 L108.4 457.6 L108.9 458.8 L109.6 459.6 L110.7 459.9 L111.9 460.2 L111.7 461.7 L111.4 463.0 L112.1 463.7 L113.4 464.3 L114.0 465.2 L113.9 466.3ZM117.8 467.4 L116.8 468.4 L116.5 469.4 L117.0 470.5 L117.4 471.7 L117.0 472.7 L115.9 473.4 L115.1 474.1 L115.3 475.4 L115.4 476.8 L114.8 477.8 L113.3 477.9 L112.4 478.5 L111.7 479.2 L111.2 480.5 L109.9 480.4 L108.6 480.1 L107.5 480.1 L107.0 481.7 L106.0 482.0 L104.9 482.1 L103.8 481.6 L102.8 482.1 L101.7 483.0 L100.5 483.4 L99.5 482.6 L98.7 481.5 L97.7 480.9 L96.4 481.4 L95.3 481.1 L94.9 479.8 L94.7 478.3 L93.6 478.1 L92.1 478.1 L91.3 477.4 L91.1 476.2 L91.0 475.0 L89.8 474.5 L88.4 474.0 L88.1 472.9 L88.3 471.7 L88.5 470.5 L87.9 469.5 L87.2 468.5 L87.7 467.4 L88.6 466.4 L89.3 465.5 L88.9 464.4 L88.1 463.1 L88.9 462.2 L89.7 461.4 L90.6 460.7 L90.0 459.2 L90.0 457.8 L91.1 457.2 L92.3 456.9 L93.4 456.5 L93.7 455.3 L94.3 454.1 L95.8 454.5 L97.2 455.1 L98.1 454.7 L98.7 453.3 L99.6 452.7 L100.7 452.9 L101.8 453.1 L102.8 452.9 L103.9 452.0 L105.1 451.3 L106.0 452.5 L106.9 453.4 L107.8 453.9 L109.1 453.5 L110.3 453.7 L110.8 455.0 L111.1 456.3 L111.9 456.9 L113.4 456.8 L114.2 457.5 L114.3 458.8 L114.7 459.8 L115.9 460.2 L117.4 460.7 L117.8 461.8 L117.5 463.1 L116.7 464.4 L117.2 465.3 L118.2 466.3ZM122.7 467.4 L122.0 468.5 L120.9 469.5 L120.7 470.5 L121.6 471.7 L121.5 472.8 L119.8 473.4 L118.5 474.0 L118.5 475.1 L119.5 476.7 L118.7 477.5 L117.8 478.2 L116.8 478.7 L116.7 480.0 L116.9 481.7 L115.6 481.9 L114.1 481.8 L113.1 482.1 L112.4 483.0 L112.0 484.4 L110.6 484.1 L109.2 483.4 L108.3 483.6 L107.7 485.3 L106.9 486.2 L105.7 486.1 L104.6 485.6 L103.6 486.0 L102.5 487.2 L101.4 487.4 L100.4 486.1 L99.5 485.0 L98.5 484.8 L97.4 485.2 L96.2 485.1 L95.6 484.0 L95.1 482.7 L93.9 482.8 L92.4 483.3 L91.2 483.0 L90.9 481.7 L90.3 480.8 L89.0 480.6 L87.8 480.3 L87.2 479.3 L87.5 477.8 L87.8 476.3 L86.3 476.0 L85.4 475.3 L85.8 474.0 L86.2 472.8 L85.7 471.8 L84.2 471.1 L83.5 470.1 L83.7 469.0 L84.3 467.9 L84.1 466.9 L83.1 465.7 L83.3 464.6 L84.4 463.7 L85.9 463.0 L85.7 461.9 L85.2 460.6 L85.6 459.6 L86.8 459.0 L88.0 458.5 L87.5 457.0 L87.1 455.4 L87.7 454.5 L89.3 454.4 L90.2 453.9 L90.7 452.9 L91.0 451.4 L92.2 451.2 L93.9 452.0 L95.0 452.0 L95.5 450.7 L96.2 449.6 L97.3 449.6 L98.6 450.3 L99.6 450.1 L100.4 448.3 L101.4 447.9 L102.5 448.0 L103.6 449.3 L104.6 449.1 L105.8 448.1 L106.9 448.6 L107.6 449.9 L108.4 450.9 L109.5 450.8 L110.8 450.3 L111.8 450.7 L112.4 451.7 L112.9 452.9 L114.4 452.6 L115.7 452.8 L116.5 453.5 L116.7 454.8 L116.9 456.0 L118.2 456.3 L119.3 456.9 L119.3 458.2 L118.9 459.6 L118.9 460.7 L119.9 461.4 L121.0 462.1 L121.2 463.2 L120.7 464.3 L120.7 465.4 L122.3 466.3ZM125.0 467.4 L125.5 468.5 L125.2 469.5 L124.0 470.4 L123.6 471.3 L124.1 472.5 L125.3 473.9 L124.5 474.8 L123.3 475.5 L123.2 476.6 L123.6 477.9 L123.4 479.1 L122.2 479.6 L120.3 479.6 L119.9 480.6 L119.9 481.9 L119.6 483.1 L118.2 483.2 L116.7 483.1 L116.5 484.4 L116.4 485.9 L115.7 486.9 L114.5 486.9 L113.3 487.0 L112.6 488.0 L111.9 489.0 L110.7 488.9 L109.3 488.2 L108.3 488.2 L107.4 488.8 L106.5 490.0 L105.4 489.2 L104.3 488.5 L103.3 488.9 L102.3 490.5 L101.1 490.9 L100.1 490.1 L99.2 489.2 L98.2 489.0 L96.8 490.0 L95.9 489.3 L95.2 488.0 L94.7 486.7 L93.6 486.7 L92.1 487.4 L91.2 486.8 L90.8 485.5 L90.0 484.8 L88.5 485.1 L87.2 485.0 L86.6 484.0 L86.5 482.6 L86.0 481.6 L84.8 481.3 L83.7 480.8 L83.9 479.3 L84.3 477.9 L84.0 476.9 L82.2 476.6 L81.2 475.9 L81.4 474.7 L82.0 473.4 L81.1 472.6 L79.4 471.8 L79.5 470.7 L80.1 469.5 L80.9 468.4 L80.9 467.4 L80.1 466.3 L80.3 465.3 L81.8 464.4 L82.3 463.5 L81.1 462.2 L80.6 461.0 L80.9 460.0 L82.5 459.4 L82.6 458.3 L82.0 456.8 L82.4 455.8 L83.7 455.3 L85.0 455.0 L85.5 454.1 L85.4 452.7 L86.4 452.1 L87.6 451.8 L88.7 451.5 L89.0 450.4 L89.0 448.6 L90.0 448.1 L91.4 448.3 L92.5 448.2 L93.1 447.1 L93.6 445.6 L94.9 445.8 L96.3 446.7 L97.4 447.1 L98.2 446.0 L99.1 445.1 L100.2 445.1 L101.3 445.8 L102.3 445.5 L103.3 444.7 L104.4 444.0 L105.5 444.3 L106.4 445.6 L107.5 445.4 L108.7 445.1 L109.7 445.3 L110.4 446.8 L111.0 448.0 L112.1 447.8 L113.4 447.7 L114.5 447.8 L115.0 449.0 L115.5 450.1 L117.1 449.8 L118.7 449.5 L119.1 450.7 L118.9 452.4 L119.4 453.3 L120.8 453.5 L121.5 454.3 L121.8 455.4 L121.3 456.9 L121.9 457.7 L123.5 458.1 L124.3 458.9 L123.9 460.2 L123.8 461.3 L124.6 462.2 L126.3 462.9 L126.4 464.1 L125.1 465.3 L124.7 466.4ZM127.7 467.4 L128.2 468.4 L129.6 469.6 L129.7 470.6 L128.6 471.6 L128.1 472.5 L128.7 473.8 L129.3 475.0 L128.9 476.1 L126.9 476.5 L126.1 477.2 L126.3 478.4 L126.2 479.6 L125.5 480.4 L124.1 480.8 L123.3 481.4 L123.4 482.8 L124.0 484.6 L123.0 485.2 L121.5 485.2 L120.9 486.0 L120.8 487.5 L120.4 488.7 L119.1 488.8 L117.7 488.6 L116.5 488.8 L116.1 490.0 L115.4 491.1 L114.2 491.0 L112.6 490.0 L111.9 490.8 L111.4 492.5 L110.5 493.3 L109.4 493.2 L108.1 492.4 L107.2 492.9 L106.3 494.3 L105.3 494.6 L104.1 493.7 L103.1 492.9 L102.0 492.8 L101.0 493.6 L99.9 494.1 L99.0 492.8 L98.1 492.1 L97.0 492.3 L95.6 493.5 L94.5 493.2 L93.7 492.3 L92.9 491.4 L91.9 491.1 L90.3 492.0 L89.6 491.0 L89.2 489.5 L89.0 488.0 L87.8 488.0 L86.3 488.2 L85.8 487.2 L85.3 486.1 L85.1 484.9 L83.6 484.9 L81.9 485.0 L81.3 484.1 L81.5 482.6 L81.1 481.6 L79.9 481.1 L78.8 480.5 L78.6 479.4 L79.7 477.7 L79.9 476.5 L78.7 475.9 L77.7 475.2 L77.7 474.1 L78.1 472.9 L78.0 471.9 L76.3 471.1 L75.3 470.2 L76.1 469.0 L76.5 467.9 L76.6 466.9 L76.2 465.8 L75.4 464.6 L76.7 463.7 L78.1 462.9 L78.1 461.9 L77.8 460.7 L77.4 459.5 L78.1 458.7 L79.3 458.0 L79.4 457.0 L78.4 455.3 L78.4 454.1 L79.8 453.6 L81.4 453.4 L81.5 452.2 L81.5 450.8 L82.2 450.1 L83.9 450.1 L85.1 449.9 L85.8 449.1 L85.7 447.5 L86.2 446.5 L87.6 446.6 L88.8 446.6 L89.1 445.1 L89.5 443.6 L90.3 442.7 L91.8 443.3 L92.9 443.3 L93.7 442.5 L94.5 441.5 L95.7 441.8 L97.1 442.9 L98.1 442.9 L99.0 442.0 L99.9 440.9 L101.0 441.1 L102.0 442.0 L103.1 441.8 L104.1 440.8 L105.3 439.8 L106.4 440.3 L107.2 441.5 L108.1 442.5 L109.3 441.9 L110.6 441.2 L111.4 442.3 L111.9 443.9 L112.6 444.9 L114.0 444.3 L115.3 443.9 L116.1 444.7 L116.6 445.8 L117.4 446.5 L119.2 445.9 L120.3 446.2 L120.6 447.5 L120.8 448.8 L121.4 449.7 L122.8 449.8 L123.6 450.6 L123.5 452.0 L123.1 453.5 L123.9 454.1 L125.8 454.2 L126.8 454.9 L126.3 456.3 L126.1 457.5 L127.4 458.1 L128.9 458.8 L129.5 459.7 L128.4 461.1 L127.8 462.3 L128.1 463.3 L129.5 464.2 L129.2 465.3 L128.3 466.4Z" fill="none" stroke="#96245a" stroke-width="1.3" stroke-opacity="0.9" stroke-linejoin="round" filter="url(#b5)"/>
<path d="M113.7 433.9 A35.2 35.2 0 0 1 137.7 472.3" fill="none" stroke="#ece0ec" stroke-width="1.8" stroke-opacity="0.75" stroke-linecap="round" filter="url(#b7)"/></g>
<g filter="url(#b7)">
<path d="M236.5 471.8 L236.4 472.9 L236.3 474.1 L236.0 475.2 L235.5 476.2 L234.9 477.2 L235.0 478.4 L235.0 479.5 L234.7 480.6 L234.4 481.7 L234.0 482.8 L233.4 483.8 L232.8 484.7 L232.0 485.6 L231.2 486.3 L230.1 486.9 L229.8 488.1 L229.2 489.1 L228.5 490.0 L227.8 490.8 L226.9 491.6 L226.0 492.2 L225.0 492.8 L223.9 493.2 L222.8 493.6 L221.6 493.7 L220.8 494.5 L219.8 495.2 L218.8 495.7 L217.8 496.2 L216.7 496.5 L215.5 496.7 L214.4 496.7 L213.3 496.7 L212.1 496.5 L211.0 496.1 L209.9 496.5 L208.7 496.7 L207.6 496.7 L206.5 496.7 L205.3 496.5 L204.2 496.2 L203.2 495.7 L202.2 495.2 L201.2 494.5 L200.4 493.7 L199.2 493.6 L198.1 493.2 L197.0 492.8 L196.0 492.2 L195.1 491.6 L194.2 490.8 L193.5 490.0 L192.8 489.1 L192.2 488.1 L191.9 486.9 L190.8 486.3 L190.0 485.6 L189.2 484.7 L188.6 483.8 L188.0 482.8 L187.6 481.7 L187.3 480.6 L187.0 479.5 L187.0 478.4 L187.1 477.2 L186.5 476.2 L186.0 475.2 L185.7 474.1 L185.6 472.9 L185.5 471.8 L185.6 470.7 L185.7 469.5 L186.0 468.4 L186.5 467.4 L187.1 466.4 L187.0 465.2 L187.0 464.1 L187.3 463.0 L187.6 461.9 L188.0 460.8 L188.6 459.8 L189.2 458.9 L190.0 458.0 L190.8 457.3 L191.9 456.7 L192.2 455.5 L192.8 454.5 L193.5 453.6 L194.2 452.8 L195.1 452.0 L196.0 451.4 L197.0 450.8 L198.1 450.4 L199.2 450.0 L200.4 449.9 L201.2 449.1 L202.2 448.4 L203.2 447.9 L204.2 447.4 L205.3 447.1 L206.5 446.9 L207.6 446.9 L208.7 446.9 L209.9 447.1 L211.0 447.5 L212.1 447.1 L213.3 446.9 L214.4 446.9 L215.5 446.9 L216.7 447.1 L217.8 447.4 L218.8 447.9 L219.8 448.4 L220.8 449.1 L221.6 449.9 L222.8 450.0 L223.9 450.4 L225.0 450.8 L226.0 451.4 L226.9 452.0 L227.8 452.8 L228.5 453.6 L229.2 454.5 L229.8 455.5 L230.1 456.7 L231.2 457.3 L232.0 458.0 L232.8 458.9 L233.4 459.8 L234.0 460.8 L234.4 461.9 L234.7 463.0 L235.0 464.1 L235.0 465.2 L234.9 466.4 L235.5 467.4 L236.0 468.4 L236.3 469.5 L236.4 470.7Z" fill="url(#g2)"/>
</g>
<path d="M228.9 475.9L235.1 477.3M225.4 483.2L230.3 487.1M219.0 488.2L221.7 493.9M211.0 490.0L211.0 496.3M203.0 488.2L200.3 493.9M196.6 483.2L191.7 487.1M193.1 475.9L186.9 477.3M193.1 467.7L186.9 466.3M196.6 460.4L191.7 456.5M203.0 455.4L200.3 449.7M211.0 453.6L211.0 447.3M219.0 455.4L221.7 449.7M225.4 460.4L230.3 456.5M228.9 467.7L235.1 466.3" stroke="#7a7a98" stroke-opacity="0.3" stroke-width="0.8" fill="none" stroke-linecap="round" filter="url(#b10)"/>
<g filter="url(#wob)"><path d="M206.3 464.6h.01M217.4 479.8h.01M210.1 472.7h.01M213.4 465.7h.01M202.7 465.6h.01M206.1 463.9h.01M206.6 473.6h.01M215.2 469.0h.01M212.3 469.0h.01M209.7 468.7h.01M205.0 475.9h.01M222.4 473.1h.01M213.7 470.2h.01M218.5 476.6h.01M222.7 467.7h.01M207.3 473.7h.01M209.2 476.0h.01M216.1 480.2h.01M220.9 475.1h.01M213.1 467.1h.01M204.1 475.7h.01M201.5 473.2h.01M218.6 473.3h.01M221.4 469.6h.01M204.6 461.2h.01M206.1 477.5h.01M206.2 462.6h.01M211.4 476.0h.01M203.5 471.3h.01M199.7 471.8h.01M211.9 469.9h.01M202.9 470.8h.01M205.7 474.4h.01M212.1 464.1h.01M207.2 470.6h.01M209.2 466.8h.01M210.6 474.2h.01M206.2 466.2h.01M208.2 472.5h.01M209.9 477.4h.01M219.3 469.6h.01M219.3 469.4h.01M215.5 469.5h.01M213.8 478.8h.01M220.2 466.1h.01M210.9 472.8h.01M205.0 481.0h.01M217.1 472.1h.01M209.2 470.1h.01M223.4 471.7h.01M219.8 473.1h.01M212.7 464.9h.01M203.7 463.0h.01M205.1 470.8h.01M205.0 465.6h.01M217.0 469.7h.01M217.2 481.9h.01M215.7 467.0h.01M217.2 469.5h.01M208.0 463.3h.01M213.3 482.0h.01M210.8 478.5h.01M207.4 462.1h.01M214.4 468.8h.01M211.4 479.9h.01M219.2 470.7h.01M204.4 465.2h.01M222.6 469.0h.01M201.5 477.2h.01M218.8 466.2h.01M201.3 466.4h.01M206.0 477.2h.01M201.1 467.6h.01M210.6 470.2h.01M214.5 460.4h.01M221.0 465.5h.01M213.2 462.9h.01M217.3 476.3h.01M208.2 478.7h.01M206.5 460.6h.01M204.4 465.4h.01M206.7 470.9h.01M202.8 478.3h.01M205.8 475.2h.01M208.2 465.3h.01M215.0 474.3h.01M208.7 465.2h.01M205.1 462.6h.01M203.0 480.8h.01M208.9 472.0h.01M214.6 479.3h.01M205.5 480.4h.01M208.1 477.2h.01M223.1 472.4h.01M209.6 479.2h.01M205.9 474.1h.01M216.1 468.9h.01M208.2 463.4h.01M206.1 472.9h.01M216.4 463.7h.01M205.0 473.4h.01M216.7 461.7h.01M205.2 470.4h.01M202.4 478.5h.01M205.7 463.0h.01M199.4 467.7h.01M204.9 480.1h.01M206.3 481.4h.01M205.3 478.6h.01M215.6 477.0h.01" fill="none" stroke="#8e3064" stroke-width="0.9" stroke-opacity="0.7" stroke-linecap="round" filter="url(#b4)"/></g>
<g filter="url(#b7)">
<path d="M360.5 468.6 L360.9 470.6 L360.6 472.6 L360.2 474.5 L358.7 476.3 L358.5 478.2 L358.4 480.1 L358.1 482.1 L358.1 484.2 L356.8 485.8 L356.3 487.8 L354.8 489.3 L353.6 490.8 L352.2 492.3 L351.8 494.4 L350.7 496.0 L349.1 497.3 L348.1 499.0 L346.5 500.3 L345.5 502.1 L343.7 503.1 L341.9 504.0 L340.0 504.8 L338.5 506.2 L337.1 507.7 L335.3 508.6 L333.2 509.0 L331.5 510.3 L329.4 510.4 L327.5 511.0 L325.4 510.9 L323.4 511.0 L321.5 511.7 L319.5 512.3 L317.5 512.5 L315.5 512.4 L313.5 513.0 L311.4 512.7 L309.4 512.4 L307.6 511.3 L305.6 510.9 L303.5 511.0 L301.7 510.1 L299.5 510.1 L297.7 509.2 L296.0 508.0 L294.3 507.0 L292.6 506.0 L291.4 504.3 L289.3 503.7 L287.4 503.0 L285.9 501.7 L284.5 500.3 L282.8 499.1 L281.7 497.4 L280.6 495.8 L279.7 494.0 L278.8 492.2 L277.6 490.7 L275.7 489.5 L274.3 487.9 L274.0 485.9 L272.9 484.2 L272.1 482.3 L272.8 480.1 L272.6 478.2 L271.6 476.4 L270.8 474.5 L270.5 472.6 L270.7 470.6 L270.3 468.6 L269.9 466.6 L270.2 464.6 L270.8 462.7 L272.3 460.9 L271.8 458.9 L272.4 457.0 L272.4 454.9 L273.5 453.2 L273.4 451.0 L274.7 449.4 L275.7 447.7 L277.4 446.4 L278.6 444.8 L279.4 443.0 L280.3 441.2 L281.6 439.7 L282.6 437.9 L284.3 436.8 L285.9 435.6 L287.7 434.6 L289.2 433.3 L291.4 433.0 L292.8 431.5 L294.4 430.3 L295.8 428.7 L297.7 427.9 L299.6 427.2 L301.7 427.2 L303.6 426.5 L305.7 426.5 L307.7 426.5 L309.6 425.9 L311.4 424.3 L313.5 424.9 L315.5 424.6 L317.5 424.7 L319.5 424.7 L321.4 425.8 L323.4 426.1 L325.4 426.5 L327.5 426.1 L329.3 427.2 L331.3 427.4 L333.3 428.0 L335.3 428.4 L336.8 429.9 L338.4 431.2 L339.9 432.5 L341.5 433.6 L343.2 434.7 L345.2 435.4 L347.1 436.3 L348.4 437.9 L349.3 439.8 L350.8 441.2 L351.8 442.8 L352.1 445.0 L353.9 446.2 L355.0 447.9 L356.0 449.6 L356.9 451.3 L357.6 453.2 L358.3 455.0 L358.2 457.1 L358.7 459.0 L358.6 461.0 L360.1 462.7 L360.5 464.6 L360.2 466.6Z" fill="url(#g3)"/>
</g>
<path d="M352.8 475.8L358.6 477.0M347.1 489.2L352.0 492.4M336.6 499.5L339.9 504.2M322.9 505.0L324.1 510.7M308.1 505.0L306.9 510.7M294.4 499.5L291.1 504.2M283.9 489.2L279.0 492.4M278.2 475.8L272.4 477.0M278.2 461.4L272.4 460.2M283.9 448.0L279.0 444.8M294.4 437.7L291.1 433.0M308.1 432.2L306.9 426.5M322.9 432.2L324.1 426.5M336.6 437.7L339.9 433.0M347.1 448.0L352.0 444.8M352.8 461.4L358.6 460.2" stroke="#6a5a80" stroke-opacity="0.3" stroke-width="0.9" fill="none" stroke-linecap="round" filter="url(#b10)"/>
<g filter="url(#wob)"><path d="M317.8 468.4 L318.0 469.0 L318.2 469.7 L317.7 470.2 L317.0 470.2 L316.3 470.1 L315.9 470.3 L315.5 470.9 L314.8 471.3 L314.2 471.1 L313.9 470.4 L313.7 469.8 L313.4 469.4 L313.0 469.0 L312.8 468.4 L313.2 467.9 L313.6 467.5 L313.8 467.1 L313.9 466.3 L314.2 465.6 L314.8 465.4 L315.5 465.9 L316.0 466.4 L316.4 466.6 L317.0 466.5 L317.6 466.7 L317.9 467.2 L317.8 467.9ZM320.7 468.4 L319.9 469.3 L319.8 470.3 L319.9 471.5 L319.2 472.3 L318.1 472.6 L317.2 473.1 L316.4 474.0 L315.2 474.3 L314.2 473.5 L313.4 472.6 L312.5 472.3 L311.4 471.9 L311.0 470.9 L311.0 469.8 L310.7 468.9 L309.9 467.8 L309.9 466.6 L310.8 465.8 L311.8 465.2 L312.3 464.3 L313.1 463.4 L314.2 463.5 L315.3 463.9 L316.2 463.7 L317.4 463.3 L318.5 463.6 L319.1 464.6 L319.6 465.5 L320.6 466.2 L321.1 467.2ZM324.3 468.4 L323.4 469.4 L322.9 470.4 L323.1 471.5 L322.6 472.5 L321.4 472.9 L320.6 473.5 L320.4 474.8 L319.7 475.7 L318.5 475.6 L317.5 475.9 L316.6 476.9 L315.5 477.2 L314.5 476.3 L313.5 475.8 L312.4 476.0 L311.4 475.5 L311.0 474.3 L310.4 473.5 L309.1 473.3 L308.2 472.6 L308.3 471.4 L308.0 470.4 L307.0 469.5 L306.7 468.4 L307.6 467.4 L308.1 466.4 L307.9 465.3 L308.4 464.3 L309.6 463.9 L310.4 463.3 L310.6 462.0 L311.3 461.1 L312.5 461.2 L313.5 460.9 L314.4 459.9 L315.5 459.6 L316.5 460.5 L317.5 461.0 L318.6 460.8 L319.6 461.3 L320.0 462.5 L320.6 463.3 L321.9 463.5 L322.8 464.2 L322.7 465.4 L323.0 466.4 L324.0 467.3ZM326.8 468.4 L326.1 469.4 L326.2 470.5 L326.6 471.8 L325.8 472.7 L324.5 473.2 L324.1 474.1 L324.0 475.4 L323.1 476.0 L321.8 476.1 L321.3 477.0 L320.8 478.4 L319.8 478.7 L318.6 478.5 L317.6 479.1 L316.6 480.0 L315.5 479.7 L314.5 478.7 L313.5 478.7 L312.3 479.0 L311.4 478.3 L310.8 477.1 L309.8 476.9 L308.4 477.1 L307.7 476.2 L307.4 475.0 L306.5 474.4 L305.2 473.9 L305.0 472.7 L305.5 471.4 L305.1 470.5 L304.3 469.5 L304.7 468.4 L305.6 467.4 L305.5 466.4 L304.9 465.2 L305.4 464.2 L306.4 463.5 L306.5 462.4 L306.5 461.0 L307.4 460.3 L308.8 460.2 L309.5 459.5 L310.1 458.4 L311.3 458.4 L312.6 458.9 L313.5 458.4 L314.4 457.4 L315.5 457.6 L316.5 458.3 L317.6 457.9 L318.9 457.3 L319.9 457.9 L320.5 459.0 L321.5 459.4 L322.8 459.5 L323.3 460.6 L323.3 462.0 L324.0 462.7 L325.2 463.2 L325.4 464.3 L325.1 465.5 L325.8 466.3 L326.9 467.3Z" fill="none" stroke="#962a5a" stroke-width="0.9" stroke-opacity="0.85" stroke-linejoin="round" filter="url(#b4)"/>
<path d="M333.9 470.0 L335.3 468.0 L336.5 470.1 L337.9 468.1 L339.1 470.2 L340.5 468.2 L341.8 470.2M333.4 473.1 L335.2 471.4 L336.2 473.7 L338.0 472.0 L338.9 474.2 L340.7 472.6 L341.7 474.8M332.6 475.4 L334.8 474.0 L335.7 476.4 L337.8 475.0 L338.7 477.4 L340.9 476.1 L341.7 478.5M331.4 477.9 L333.5 476.7 L333.7 479.1 L335.8 477.9 L336.1 480.3 L338.2 479.2 L338.4 481.5M329.2 480.9 L331.7 480.4 L331.7 483.0 L334.3 482.5 L334.3 485.1 L336.8 484.6 L336.9 487.2M326.1 483.6 L329.1 484.1 L328.9 487.1 L331.8 487.6 L331.7 490.6 L334.6 491.1 L334.4 494.1M324.5 484.6 L327.1 485.0 L326.4 487.5 L329.0 487.9 L328.3 490.5 L330.9 490.9 L330.1 493.5M321.4 485.9 L324.1 487.1 L323.0 489.7 L325.6 490.9 L324.5 493.5 L327.1 494.7 L326.0 497.3M318.0 486.7 L320.4 488.5 L318.8 490.9 L321.2 492.7 L319.6 495.1 L322.0 496.8 L320.4 499.3M314.4 486.9 L316.4 488.2 L314.4 489.5 L316.4 490.8 L314.4 492.1 L316.4 493.5 L314.4 494.8M312.1 486.6 L313.9 488.3 L311.7 489.5 L313.5 491.2 L311.3 492.3 L313.1 494.0 L311.0 495.2M307.7 485.2 L309.1 487.2 L306.7 487.7 L308.1 489.7 L305.7 490.2 L307.1 492.2 L304.7 492.7M305.4 483.9 L306.4 486.3 L303.8 486.7 L304.8 489.0 L302.3 489.4 L303.2 491.8 L300.7 492.1M303.0 482.1 L303.3 484.9 L300.5 485.2 L300.7 488.1 L297.9 488.4 L298.1 491.2 L295.3 491.6M301.0 479.9 L300.8 482.7 L298.1 482.5 L297.9 485.2 L295.1 485.0 L295.0 487.8 L292.2 487.6M298.9 476.5 L297.9 479.3 L295.1 478.7 L294.1 481.5 L291.3 480.8 L290.3 483.6 L287.4 482.9M297.8 473.7 L296.4 476.4 L293.7 475.2 L292.4 477.8 L289.6 476.7 L288.3 479.3 L285.6 478.2M297.1 470.7 L295.7 473.0 L293.6 471.4 L292.2 473.6 L290.1 472.0 L288.7 474.3 L286.5 472.6M297.0 467.2 L294.9 469.2 L292.9 467.2 L290.8 469.1 L288.7 467.1 L286.6 469.1 L284.6 467.1M297.6 463.6 L295.9 465.3 L295.1 463.0 L293.4 464.7 L292.5 462.5 L290.8 464.2 L290.0 462.0M298.3 461.7 L296.0 463.0 L294.9 460.6 L292.6 461.9 L291.6 459.5 L289.3 460.8 L288.3 458.4M300.3 457.9 L297.7 458.7 L297.3 456.0 L294.8 456.8 L294.3 454.2 L291.8 455.0 L291.3 452.4M301.8 456.0 L298.8 456.2 L298.3 453.2 L295.4 453.4 L294.9 450.4 L291.9 450.6 L291.5 447.6M304.1 453.8 L301.8 454.2 L302.5 451.9 L300.1 452.2 L300.8 449.9 L298.4 450.3 L299.1 448.0M306.5 452.2 L304.2 452.3 L305.2 450.2 L302.9 450.2 L303.9 448.1 L301.6 448.2 L302.6 446.1M310.5 450.6 L308.2 450.0 L309.6 448.1 L307.3 447.6 L308.8 445.7 L306.5 445.1 L308.0 443.2M313.6 450.0 L311.3 448.2 L313.0 445.8 L310.7 444.1 L312.3 441.7 L310.0 439.9 L311.7 437.5M317.3 450.0 L315.4 447.9 L317.5 445.9 L315.6 443.8 L317.7 441.8 L315.8 439.7 L317.8 437.7M319.6 450.4 L317.9 448.2 L320.2 446.7 L318.5 444.6 L320.8 443.1 L319.1 440.9 L321.4 439.4M323.2 451.6 L322.1 449.1 L324.7 448.0 L323.5 445.4 L326.1 444.4 L325.0 441.8 L327.6 440.7M325.3 452.7 L324.5 450.0 L327.3 449.2 L326.5 446.5 L329.2 445.7 L328.4 443.0 L331.1 442.2M327.7 454.5 L327.0 452.0 L329.5 452.1 L328.9 449.7 L331.4 449.7 L330.8 447.3 L333.3 447.3M330.8 457.9 L330.9 455.3 L333.4 455.9 L333.6 453.3 L336.1 453.8 L336.2 451.2 L338.8 451.8M331.8 459.7 L332.5 456.9 L335.3 457.6 L336.0 454.8 L338.7 455.5 L339.4 452.8 L342.2 453.4M333.2 462.9 L333.6 460.7 L335.4 462.1 L335.8 459.8 L337.6 461.3 L338.1 459.0 L339.9 460.5M333.8 465.4 L334.8 463.2 L336.6 464.8 L337.6 462.5 L339.5 464.2 L340.5 461.9 L342.3 463.5" fill="none" stroke="#a8305e" stroke-width="1.0" stroke-opacity="0.7" stroke-linecap="round" stroke-linejoin="round" filter="url(#b5)"/>
<path d="M334.0 468.9 L336.4 467.2 L338.8 468.8 L341.2 467.1 L343.7 468.7 L346.1 467.1M333.5 472.5 L336.1 471.4 L338.1 473.4 L340.7 472.2 L342.6 474.2 L345.2 473.1M331.7 477.3 L334.0 476.6 L334.9 478.8 L337.2 478.2 L338.1 480.4 L340.4 479.7M329.4 480.6 L332.1 480.8 L332.8 483.4 L335.5 483.6 L336.2 486.2 L339.0 486.3M327.3 482.7 L329.5 482.8 L329.4 485.0 L331.7 485.1 L331.5 487.4 L333.8 487.5M324.1 484.8 L326.7 486.0 L326.5 488.9 L329.1 490.1 L328.9 493.0 L331.5 494.2M320.4 486.2 L322.4 487.2 L321.3 489.1 L323.3 490.0 L322.2 492.0 L324.2 492.9M316.9 486.8 L318.7 488.5 L317.3 490.5 L319.1 492.2 L317.7 494.2 L319.6 495.9M313.4 486.8 L314.8 488.9 L313.1 490.7 L314.5 492.8 L312.8 494.6 L314.2 496.7M309.9 486.0 L310.8 488.6 L308.7 490.4 L309.6 493.0 L307.5 494.8 L308.4 497.4M306.1 484.3 L306.9 486.3 L304.8 486.8 L305.5 488.8 L303.5 489.2 L304.2 491.2M302.4 481.5 L302.5 483.8 L300.2 483.9 L300.3 486.2 L298.0 486.3 L298.0 488.6M299.7 478.0 L299.0 480.4 L296.6 480.1 L295.9 482.4 L293.4 482.2 L292.8 484.5M298.3 475.1 L296.8 477.5 L294.1 477.0 L292.6 479.4 L289.9 478.9 L288.4 481.3M297.4 472.0 L295.6 474.1 L293.1 473.0 L291.4 475.1 L288.9 474.1 L287.1 476.1M297.0 467.3 L295.2 468.9 L293.4 467.3 L291.6 468.8 L289.9 467.2 L288.0 468.8M297.8 462.9 L296.2 464.1 L295.3 462.3 L293.7 463.5 L292.8 461.6 L291.2 462.8M299.3 459.5 L297.3 460.3 L296.7 458.3 L294.7 459.1 L294.1 457.0 L292.1 457.8M301.4 456.4 L299.3 456.7 L299.1 454.6 L297.0 455.0 L296.9 452.8 L294.7 453.2M303.1 454.7 L300.6 454.5 L300.4 452.0 L298.0 451.8 L297.8 449.3 L295.3 449.1M307.7 451.6 L305.5 451.0 L306.2 448.8 L304.1 448.2 L304.8 446.0 L302.6 445.4M310.5 450.6 L308.4 449.2 L309.3 446.7 L307.1 445.3 L308.0 442.9 L305.9 441.5M313.9 450.0 L312.0 448.3 L313.4 446.2 L311.5 444.5 L312.9 442.4 L311.0 440.7M317.3 450.0 L315.8 448.1 L317.5 446.4 L316.0 444.5 L317.7 442.7 L316.2 440.8M322.4 451.3 L321.5 449.1 L323.6 448.1 L322.6 446.0 L324.7 444.9 L323.8 442.8M325.0 452.5 L324.2 450.6 L326.2 450.2 L325.4 448.3 L327.5 447.8 L326.7 445.9M328.7 455.5 L328.8 453.1 L331.2 452.9 L331.2 450.5 L333.6 450.3 L333.7 447.9M331.4 458.9 L332.3 456.3 L335.0 456.5 L335.9 453.9 L338.6 454.0 L339.6 451.5M332.4 460.9 L333.8 458.4 L336.7 458.8 L338.1 456.3 L341.0 456.6 L342.4 454.1M333.9 466.2 L335.8 464.2 L338.4 465.4 L340.3 463.5 L342.8 464.7 L344.8 462.7" fill="none" stroke="#f2a0b4" stroke-width="0.9" stroke-opacity="0.75" stroke-linecap="round" stroke-linejoin="round" filter="url(#b4)"/>
<path d="M302.5 440.2h.01M300.7 442.6h.01M314.2 496.5h.01M312.3 447.2h.01M341.9 478.2h.01M293.3 450.1h.01M319.7 441.7h.01M292.3 489.9h.01M284.6 468.5h.01M291.6 482.8h.01M285.2 479.4h.01M298.4 496.0h.01M340.4 453.2h.01M294.7 489.1h.01M295.3 471.2h.01M325.6 444.7h.01M345.9 465.7h.01M293.3 482.4h.01M315.4 440.6h.01M319.9 488.4h.01M305.7 487.7h.01M339.1 463.6h.01M336.2 459.2h.01M322.4 491.4h.01M343.2 485.8h.01M330.0 483.6h.01M300.2 481.6h.01M327.8 487.5h.01M309.3 450.1h.01M317.8 488.2h.01M336.2 449.8h.01M308.1 440.4h.01M324.1 440.2h.01M333.1 494.3h.01M301.0 454.6h.01M288.6 464.8h.01M329.5 495.5h.01M289.0 481.6h.01M316.4 494.2h.01M294.6 457.1h.01M338.5 453.1h.01M310.4 445.2h.01M303.5 451.4h.01M329.2 451.3h.01M314.6 501.0h.01M321.3 498.7h.01M334.7 483.0h.01M336.2 484.3h.01M289.2 454.9h.01M309.1 443.4h.01M304.2 488.5h.01M340.5 468.7h.01M342.5 485.1h.01M321.7 448.5h.01M286.2 478.4h.01M332.1 488.2h.01M296.6 466.0h.01M329.0 487.3h.01M347.2 472.3h.01M315.7 443.4h.01M339.0 487.1h.01M287.8 456.8h.01M342.3 458.4h.01M290.6 450.5h.01M285.2 470.0h.01M326.8 443.2h.01M295.2 488.4h.01M320.3 449.6h.01M293.2 479.0h.01M293.0 460.3h.01" fill="none" stroke="#f4e4ec" stroke-width="0.7" stroke-opacity="0.7" stroke-linecap="round" filter="url(#b3)"/>
<path d="M332.0 427.8 A44.0 44.0 0 0 1 354.3 489.3" fill="none" stroke="#c4e0e0" stroke-width="1.4" stroke-opacity="0.65" stroke-linecap="round" filter="url(#b6)"/></g>
<g filter="url(#b7)">
<path d="M452.3 471.0 L452.3 472.5 L452.2 474.0 L452.0 475.5 L451.8 477.0 L451.5 478.5 L451.1 479.9 L450.7 481.4 L450.2 482.8 L449.6 484.2 L449.0 485.6 L448.3 486.9 L447.5 488.2 L446.7 489.5 L445.9 490.7 L445.0 491.9 L444.0 493.1 L443.0 494.2 L441.9 495.3 L440.8 496.3 L439.6 497.3 L438.4 498.2 L437.2 499.0 L435.9 499.8 L434.6 500.6 L433.3 501.3 L431.9 501.9 L430.5 502.5 L429.1 503.0 L427.6 503.4 L426.2 503.8 L424.7 504.1 L423.2 504.3 L421.7 504.5 L420.2 504.6 L418.7 504.6 L417.2 504.6 L415.7 504.5 L414.2 504.3 L412.7 504.1 L411.2 503.8 L409.8 503.4 L408.3 503.0 L406.9 502.5 L405.5 501.9 L404.1 501.3 L402.8 500.6 L401.5 499.8 L400.2 499.0 L399.0 498.2 L397.8 497.3 L396.6 496.3 L395.5 495.3 L394.4 494.2 L393.4 493.1 L392.4 491.9 L391.5 490.7 L390.7 489.5 L389.9 488.2 L389.1 486.9 L388.4 485.6 L387.8 484.2 L387.2 482.8 L386.7 481.4 L386.3 479.9 L385.9 478.5 L385.6 477.0 L385.4 475.5 L385.2 474.0 L385.1 472.5 L385.1 471.0 L385.1 469.5 L385.2 468.0 L385.4 466.5 L385.6 465.0 L385.9 463.5 L386.3 462.1 L386.7 460.6 L387.2 459.2 L387.8 457.8 L388.4 456.4 L389.1 455.1 L389.9 453.8 L390.7 452.5 L391.5 451.3 L392.4 450.1 L393.4 448.9 L394.4 447.8 L395.5 446.7 L396.6 445.7 L397.8 444.7 L399.0 443.8 L400.2 443.0 L401.5 442.2 L402.8 441.4 L404.1 440.7 L405.5 440.1 L406.9 439.5 L408.3 439.0 L409.8 438.6 L411.2 438.2 L412.7 437.9 L414.2 437.7 L415.7 437.5 L417.2 437.4 L418.7 437.4 L420.2 437.4 L421.7 437.5 L423.2 437.7 L424.7 437.9 L426.2 438.2 L427.6 438.6 L429.1 439.0 L430.5 439.5 L431.9 440.1 L433.3 440.7 L434.6 441.4 L435.9 442.2 L437.2 443.0 L438.4 443.8 L439.6 444.7 L440.8 445.7 L441.9 446.7 L443.0 447.8 L444.0 448.9 L445.0 450.1 L445.9 451.3 L446.7 452.5 L447.5 453.8 L448.3 455.1 L449.0 456.4 L449.6 457.8 L450.2 459.2 L450.7 460.6 L451.1 462.1 L451.5 463.5 L451.8 465.0 L452.0 466.5 L452.2 468.0 L452.3 469.5Z" fill="url(#g4)"/>
</g>
<g filter="url(#wob)"><path d="M422.0 471.0 L422.3 471.8 L421.4 472.3 L420.8 472.7 L420.6 473.4 L420.3 474.3 L419.6 474.8 L418.7 474.8 L418.1 473.8 L417.6 473.3 L417.3 472.8 L416.3 472.9 L415.2 472.7 L415.2 471.8 L415.6 471.0 L415.7 470.3 L415.7 469.6 L416.0 468.9 L416.5 468.3 L417.4 468.3 L418.2 468.8 L418.7 468.3 L419.4 467.8 L420.4 467.4 L421.0 468.1 L421.1 469.1 L421.3 469.7 L421.3 470.4ZM425.7 471.0 L426.1 472.2 L425.4 473.2 L424.0 473.7 L423.5 474.5 L423.3 475.6 L422.8 476.6 L421.8 477.2 L420.8 477.4 L419.7 477.4 L418.7 478.0 L417.5 478.6 L416.4 478.0 L415.6 477.1 L415.0 476.0 L414.2 475.5 L412.8 475.3 L412.8 474.0 L413.0 472.9 L413.1 471.9 L412.0 471.0 L411.6 469.9 L411.7 468.7 L412.8 468.0 L413.4 467.1 L413.6 465.9 L414.2 464.8 L415.4 464.5 L416.7 464.9 L417.8 465.1 L418.7 464.5 L419.8 464.3 L420.8 464.5 L421.5 465.5 L422.4 465.9 L423.7 466.0 L424.7 466.6 L425.3 467.6 L425.3 468.9 L425.1 470.0ZM429.0 471.0 L429.3 472.1 L428.8 473.1 L428.0 473.9 L427.8 474.9 L427.7 476.0 L427.8 477.4 L427.1 478.2 L426.0 478.7 L424.9 479.0 L424.2 479.8 L423.6 481.0 L422.4 481.1 L421.2 480.7 L420.2 480.6 L419.2 480.8 L418.2 481.3 L417.1 481.7 L416.2 480.7 L415.4 479.9 L414.4 479.7 L413.0 480.1 L411.8 479.9 L411.3 478.8 L410.8 477.8 L410.4 476.8 L409.3 476.2 L408.3 475.4 L408.4 474.2 L409.3 472.9 L409.1 472.0 L408.7 471.0 L408.1 469.9 L408.4 468.9 L409.2 468.0 L409.7 467.1 L409.6 465.9 L409.3 464.5 L410.2 463.7 L411.5 463.4 L412.4 462.8 L413.1 462.0 L413.7 460.9 L414.9 460.8 L416.1 461.0 L417.3 461.6 L418.2 461.4 L419.2 460.4 L420.3 460.5 L421.2 461.3 L422.0 462.1 L423.0 462.2 L424.4 461.9 L425.7 461.9 L426.1 463.2 L426.4 464.4 L427.1 465.2 L428.2 465.7 L428.9 466.6 L429.0 467.8 L428.1 469.1 L428.1 470.0ZM433.2 471.0 L432.4 472.0 L432.4 473.1 L432.6 474.2 L433.1 475.4 L432.3 476.3 L431.1 477.0 L430.1 477.6 L429.8 478.6 L430.0 480.0 L429.2 480.7 L427.9 480.9 L426.6 480.9 L426.2 482.0 L425.8 483.3 L425.1 484.3 L424.0 484.6 L422.8 484.3 L421.7 484.3 L420.9 485.6 L419.8 486.3 L418.7 485.7 L417.7 484.4 L416.7 484.3 L415.6 484.4 L414.4 485.0 L413.5 484.3 L412.9 483.1 L412.2 482.3 L411.3 481.9 L409.7 482.3 L408.9 481.6 L408.6 480.4 L408.2 479.4 L407.2 478.9 L406.1 478.3 L405.1 477.6 L405.1 476.4 L405.7 475.0 L405.5 474.0 L404.8 473.1 L404.0 472.1 L404.8 471.0 L405.5 470.0 L405.9 469.1 L405.7 468.0 L404.7 466.7 L405.5 465.8 L406.2 465.0 L406.9 464.2 L406.9 463.0 L406.9 461.6 L407.7 460.8 L409.0 460.5 L410.2 460.4 L410.8 459.4 L411.6 458.6 L412.4 458.0 L413.5 457.8 L414.8 458.4 L415.8 458.2 L416.6 457.2 L417.6 456.7 L418.7 456.8 L419.7 457.7 L420.7 457.6 L421.8 457.4 L423.1 456.7 L424.2 457.1 L424.9 458.1 L425.5 459.2 L426.7 459.3 L428.1 459.3 L428.7 460.2 L428.7 461.7 L428.7 463.0 L429.8 463.5 L430.8 464.0 L431.5 464.8 L431.5 466.0 L431.0 467.2 L431.5 468.1 L432.6 468.9 L433.5 469.9ZM436.0 471.0 L437.2 472.1 L437.3 473.2 L436.1 474.2 L435.2 475.0 L434.8 476.0 L435.2 477.2 L435.2 478.3 L434.1 479.0 L432.8 479.4 L432.6 480.5 L432.9 481.9 L432.7 483.3 L431.5 483.6 L430.3 483.9 L429.6 484.7 L429.2 485.9 L428.6 487.0 L427.2 486.8 L425.9 486.4 L424.8 486.5 L424.1 487.7 L423.3 488.5 L422.0 487.9 L420.9 487.2 L420.0 487.8 L419.0 488.6 L417.9 489.7 L416.8 488.9 L415.8 488.3 L414.8 488.0 L413.6 488.4 L412.4 488.6 L411.6 487.6 L411.1 486.1 L410.3 485.6 L409.1 485.6 L407.8 485.5 L407.6 484.1 L407.2 483.1 L406.6 482.2 L404.9 482.3 L403.9 481.8 L403.6 480.7 L403.5 479.5 L402.8 478.7 L401.8 477.9 L401.0 477.0 L401.4 475.8 L402.1 474.5 L402.2 473.5 L401.3 472.6 L400.6 471.5 L401.3 470.5 L402.3 469.5 L402.0 468.5 L401.0 467.2 L400.9 466.1 L401.8 465.2 L402.7 464.5 L402.8 463.3 L402.8 462.2 L403.1 461.0 L404.1 460.4 L405.8 460.4 L406.3 459.5 L406.7 458.4 L407.1 457.4 L408.3 457.1 L409.7 457.4 L410.3 456.4 L410.7 455.1 L411.4 453.8 L412.5 453.8 L413.9 454.5 L414.8 453.8 L415.7 452.8 L416.8 452.5 L417.9 453.0 L419.0 454.3 L420.0 454.3 L421.1 453.5 L422.2 453.5 L423.1 454.2 L423.8 455.4 L424.9 455.3 L426.2 454.8 L427.6 454.5 L428.1 455.8 L428.8 456.7 L429.5 457.5 L431.0 457.4 L431.9 458.0 L432.4 459.1 L431.9 460.8 L432.5 461.6 L433.7 462.0 L434.6 462.8 L434.3 464.0 L434.3 465.2 L434.9 466.0 L436.0 466.8 L437.1 467.7 L436.6 468.8 L435.9 470.0ZM440.0 471.0 L439.2 472.0 L439.0 473.0 L440.2 474.2 L440.4 475.4 L439.5 476.3 L438.4 477.1 L437.7 477.9 L437.9 479.1 L438.1 480.3 L437.1 481.0 L435.8 481.5 L435.2 482.3 L435.3 483.6 L435.2 484.9 L434.6 485.8 L433.1 485.8 L432.4 486.5 L432.3 488.1 L431.7 489.1 L430.6 489.4 L429.0 488.8 L428.0 489.1 L427.2 489.8 L426.6 491.1 L425.4 490.9 L424.1 490.3 L423.1 490.3 L422.3 491.5 L421.4 492.7 L420.3 492.6 L419.2 492.2 L418.2 491.5 L417.1 492.3 L415.9 493.0 L415.0 492.1 L414.2 490.7 L413.4 490.0 L412.2 490.3 L411.0 490.6 L410.0 490.3 L409.4 489.1 L408.7 488.3 L407.2 488.9 L405.8 489.0 L405.0 488.1 L404.6 487.0 L404.4 485.7 L403.1 485.5 L401.8 485.1 L401.8 483.8 L401.8 482.5 L401.9 481.2 L400.8 480.7 L399.3 480.3 L399.1 479.3 L399.5 478.0 L399.5 476.9 L398.0 476.3 L397.0 475.4 L396.7 474.3 L397.6 473.1 L398.0 472.0 L397.6 471.0 L397.0 469.9 L397.5 468.9 L398.5 467.9 L399.5 467.1 L399.2 466.0 L398.2 464.7 L398.6 463.7 L399.2 462.8 L400.3 462.1 L400.2 460.9 L399.9 459.5 L400.4 458.6 L401.9 458.2 L403.1 457.9 L403.8 457.2 L403.9 455.8 L404.7 455.1 L405.9 454.9 L407.2 455.0 L407.7 454.0 L407.8 452.2 L408.7 451.6 L410.0 451.7 L411.2 451.8 L412.0 451.1 L412.7 449.7 L413.8 449.6 L415.0 450.3 L416.2 451.1 L417.2 450.7 L418.2 449.8 L419.2 449.7 L420.3 450.3 L421.2 451.0 L422.3 450.7 L423.5 449.8 L424.7 449.7 L425.5 450.7 L426.3 451.6 L427.3 452.0 L428.7 451.5 L429.6 452.1 L430.0 453.5 L430.2 455.1 L431.2 455.3 L432.5 455.4 L433.6 455.7 L434.0 456.8 L434.3 457.9 L435.2 458.5 L436.7 458.7 L437.6 459.4 L437.9 460.5 L437.2 462.1 L437.7 463.0 L439.0 463.6 L439.6 464.6 L439.0 465.8 L438.3 467.0 L438.2 468.1 L439.2 468.9 L440.1 469.9Z" fill="none" stroke="#821840" stroke-width="1.1" stroke-opacity="0.9" stroke-linejoin="round" filter="url(#b4)"/></g>
<g filter="url(#b6)">
<path d="M562.8 471.3 L562.7 473.1 L562.2 474.9 L561.5 476.7 L560.5 478.3 L561.0 480.2 L561.0 482.1 L560.7 484.0 L560.2 485.7 L559.4 487.4 L558.3 488.9 L556.9 490.2 L555.8 491.6 L555.4 493.5 L554.8 495.2 L553.8 496.8 L552.7 498.3 L551.3 499.5 L549.7 500.5 L547.9 501.2 L546.6 502.4 L545.6 504.0 L544.3 505.4 L542.8 506.5 L541.2 507.4 L539.5 508.0 L537.6 508.3 L535.7 508.3 L534.2 509.3 L532.6 510.4 L530.9 511.1 L529.1 511.6 L527.3 511.8 L525.4 511.8 L523.6 511.4 L521.8 510.5 L520.0 511.4 L518.2 511.8 L516.3 511.8 L514.5 511.6 L512.7 511.1 L511.0 510.4 L509.4 509.3 L507.9 508.3 L506.0 508.3 L504.1 508.0 L502.4 507.4 L500.8 506.5 L499.3 505.4 L498.0 504.0 L497.0 502.4 L495.7 501.2 L493.9 500.5 L492.3 499.5 L490.9 498.3 L489.8 496.8 L488.8 495.2 L488.2 493.5 L487.8 491.6 L486.7 490.2 L485.3 488.9 L484.2 487.4 L483.4 485.7 L482.9 484.0 L482.6 482.1 L482.6 480.2 L483.1 478.3 L482.1 476.7 L481.4 474.9 L480.9 473.1 L480.8 471.3 L480.9 469.5 L481.4 467.7 L482.1 465.9 L483.1 464.3 L482.6 462.4 L482.6 460.5 L482.9 458.6 L483.4 456.9 L484.2 455.2 L485.3 453.7 L486.7 452.4 L487.8 451.0 L488.2 449.1 L488.8 447.4 L489.8 445.8 L490.9 444.3 L492.3 443.1 L493.9 442.1 L495.7 441.4 L497.0 440.2 L498.0 438.6 L499.3 437.2 L500.8 436.1 L502.4 435.2 L504.1 434.6 L506.0 434.3 L507.9 434.3 L509.4 433.3 L511.0 432.2 L512.7 431.5 L514.5 431.0 L516.3 430.8 L518.2 430.8 L520.0 431.2 L521.8 432.1 L523.6 431.2 L525.4 430.8 L527.3 430.8 L529.1 431.0 L530.9 431.5 L532.6 432.2 L534.2 433.3 L535.7 434.3 L537.6 434.3 L539.5 434.6 L541.2 435.2 L542.8 436.1 L544.3 437.2 L545.6 438.6 L546.6 440.2 L547.9 441.4 L549.7 442.1 L551.3 443.1 L552.7 444.3 L553.8 445.8 L554.8 447.4 L555.4 449.1 L555.8 451.0 L556.9 452.4 L558.3 453.7 L559.4 455.2 L560.2 456.9 L560.7 458.6 L561.0 460.5 L561.0 462.4 L560.5 464.3 L561.5 465.9 L562.2 467.7 L562.7 469.5Z" fill="url(#g5)"/>
</g>
<path d="M553.3 476.9L561.0 478.2M549.5 487.3L556.2 491.2M542.4 495.8L547.4 501.8M532.7 501.4L535.4 508.7M521.8 503.3L521.8 511.1M510.9 501.4L508.2 508.7M501.2 495.8L496.2 501.8M494.1 487.3L487.4 491.2M490.3 476.9L482.6 478.2M490.3 465.7L482.6 464.4M494.1 455.3L487.4 451.4M501.2 446.8L496.2 440.8M510.9 441.2L508.2 433.9M521.8 439.3L521.8 431.5M532.7 441.2L535.4 433.9M542.4 446.8L547.4 440.8M549.5 455.3L556.2 451.4M553.3 465.7L561.0 464.4" stroke="#5a4078" stroke-opacity="0.28" stroke-width="1.0" fill="none" stroke-linecap="round" filter="url(#b10)"/>
<circle cx="521.8" cy="471.3" r="19" fill="#a83868" fill-opacity="0.55" filter="url(#b20)"/>
<g filter="url(#wob)"><path d="M531.2 474.7 L534.1 474.0 L535.2 476.7M516.5 479.8 L515.0 477.4 L512.5 475.8 L513.2 473.0M516.1 478.7 L513.2 478.6 L510.3 478.5 L508.1 480.3M509.7 478.0 L510.4 480.8 L511.5 483.5 L513.8 485.2 L514.9 487.9M524.1 457.7 L525.1 455.0 L528.0 455.1M523.6 473.5 L522.3 476.0 L524.5 477.9 L526.6 479.9 L529.4 479.4M536.5 459.4 L534.4 461.3 L531.6 460.7M509.4 480.2 L506.5 479.8 L503.6 479.4M519.7 476.6 L522.2 478.1 L521.9 481.0 L523.0 483.7 L524.5 486.2M526.5 468.2 L524.6 466.0 L523.9 463.2 L522.5 460.7M521.6 473.8 L523.7 471.8 L522.2 469.2M540.0 464.7 L541.1 467.4 L539.4 469.7 L537.6 472.0M507.5 473.6 L510.3 472.9 L512.9 474.3 L515.6 475.2M514.2 455.6 L511.4 455.0M514.5 481.6 L511.7 481.1 L508.8 481.0 L505.9 480.5M531.0 461.4 L528.3 460.2 L526.2 458.2 L527.2 455.5 L524.7 454.0M511.5 471.4 L510.6 468.6 L511.1 465.8 L510.1 463.0M512.6 464.2 L514.9 462.4 L517.7 463.3 L519.9 465.2M535.5 466.5 L538.4 466.8 L541.2 465.9M527.8 475.6 L525.5 477.3 L522.8 478.3 L519.9 478.7 L518.8 481.4M504.6 461.7 L505.6 464.4 L506.9 467.0M524.5 479.0 L522.9 476.6 L520.6 474.9 L517.7 475.3 L514.8 475.2M532.8 481.2 L530.2 479.9 L529.6 477.1 L530.4 474.3M502.8 476.2 L501.5 473.6M529.1 479.1 L531.7 480.4 L531.5 483.3M525.4 454.6 L528.3 454.4 L530.7 456.0 L533.1 454.4M529.0 482.9 L528.8 480.0 L531.1 478.3 L530.3 475.5M510.2 477.7 L513.1 477.5 L514.5 475.0 L513.4 472.3M539.7 461.4 L537.0 462.5 L534.6 464.1M541.3 468.4 L541.7 471.3M538.0 474.8 L536.0 472.7 L533.9 470.7M518.4 472.4 L515.9 473.9 L513.1 472.9 L510.2 472.8M522.7 455.0 L524.5 457.3 L526.4 459.4 L524.8 461.8M506.4 469.4 L509.1 470.5 L511.5 472.1M531.8 479.5 L530.6 482.1 L527.7 482.4 L524.9 483.2M527.6 464.9 L528.7 462.3 L531.0 460.5M526.8 479.5 L529.1 481.3 L530.4 483.9 L533.0 485.0M529.3 468.9 L531.5 466.9 L531.5 464.0 L534.4 463.4 L536.0 461.0M512.6 477.3 L511.8 474.6 L510.2 472.1 L511.0 469.3 L513.9 468.6M535.5 480.8 L534.0 483.3 L531.3 484.4M529.0 457.6 L528.7 460.5 L530.2 462.9 L533.0 463.7 L535.7 462.5M527.5 484.5 L524.9 485.8 L524.4 488.6 L523.7 491.5M537.6 466.1 L535.3 464.3 L533.9 461.8 L535.9 459.7M516.2 467.3 L518.1 469.5 L520.7 470.8M509.0 469.7 L509.4 466.8 L508.4 464.1 L506.9 461.7 L505.7 459.0M521.9 455.0 L524.3 456.7 L524.4 459.6 L523.4 462.3M533.9 476.6 L534.1 473.7 L531.4 472.6 L529.3 474.5M521.3 455.0 L518.5 455.5 L517.0 458.0 L516.6 460.9M511.4 470.3 L508.5 470.1 L506.8 472.4 L504.6 474.3M537.9 470.6 L540.8 470.7 L541.4 473.6M533.2 455.2 L530.4 456.0 L527.8 454.7 L525.4 453.1M533.6 466.1 L532.5 463.4 L533.9 460.9 L532.2 458.5M527.8 480.1 L529.2 477.6 L527.9 475.1M517.8 491.1 L520.7 491.4M520.7 454.6 L519.2 452.1 L516.4 451.7 L514.2 453.6 L514.9 456.4M517.2 461.1 L518.9 463.4 L517.3 465.8 L515.2 467.8 L514.9 470.7M518.8 471.0 L520.8 473.0 L520.0 475.8M532.7 477.6 L530.3 479.3 L527.4 479.5M538.9 477.5 L540.8 475.3M529.8 485.0 L531.0 487.6 L528.8 489.6 L526.5 487.9 L523.7 486.9M538.6 464.8 L538.1 467.6 L535.3 468.3M529.0 478.3 L531.7 477.2 L531.7 474.3 L530.6 471.6M521.3 467.1 L520.6 464.3 L519.2 461.7 L518.4 458.9M540.7 473.2 L541.4 476.0 L538.8 477.3M515.8 484.2 L514.3 481.6 L514.5 478.8 L511.8 477.7 L509.6 479.6M525.5 476.6 L523.7 474.4 L520.9 473.6M515.3 485.1 L512.5 485.8 L510.9 483.4 L511.5 480.5 L510.6 477.8M529.9 462.7 L528.2 460.4 L525.5 459.3 L525.7 456.5M515.3 478.3 L513.1 476.4 L511.8 473.8M532.1 472.0 L534.5 470.4 L537.3 471.3M530.2 456.9 L528.2 459.1 L527.7 461.9 L530.4 463.0 L531.7 465.5M538.0 464.1 L539.2 466.7 L538.3 469.5 L535.5 470.1 L533.3 472.0M518.0 479.7 L517.6 476.8 L520.0 475.1 L519.9 472.2M533.0 461.7 L535.8 461.3 L538.7 462.0M534.7 461.8 L535.9 464.4 L534.0 466.6M530.8 482.9 L532.7 480.7 L535.0 479.0 L537.8 479.7M526.1 469.5 L525.9 466.6 L523.2 465.6M504.5 467.0 L507.1 468.4 L509.4 466.6M529.2 474.6 L528.0 472.0 L525.4 470.8M512.3 466.1 L511.6 469.0 L513.4 471.3 L512.3 474.0 L511.1 476.6M511.8 456.6 L512.7 459.4 L514.6 461.6M535.7 470.1 L533.9 472.4 L534.8 475.1M529.1 478.6 L527.1 480.7 L527.1 483.6 L527.2 486.5 L527.3 489.4M514.3 459.0 L515.3 461.8 L515.2 464.7M518.8 483.1 L517.9 485.9 L517.4 488.8M517.5 464.9 L516.6 467.6 L516.4 470.5M506.1 465.0 L504.1 462.9 L505.3 460.3M524.8 462.2 L526.4 464.6 L525.7 467.4M510.1 460.1 L507.8 461.9 L505.6 463.8M509.3 464.7 L510.7 462.1 L513.5 461.3 L513.3 458.4 L515.7 456.8M520.8 481.1 L522.3 478.6 L525.2 478.4 L527.3 476.5 L530.0 475.4M515.7 468.8 L512.8 468.3 L511.6 470.9 L510.7 473.7 L508.0 474.6M532.1 481.7 L529.2 481.9 L527.0 483.8 L524.6 482.2 L521.7 482.1M538.7 480.3 L540.4 477.9M512.3 468.4 L512.9 471.2 L511.9 474.0 L514.3 475.5M527.1 483.9 L526.4 486.7 L527.6 489.4" fill="none" stroke="#ee94ac" stroke-width="0.9" stroke-opacity="0.75" stroke-linecap="round" stroke-linejoin="round" filter="url(#b4)"/>
<path d="M530.2 431.8 A40.4 40.4 0 0 1 561.3 479.7" fill="none" stroke="#90d0cc" stroke-width="1.1" stroke-opacity="0.8" stroke-linecap="round" filter="url(#b4)"/></g>
<g filter="url(#b6)">
<path d="M660.1 473.2 L660.0 474.5 L659.8 475.8 L659.5 477.1 L659.1 478.3 L658.5 479.5 L657.9 480.6 L657.9 481.9 L657.8 483.2 L657.5 484.5 L657.1 485.7 L656.6 486.9 L655.9 488.1 L655.2 489.1 L654.3 490.1 L653.3 491.1 L652.3 491.9 L651.2 492.6 L650.3 493.4 L649.6 494.6 L648.7 495.6 L647.8 496.5 L646.8 497.4 L645.7 498.1 L644.5 498.7 L643.3 499.2 L642.0 499.7 L640.7 499.9 L639.4 500.1 L638.1 500.0 L636.9 500.6 L635.7 501.2 L634.4 501.6 L633.1 502.0 L631.8 502.1 L630.5 502.2 L629.2 502.1 L627.9 502.0 L626.6 501.6 L625.3 501.2 L624.1 500.6 L622.9 500.0 L621.6 500.1 L620.3 499.9 L619.0 499.7 L617.7 499.2 L616.5 498.7 L615.3 498.1 L614.2 497.4 L613.2 496.5 L612.3 495.6 L611.4 494.6 L610.7 493.4 L609.8 492.6 L608.7 491.9 L607.7 491.1 L606.7 490.1 L605.8 489.1 L605.1 488.1 L604.4 486.9 L603.9 485.7 L603.5 484.5 L603.2 483.2 L603.1 481.9 L603.1 480.6 L602.5 479.5 L601.9 478.3 L601.5 477.1 L601.2 475.8 L601.0 474.5 L600.9 473.2 L601.0 471.9 L601.2 470.6 L601.5 469.3 L601.9 468.1 L602.5 466.9 L603.1 465.8 L603.1 464.5 L603.2 463.2 L603.5 461.9 L603.9 460.7 L604.4 459.5 L605.1 458.3 L605.8 457.3 L606.7 456.3 L607.7 455.3 L608.7 454.5 L609.8 453.8 L610.7 453.0 L611.4 451.8 L612.3 450.8 L613.2 449.9 L614.2 449.0 L615.3 448.3 L616.5 447.7 L617.7 447.2 L619.0 446.7 L620.3 446.5 L621.6 446.3 L622.9 446.4 L624.1 445.8 L625.3 445.2 L626.6 444.8 L627.9 444.4 L629.2 444.3 L630.5 444.2 L631.8 444.3 L633.1 444.4 L634.4 444.8 L635.7 445.2 L636.9 445.8 L638.1 446.4 L639.4 446.3 L640.7 446.5 L642.0 446.7 L643.3 447.2 L644.5 447.7 L645.7 448.3 L646.8 449.0 L647.8 449.9 L648.7 450.8 L649.6 451.8 L650.3 453.0 L651.2 453.8 L652.3 454.5 L653.3 455.3 L654.3 456.3 L655.2 457.3 L655.9 458.3 L656.6 459.5 L657.1 460.7 L657.5 461.9 L657.8 463.2 L657.9 464.5 L657.9 465.8 L658.5 466.9 L659.1 468.1 L659.5 469.3 L659.8 470.6 L660.0 471.9Z" fill="url(#g6)"/>
</g>
<path d="M649.4 478.2L658.2 480.5M644.3 486.7L650.8 493.1M635.6 491.7L637.9 500.4M625.4 491.7L623.1 500.4M616.7 486.7L610.2 493.1M611.6 478.2L602.8 480.5M611.6 468.2L602.8 465.9M616.7 459.7L610.2 453.3M625.4 454.7L623.1 446.0M635.6 454.7L637.9 446.0M644.3 459.7L650.8 453.3M649.4 468.2L658.2 465.9" stroke="#6a7490" stroke-opacity="0.3" stroke-width="0.9" fill="none" stroke-linecap="round" filter="url(#b10)"/>
<g filter="url(#wob)"><path d="M621.6 472.4h.01M621.5 474.0h.01M624.5 465.4h.01M624.6 467.2h.01M628.1 472.7h.01M632.7 476.8h.01M624.8 480.8h.01M638.3 468.8h.01M633.0 468.0h.01M623.4 462.6h.01M626.7 472.1h.01M625.9 480.3h.01M626.5 476.7h.01M629.9 465.9h.01M622.5 474.8h.01M637.2 468.7h.01M634.5 473.3h.01M634.1 461.7h.01M618.4 470.1h.01M631.6 476.2h.01M622.3 473.1h.01M627.6 468.8h.01M638.3 472.4h.01M618.0 472.2h.01M617.6 473.3h.01M618.7 474.5h.01M619.5 471.6h.01M629.6 473.0h.01M623.9 474.7h.01M621.7 469.9h.01" fill="none" stroke="#80508a" stroke-width="1.9" stroke-opacity="0.7" stroke-linecap="round" filter="url(#b6)"/></g>
<g filter="url(#b7)">
<path d="M148.0 576.8 L147.8 578.7 L147.4 580.5 L146.6 582.3 L146.3 584.1 L146.5 586.0 L146.4 587.9 L146.0 589.7 L145.2 591.4 L144.2 593.0 L142.9 594.4 L142.1 596.0 L141.7 597.9 L141.0 599.7 L140.1 601.3 L138.9 602.7 L137.4 603.9 L135.7 604.9 L134.4 606.2 L133.5 607.8 L132.3 609.3 L130.9 610.5 L129.3 611.5 L127.5 612.2 L125.7 612.6 L124.0 613.4 L122.6 614.7 L121.0 615.7 L119.3 616.5 L117.5 616.9 L115.6 617.0 L113.7 616.8 L111.9 617.0 L110.2 617.9 L108.4 618.3 L106.5 618.5 L104.6 618.3 L102.8 617.9 L101.1 617.0 L99.3 616.8 L97.4 617.0 L95.5 616.9 L93.7 616.5 L92.0 615.7 L90.4 614.7 L89.0 613.4 L87.3 612.6 L85.5 612.2 L83.7 611.5 L82.1 610.5 L80.7 609.3 L79.5 607.8 L78.6 606.2 L77.3 604.9 L75.6 603.9 L74.1 602.7 L72.9 601.3 L72.0 599.7 L71.3 597.9 L70.9 596.0 L70.1 594.4 L68.8 593.0 L67.8 591.4 L67.0 589.7 L66.6 587.9 L66.5 586.0 L66.7 584.1 L66.4 582.3 L65.6 580.5 L65.2 578.7 L65.0 576.8 L65.2 574.9 L65.6 573.1 L66.4 571.3 L66.7 569.5 L66.5 567.6 L66.6 565.7 L67.0 563.9 L67.8 562.2 L68.8 560.6 L70.1 559.2 L70.9 557.6 L71.3 555.7 L72.0 553.9 L72.9 552.3 L74.1 550.9 L75.6 549.7 L77.3 548.7 L78.6 547.4 L79.5 545.8 L80.7 544.3 L82.1 543.1 L83.7 542.1 L85.5 541.4 L87.3 541.0 L89.0 540.2 L90.4 538.9 L92.0 537.9 L93.7 537.1 L95.5 536.7 L97.4 536.6 L99.3 536.8 L101.1 536.6 L102.8 535.7 L104.6 535.3 L106.5 535.1 L108.4 535.3 L110.2 535.7 L111.9 536.6 L113.7 536.8 L115.6 536.6 L117.5 536.7 L119.3 537.1 L121.0 537.9 L122.6 538.9 L124.0 540.2 L125.7 541.0 L127.5 541.4 L129.3 542.1 L130.9 543.1 L132.3 544.3 L133.5 545.8 L134.4 547.4 L135.7 548.7 L137.4 549.7 L138.9 550.9 L140.1 552.3 L141.0 553.9 L141.7 555.7 L142.1 557.6 L142.9 559.2 L144.2 560.6 L145.2 562.2 L146.0 563.9 L146.4 565.7 L146.5 567.6 L146.3 569.5 L146.6 571.3 L147.4 573.1 L147.8 574.9Z" fill="url(#g7)"/>
</g>
<path d="M136.0 581.5L146.3 583.1M133.1 590.4L142.4 595.2M127.6 598.0L135.0 605.4M120.1 603.6L124.8 612.8M111.2 606.5L112.8 616.8M101.8 606.5L100.2 616.8M92.9 603.6L88.2 612.8M85.4 598.0L78.0 605.4M79.9 590.4L70.6 595.2M77.0 581.5L66.7 583.1M77.0 572.1L66.7 570.5M79.9 563.2L70.6 558.4M85.4 555.6L78.0 548.2M92.9 550.0L88.2 540.8M101.8 547.1L100.2 536.8M111.2 547.1L112.8 536.8M120.1 550.0L124.8 540.8M127.6 555.6L135.0 548.2M133.1 563.2L142.4 558.4M136.0 572.1L146.3 570.5" stroke="#5a5068" stroke-opacity="0.35" stroke-width="1.0" fill="none" stroke-linecap="round" filter="url(#b10)"/>
<g filter="url(#wob)"><path d="M102.9 567.3h.01M87.0 579.3h.01M109.8 565.5h.01M84.3 574.9h.01M108.3 594.4h.01M105.7 577.7h.01M124.0 584.8h.01M109.2 598.8h.01M118.3 579.9h.01M104.9 551.8h.01M89.2 561.1h.01M104.5 580.8h.01M119.9 588.4h.01M90.2 594.6h.01M110.7 567.7h.01M114.6 572.8h.01M90.8 571.3h.01M92.1 578.1h.01M117.2 579.2h.01M108.9 599.9h.01M112.4 598.0h.01M126.0 561.5h.01M108.4 555.1h.01M104.3 557.8h.01M98.0 578.0h.01M113.6 598.4h.01M125.0 561.1h.01M96.1 588.7h.01M94.0 587.7h.01M87.8 593.0h.01M110.1 579.0h.01M127.9 575.7h.01M89.1 577.6h.01M106.5 558.2h.01M97.6 569.3h.01M93.3 563.7h.01M111.8 586.0h.01M119.9 570.2h.01M94.6 568.3h.01M117.7 585.1h.01M109.2 570.8h.01M91.1 592.3h.01M97.4 558.2h.01M129.6 570.6h.01M122.6 575.6h.01M86.0 563.5h.01M83.2 578.0h.01M107.0 592.0h.01M119.0 596.6h.01M108.9 570.5h.01M84.8 579.0h.01M128.4 584.1h.01M103.6 589.0h.01M114.4 590.9h.01M103.2 582.3h.01M130.3 574.2h.01M85.3 579.5h.01M118.8 573.5h.01M104.3 558.7h.01M107.7 580.8h.01M113.1 554.7h.01M87.8 562.7h.01M92.5 568.7h.01M98.5 598.2h.01M103.7 594.7h.01M128.6 578.1h.01M126.5 570.8h.01M103.5 574.6h.01M118.7 560.6h.01M105.8 595.8h.01M122.1 572.6h.01M122.6 594.4h.01M113.1 581.0h.01M102.9 578.0h.01M113.0 569.8h.01M120.9 591.1h.01M98.4 593.1h.01M110.0 593.9h.01M110.8 586.0h.01M102.9 561.8h.01M124.5 582.0h.01M121.5 561.7h.01M112.3 555.4h.01M104.5 577.2h.01M107.2 570.4h.01M104.2 566.5h.01M102.6 564.8h.01M120.2 580.3h.01M101.0 591.2h.01M100.1 599.5h.01M89.8 571.3h.01M126.5 590.8h.01M87.3 575.7h.01M127.7 572.3h.01M102.3 563.5h.01M89.9 570.0h.01M109.2 570.9h.01M91.5 596.2h.01M120.8 576.1h.01M114.0 580.5h.01M109.4 570.5h.01M86.1 583.7h.01M126.3 579.1h.01M87.9 583.8h.01M92.9 588.2h.01M109.1 592.4h.01M101.6 578.9h.01M103.2 564.8h.01M103.0 554.4h.01M108.1 593.5h.01M91.2 578.0h.01M126.0 572.1h.01M99.5 577.6h.01M103.1 559.5h.01M111.0 553.5h.01M107.8 556.9h.01M119.6 560.9h.01M98.2 557.6h.01M117.4 570.5h.01M95.0 566.5h.01M128.8 571.6h.01M131.5 577.7h.01M101.4 589.6h.01M116.3 589.1h.01M123.0 585.6h.01M119.6 571.9h.01M85.8 581.8h.01M114.6 574.5h.01M112.4 596.9h.01M97.6 565.5h.01M105.3 597.3h.01M96.0 598.6h.01M113.8 566.3h.01M102.6 567.8h.01M97.6 570.2h.01M97.2 585.8h.01M83.0 581.7h.01M94.4 565.6h.01M112.8 588.5h.01M104.5 592.1h.01M117.2 574.1h.01M108.4 572.4h.01M99.9 553.5h.01M103.3 576.7h.01M102.8 573.6h.01M108.0 597.6h.01M104.6 576.1h.01M103.9 583.9h.01M120.0 566.3h.01M116.8 588.1h.01M116.5 556.7h.01M124.0 582.2h.01M97.8 582.9h.01M109.6 595.0h.01M119.1 558.1h.01M124.6 560.6h.01M103.8 575.1h.01M112.4 572.5h.01M108.0 555.1h.01M116.8 580.7h.01M89.0 562.7h.01M87.3 580.3h.01M95.0 595.7h.01M98.9 587.1h.01M97.2 566.9h.01M128.0 586.9h.01M100.2 576.2h.01M114.3 595.8h.01M118.8 581.4h.01M101.9 576.9h.01M94.9 559.8h.01M114.6 582.8h.01M83.3 570.9h.01M100.9 561.8h.01M85.6 573.4h.01M110.0 570.5h.01M117.9 579.6h.01M92.2 573.7h.01M115.8 594.3h.01M85.7 577.5h.01M112.7 568.6h.01M125.4 564.2h.01M110.9 596.9h.01M124.8 564.0h.01M122.0 566.8h.01M87.7 592.4h.01M129.1 567.3h.01M128.9 578.3h.01M95.5 567.0h.01M107.4 557.2h.01M117.3 593.8h.01M83.2 571.3h.01M113.0 599.3h.01M83.2 568.3h.01M105.3 554.7h.01M91.5 594.6h.01M100.7 580.7h.01M96.5 574.1h.01M92.1 593.9h.01M115.6 578.2h.01M92.5 568.8h.01M104.6 573.2h.01M115.7 583.9h.01M82.9 573.2h.01M83.1 574.6h.01M107.2 585.4h.01M96.4 564.1h.01M106.9 554.8h.01M106.3 596.9h.01M94.9 588.1h.01M105.0 594.1h.01M89.0 581.4h.01M108.8 572.5h.01M112.9 558.6h.01M104.1 555.4h.01M88.9 594.1h.01M122.4 577.1h.01M88.9 566.7h.01M125.7 576.4h.01M108.3 587.7h.01M114.9 556.9h.01M123.0 582.6h.01M113.7 563.2h.01M89.5 580.9h.01M95.9 565.4h.01M99.9 558.6h.01M106.9 553.4h.01M106.7 592.0h.01M112.6 555.4h.01M114.3 599.5h.01M124.5 562.1h.01M104.2 583.2h.01M118.8 592.5h.01M104.6 599.4h.01M100.8 596.5h.01M109.8 588.0h.01M102.6 559.5h.01M102.2 566.0h.01M98.1 565.0h.01M112.0 590.9h.01M115.5 580.0h.01M88.8 587.5h.01M113.1 570.7h.01M126.8 579.4h.01M89.1 564.8h.01M90.0 576.6h.01M89.5 594.2h.01M93.6 561.7h.01M98.1 589.1h.01M92.4 560.3h.01M89.9 575.2h.01M109.6 565.2h.01M104.5 573.9h.01M109.7 593.3h.01M90.1 567.2h.01M99.3 577.2h.01M109.8 567.0h.01M99.9 589.3h.01M117.8 580.2h.01M113.0 585.5h.01M118.0 560.5h.01M115.7 584.3h.01M120.4 588.8h.01M107.8 560.8h.01M103.2 566.0h.01M122.5 586.0h.01M96.7 569.5h.01M108.9 584.1h.01M114.6 559.4h.01M97.4 561.3h.01M105.9 579.0h.01M118.8 569.4h.01M109.9 562.1h.01M102.1 576.7h.01M109.8 553.3h.01M114.6 594.0h.01M127.8 588.3h.01M110.7 552.5h.01M85.9 572.6h.01M101.2 585.2h.01M95.4 559.8h.01M111.6 561.9h.01M105.4 582.3h.01M103.3 583.4h.01M107.2 554.4h.01M103.2 585.7h.01M102.3 569.6h.01M108.6 593.2h.01M116.8 565.2h.01M100.8 561.5h.01M87.2 580.0h.01M94.5 590.8h.01M95.6 577.1h.01M100.0 588.8h.01M115.9 571.1h.01M111.7 592.2h.01M107.7 581.0h.01M94.6 596.6h.01M109.2 597.0h.01M87.5 582.9h.01M85.6 572.9h.01M103.8 591.7h.01M116.2 559.9h.01M86.1 579.3h.01M117.8 567.7h.01M120.7 594.9h.01M109.5 556.3h.01M126.7 572.1h.01M107.3 600.1h.01M95.0 598.7h.01M121.9 574.4h.01M98.6 582.9h.01M103.9 596.3h.01M110.2 564.3h.01M105.9 557.1h.01M122.1 560.7h.01M117.2 555.5h.01M82.0 576.8h.01M85.8 574.9h.01M92.9 556.3h.01M98.3 562.6h.01M116.0 586.6h.01M116.8 588.5h.01M108.0 577.6h.01M108.1 559.9h.01M103.1 572.5h.01M98.4 576.2h.01M93.9 581.2h.01M88.7 587.6h.01M104.6 561.2h.01M101.7 583.6h.01M117.3 558.7h.01M105.6 601.4h.01M99.1 595.0h.01M118.6 559.5h.01M101.5 584.3h.01M92.2 596.1h.01M115.0 558.6h.01M109.5 563.8h.01M105.9 578.0h.01M100.9 585.1h.01M118.1 578.5h.01M117.1 596.6h.01M88.9 570.4h.01M119.9 557.8h.01M116.3 593.9h.01M124.5 589.2h.01M98.1 599.2h.01M109.3 589.0h.01M110.8 561.5h.01M106.1 553.6h.01M107.5 598.0h.01M102.0 590.1h.01M118.3 565.0h.01M128.3 589.2h.01M128.1 564.6h.01M100.7 560.8h.01M115.3 597.1h.01M126.2 574.4h.01M126.6 564.3h.01M105.1 569.6h.01M121.4 567.3h.01M97.0 573.6h.01M109.6 568.5h.01M127.5 580.8h.01M115.5 587.5h.01M93.1 562.2h.01M112.7 574.8h.01M83.8 585.6h.01M94.3 591.0h.01M91.1 588.3h.01M106.7 560.1h.01M103.5 587.0h.01M110.1 598.3h.01M112.3 573.2h.01M98.2 582.0h.01M105.7 590.7h.01M92.3 573.3h.01M98.4 574.9h.01M111.7 579.4h.01M107.4 587.9h.01M103.0 590.8h.01M94.2 557.5h.01M109.0 559.7h.01M98.4 595.7h.01M106.1 557.1h.01M107.0 558.4h.01M124.6 568.0h.01M100.6 565.4h.01M82.4 572.4h.01M126.4 590.0h.01M104.7 597.9h.01M87.5 586.7h.01M106.9 595.0h.01M115.1 567.2h.01M92.9 562.2h.01M104.4 584.9h.01M113.8 600.2h.01M100.7 559.4h.01M89.9 570.7h.01M111.5 552.6h.01M95.7 581.9h.01M100.1 561.9h.01M105.3 597.2h.01M87.8 585.4h.01M105.9 579.7h.01M111.7 591.2h.01M127.2 575.7h.01M90.1 559.2h.01M83.6 577.9h.01M121.7 564.8h.01M102.7 581.3h.01M98.4 589.6h.01M122.0 582.4h.01M126.5 571.2h.01M111.5 587.8h.01M110.9 562.8h.01M108.3 564.9h.01M98.1 570.9h.01M96.9 557.9h.01M113.7 574.7h.01M83.8 579.4h.01M88.0 563.0h.01M98.5 582.9h.01M84.6 581.8h.01M109.3 581.1h.01M97.4 571.2h.01M87.7 583.2h.01M122.2 573.0h.01M99.8 563.8h.01M95.4 575.7h.01M114.7 583.6h.01M117.6 586.3h.01M97.9 564.1h.01M111.9 558.9h.01M121.6 585.4h.01M89.3 589.0h.01M128.1 573.4h.01M106.7 594.8h.01M91.7 576.8h.01M118.1 585.1h.01M97.9 563.6h.01M108.3 554.2h.01M114.1 554.4h.01M96.8 564.1h.01M108.3 571.1h.01M104.7 597.6h.01M104.4 593.7h.01M86.7 586.6h.01M126.3 566.5h.01M90.6 591.8h.01M120.5 571.8h.01M115.5 598.8h.01M110.3 562.1h.01M102.2 598.0h.01M122.9 572.7h.01M105.6 584.1h.01M123.7 565.5h.01M82.8 581.4h.01M128.6 572.8h.01M108.7 590.9h.01M109.3 564.2h.01M97.8 574.0h.01M114.0 599.7h.01M87.2 573.0h.01M82.2 574.6h.01M121.1 566.7h.01M120.0 593.8h.01M88.6 590.0h.01M130.6 571.0h.01M91.5 585.5h.01M104.7 588.4h.01M112.3 586.6h.01M127.0 583.5h.01M90.9 565.5h.01M87.2 567.9h.01M102.0 600.3h.01M100.1 572.9h.01M119.6 575.7h.01M97.5 554.5h.01M107.5 599.5h.01M93.8 588.4h.01M96.4 587.2h.01M96.9 562.5h.01M102.9 575.7h.01M115.5 575.0h.01M91.0 566.8h.01M102.8 563.2h.01M124.5 565.4h.01M104.3 595.6h.01M125.5 582.9h.01M99.2 596.9h.01M121.0 592.3h.01M116.1 593.6h.01M106.3 581.5h.01M89.1 591.5h.01M111.2 559.2h.01M105.3 601.4h.01M110.8 556.3h.01M94.0 595.0h.01M110.3 559.9h.01M94.2 577.8h.01M118.5 560.7h.01M100.4 566.1h.01M113.1 586.4h.01M96.4 562.9h.01M125.6 570.3h.01M96.7 574.8h.01M105.7 594.0h.01M121.5 595.5h.01M119.1 579.9h.01M95.7 559.9h.01M117.1 571.1h.01M112.7 595.7h.01M121.4 557.4h.01M116.0 566.2h.01M101.5 584.1h.01M122.2 572.2h.01M96.4 585.7h.01M111.5 566.4h.01" fill="none" stroke="#5e1e48" stroke-width="0.95" stroke-opacity="0.75" stroke-linecap="round" filter="url(#b4)"/>
<path d="M117.3 576.7 L117.3 577.8 L116.9 578.8 L116.3 579.7 L116.9 581.0 L116.8 582.2 L115.6 582.8 L114.4 583.2 L114.0 584.2 L113.4 585.1 L112.3 585.3 L111.0 585.1 L110.3 585.9 L109.6 586.9 L108.6 587.7 L107.5 586.9 L106.4 587.0 L105.4 587.3 L104.2 587.7 L103.1 587.4 L102.5 586.0 L101.7 585.3 L100.5 585.4 L99.8 584.5 L99.1 583.8 L99.0 582.6 L98.3 581.8 L96.8 581.5 L96.1 580.6 L96.3 579.4 L96.5 578.2 L95.9 577.2 L95.1 576.1 L96.5 575.2 L97.5 574.4 L97.4 573.3 L97.1 572.1 L97.6 571.2 L99.1 571.0 L99.5 570.0 L99.4 568.5 L100.2 567.7 L101.5 567.6 L102.4 567.2 L103.3 566.7 L104.2 565.7 L105.4 566.0 L106.4 566.5 L107.4 566.9 L108.6 566.1 L109.7 566.1 L110.5 567.0 L111.2 567.9 L112.4 567.8 L113.6 568.0 L114.2 569.0 L114.9 569.8 L115.4 570.8 L116.4 571.4 L117.1 572.3 L116.5 573.7 L116.6 574.7 L116.7 575.7ZM123.7 576.7 L124.6 577.8 L124.4 578.9 L123.3 579.8 L123.2 580.9 L123.2 582.0 L123.1 583.0 L121.9 583.7 L120.9 584.3 L120.6 585.3 L120.9 586.8 L119.7 587.1 L118.8 587.7 L118.2 588.6 L118.4 590.4 L117.3 590.7 L116.2 591.0 L114.8 590.8 L114.2 591.9 L113.6 592.9 L112.4 592.8 L111.0 591.8 L110.2 592.8 L109.3 593.7 L108.3 594.0 L107.2 593.0 L106.2 593.0 L105.1 593.9 L103.9 594.7 L103.0 593.5 L102.1 592.7 L101.2 592.3 L99.9 592.8 L99.0 592.2 L98.7 590.5 L97.6 590.4 L96.2 590.6 L95.1 590.3 L94.9 588.9 L94.3 588.0 L93.3 587.5 L91.9 587.2 L92.0 585.8 L92.0 584.6 L91.6 583.7 L90.3 583.1 L90.1 582.0 L91.2 580.6 L91.1 579.6 L90.0 578.8 L89.2 577.8 L89.3 576.7 L90.2 575.7 L89.7 574.6 L89.2 573.4 L89.7 572.4 L90.7 571.6 L91.5 570.8 L91.0 569.5 L91.8 568.7 L92.3 567.8 L93.5 567.3 L93.7 566.2 L93.9 565.1 L94.4 564.0 L95.6 563.7 L96.6 563.3 L96.9 561.9 L97.8 561.3 L99.3 561.9 L100.3 561.5 L101.2 561.1 L102.0 560.1 L103.0 560.0 L104.2 560.4 L105.1 560.0 L106.2 559.3 L107.3 558.7 L108.3 560.0 L109.3 560.1 L110.4 559.8 L111.6 559.3 L112.4 560.4 L113.1 561.6 L114.1 561.8 L115.2 562.0 L116.1 562.5 L116.4 563.8 L117.3 564.3 L118.6 564.4 L120.1 564.5 L120.0 566.0 L120.6 566.8 L121.3 567.7 L122.2 568.4 L122.1 569.6 L121.9 570.8 L122.2 571.8 L122.8 572.6 L124.1 573.5 L123.2 574.7 L123.0 575.7ZM129.0 576.7 L128.5 577.8 L127.0 578.7 L127.5 579.8 L128.1 580.9 L127.4 581.8 L126.3 582.6 L126.6 583.7 L126.9 585.0 L126.7 586.1 L125.6 586.7 L125.2 587.7 L125.0 588.8 L124.5 589.8 L123.2 590.1 L121.9 590.3 L121.8 591.6 L121.3 592.6 L120.5 593.2 L119.3 593.4 L118.8 594.5 L118.5 596.1 L117.5 596.5 L116.2 596.3 L114.9 596.0 L114.4 597.6 L113.2 597.5 L112.0 596.8 L110.9 596.7 L110.1 598.1 L109.1 598.9 L108.0 598.5 L107.0 597.6 L105.9 598.1 L104.8 598.9 L103.7 598.7 L102.8 597.6 L102.0 596.8 L100.8 597.2 L99.6 597.6 L99.1 595.9 L98.3 595.1 L96.8 595.9 L95.7 595.7 L94.8 595.2 L94.3 594.0 L93.1 593.9 L91.7 593.8 L91.8 592.2 L91.7 590.8 L90.7 590.4 L89.5 590.0 L89.0 589.0 L89.2 587.7 L88.4 587.0 L86.7 586.7 L85.8 585.9 L86.1 584.6 L86.2 583.4 L86.0 582.4 L85.4 581.4 L85.3 580.4 L86.5 579.2 L85.9 578.2 L85.0 577.2 L84.6 576.2 L85.8 575.2 L85.9 574.2 L85.0 573.0 L84.5 571.7 L85.7 570.9 L87.0 570.2 L86.2 568.9 L86.7 567.9 L87.6 567.2 L88.8 566.7 L88.7 565.4 L88.7 564.1 L89.7 563.6 L90.5 562.9 L90.9 561.8 L91.2 560.7 L91.8 559.7 L93.5 560.1 L94.7 559.9 L95.1 558.8 L95.9 558.0 L97.1 558.0 L98.0 557.6 L98.8 556.8 L99.4 555.4 L100.7 555.8 L101.8 556.1 L102.8 555.5 L103.7 554.7 L104.9 555.1 L105.9 555.5 L106.9 556.4 L108.0 555.2 L109.1 554.7 L110.0 556.0 L110.9 556.5 L112.2 555.8 L113.5 555.2 L114.4 555.7 L114.9 557.4 L116.0 557.6 L117.4 557.0 L117.9 558.3 L118.4 559.5 L119.2 560.1 L120.2 560.4 L121.3 560.9 L122.0 561.6 L122.7 562.4 L123.9 562.7 L124.9 563.4 L124.7 564.8 L124.8 566.0 L125.2 566.9 L126.4 567.5 L126.2 568.7 L126.1 569.8 L126.6 570.7 L127.7 571.5 L128.2 572.5 L127.5 573.6 L127.5 574.7 L128.5 575.6ZM131.9 576.7 L132.6 577.8 L132.3 578.8 L131.1 579.8 L131.7 580.9 L132.1 582.1 L131.3 583.0 L129.9 583.7 L129.7 584.7 L129.6 585.8 L130.1 587.1 L128.8 587.7 L128.0 588.4 L128.3 589.8 L128.5 591.2 L127.1 591.5 L125.9 591.9 L125.6 593.0 L125.3 594.1 L124.1 594.5 L123.0 594.8 L122.0 595.2 L122.0 596.8 L121.1 597.4 L120.0 597.7 L118.8 597.7 L118.5 599.3 L117.8 600.2 L116.6 600.3 L115.2 599.5 L114.5 600.6 L113.6 601.4 L112.4 601.1 L111.2 600.1 L110.2 600.7 L109.4 602.1 L108.3 601.6 L107.2 601.6 L106.2 601.7 L105.1 602.3 L104.0 602.3 L103.0 601.6 L102.0 601.2 L101.1 600.8 L99.8 601.5 L99.0 600.5 L98.5 598.8 L97.2 599.2 L96.0 599.4 L95.2 598.8 L94.4 598.0 L93.5 597.5 L91.9 598.0 L91.0 597.4 L90.9 595.8 L90.1 595.2 L89.4 594.4 L88.0 594.3 L88.2 592.6 L87.7 591.7 L86.8 591.2 L85.5 590.8 L85.3 589.6 L84.9 588.7 L84.1 587.9 L82.6 587.4 L82.6 586.2 L83.0 585.0 L82.9 583.9 L82.2 583.0 L82.0 581.9 L82.6 580.8 L83.1 579.7 L81.8 578.8 L81.1 577.8 L81.2 576.7 L81.8 575.7 L81.4 574.6 L81.1 573.5 L81.5 572.4 L83.0 571.7 L83.1 570.6 L82.8 569.5 L83.1 568.5 L83.9 567.7 L85.1 567.1 L84.0 565.4 L83.9 564.2 L85.0 563.6 L86.3 563.2 L86.3 561.9 L86.3 560.5 L87.3 560.0 L88.6 559.7 L89.8 559.5 L90.0 558.2 L90.6 557.2 L92.3 557.8 L92.7 556.6 L93.3 555.6 L93.6 554.1 L95.1 554.5 L96.1 554.3 L96.7 553.0 L97.5 552.1 L98.9 552.8 L100.2 553.3 L101.0 552.6 L102.0 552.1 L103.1 552.2 L104.2 552.5 L105.2 552.1 L106.2 551.0 L107.2 551.1 L108.3 551.9 L109.3 552.4 L110.5 551.1 L111.5 551.6 L112.4 552.6 L113.1 553.8 L114.3 553.3 L115.6 552.6 L116.2 554.1 L116.9 555.1 L118.0 555.1 L119.6 554.3 L120.4 555.1 L120.8 556.4 L121.8 556.8 L123.3 556.7 L123.8 557.7 L123.8 559.3 L124.2 560.3 L125.7 560.3 L126.2 561.2 L126.5 562.3 L126.9 563.3 L128.1 563.8 L129.3 564.3 L129.4 565.4 L129.4 566.6 L129.6 567.6 L130.7 568.4 L130.9 569.4 L130.8 570.5 L129.9 571.8 L131.1 572.6 L132.0 573.5 L131.0 574.7 L130.8 575.7Z" fill="none" stroke="#d892ac" stroke-width="0.8" stroke-opacity="0.55" stroke-linejoin="round" filter="url(#b4)"/></g>
<g filter="url(#b7)">
<path d="M236.3 575.1 L236.3 576.3 L236.2 577.5 L236.1 578.7 L235.9 579.9 L235.6 581.1 L235.3 582.3 L235.0 583.4 L234.6 584.6 L234.1 585.7 L233.6 586.8 L233.1 587.9 L232.5 588.9 L231.8 590.0 L231.1 591.0 L230.4 591.9 L229.6 592.9 L228.8 593.8 L228.0 594.6 L227.1 595.4 L226.1 596.2 L225.2 596.9 L224.2 597.6 L223.1 598.3 L222.1 598.9 L221.0 599.4 L219.9 599.9 L218.8 600.4 L217.6 600.8 L216.5 601.1 L215.3 601.4 L214.1 601.7 L212.9 601.9 L211.7 602.0 L210.5 602.1 L209.3 602.1 L208.1 602.1 L206.9 602.0 L205.7 601.9 L204.5 601.7 L203.3 601.4 L202.1 601.1 L201.0 600.8 L199.8 600.4 L198.7 599.9 L197.6 599.4 L196.5 598.9 L195.5 598.3 L194.4 597.6 L193.4 596.9 L192.5 596.2 L191.5 595.4 L190.6 594.6 L189.8 593.8 L189.0 592.9 L188.2 591.9 L187.5 591.0 L186.8 590.0 L186.1 588.9 L185.5 587.9 L185.0 586.8 L184.5 585.7 L184.0 584.6 L183.6 583.4 L183.3 582.3 L183.0 581.1 L182.7 579.9 L182.5 578.7 L182.4 577.5 L182.3 576.3 L182.3 575.1 L182.3 573.9 L182.4 572.7 L182.5 571.5 L182.7 570.3 L183.0 569.1 L183.3 567.9 L183.6 566.8 L184.0 565.6 L184.5 564.5 L185.0 563.4 L185.5 562.3 L186.1 561.3 L186.8 560.2 L187.5 559.2 L188.2 558.3 L189.0 557.3 L189.8 556.4 L190.6 555.6 L191.5 554.8 L192.5 554.0 L193.4 553.3 L194.4 552.6 L195.5 551.9 L196.5 551.3 L197.6 550.8 L198.7 550.3 L199.8 549.8 L201.0 549.4 L202.1 549.1 L203.3 548.8 L204.5 548.5 L205.7 548.3 L206.9 548.2 L208.1 548.1 L209.3 548.1 L210.5 548.1 L211.7 548.2 L212.9 548.3 L214.1 548.5 L215.3 548.8 L216.5 549.1 L217.6 549.4 L218.8 549.8 L219.9 550.3 L221.0 550.8 L222.1 551.3 L223.1 551.9 L224.2 552.6 L225.2 553.3 L226.1 554.0 L227.1 554.8 L228.0 555.6 L228.8 556.4 L229.6 557.3 L230.4 558.3 L231.1 559.2 L231.8 560.2 L232.5 561.3 L233.1 562.3 L233.6 563.4 L234.1 564.5 L234.6 565.6 L235.0 566.8 L235.3 567.9 L235.6 569.1 L235.9 570.3 L236.1 571.5 L236.2 572.7 L236.3 573.9Z" fill="url(#g8)"/>
</g>
<g filter="url(#b6)">
<ellipse cx="312" cy="529.5" rx="7" ry="2.2" fill="#9ccce0"/>
<path d="M358.3 575.2 L358.3 577.3 L358.1 579.4 L357.9 581.5 L357.6 583.6 L357.2 585.6 L356.7 587.7 L356.1 589.7 L355.4 591.7 L354.7 593.6 L353.8 595.5 L352.9 597.4 L351.9 599.3 L350.8 601.0 L349.7 602.8 L348.4 604.4 L347.1 606.1 L345.8 607.6 L344.3 609.1 L342.8 610.5 L341.3 611.9 L339.7 613.1 L338.0 614.3 L336.3 615.5 L334.5 616.5 L332.7 617.5 L330.9 618.3 L329.0 619.1 L327.1 619.8 L325.1 620.4 L323.2 620.9 L321.2 621.3 L319.2 621.7 L317.2 621.9 L315.1 622.1 L313.1 622.1 L311.1 622.1 L309.0 621.9 L307.0 621.7 L305.0 621.3 L303.0 620.9 L301.1 620.4 L299.1 619.8 L297.2 619.1 L295.3 618.3 L293.5 617.5 L291.7 616.5 L289.9 615.5 L288.2 614.3 L286.5 613.1 L284.9 611.9 L283.4 610.5 L281.9 609.1 L280.4 607.6 L279.1 606.1 L277.8 604.4 L276.5 602.8 L275.4 601.0 L274.3 599.3 L273.3 597.4 L272.4 595.5 L271.5 593.6 L270.8 591.7 L270.1 589.7 L269.5 587.7 L269.0 585.6 L268.6 583.6 L268.3 581.5 L268.1 579.4 L267.9 577.3 L267.9 575.2 L267.9 573.1 L268.1 571.0 L268.3 568.9 L268.6 566.8 L269.0 564.8 L269.5 562.7 L270.1 560.7 L270.8 558.7 L271.5 556.8 L272.4 554.9 L273.3 553.0 L274.3 551.1 L275.4 549.4 L276.5 547.6 L277.8 546.0 L279.1 544.3 L280.4 542.8 L281.9 541.3 L283.4 539.9 L284.9 538.5 L286.5 537.3 L288.2 536.1 L289.9 534.9 L291.7 533.9 L293.5 532.9 L295.3 532.1 L297.2 531.3 L299.1 530.6 L301.1 530.0 L303.0 529.5 L305.0 529.1 L307.0 528.7 L309.0 528.5 L311.1 528.3 L313.1 528.3 L315.1 528.3 L317.2 528.5 L319.2 528.7 L321.2 529.1 L323.2 529.5 L325.1 530.0 L327.1 530.6 L329.0 531.3 L330.9 532.1 L332.7 532.9 L334.5 533.9 L336.3 534.9 L338.0 536.1 L339.7 537.3 L341.3 538.5 L342.8 539.9 L344.3 541.3 L345.8 542.8 L347.1 544.3 L348.4 546.0 L349.7 547.6 L350.8 549.4 L351.9 551.1 L352.9 553.0 L353.8 554.9 L354.7 556.8 L355.4 558.7 L356.1 560.7 L356.7 562.7 L357.2 564.8 L357.6 566.8 L357.9 568.9 L358.1 571.0 L358.3 573.1Z" fill="url(#g9)"/>
</g>
<g filter="url(#wob)"><path d="M321.8 572.3 L320.7 570.1 L318.7 568.8M309.4 579.8 L308.7 577.5 L306.6 576.3 L304.3 575.5M314.4 576.0 L312.0 576.0 L309.7 575.2 L307.3 574.9M320.5 573.8 L318.3 572.8 L315.9 573.2 L315.0 571.0M315.9 568.6 L316.4 570.9 L317.2 573.2 L317.1 575.6M314.9 578.9 L315.8 581.1 L318.2 581.3 L319.4 579.3 L317.8 577.5M308.6 573.0 L307.2 571.1 L308.3 568.9 L309.6 566.9M304.5 577.7 L306.8 578.4 L307.9 580.5M316.9 568.2 L319.0 569.3 L319.9 571.5M307.5 577.0 L309.9 577.0 L310.4 574.6 L312.5 573.5 L314.9 573.6M316.3 566.4 L317.7 568.3 L319.4 570.0M313.4 574.0 L312.6 576.3 L312.1 578.6M317.0 573.5 L317.2 571.1 L317.9 568.8M310.3 568.1 L308.0 568.8 L306.0 570.1M312.9 566.2 L310.5 566.1M306.4 573.0 L304.6 571.4M310.6 574.2 L310.1 571.8 L312.2 570.7M321.6 574.6 L322.1 576.9 L320.7 578.9M315.6 583.7 L315.6 581.3 L317.2 579.4M306.5 572.8 L304.4 573.9M317.3 576.9 L319.7 577.1 L321.7 578.4M310.9 579.8 L310.9 582.2 L308.7 583.1M314.6 573.9 L315.9 571.9 L317.3 570.0 L319.6 569.1M317.8 579.7 L316.4 581.6M319.5 580.6 L320.6 578.5 L318.8 576.8 L318.9 574.4 L317.6 572.4M316.6 579.8 L315.7 577.5 L315.0 575.2M308.3 580.9 L309.5 583.0M317.0 574.6 L318.6 576.3 L321.0 575.8" fill="none" stroke="#6a1c4c" stroke-width="1.0" stroke-opacity="0.8" stroke-linecap="round" stroke-linejoin="round" filter="url(#b4)"/>
<path d="M327.5 577.1 L329.8 573.7 L332.0 577.1 L334.3 573.8 L336.5 577.2 L338.8 573.8 L341.1 577.3 L343.4 573.9 L345.6 577.3M327.2 578.7 L329.8 575.6 L331.6 579.3 L334.3 576.2 L336.0 579.9 L338.7 576.8 L340.5 580.4 L343.1 577.4 L344.9 581.0M326.5 580.7 L329.5 578.0 L330.7 581.8 L333.7 579.1 L334.8 583.0 L337.8 580.3 L339.0 584.1 L341.9 581.4 L343.1 585.3M325.7 582.3 L328.5 579.8 L328.6 583.5 L331.3 581.0 L331.4 584.7 L334.1 582.1 L334.2 585.9 L336.9 583.3 L337.0 587.0M324.1 584.6 L327.3 582.7 L326.8 586.4 L330.0 584.4 L329.4 588.1 L332.6 586.2 L332.0 589.9 L335.2 587.9 L334.6 591.6M323.2 585.6 L326.8 584.1 L326.0 587.8 L329.5 586.3 L328.8 590.1 L332.3 588.6 L331.5 592.3 L335.1 590.8 L334.3 594.6M321.5 587.0 L325.2 585.9 L323.8 589.5 L327.4 588.4 L326.0 591.9 L329.7 590.9 L328.3 594.4 L331.9 593.4 L330.5 596.9M319.0 588.4 L323.1 588.7 L321.4 592.4 L325.5 592.7 L323.8 596.4 L327.9 596.6 L326.1 600.4 L330.2 600.6 L328.5 604.3M317.3 589.1 L321.1 589.3 L318.6 592.2 L322.4 592.4 L320.0 595.2 L323.7 595.4 L321.3 598.3 L325.1 598.5 L322.6 601.4M315.4 589.5 L319.3 590.8 L316.7 593.9 L320.6 595.1 L317.9 598.2 L321.8 599.5 L319.2 602.6 L323.1 603.8 L320.4 607.0M313.3 589.7 L316.9 591.2 L313.8 593.5 L317.4 595.0 L314.3 597.4 L317.9 598.8 L314.8 601.2 L318.4 602.7 L315.3 605.0M311.7 589.6 L315.1 591.5 L311.8 593.6 L315.2 595.4 L311.8 597.5 L315.3 599.4 L311.9 601.4 L315.4 603.3 L312.0 605.3M309.1 589.1 L312.2 591.5 L308.5 592.8 L311.6 595.2 L307.9 596.5 L311.0 598.9 L307.3 600.2 L310.4 602.6 L306.7 603.9M307.3 588.5 L309.8 591.7 L305.9 592.8 L308.5 596.0 L304.6 597.2 L307.2 600.4 L303.3 601.6 L305.8 604.8 L301.9 605.9M305.5 587.5 L307.8 590.6 L303.9 590.8 L306.2 593.8 L302.4 594.0 L304.7 597.1 L300.9 597.2 L303.2 600.3 L299.4 600.5M303.5 586.1 L305.3 589.4 L301.5 589.0 L303.3 592.3 L299.5 591.8 L301.3 595.2 L297.5 594.7 L299.3 598.1 L295.5 597.6M302.1 584.6 L303.3 588.3 L299.5 587.4 L300.7 591.1 L296.9 590.2 L298.2 593.9 L294.4 593.0 L295.6 596.7 L291.8 595.8M301.2 583.5 L302.2 587.1 L298.7 585.7 L299.7 589.3 L296.2 587.9 L297.2 591.5 L293.7 590.1 L294.7 593.8 L291.2 592.3M300.0 581.4 L300.4 585.2 L297.2 583.1 L297.7 586.9 L294.5 584.9 L294.9 588.6 L291.7 586.6 L292.2 590.3 L289.0 588.3M299.4 579.8 L299.1 583.7 L296.0 581.4 L295.8 585.3 L292.7 583.0 L292.5 586.8 L289.4 584.5 L289.1 588.4 L286.0 586.1M298.9 578.1 L298.0 582.0 L294.9 579.4 L294.0 583.3 L290.9 580.7 L290.0 584.6 L286.9 582.0 L286.0 585.9 L282.9 583.4M298.6 575.6 L297.5 579.2 L295.4 576.1 L294.3 579.7 L292.2 576.5 L291.0 580.1 L288.9 577.0 L287.8 580.6 L285.7 577.5M298.8 573.1 L296.9 576.4 L295.2 572.9 L293.3 576.3 L291.6 572.8 L289.7 576.2 L288.0 572.7 L286.1 576.1 L284.4 572.6M299.2 571.0 L297.1 574.1 L296.2 570.5 L294.1 573.6 L293.2 570.0 L291.1 573.0 L290.2 569.4 L288.1 572.5 L287.2 568.9M299.7 569.7 L296.7 572.4 L295.5 568.5 L292.5 571.2 L291.3 567.4 L288.3 570.1 L287.1 566.2 L284.1 568.9 L283.0 565.1M300.7 567.8 L297.6 570.1 L297.4 566.3 L294.3 568.7 L294.1 564.8 L291.1 567.2 L290.8 563.4 L287.8 565.7 L287.5 561.9M301.9 566.0 L298.8 568.0 L299.4 564.4 L296.3 566.4 L296.8 562.7 L293.7 564.8 L294.3 561.1 L291.2 563.1 L291.8 559.5M303.6 564.2 L299.9 565.3 L300.7 561.5 L296.9 562.6 L297.7 558.8 L293.9 559.9 L294.7 556.0 L290.9 557.2 L291.8 553.3M305.2 563.0 L301.6 563.9 L303.1 560.5 L299.5 561.4 L301.0 558.0 L297.4 558.9 L298.9 555.4 L295.3 556.3 L296.8 552.9M306.7 562.2 L302.9 562.7 L304.9 559.4 L301.1 559.9 L303.1 556.7 L299.3 557.1 L301.3 553.9 L297.5 554.3 L299.5 551.1M308.9 561.3 L304.9 560.5 L307.1 557.1 L303.1 556.3 L305.3 552.8 L301.2 552.1 L303.4 548.6 L299.4 547.9 L301.6 544.4M310.6 560.9 L306.9 560.4 L309.8 558.0 L306.1 557.6 L308.9 555.2 L305.2 554.7 L308.1 552.3 L304.4 551.8 L307.2 549.4M312.9 560.7 L309.3 559.5 L312.4 557.3 L308.8 556.1 L312.0 553.9 L308.4 552.7 L311.5 550.6 L307.9 549.3 L311.1 547.2M315.0 560.8 L311.7 558.9 L315.1 557.1 L311.7 555.2 L315.2 553.5 L311.8 551.6 L315.2 549.8 L311.9 547.9 L315.3 546.1M316.7 561.1 L313.6 558.4 L317.3 556.6 L314.2 553.9 L317.9 552.1 L314.8 549.4 L318.5 547.6 L315.4 544.9 L319.1 543.1M318.9 561.9 L316.4 558.7 L320.3 557.5 L317.7 554.3 L321.7 553.1 L319.1 549.9 L323.0 548.7 L320.4 545.5 L324.4 544.3M321.0 563.0 L318.8 559.6 L322.8 559.3 L320.7 555.9 L324.6 555.5 L322.5 552.1 L326.5 551.8 L324.3 548.4 L328.3 548.0M322.0 563.8 L320.3 560.0 L324.4 559.8 L322.7 556.1 L326.8 555.9 L325.1 552.1 L329.2 551.9 L327.5 548.2 L331.6 548.0M324.0 565.6 L322.9 561.7 L326.9 562.4 L325.8 558.5 L329.8 559.2 L328.7 555.3 L332.7 556.0 L331.6 552.1 L335.6 552.7M325.1 567.0 L324.4 563.1 L328.3 564.2 L327.6 560.3 L331.5 561.5 L330.8 557.5 L334.6 558.7 L334.0 554.7 L337.8 555.9M326.3 569.2 L326.2 565.4 L329.5 567.3 L329.3 563.5 L332.6 565.4 L332.5 561.6 L335.8 563.5 L335.6 559.7 L339.0 561.7M327.0 570.9 L327.7 566.9 L331.2 569.1 L331.9 565.0 L335.4 567.2 L336.1 563.2 L339.6 565.4 L340.3 561.3 L343.8 563.5M327.4 573.1 L328.1 569.4 L330.5 572.2 L331.2 568.6 L333.6 571.4 L334.2 567.7 L336.7 570.6 L337.3 566.9 L339.7 569.8M327.6 574.3 L328.9 570.7 L331.4 573.7 L332.7 570.0 L335.2 573.0 L336.4 569.3 L338.9 572.3 L340.2 568.6 L342.7 571.6" fill="none" stroke="#64204e" stroke-width="1.15" stroke-opacity="0.7" stroke-linecap="round" stroke-linejoin="round" filter="url(#b5)"/>
<path d="M328.1 576.1 L330.0 573.4 L332.0 576.0 L333.9 573.3 L336.0 575.9 L337.9 573.2 L339.9 575.8 L341.8 573.1M327.4 579.7 L330.0 577.6 L331.5 580.6 L334.1 578.5 L335.6 581.5 L338.2 579.4 L339.7 582.4 L342.3 580.3M326.7 581.6 L329.5 579.8 L330.5 583.0 L333.3 581.2 L334.3 584.4 L337.1 582.6 L338.1 585.8 L340.9 584.0M325.2 584.1 L328.4 583.0 L329.0 586.4 L332.2 585.3 L332.7 588.7 L336.0 587.6 L336.5 591.0 L339.8 589.9M322.8 586.6 L326.0 586.1 L325.5 589.3 L328.7 588.8 L328.2 591.9 L331.3 591.4 L330.9 594.6 L334.0 594.1M321.3 587.8 L324.6 587.8 L323.8 591.0 L327.1 591.1 L326.3 594.3 L329.6 594.3 L328.8 597.5 L332.2 597.6M319.0 589.0 L322.2 589.6 L320.8 592.5 L324.1 593.1 L322.7 596.1 L325.9 596.6 L324.6 599.6 L327.8 600.1M315.5 590.0 L318.5 591.2 L316.5 593.7 L319.5 594.9 L317.4 597.4 L320.4 598.6 L318.4 601.1 L321.4 602.2M313.8 590.2 L316.6 591.9 L314.3 594.3 L317.2 596.1 L314.9 598.5 L317.8 600.2 L315.5 602.6 L318.3 604.4M310.9 590.0 L313.4 592.4 L310.7 594.5 L313.1 596.9 L310.4 598.9 L312.9 601.3 L310.1 603.4 L312.6 605.7M307.5 589.1 L309.5 591.5 L306.5 592.3 L308.5 594.7 L305.6 595.5 L307.5 597.9 L304.6 598.8 L306.6 601.1M305.6 588.2 L307.0 591.3 L303.7 592.3 L305.1 595.4 L301.7 596.3 L303.1 599.5 L299.8 600.4 L301.2 603.5M303.0 586.3 L303.7 589.5 L300.4 589.7 L301.1 592.9 L297.8 593.1 L298.5 596.3 L295.2 596.4 L295.9 599.7M300.8 583.8 L301.4 586.7 L298.6 585.6 L299.2 588.5 L296.4 587.5 L297.0 590.4 L294.2 589.3 L294.8 592.2M299.7 582.0 L299.2 585.4 L295.9 584.4 L295.4 587.7 L292.1 586.7 L291.6 590.1 L288.3 589.1 L287.8 592.5M298.9 580.0 L298.4 583.0 L295.9 581.3 L295.4 584.4 L292.9 582.6 L292.4 585.7 L289.9 583.9 L289.4 587.0M298.2 576.6 L296.9 579.5 L294.7 577.2 L293.4 580.1 L291.2 577.9 L289.9 580.8 L287.7 578.5 L286.4 581.4M298.2 573.7 L296.7 576.3 L295.4 573.7 L293.9 576.3 L292.5 573.6 L291.1 576.2 L289.7 573.6 L288.3 576.2M298.8 570.6 L296.1 572.7 L294.5 569.6 L291.7 571.7 L290.2 568.6 L287.4 570.7 L285.8 567.7 L283.1 569.7M299.7 568.4 L296.9 570.0 L296.0 566.9 L293.2 568.5 L292.3 565.4 L289.5 567.0 L288.6 563.9 L285.8 565.5M301.2 566.1 L298.5 567.4 L298.6 564.4 L296.0 565.8 L296.1 562.8 L293.4 564.1 L293.5 561.1 L290.8 562.5M303.3 563.9 L300.1 564.4 L300.6 561.3 L297.5 561.9 L298.0 558.7 L294.9 559.3 L295.4 556.2 L292.2 556.8M305.4 562.3 L302.0 562.1 L302.8 558.8 L299.4 558.5 L300.3 555.2 L296.9 554.9 L297.7 551.6 L294.3 551.4M307.3 561.4 L304.0 560.6 L305.2 557.4 L301.9 556.7 L303.1 553.5 L299.8 552.7 L301.1 549.6 L297.7 548.8M310.4 560.4 L307.4 559.4 L309.5 557.1 L306.5 556.1 L308.5 553.7 L305.6 552.7 L307.6 550.3 L304.7 549.4M312.4 560.2 L309.5 558.5 L311.8 556.1 L309.0 554.4 L311.3 552.0 L308.4 550.3 L310.7 547.9 L307.9 546.2M315.7 560.4 L313.2 558.8 L315.9 557.5 L313.4 555.9 L316.2 554.7 L313.7 553.0 L316.4 551.8 L313.9 550.1M317.8 561.0 L315.6 558.9 L318.5 558.0 L316.3 555.9 L319.2 555.0 L317.0 552.9 L319.9 552.0 L317.8 549.9M320.3 562.1 L318.8 559.2 L321.9 558.4 L320.4 555.6 L323.5 554.8 L322.0 552.0 L325.1 551.2 L323.6 548.4M323.6 564.5 L322.8 561.4 L326.0 561.5 L325.2 558.4 L328.4 558.6 L327.6 555.5 L330.8 555.7 L330.0 552.6M325.4 566.6 L324.8 563.7 L327.6 564.8 L327.0 561.9 L329.7 563.0 L329.2 560.1 L331.9 561.2 L331.3 558.3M326.5 568.4 L326.7 565.3 L329.6 566.5 L329.7 563.4 L332.6 564.6 L332.8 561.5 L335.7 562.7 L335.9 559.6M327.4 570.7 L328.3 567.6 L331.2 569.2 L332.1 566.0 L335.0 567.6 L335.9 564.5 L338.7 566.1 L339.6 562.9M328.0 573.1 L328.9 570.2 L331.0 572.4 L331.9 569.5 L334.0 571.7 L334.9 568.8 L337.0 571.0 L337.9 568.1" fill="none" stroke="#f070a0" stroke-width="0.9" stroke-opacity="0.7" stroke-linecap="round" stroke-linejoin="round" filter="url(#b4)"/>
<path d="M325.4 556.2h.01M323.4 590.9h.01M298.2 548.4h.01M323.0 559.3h.01M322.9 603.3h.01M304.3 557.3h.01M290.4 558.5h.01M321.7 605.6h.01M303.4 560.5h.01M297.2 565.9h.01M329.0 549.2h.01M335.4 594.9h.01M335.9 584.9h.01M292.4 595.0h.01M321.9 553.8h.01M330.6 598.5h.01M288.2 587.9h.01M293.6 567.7h.01M297.6 601.2h.01M339.7 570.7h.01M325.6 588.6h.01M341.3 588.6h.01M336.4 579.9h.01M320.0 559.8h.01M328.3 562.6h.01M319.5 597.7h.01M299.7 549.4h.01M320.3 553.9h.01M321.0 544.3h.01M295.0 571.5h.01M298.0 556.7h.01M298.0 568.6h.01M338.8 586.9h.01M328.3 567.7h.01M327.0 593.5h.01M297.8 548.1h.01M329.6 552.2h.01M295.1 589.8h.01M303.0 544.5h.01M330.1 592.8h.01M291.9 569.3h.01M323.5 549.8h.01M294.9 555.2h.01M301.3 551.9h.01M310.7 595.2h.01M308.9 546.2h.01M336.9 555.9h.01M284.3 566.1h.01M281.9 579.2h.01M340.6 585.0h.01M314.2 550.7h.01M321.0 591.3h.01M300.4 564.6h.01M292.1 599.0h.01M328.7 547.7h.01M323.9 549.9h.01M311.3 601.5h.01M322.9 606.0h.01M322.9 593.6h.01M339.5 572.4h.01" fill="none" stroke="#e8d0e8" stroke-width="0.7" stroke-opacity="0.6" stroke-linecap="round" filter="url(#b3)"/></g>
<g filter="url(#b6)">
<path d="M458.8 574.6 L458.7 576.5 L458.3 578.3 L457.7 580.1 L456.8 581.8 L456.6 583.6 L456.7 585.5 L456.5 587.4 L456.1 589.3 L455.5 591.0 L454.6 592.7 L453.5 594.2 L452.2 595.6 L450.6 596.7 L450.1 598.5 L449.4 600.3 L448.5 602.0 L447.4 603.5 L446.1 604.8 L444.6 605.9 L443.0 606.9 L441.2 607.6 L439.4 608.1 L438.3 609.7 L436.9 611.0 L435.4 612.1 L433.8 613.0 L432.1 613.7 L430.3 614.1 L428.4 614.3 L426.5 614.2 L424.7 614.3 L423.0 615.3 L421.3 615.9 L419.4 616.3 L417.6 616.4 L415.8 616.3 L413.9 615.9 L412.2 615.3 L410.5 614.3 L408.7 614.2 L406.8 614.3 L404.9 614.1 L403.1 613.7 L401.4 613.0 L399.8 612.1 L398.3 611.0 L396.9 609.7 L395.8 608.1 L394.0 607.6 L392.2 606.9 L390.6 605.9 L389.1 604.8 L387.8 603.5 L386.7 602.0 L385.8 600.3 L385.1 598.5 L384.6 596.7 L383.0 595.6 L381.7 594.2 L380.6 592.7 L379.7 591.0 L379.1 589.3 L378.7 587.4 L378.5 585.5 L378.6 583.6 L378.4 581.8 L377.5 580.1 L376.9 578.3 L376.5 576.5 L376.4 574.6 L376.5 572.7 L376.9 570.9 L377.5 569.1 L378.4 567.4 L378.6 565.6 L378.5 563.7 L378.7 561.8 L379.1 559.9 L379.7 558.2 L380.6 556.5 L381.7 555.0 L383.0 553.6 L384.6 552.5 L385.1 550.7 L385.8 548.9 L386.7 547.2 L387.8 545.7 L389.1 544.4 L390.6 543.3 L392.2 542.3 L394.0 541.6 L395.8 541.1 L396.9 539.5 L398.3 538.2 L399.8 537.1 L401.4 536.2 L403.1 535.5 L404.9 535.1 L406.8 534.9 L408.7 535.0 L410.5 534.9 L412.2 533.9 L413.9 533.3 L415.8 532.9 L417.6 532.8 L419.4 532.9 L421.3 533.3 L423.0 533.9 L424.7 534.9 L426.5 535.0 L428.4 534.9 L430.3 535.1 L432.1 535.5 L433.8 536.2 L435.4 537.1 L436.9 538.2 L438.3 539.5 L439.4 541.1 L441.2 541.6 L443.0 542.3 L444.6 543.3 L446.1 544.4 L447.4 545.7 L448.5 547.2 L449.4 548.9 L450.1 550.7 L450.6 552.5 L452.2 553.6 L453.5 555.0 L454.6 556.5 L455.5 558.2 L456.1 559.9 L456.5 561.8 L456.7 563.7 L456.6 565.6 L456.8 567.4 L457.7 569.1 L458.3 570.9 L458.7 572.7Z" fill="url(#g10)"/>
</g>
<path d="M447.5 580.6L456.8 582.5M442.9 591.8L450.8 597.1M434.5 600.3L439.8 608.3M423.5 604.9L425.4 614.4M411.7 604.9L409.8 614.4M400.7 600.3L395.4 608.3M392.3 591.8L384.4 597.1M387.7 580.6L378.4 582.5M387.7 568.6L378.4 566.7M392.3 557.4L384.4 552.1M400.7 548.9L395.4 540.9M411.7 544.3L409.8 534.8M423.5 544.3L425.4 534.8M434.5 548.9L439.8 540.9M442.9 557.4L450.8 552.1M447.5 568.6L456.8 566.7" stroke="#6a5a90" stroke-opacity="0.3" stroke-width="1.0" fill="none" stroke-linecap="round" filter="url(#b10)"/>
<circle cx="417.6" cy="574.6" r="23" fill="#b03c6c" fill-opacity="0.45" filter="url(#b20)"/>
<g filter="url(#wob)"><path d="M429.1 556.4 L431.2 557.0 L432.8 558.6M418.0 566.9 L420.0 567.6 L420.1 569.8 L422.3 570.2 L424.5 570.3M403.3 558.3 L403.5 560.5 L402.4 562.4M411.9 590.6 L414.0 591.1 L416.0 590.1M409.2 556.5 L411.4 556.2 L413.4 555.1M439.1 563.6 L440.6 565.2M423.9 554.8 L426.1 554.5 L427.7 552.9 L429.8 552.7M438.0 588.2 L436.0 587.4 L433.8 587.6M408.6 567.7 L409.1 565.5 L411.3 565.6 L412.8 567.2M418.5 593.2 L416.4 592.5 L414.4 591.6 L412.3 592.4M413.6 585.5 L414.1 587.6 L415.8 589.0 L418.0 588.4M399.9 582.3 L402.0 583.1 L403.2 581.3M410.7 551.8 L410.9 554.0 L408.8 554.7M425.7 554.7 L423.6 554.0 L423.0 551.9 L424.4 550.2M427.1 586.9 L428.7 585.4 L430.7 584.6M417.3 577.9 L415.6 576.6 L413.6 575.7 L411.4 575.5 L409.5 576.5M410.1 559.2 L411.4 561.0 L410.2 562.9 L409.2 564.9 L407.1 565.5M418.8 585.0 L418.1 587.1 L419.1 589.0 L420.3 590.8 L422.5 590.9M420.1 569.6 L422.1 570.6 L423.2 572.5M422.3 571.5 L424.5 570.9 L424.9 568.7M419.7 552.2 L417.9 550.9M410.3 564.0 L408.5 565.3 L406.6 564.2 L405.4 562.3 L405.6 560.1M426.4 579.5 L424.9 581.1 L422.9 580.1M426.9 564.8 L428.9 565.7 L430.6 564.3 L432.3 565.7 L433.4 567.6M433.4 562.6 L433.0 560.4 L431.2 559.1 L432.0 557.1M398.7 577.5 L396.7 578.5 L396.4 580.7 L398.4 581.6M421.9 564.9 L419.8 564.7 L417.9 565.8M404.9 562.4 L402.7 562.7 L401.1 564.2 L399.6 565.8M430.9 577.1 L429.4 578.7 L427.4 577.8 L425.2 577.7 L423.5 579.1M439.6 567.9 L438.7 569.8 L438.6 572.0 L436.8 573.2M434.2 570.4 L432.9 572.2 L433.8 574.2 L434.7 576.2M435.0 556.5 L432.9 557.2 L430.7 557.4 L428.7 558.4 L428.2 560.5M409.3 554.9 L407.4 556.0 L405.2 556.3M421.8 592.5 L420.5 594.3 L421.3 596.4 L422.0 598.5M429.8 595.0 L430.4 592.9 L428.5 591.8M418.9 598.0 L420.8 596.9 L422.6 595.8M392.7 576.8 L393.3 574.6 L394.4 572.8 L396.5 573.2 L398.4 574.3M406.2 591.7 L406.6 589.6 L408.3 588.2 L410.1 589.5 L412.3 589.1M408.2 579.7 L409.2 581.7 L407.4 583.0 L405.5 584.1M406.1 587.8 L405.1 589.7 L403.1 590.6 L401.8 588.8 L399.6 588.8M431.3 555.9 L431.8 553.8 L430.0 552.6M418.4 596.6 L420.5 597.3 L420.8 599.4M410.4 582.3 L412.3 581.2 L412.3 579.0 L410.5 577.7M399.4 584.3 L401.4 585.2 L401.3 587.4M436.9 569.0 L437.1 566.8 L435.7 565.1M425.2 585.4 L423.2 586.1 L421.2 585.1 L419.4 586.3 L419.6 588.5M415.9 576.6 L414.1 577.8 L414.8 579.8 L413.3 581.4M406.8 572.3 L404.8 573.2 L403.4 571.5M427.0 581.4 L426.6 583.6 L427.4 585.7 L429.6 585.9M431.1 586.5 L431.6 588.6 L433.3 590.0 L432.2 591.9 L431.4 594.0M431.8 584.8 L429.9 586.0 L428.5 587.7 L426.4 587.2 L426.0 585.0M431.6 591.8 L431.6 589.6 L433.7 589.2 L435.9 589.5 L436.8 587.5M411.3 563.4 L409.3 564.1 L407.7 562.6 L406.4 560.7M431.8 588.1 L431.4 590.3 L432.5 592.2 L431.8 594.3 L430.7 596.2M407.8 558.8 L409.9 559.4 L411.9 560.3M406.3 583.1 L404.4 584.3 L404.6 586.5M434.9 573.8 L434.9 571.6 L435.4 569.5M423.2 585.1 L421.5 586.4 L422.0 588.6M419.8 550.7 L421.9 550.3M402.5 573.4 L400.6 574.5 L400.0 576.6 L399.4 578.7 L397.2 578.8M423.7 594.7 L425.5 596.0 L427.3 594.7 L428.9 596.2M421.2 583.4 L420.2 581.4 L418.0 581.2M430.8 569.9 L431.3 567.8 L429.7 566.2 L427.8 567.2M402.0 581.8 L403.5 580.2 L402.9 578.1 L402.7 575.9M414.8 583.8 L412.7 583.5 L410.5 583.8 L409.8 585.9M429.8 576.6 L431.6 577.9 L433.7 577.2M415.7 580.8 L416.1 578.7 L414.2 577.5M432.8 561.2 L434.0 559.4 L435.8 558.1M428.7 585.3 L430.9 585.3 L431.5 587.4 L432.2 589.5 L431.9 591.7M434.7 589.8 L434.9 587.6 L433.3 586.2 L431.1 585.7M431.3 575.5 L432.0 573.4 L433.7 572.0M428.6 573.9 L426.4 574.3 L424.2 574.0 L422.8 575.7 L423.4 577.8M396.4 581.8 L398.0 583.3 L400.1 584.1 L400.9 586.2 L403.1 585.9M427.5 575.3 L426.3 573.5 L424.3 574.3M418.8 558.5 L420.6 557.3 L422.6 558.1M419.5 560.0 L421.6 559.4 L422.2 557.2 L424.4 557.0M420.4 558.0 L421.7 559.8 L423.8 560.5 L424.3 562.6M400.7 586.7 L398.5 586.8 L397.9 584.7 L398.8 582.7 L401.0 582.8M426.2 571.2 L424.0 571.2 L422.2 572.5 L422.2 574.7 L421.3 576.7M410.9 568.9 L408.8 568.2 L408.7 566.1 L410.2 564.4M407.2 561.2 L408.1 559.2 L409.7 557.7 L410.8 555.8M434.9 585.8 L432.8 585.2 L430.6 585.1 L428.5 585.7 L426.6 586.9M432.5 563.0 L430.3 563.2 L429.4 561.2 L428.7 559.1M409.7 567.8 L409.3 565.7 L407.1 565.3 L406.7 563.1M404.4 568.9 L402.5 567.8 L400.9 569.3M409.8 564.4 L407.9 563.2 L408.1 561.0 L409.0 559.0 L407.3 557.5M425.8 556.6 L423.8 555.6 L422.9 553.6 L421.0 552.5 L418.9 553.2M406.1 556.9 L407.0 554.9 L405.5 553.2M425.2 597.0 L427.4 596.8M433.3 585.3 L432.6 583.2 L433.7 581.4 L432.7 579.4 L430.5 579.4M435.6 566.7 L433.5 567.4 L431.8 566.0M417.8 575.8 L418.0 573.7 L416.3 572.4 L414.2 571.6 L412.0 571.8M397.6 584.5 L395.4 584.8M437.3 585.4 L435.6 586.7 L435.0 588.9 L435.8 590.9M401.9 555.0 L400.9 556.9M421.5 559.9 L422.1 562.0 L424.3 562.6 L425.9 561.1M433.8 578.8 L434.8 576.9 L436.9 577.2M428.1 587.9 L426.1 587.1 L423.9 586.6 L422.0 585.6 L421.1 583.6M395.3 578.0 L397.4 577.2 L397.6 575.0 L397.2 572.8M431.4 566.6 L429.4 565.6 L428.4 563.6M432.4 556.5 L430.8 554.9M418.3 553.4 L418.4 551.2 L416.2 550.7M408.3 560.7 L406.6 562.0 L407.3 564.1 L408.1 566.2 L406.9 568.0M435.3 562.6 L436.5 564.4 L438.6 563.7M398.3 574.5 L397.1 576.4 L397.1 578.6 L395.3 579.9M411.9 592.8 L410.5 591.1 L408.7 589.8 L406.8 590.8M428.6 577.3 L430.4 578.6 L432.1 580.0 L434.1 580.8 L435.5 582.5M405.5 588.9 L407.1 590.3 L408.8 591.8 L411.0 591.8 L413.2 591.7M432.1 569.1 L434.3 569.2 L434.9 567.1 L437.0 566.4M399.5 587.5 L400.6 585.6 L401.7 583.7 L403.9 584.1M416.9 578.2 L416.7 576.0 L417.8 574.1 L417.9 571.9 L420.0 571.2M439.6 581.0 L438.0 579.5 L437.4 577.4 L435.2 577.2M415.5 598.0 L414.3 599.8M428.0 561.0 L429.9 562.1 L431.6 560.7 L432.2 558.6M433.0 576.4 L432.0 574.5 L430.9 572.6 L430.3 570.4 L432.2 569.4M425.2 595.5 L423.1 596.3 L422.2 598.3M407.5 575.3 L409.6 574.7 L411.4 576.0 L413.5 575.3 L415.3 576.6M430.9 566.3 L428.8 566.9 L426.7 567.2 L425.7 569.2M414.8 592.3 L412.7 593.0 L412.6 595.2 L412.5 597.4M397.9 589.5 L400.1 589.7 L401.9 588.5 L401.8 586.3 L401.1 584.2M436.7 584.9 L438.8 585.5 L440.3 583.9 L439.8 581.8M414.7 577.8 L413.2 576.2 L411.1 576.4 L410.3 574.3M426.2 551.2 L427.8 552.7 L428.7 554.7 L430.5 556.0 L429.6 558.0M429.0 557.4 L427.0 558.3 L425.9 560.1 L424.4 561.8M422.1 553.9 L420.0 554.5 L418.4 556.0M407.8 595.1 L408.8 593.2 L407.2 591.8 L406.1 589.9 L404.0 589.3M418.2 593.3 L420.3 592.6 L422.3 593.7 L424.4 593.2M402.4 593.8 L403.2 591.7 L403.6 589.6 L405.8 589.2M429.4 570.1 L431.6 570.1 L432.7 572.1M410.4 566.7 L409.6 568.8 L408.2 570.5M398.2 563.8 L396.0 564.0M423.7 587.8 L421.8 588.9 L420.5 590.7 L421.5 592.7M431.5 555.1 L429.4 555.7 L427.3 556.2 L427.0 558.4M411.4 563.1 L410.1 564.9 L408.0 565.5M411.2 598.3 L409.0 598.1M400.4 588.4 L399.6 586.3 L398.8 584.3 L397.3 582.7 L397.0 580.5M424.4 566.9 L424.3 569.1 L425.6 570.9 L427.2 572.3M434.9 565.3 L436.8 564.2 L438.9 563.6M411.8 576.9 L410.0 575.6 L407.9 575.1 L405.7 574.9M406.1 570.2 L404.2 569.1 L404.1 566.9M426.6 560.1 L427.7 558.1 L426.5 556.3 L426.4 554.1 L428.6 553.5M404.7 590.8 L406.9 590.9 L407.3 593.1 L407.1 595.3 L405.1 596.2M433.3 592.6 L435.5 592.5M442.9 576.6 L441.3 575.0 L440.7 572.9 L442.7 571.9M426.4 572.6 L427.2 574.7 L429.2 575.5M432.6 594.1 L431.0 592.6 L430.0 590.6 L430.9 588.6M410.3 580.7 L410.0 582.9 L410.9 584.9 L413.1 585.0M399.4 562.1 L399.6 560.0 L401.7 559.6 L403.5 558.3M410.9 591.3 L410.6 589.1 L409.2 587.5 L409.4 585.3 L410.2 583.3M412.5 596.4 L412.5 598.6M422.3 576.8 L423.7 575.1 L425.4 573.8M425.9 568.6 L427.9 567.9 L429.7 569.2M438.1 585.6 L435.9 585.9 L433.8 585.2M408.0 588.8 L406.2 587.5 L406.0 585.3 L406.6 583.2M433.2 565.6 L433.3 563.4 L434.7 561.7 L436.9 561.7 L438.1 559.9M426.1 562.2 L428.2 563.0 L429.1 565.0 L428.1 566.9 L427.8 569.1M430.5 567.4 L432.6 568.1 L433.4 570.1M413.8 596.2 L415.3 597.8 L417.5 597.9 L419.4 596.8 L420.8 595.1M403.5 583.5 L401.3 584.0 L399.5 585.1 L398.9 587.2M430.9 561.3 L431.9 563.2 L434.1 563.1 L436.2 562.4M420.0 594.0 L420.1 596.2 L419.3 598.2M420.7 567.8 L418.5 567.6 L416.4 566.8M404.1 554.9 L405.9 553.7 L408.1 553.8 L410.3 553.8 L412.0 555.2M432.5 575.0 L434.6 575.8 L436.2 574.3 L435.8 572.1M423.9 588.3 L425.2 586.6 L426.5 584.8 L428.7 584.6M440.7 573.1 L442.8 572.5M424.0 577.2 L423.8 579.4 L425.6 580.7 L426.6 582.7 L426.3 584.8M410.2 592.4 L409.5 590.3 L410.5 588.4 L412.6 589.0 L413.5 591.0M402.2 562.4 L402.0 560.2 L399.9 559.6 L398.9 557.7M432.1 568.2 L430.5 566.7 L431.6 564.8M421.8 567.3 L419.7 568.0 L418.2 566.3 L417.2 564.4M404.2 594.4 L406.4 594.0 L408.5 593.3 L408.6 591.1M433.7 569.1 L435.6 568.0 L437.3 566.7M398.2 573.5 L397.4 571.5 L397.9 569.4 L400.1 569.3 L402.3 569.0M432.9 565.2 L432.7 563.1 L433.9 561.2 L436.1 561.4 L438.3 561.5M421.4 576.6 L419.8 575.1 L420.2 572.9 L422.0 571.7 L421.3 569.5M414.6 560.5 L416.5 561.6 L418.7 561.9M414.0 581.7 L415.7 583.0 L417.5 584.3 L419.6 584.8M424.1 565.4 L423.8 563.2 L425.8 562.4 L427.8 563.5 L429.1 565.2M423.7 597.1 L421.5 597.0 L420.3 595.2 L418.1 595.6M402.0 566.6 L400.9 568.6 L398.7 568.9 L396.9 567.7M398.1 577.0 L396.9 578.9 L394.8 578.3 L392.7 579.0M415.4 591.1 L415.1 593.3 L414.6 595.5M413.3 586.1 L412.7 584.0 L413.4 581.9M400.5 570.1 L401.6 568.2 L403.6 567.3M425.5 577.2 L423.4 576.5 L421.2 575.9 L419.1 575.7M427.3 563.6 L429.4 564.1 L431.6 564.1 L432.1 562.0 L431.5 559.9M429.7 580.4 L431.5 581.7 L433.6 582.3M426.2 569.3 L425.3 567.3 L423.1 567.8M396.7 580.4 L396.7 578.2 L397.5 576.2 L398.4 574.1M402.9 578.3 L402.3 576.2 L402.8 574.0 L404.7 573.0 L404.9 570.8M415.9 568.4 L415.7 566.2 L415.4 564.1 L414.6 562.0M432.0 557.1 L431.5 555.0 L429.9 553.5M431.9 587.4 L431.7 585.2 L430.3 583.5 L431.6 581.8 L433.3 580.4M423.6 576.7 L421.5 575.9 L420.2 577.7 L421.3 579.5 L422.2 581.6M419.8 554.3 L417.8 555.2 L416.2 556.7 L416.2 558.9 L414.1 559.7M434.2 570.9 L434.3 568.7 L436.3 567.9 L438.0 569.4 L437.1 571.4M416.8 561.7 L418.8 560.9 L419.8 558.9M403.8 581.7 L404.2 579.5 L406.2 578.6 L408.4 578.4 L410.0 576.9M421.0 597.7 L421.4 595.5 L423.4 594.7 L424.8 593.0M431.4 573.4 L431.0 575.6 L430.5 577.8 L431.3 579.8 L433.5 579.6M416.9 549.8 L418.3 551.5 L420.3 550.4 L422.4 550.0M419.0 551.3 L418.0 549.3M420.2 571.9 L419.0 570.1 L416.9 570.8M431.3 584.3 L429.2 584.9 L428.0 586.7 L427.1 588.7 L427.2 590.9M414.2 580.7 L413.1 578.8 L413.7 576.7 L412.9 574.6M402.0 569.8 L403.5 568.2 L402.8 566.1 L401.5 564.3M406.7 586.1 L405.1 587.6 L404.3 589.6 L405.7 591.3M437.7 565.3 L435.7 566.1 L435.1 568.3 L434.4 570.3 L432.3 571.2M432.7 574.2 L434.5 572.9 L436.6 573.5M398.9 584.5 L399.6 582.4 L401.6 581.5 L403.6 582.4 L404.8 584.2M408.1 596.4 L410.2 597.0 L410.7 599.1M434.0 591.7 L436.2 591.5M403.1 593.6 L405.1 592.8 L404.8 590.7 L404.7 588.5 L405.9 586.6M429.1 552.5 L426.9 552.0 L425.4 553.6 L423.6 554.8 L421.4 555.0M397.5 569.1 L395.6 568.0 L393.4 567.8M407.9 592.6 L408.1 594.8 L408.8 596.9 L411.0 596.7 L412.6 595.2M396.9 575.7 L394.7 575.9 L392.6 575.5M441.3 579.7 L441.7 577.5 L439.8 576.3 L438.4 574.6 L437.1 572.8M400.3 573.7 L402.1 572.5 L401.3 570.4M402.8 580.8 L400.7 581.5 L398.7 582.3 L396.6 581.5M405.9 569.3 L404.9 571.2 L403.1 572.5 L401.9 574.4 L400.5 576.0M406.5 560.6 L405.9 562.7 L405.8 564.9M431.4 553.8 L430.0 555.5 L428.7 557.3 L429.7 559.2 L429.5 561.4M420.3 552.8 L422.3 552.0 L424.5 551.7M418.4 596.8 L419.9 598.4 L421.7 599.6M401.4 593.6 L400.4 591.7 L402.1 590.2M424.3 579.6 L422.4 578.4 L420.2 578.2 L418.8 576.6 L419.3 574.4M415.5 552.1 L415.2 554.3 L413.2 555.1M401.9 581.8 L401.8 584.0 L402.6 586.0 L404.2 587.5M429.7 570.9 L429.5 568.7 L428.6 566.7 L428.0 564.6 L427.4 562.4M424.4 553.4 L426.3 554.5 L426.4 556.7 L424.9 558.3 L424.3 560.5M421.4 569.6 L423.6 569.5 L425.6 570.5 L425.0 572.6M399.8 567.7 L400.2 565.6 L398.9 563.8 L396.7 563.5M433.8 593.6 L433.2 591.5 L431.3 590.4 L429.9 588.7 L428.2 587.3M394.9 571.5 L394.0 569.6M417.0 550.7 L415.1 549.6" fill="none" stroke="#f49cb2" stroke-width="0.7" stroke-opacity="0.65" stroke-linecap="round" stroke-linejoin="round" filter="url(#b4)"/>
<path d="M434.1 537.5 A40.6 40.6 0 0 1 458.2 576.0" fill="none" stroke="#b0e6e2" stroke-width="1.3" stroke-opacity="0.8" stroke-linecap="round" filter="url(#b4)"/></g>
<g filter="url(#b7)">
<path d="M561.0 574.6 L560.9 576.3 L560.7 578.1 L560.2 579.8 L559.6 581.4 L558.7 582.9 L558.9 584.7 L558.7 586.5 L558.4 588.2 L557.8 589.8 L557.2 591.4 L556.3 593.0 L555.3 594.4 L554.2 595.7 L553.0 597.0 L551.5 597.9 L550.8 599.6 L549.9 601.1 L548.9 602.5 L547.7 603.8 L546.4 604.9 L545.0 606.0 L543.5 606.8 L541.9 607.5 L540.2 608.1 L538.4 608.3 L537.2 609.6 L535.7 610.5 L534.1 611.3 L532.5 612.0 L530.8 612.4 L529.1 612.7 L527.4 612.9 L525.6 612.8 L523.9 612.6 L522.2 612.0 L520.5 612.6 L518.8 612.8 L517.0 612.9 L515.3 612.7 L513.6 612.4 L511.9 612.0 L510.3 611.3 L508.7 610.5 L507.2 609.6 L506.0 608.3 L504.2 608.1 L502.5 607.5 L500.9 606.8 L499.4 606.0 L498.0 604.9 L496.7 603.8 L495.5 602.5 L494.5 601.1 L493.6 599.6 L492.9 597.9 L491.4 597.0 L490.2 595.7 L489.1 594.4 L488.1 593.0 L487.2 591.4 L486.6 589.8 L486.0 588.2 L485.7 586.5 L485.5 584.7 L485.7 582.9 L484.8 581.4 L484.2 579.8 L483.7 578.1 L483.5 576.3 L483.4 574.6 L483.5 572.9 L483.7 571.1 L484.2 569.4 L484.8 567.8 L485.7 566.3 L485.5 564.5 L485.7 562.7 L486.0 561.0 L486.6 559.4 L487.2 557.8 L488.1 556.2 L489.1 554.8 L490.2 553.5 L491.4 552.2 L492.9 551.3 L493.6 549.6 L494.5 548.1 L495.5 546.7 L496.7 545.4 L498.0 544.3 L499.4 543.2 L500.9 542.4 L502.5 541.7 L504.2 541.1 L506.0 540.9 L507.2 539.6 L508.7 538.7 L510.3 537.9 L511.9 537.2 L513.6 536.8 L515.3 536.5 L517.0 536.3 L518.8 536.4 L520.5 536.6 L522.2 537.2 L523.9 536.6 L525.6 536.4 L527.4 536.3 L529.1 536.5 L530.8 536.8 L532.5 537.2 L534.1 537.9 L535.7 538.7 L537.2 539.6 L538.4 540.9 L540.2 541.1 L541.9 541.7 L543.5 542.4 L545.0 543.2 L546.4 544.3 L547.7 545.4 L548.9 546.7 L549.9 548.1 L550.8 549.6 L551.5 551.3 L553.0 552.2 L554.2 553.5 L555.3 554.8 L556.3 556.2 L557.2 557.8 L557.8 559.4 L558.4 561.0 L558.7 562.7 L558.9 564.5 L558.7 566.3 L559.6 567.8 L560.2 569.4 L560.7 571.1 L560.9 572.9Z" fill="url(#g11)"/>
</g>
<path d="M550.9 581.2L558.9 583.0M545.3 593.0L551.6 598.1M535.0 601.2L538.5 608.5M522.2 604.1L522.2 612.2M509.4 601.2L505.9 608.5M499.1 593.0L492.8 598.1M493.5 581.2L485.5 583.0M493.5 568.0L485.5 566.2M499.1 556.2L492.8 551.1M509.4 548.0L505.9 540.7M522.2 545.1L522.2 537.0M535.0 548.0L538.5 540.7M545.3 556.2L551.6 551.1M550.9 568.0L558.9 566.2" stroke="#70687c" stroke-opacity="0.3" stroke-width="1.0" fill="none" stroke-linecap="round" filter="url(#b10)"/>
<g filter="url(#wob)"><path d="M534.3 568.6h.01M526.7 594.3h.01M508.8 559.1h.01M526.5 573.3h.01M518.4 585.0h.01M510.0 567.0h.01M519.2 567.4h.01M502.2 573.0h.01M508.3 560.7h.01M530.6 592.7h.01M509.3 577.1h.01M529.2 573.4h.01M536.5 584.8h.01M507.8 583.2h.01M527.3 582.7h.01M535.7 581.0h.01M505.8 573.1h.01M527.8 569.1h.01M524.3 578.5h.01M525.8 594.2h.01M508.9 569.4h.01M507.7 575.1h.01M506.7 576.3h.01M524.3 569.8h.01M533.4 578.1h.01M527.7 561.7h.01M505.4 579.2h.01M525.1 589.5h.01M512.0 588.6h.01M526.0 578.7h.01M519.5 568.5h.01M522.9 553.9h.01M528.4 582.8h.01M507.1 589.9h.01M514.1 570.7h.01M505.5 570.2h.01M517.3 588.6h.01M507.3 578.7h.01M505.0 580.4h.01M535.3 573.5h.01M522.5 567.3h.01M527.0 561.2h.01M505.3 567.1h.01M524.4 591.6h.01M522.1 571.8h.01M530.8 581.8h.01M505.5 563.9h.01M518.3 574.1h.01M528.1 567.9h.01M532.8 570.4h.01M537.4 582.7h.01M536.0 571.7h.01M532.6 589.8h.01M520.2 587.8h.01M516.6 570.9h.01M526.0 592.5h.01M532.7 562.1h.01M532.1 592.9h.01M527.3 571.4h.01M528.5 585.5h.01M520.4 594.2h.01M515.4 557.2h.01M510.7 577.5h.01M526.3 563.5h.01M520.5 586.2h.01M518.8 594.7h.01M507.7 573.2h.01M522.0 575.6h.01M541.0 572.4h.01M509.5 576.5h.01M517.0 575.0h.01M509.0 574.4h.01M517.5 585.7h.01M525.8 553.9h.01M534.1 580.2h.01M526.3 577.5h.01M515.3 570.7h.01M533.1 586.2h.01M512.3 556.5h.01M536.9 563.3h.01M532.3 567.5h.01M540.5 562.8h.01M525.0 570.8h.01M539.3 588.2h.01M530.4 555.8h.01M521.2 570.8h.01M522.1 555.4h.01M527.4 573.6h.01M527.4 577.6h.01M500.9 577.1h.01M514.9 580.3h.01M520.2 591.9h.01M512.7 555.8h.01M513.0 584.8h.01M529.7 573.9h.01M533.4 569.8h.01M506.5 570.8h.01M513.0 574.4h.01M515.7 576.8h.01M537.6 566.9h.01M526.5 584.0h.01M535.4 589.0h.01M512.6 575.9h.01M536.6 574.0h.01M526.1 570.5h.01M531.9 586.0h.01M531.2 568.8h.01M514.0 578.9h.01M517.9 575.0h.01M520.6 556.3h.01M510.7 580.4h.01M536.5 560.7h.01M536.0 579.6h.01M510.3 592.3h.01M536.7 579.0h.01M524.7 576.7h.01M521.1 590.8h.01M534.1 590.1h.01M539.8 577.0h.01M534.5 569.9h.01M517.8 584.9h.01M524.9 571.8h.01M522.2 590.0h.01M520.4 591.0h.01M503.7 584.0h.01M523.3 580.2h.01M522.6 569.5h.01M515.2 575.3h.01M536.3 584.1h.01M510.0 561.9h.01M541.8 566.4h.01M500.7 571.0h.01M508.3 581.1h.01M515.6 570.1h.01M500.2 574.1h.01M520.4 594.8h.01M510.3 580.8h.01M507.4 590.4h.01M533.6 590.0h.01M503.3 577.8h.01M544.0 576.9h.01M530.7 567.3h.01M519.6 589.0h.01M503.8 583.7h.01M502.4 568.8h.01M526.6 577.8h.01M539.7 563.9h.01M531.2 574.3h.01M502.5 570.3h.01M503.2 571.0h.01M521.1 578.5h.01M532.3 566.7h.01M518.4 563.7h.01M535.1 586.4h.01M508.0 570.0h.01M510.9 589.5h.01M529.6 554.0h.01M524.7 572.2h.01M538.2 568.2h.01M523.7 564.2h.01M507.2 585.6h.01M511.7 566.8h.01M513.7 554.6h.01M515.3 558.4h.01M505.1 563.9h.01M540.2 578.9h.01M542.1 569.9h.01M507.2 567.2h.01M502.7 566.1h.01M502.3 568.5h.01M536.6 566.3h.01M504.8 562.6h.01M506.9 569.4h.01M511.9 585.6h.01M519.7 584.8h.01M531.9 570.9h.01M532.2 564.7h.01M537.3 574.2h.01M512.9 588.8h.01M520.6 588.9h.01M519.3 586.9h.01M513.5 582.3h.01M525.5 573.4h.01M511.5 591.2h.01M541.4 580.7h.01M507.7 565.3h.01M542.7 572.0h.01M530.5 559.6h.01M537.6 584.7h.01M527.7 579.3h.01M503.4 578.0h.01M509.1 574.7h.01M501.0 576.9h.01M508.8 589.5h.01M525.4 557.1h.01M530.2 569.6h.01M527.6 582.7h.01M524.4 596.1h.01M535.6 569.3h.01M516.8 566.1h.01M538.6 583.4h.01M529.6 573.7h.01M512.3 557.2h.01M504.7 575.6h.01M542.9 577.8h.01M519.6 586.0h.01M538.6 568.0h.01M530.6 581.6h.01M528.8 566.0h.01M532.8 588.3h.01M506.7 584.7h.01M520.0 579.4h.01M541.6 568.4h.01M524.8 561.1h.01M538.9 587.8h.01M517.4 582.9h.01M514.1 564.9h.01M529.3 595.3h.01M510.7 573.6h.01M533.4 589.7h.01M510.2 563.2h.01M510.4 589.9h.01M511.2 568.8h.01M509.4 579.0h.01M541.3 571.4h.01M532.2 594.1h.01M506.6 570.3h.01M527.5 590.0h.01M512.3 582.3h.01M512.6 575.4h.01M511.0 556.9h.01M522.2 583.3h.01M528.3 562.8h.01M525.5 576.6h.01M508.8 589.7h.01M513.1 572.2h.01M521.2 570.3h.01M541.5 582.1h.01M536.6 567.8h.01M518.7 586.4h.01M542.9 574.8h.01M518.5 571.9h.01M504.2 565.9h.01M506.6 584.0h.01M513.6 594.4h.01M529.8 589.3h.01M513.2 566.5h.01M522.4 568.7h.01M524.8 564.1h.01M516.6 568.7h.01M522.7 590.1h.01M515.0 556.5h.01M508.9 570.3h.01M523.6 560.3h.01M526.0 575.9h.01M537.5 581.0h.01M538.1 561.5h.01M526.6 584.3h.01M540.9 583.1h.01M534.1 584.8h.01M503.0 585.1h.01M517.9 592.1h.01M519.4 554.2h.01M523.6 575.4h.01M516.7 585.4h.01M519.6 572.1h.01M518.8 573.7h.01M518.6 593.3h.01M529.8 565.2h.01M524.2 555.4h.01M522.0 581.5h.01M508.9 575.3h.01M537.7 563.4h.01M537.3 581.7h.01M519.0 576.9h.01M541.2 584.4h.01M543.9 576.5h.01M518.9 575.2h.01M519.1 579.5h.01M543.7 570.9h.01M513.9 556.9h.01M511.5 582.1h.01M513.6 588.1h.01M527.1 591.4h.01M509.2 583.6h.01M526.2 581.5h.01M512.5 585.8h.01M534.4 568.4h.01M513.9 582.8h.01M535.0 570.3h.01M521.7 552.7h.01M520.8 574.4h.01M522.5 596.1h.01M513.9 557.3h.01M537.4 569.0h.01M533.4 571.9h.01M529.4 565.0h.01M505.6 566.9h.01M530.3 586.8h.01M531.4 565.6h.01M532.7 587.0h.01M505.5 572.4h.01M538.5 561.9h.01M534.2 591.4h.01M506.5 574.8h.01M532.0 563.9h.01M537.1 590.0h.01M505.4 584.8h.01M536.0 576.8h.01M510.3 564.3h.01M534.4 588.5h.01M510.7 571.9h.01M530.3 566.6h.01M536.6 577.5h.01M530.2 588.7h.01M506.5 585.0h.01M533.4 592.4h.01M515.0 557.7h.01M529.3 563.3h.01M541.5 569.2h.01M526.7 591.1h.01M530.5 592.8h.01M516.2 592.3h.01M516.1 586.9h.01M533.7 561.7h.01M542.2 576.4h.01M515.5 555.4h.01M531.9 565.2h.01M528.7 565.1h.01M516.1 554.0h.01M513.3 583.9h.01M511.5 579.9h.01M527.9 568.2h.01M524.6 587.3h.01M514.0 569.0h.01M523.7 569.5h.01M514.5 593.4h.01M531.2 572.7h.01M536.2 572.6h.01M511.8 559.6h.01M536.8 582.3h.01M521.9 566.2h.01M517.6 586.9h.01M522.2 595.9h.01M507.0 578.5h.01M529.6 593.4h.01M515.4 585.3h.01M513.8 576.3h.01M522.0 555.5h.01M515.7 563.9h.01M511.4 585.4h.01M507.2 562.9h.01M517.2 580.4h.01M517.9 591.8h.01M528.0 590.7h.01M525.3 585.6h.01M502.7 578.8h.01M516.0 570.4h.01M532.0 576.3h.01M540.7 585.4h.01M505.2 587.7h.01M527.0 568.7h.01M509.1 562.6h.01M530.2 572.0h.01M502.6 570.0h.01M536.3 573.8h.01M512.0 593.3h.01M508.5 570.2h.01M540.2 574.1h.01M525.9 593.6h.01M529.2 576.5h.01M528.1 579.0h.01M509.2 571.4h.01M508.3 567.0h.01M541.3 575.5h.01M533.9 589.0h.01M534.7 560.3h.01M517.4 569.8h.01M513.9 572.3h.01M520.4 565.1h.01" fill="none" stroke="#7c2048" stroke-width="0.95" stroke-opacity="0.7" stroke-linecap="round" filter="url(#b4)"/>
<path d="M533.7 571.5 L531.5 572.0 L529.9 570.6 L527.9 571.5 L525.8 570.7M538.5 583.3 L538.6 581.1 L537.9 579.0M508.8 574.2 L507.4 572.5 L505.2 572.1 L503.3 571.0M538.4 571.3 L540.0 572.8 L541.6 574.3M503.2 576.0 L505.3 576.3 L506.5 574.5 L508.6 573.8M535.7 576.4 L537.8 575.7 L539.5 577.1 L538.6 579.1M506.7 566.1 L504.9 564.8M508.8 583.0 L510.4 584.5 L512.3 585.6 L514.1 586.8M515.1 577.9 L514.3 579.9 L512.9 581.6 L510.7 582.1 L508.6 581.6M520.2 588.3 L518.5 587.0 L517.2 585.2 L516.6 583.1 L518.0 581.4M506.0 569.7 L508.0 570.6 L507.5 572.8M511.2 569.3 L510.0 571.2 L507.8 570.6M518.7 586.7 L520.5 585.5 L522.1 583.9 L521.3 581.8M515.7 565.9 L515.1 568.0 L515.3 570.2 L517.3 571.2M520.1 583.4 L520.9 581.3 L519.6 579.6M525.4 574.4 L525.1 576.6 L526.1 578.5 L527.2 580.4 L529.4 580.1M522.9 570.1 L521.2 568.6 L522.3 566.7 L524.3 565.9 L525.7 567.6M518.5 577.7 L517.4 575.8 L517.1 573.6 L514.9 573.5 L514.1 575.5M524.6 560.3 L526.5 559.2 L526.7 557.1M512.5 564.1 L514.6 563.8 L516.0 562.1 L514.7 560.3M512.9 590.9 L515.1 591.0 L517.0 592.1 L518.8 590.8M523.4 568.3 L523.2 570.5 L522.5 572.6 L523.8 574.4 L523.6 576.6M508.6 576.5 L508.8 578.7 L507.7 580.6M522.7 582.9 L522.1 585.0 L520.1 585.9 L518.5 584.5M523.9 582.5 L524.8 584.5 L525.9 586.5 L526.1 588.6M528.6 557.6 L530.3 559.0 L532.4 558.6M508.6 588.7 L508.9 586.6 L508.1 584.5 L509.1 582.5 L507.5 581.0M526.2 586.1 L524.7 584.4 L522.8 583.3 L520.7 583.9M518.3 570.0 L516.8 568.4 L517.3 566.2 L517.9 564.1M539.7 582.3 L537.5 582.5 L535.8 581.0 L533.6 580.8 L533.1 578.7M522.0 573.8 L520.3 572.4 L518.8 570.8 L516.9 571.8M505.7 577.6 L503.5 577.2M525.8 587.3 L524.3 588.9 L522.3 589.7 L520.8 588.0 L521.4 585.9M510.3 590.2 L510.5 588.0 L508.8 586.6M522.4 563.3 L523.1 565.4 L524.9 566.7 L526.7 565.4M533.8 586.0 L535.1 587.8M512.3 575.8 L510.6 574.5 L508.5 573.8 L506.5 574.7M534.7 580.8 L532.9 582.1 L530.9 581.2M513.6 569.6 L515.0 567.8 L517.1 568.3 L519.2 569.1" fill="none" stroke="#e896ac" stroke-width="0.7" stroke-opacity="0.5" stroke-linecap="round" stroke-linejoin="round" filter="url(#b4)"/></g>
<g filter="url(#b7)">
<path d="M664.0 574.9 L663.0 576.3 L662.0 577.5 L661.0 578.7 L661.7 580.1 L663.1 581.8 L662.9 583.2 L661.4 584.1 L660.7 585.3 L659.3 586.1 L660.2 588.0 L660.6 589.7 L660.0 591.0 L658.3 591.5 L657.1 592.2 L656.1 593.1 L656.4 595.1 L655.1 595.7 L655.0 597.5 L653.0 597.3 L651.2 597.1 L650.7 598.5 L650.5 600.5 L649.7 601.8 L648.1 601.8 L646.9 602.2 L644.8 600.6 L644.4 602.9 L643.3 603.5 L642.2 604.6 L640.8 604.3 L639.4 603.6 L637.9 602.1 L636.9 604.4 L635.7 605.4 L634.4 606.1 L633.1 605.8 L631.9 604.2 L630.8 603.1 L629.4 603.8 L627.8 605.2 L626.7 604.3 L625.3 604.3 L624.6 602.2 L623.8 601.0 L622.0 601.9 L620.8 601.4 L619.6 600.9 L618.5 600.2 L618.0 598.6 L617.7 597.0 L615.6 597.5 L614.3 597.0 L613.0 596.4 L612.4 595.1 L613.4 592.5 L612.0 592.0 L610.8 591.3 L609.0 590.9 L608.3 589.7 L608.5 588.0 L609.4 586.1 L608.8 585.0 L607.4 584.1 L606.5 583.0 L606.5 581.6 L607.0 580.1 L607.4 578.7 L606.6 577.5 L604.9 576.3 L604.8 574.9 L605.1 573.5 L605.9 572.2 L607.7 571.1 L606.7 569.6 L606.1 568.1 L606.3 566.7 L607.4 565.7 L608.8 564.8 L609.4 563.7 L608.7 561.9 L608.2 560.1 L609.2 559.0 L610.1 558.0 L612.0 557.8 L612.9 556.9 L612.6 554.8 L613.7 554.1 L614.6 553.1 L615.6 552.3 L617.5 552.6 L618.2 551.5 L618.8 550.1 L619.6 548.8 L620.8 548.3 L622.0 547.8 L624.0 549.2 L624.8 548.0 L625.4 545.8 L626.6 545.3 L628.1 545.7 L629.3 545.1 L630.8 547.1 L631.8 544.9 L633.1 544.3 L634.4 544.0 L635.7 544.6 L636.9 546.0 L638.1 546.5 L639.4 545.7 L640.8 545.3 L642.1 545.6 L643.4 545.9 L644.4 546.9 L645.0 548.8 L646.9 547.6 L648.3 547.7 L649.4 548.5 L650.3 549.5 L650.8 551.1 L651.8 552.0 L652.9 552.7 L654.3 553.0 L655.3 553.9 L655.6 555.4 L655.6 557.1 L656.7 557.9 L658.1 558.4 L659.5 559.1 L659.6 560.7 L660.5 561.7 L659.5 563.6 L660.1 564.8 L661.6 565.6 L662.9 566.6 L662.4 568.2 L662.5 569.5 L660.3 571.2 L662.5 572.2 L663.6 573.5Z" fill="url(#g12)"/>
</g>
<g filter="url(#b7)">
<path d="M140.5 679.5 L140.4 681.1 L139.9 682.7 L139.1 684.2 L139.3 685.9 L139.4 687.5 L139.2 689.2 L138.7 690.7 L137.9 692.2 L136.9 693.5 L136.2 694.9 L135.9 696.5 L135.3 698.1 L134.5 699.5 L133.4 700.7 L132.1 701.8 L130.7 702.6 L130.1 704.3 L129.2 705.6 L128.1 706.8 L126.8 707.8 L125.3 708.5 L123.7 709.0 L122.5 710.1 L121.3 711.3 L119.9 712.2 L118.5 712.8 L116.9 713.2 L115.2 713.3 L113.6 713.6 L112.2 714.5 L110.7 715.1 L109.1 715.5 L107.4 715.5 L105.8 715.2 L104.2 714.5 L102.6 715.2 L101.0 715.5 L99.3 715.5 L97.7 715.1 L96.2 714.5 L94.8 713.6 L93.2 713.3 L91.5 713.2 L89.9 712.8 L88.5 712.2 L87.1 711.3 L85.9 710.1 L84.7 709.0 L83.1 708.5 L81.6 707.8 L80.3 706.8 L79.2 705.6 L78.3 704.3 L77.7 702.6 L76.3 701.8 L75.0 700.7 L73.9 699.5 L73.1 698.1 L72.5 696.5 L72.2 694.9 L71.5 693.5 L70.5 692.2 L69.7 690.7 L69.2 689.2 L69.0 687.5 L69.1 685.9 L69.3 684.2 L68.5 682.7 L68.0 681.1 L67.9 679.5 L68.0 677.9 L68.5 676.3 L69.3 674.8 L69.1 673.1 L69.0 671.5 L69.2 669.8 L69.7 668.3 L70.5 666.8 L71.5 665.5 L72.2 664.1 L72.5 662.5 L73.1 660.9 L73.9 659.5 L75.0 658.3 L76.3 657.2 L77.7 656.4 L78.3 654.7 L79.2 653.4 L80.3 652.2 L81.6 651.2 L83.1 650.5 L84.7 650.0 L85.9 648.9 L87.1 647.7 L88.5 646.8 L89.9 646.2 L91.5 645.8 L93.2 645.7 L94.8 645.4 L96.2 644.5 L97.7 643.9 L99.3 643.5 L101.0 643.5 L102.6 643.8 L104.2 644.5 L105.8 643.8 L107.4 643.5 L109.1 643.5 L110.7 643.9 L112.2 644.5 L113.6 645.4 L115.2 645.7 L116.9 645.8 L118.5 646.2 L119.9 646.8 L121.3 647.7 L122.5 648.9 L123.7 650.0 L125.3 650.5 L126.8 651.2 L128.1 652.2 L129.2 653.4 L130.1 654.7 L130.7 656.4 L132.1 657.2 L133.4 658.3 L134.5 659.5 L135.3 660.9 L135.9 662.5 L136.2 664.1 L136.9 665.5 L137.9 666.8 L138.7 668.3 L139.2 669.8 L139.4 671.5 L139.3 673.1 L139.1 674.8 L139.9 676.3 L140.4 677.9Z" fill="url(#g13)"/>
</g>
<path d="M125.8 682.6L139.1 684.5M124.0 688.5L136.2 694.1M120.7 693.8L130.8 702.6M116.0 697.8L123.2 709.1M110.3 700.4L114.1 713.3M104.2 701.3L104.2 714.7M98.1 700.4L94.3 713.3M92.4 697.8L85.2 709.1M87.7 693.8L77.6 702.6M84.4 688.5L72.2 694.1M82.6 682.6L69.3 684.5M82.6 676.4L69.3 674.5M84.4 670.5L72.2 664.9M87.7 665.2L77.6 656.4M92.4 661.2L85.2 649.9M98.1 658.6L94.3 645.7M104.2 657.7L104.2 644.3M110.3 658.6L114.1 645.7M116.0 661.2L123.2 649.9M120.7 665.2L130.8 656.4M124.0 670.5L136.2 664.9M125.8 676.4L139.1 674.5" stroke="#505c5c" stroke-opacity="0.35" stroke-width="1.0" fill="none" stroke-linecap="round" filter="url(#b10)"/>
<g filter="url(#wob)"><path d="M105.2 680.1 L106.1 682.2 L104.4 683.6 L102.5 684.8 L100.3 684.8M108.1 679.0 L109.6 677.4 L111.3 675.9M98.7 682.9 L99.7 680.9 L101.8 680.2M106.7 680.2 L108.8 680.8 L109.5 682.9M105.7 674.9 L104.5 673.1 L105.1 671.0M103.8 686.3 L103.9 688.5M106.9 684.4 L107.2 682.2 L106.3 680.2 L104.2 679.7 L103.1 681.6M98.1 685.7 L100.0 684.6 L101.8 685.8 L103.0 687.7M100.1 680.6 L100.2 678.4 L98.2 677.7 L96.9 675.9M108.0 675.7 L105.8 675.6 L104.5 677.4M100.7 683.2 L99.5 681.4 L100.3 679.3 L101.0 677.3 L103.1 676.4M96.6 679.5 L96.2 677.4 L97.4 675.5M98.6 687.5 L100.7 688.1 L102.9 688.5M101.1 677.9 L101.6 675.8 L103.5 674.6 L105.1 676.1 L104.8 678.3M106.7 674.4 L107.9 676.2 L107.5 678.4 L105.7 679.7M100.8 670.4 L99.3 671.9 L97.2 672.6M101.1 688.2 L100.3 686.2 L101.5 684.3 L100.0 682.7M110.6 674.6 L110.9 676.8 L110.0 678.8M108.9 680.4 L108.1 682.4 L109.0 684.4 L110.7 685.8M105.2 673.4 L105.4 675.6 L104.4 677.5M102.6 679.6 L100.5 680.3 L99.3 678.5 L97.3 677.7M103.3 684.5 L105.2 683.5 L106.9 682.0M105.3 688.2 L103.8 686.6 L101.6 686.0 L100.2 687.7M101.4 682.5 L99.8 681.0 L98.2 679.4 L98.8 677.3M100.2 683.0 L101.5 681.2 L103.6 680.8 L103.9 678.6 L104.5 676.5M105.1 689.2 L107.0 688.2 L108.4 686.5 L110.4 687.4M112.7 682.8 L111.2 684.4 L110.1 686.3 L108.0 687.0M106.1 674.1 L108.2 673.4 L110.1 672.4M108.1 679.9 L107.5 677.8 L108.3 675.8 L110.0 674.4M104.1 678.9 L106.0 677.7 L106.1 675.5 L104.1 674.4 L104.0 672.3M102.2 678.4 L104.4 677.9 L105.4 676.0 L104.8 673.8M106.0 677.6 L104.2 678.9 L102.0 678.6 L100.7 680.3 L98.6 679.4M112.9 677.0 L110.7 677.2 L108.5 677.0 L107.1 675.4" fill="none" stroke="#76204a" stroke-width="1.0" stroke-opacity="0.85" stroke-linecap="round" stroke-linejoin="round" filter="url(#b4)"/></g>
<g filter="url(#b7)">
<ellipse cx="212.8" cy="701.5" rx="13.5" ry="7.2" fill="#a4d0e2"/><ellipse cx="192" cy="692.5" rx="5" ry="5.5" fill="#78c4ec"/>
<path d="M232.0 680.0 L232.0 681.0 L231.9 682.1 L231.8 683.1 L231.6 684.2 L231.4 685.2 L231.2 686.2 L230.9 687.2 L230.5 688.2 L230.1 689.2 L229.7 690.2 L229.2 691.1 L228.7 692.0 L228.1 692.9 L227.5 693.8 L226.9 694.6 L226.2 695.4 L225.5 696.2 L224.8 696.9 L224.0 697.6 L223.2 698.3 L222.4 698.9 L221.5 699.5 L220.6 700.1 L219.7 700.6 L218.8 701.1 L217.8 701.5 L216.8 701.9 L215.8 702.3 L214.8 702.6 L213.8 702.8 L212.8 703.0 L211.7 703.2 L210.7 703.3 L209.6 703.4 L208.6 703.4 L207.6 703.4 L206.5 703.3 L205.5 703.2 L204.4 703.0 L203.4 702.8 L202.4 702.6 L201.4 702.3 L200.4 701.9 L199.4 701.5 L198.4 701.1 L197.5 700.6 L196.6 700.1 L195.7 699.5 L194.8 698.9 L194.0 698.3 L193.2 697.6 L192.4 696.9 L191.7 696.2 L191.0 695.4 L190.3 694.6 L189.7 693.8 L189.1 692.9 L188.5 692.0 L188.0 691.1 L187.5 690.2 L187.1 689.2 L186.7 688.2 L186.3 687.2 L186.0 686.2 L185.8 685.2 L185.6 684.2 L185.4 683.1 L185.3 682.1 L185.2 681.0 L185.2 680.0 L185.2 679.0 L185.3 677.9 L185.4 676.9 L185.6 675.8 L185.8 674.8 L186.0 673.8 L186.3 672.8 L186.7 671.8 L187.1 670.8 L187.5 669.8 L188.0 668.9 L188.5 668.0 L189.1 667.1 L189.7 666.2 L190.3 665.4 L191.0 664.6 L191.7 663.8 L192.4 663.1 L193.2 662.4 L194.0 661.7 L194.8 661.1 L195.7 660.5 L196.6 659.9 L197.5 659.4 L198.4 658.9 L199.4 658.5 L200.4 658.1 L201.4 657.7 L202.4 657.4 L203.4 657.2 L204.4 657.0 L205.5 656.8 L206.5 656.7 L207.6 656.6 L208.6 656.6 L209.6 656.6 L210.7 656.7 L211.7 656.8 L212.8 657.0 L213.8 657.2 L214.8 657.4 L215.8 657.7 L216.8 658.1 L217.8 658.5 L218.8 658.9 L219.7 659.4 L220.6 659.9 L221.5 660.5 L222.4 661.1 L223.2 661.7 L224.0 662.4 L224.8 663.1 L225.5 663.8 L226.2 664.6 L226.9 665.4 L227.5 666.2 L228.1 667.1 L228.7 668.0 L229.2 668.9 L229.7 669.8 L230.1 670.8 L230.5 671.8 L230.9 672.8 L231.2 673.8 L231.4 674.8 L231.6 675.8 L231.8 676.9 L231.9 677.9 L232.0 679.0Z" fill="url(#g14)"/>
</g>
<g filter="url(#wob)"><g fill="#e0406a" filter="url(#b4)"><circle cx="205.5" cy="669.6" r="0.9"/><circle cx="214.6" cy="669.3" r="1.0"/><circle cx="209.2" cy="687.1" r="1.4"/><circle cx="196.2" cy="679.2" r="0.6"/><circle cx="220" cy="682" r="0.5"/></g></g>
<g filter="url(#b6)">
<path d="M355.3 677.9 L355.3 679.7 L355.1 681.5 L354.9 683.3 L354.6 685.1 L354.3 686.9 L353.8 688.6 L353.3 690.4 L352.7 692.1 L352.0 693.8 L351.2 695.4 L350.4 697.0 L349.5 698.6 L348.5 700.2 L347.5 701.6 L346.4 703.1 L345.2 704.5 L344.0 705.8 L342.7 707.1 L341.3 708.3 L339.9 709.5 L338.4 710.6 L336.9 711.6 L335.4 712.6 L333.8 713.5 L332.1 714.3 L330.5 715.0 L328.8 715.7 L327.0 716.3 L325.3 716.8 L323.5 717.3 L321.7 717.7 L319.9 717.9 L318.1 718.1 L316.2 718.3 L314.4 718.3 L312.6 718.3 L310.7 718.1 L308.9 717.9 L307.1 717.7 L305.3 717.3 L303.5 716.8 L301.8 716.3 L300.0 715.7 L298.3 715.0 L296.7 714.3 L295.0 713.5 L293.4 712.6 L291.9 711.6 L290.4 710.6 L288.9 709.5 L287.5 708.3 L286.1 707.1 L284.8 705.8 L283.6 704.5 L282.4 703.1 L281.3 701.6 L280.3 700.2 L279.3 698.6 L278.4 697.0 L277.6 695.4 L276.8 693.8 L276.1 692.1 L275.5 690.4 L275.0 688.6 L274.5 686.9 L274.2 685.1 L273.9 683.3 L273.7 681.5 L273.5 679.7 L273.5 677.9 L273.5 676.1 L273.7 674.3 L273.9 672.5 L274.2 670.7 L274.5 668.9 L275.0 667.2 L275.5 665.4 L276.1 663.7 L276.8 662.0 L277.6 660.4 L278.4 658.8 L279.3 657.2 L280.3 655.6 L281.3 654.2 L282.4 652.7 L283.6 651.3 L284.8 650.0 L286.1 648.7 L287.5 647.5 L288.9 646.3 L290.4 645.2 L291.9 644.2 L293.4 643.2 L295.0 642.3 L296.7 641.5 L298.3 640.8 L300.0 640.1 L301.8 639.5 L303.5 639.0 L305.3 638.5 L307.1 638.1 L308.9 637.9 L310.7 637.7 L312.6 637.5 L314.4 637.5 L316.2 637.5 L318.1 637.7 L319.9 637.9 L321.7 638.1 L323.5 638.5 L325.3 639.0 L327.0 639.5 L328.8 640.1 L330.5 640.8 L332.1 641.5 L333.8 642.3 L335.4 643.2 L336.9 644.2 L338.4 645.2 L339.9 646.3 L341.3 647.5 L342.7 648.7 L344.0 650.0 L345.2 651.3 L346.4 652.7 L347.5 654.2 L348.5 655.6 L349.5 657.2 L350.4 658.8 L351.2 660.4 L352.0 662.0 L352.7 663.7 L353.3 665.4 L353.8 667.2 L354.3 668.9 L354.6 670.7 L354.9 672.5 L355.1 674.3 L355.3 676.1Z" fill="url(#g15)"/>
</g>
<g filter="url(#wob)"><path d="M316.7 677.9 L316.4 678.4 L316.4 678.9 L316.6 679.6 L316.3 680.3 L315.6 680.5 L315.0 680.4 L314.4 680.3 L313.8 680.4 L313.2 680.4 L312.7 680.0 L312.6 679.4 L312.5 678.8 L312.0 678.4 L311.5 677.9 L311.3 677.2 L311.8 676.6 L312.5 676.4 L313.0 676.2 L313.4 675.8 L313.8 675.3 L314.4 675.1 L315.0 675.4 L315.4 675.7 L316.0 675.9 L316.6 676.1 L317.1 676.6 L317.1 677.3ZM324.2 677.9 L324.6 679.0 L324.8 680.1 L324.2 681.1 L323.2 681.8 L322.5 682.6 L322.3 683.7 L322.0 684.7 L321.1 685.3 L320.0 685.6 L319.1 686.1 L318.5 687.1 L317.7 688.0 L316.6 688.2 L315.4 687.8 L314.4 687.7 L313.3 688.1 L312.2 688.3 L311.2 687.7 L310.5 686.7 L309.7 686.0 L308.6 685.8 L307.6 685.5 L307.0 684.6 L306.7 683.5 L306.2 682.6 L305.2 682.0 L304.3 681.2 L304.1 680.1 L304.5 678.9 L304.6 677.9 L304.2 676.8 L304.0 675.7 L304.6 674.7 L305.6 674.0 L306.3 673.2 L306.5 672.1 L306.8 671.1 L307.7 670.5 L308.8 670.2 L309.7 669.7 L310.3 668.7 L311.1 667.8 L312.2 667.6 L313.4 668.0 L314.4 668.1 L315.5 667.7 L316.6 667.5 L317.6 668.1 L318.3 669.1 L319.1 669.8 L320.2 670.0 L321.2 670.3 L321.8 671.2 L322.1 672.3 L322.6 673.2 L323.6 673.8 L324.5 674.6 L324.7 675.7 L324.3 676.9Z" fill="none" stroke="#701840" stroke-width="0.9" stroke-opacity="0.8" stroke-linejoin="round" filter="url(#b4)"/>
<path d="M320.1 677.9 L320.1 678.9 L320.5 680.1 L320.5 681.3 L319.7 682.2 L318.6 682.6 L317.6 683.0 L316.8 683.7 L315.8 684.4 L314.7 684.4 L313.7 683.7 L312.8 683.2 L311.8 683.1 L310.5 683.1 L309.5 682.6 L309.0 681.6 L308.8 680.4 L308.4 679.5 L307.7 678.5 L307.5 677.3 L308.1 676.3 L309.1 675.5 L309.8 674.8 L310.1 673.7 L310.5 672.7 L311.5 672.1 L312.6 672.1 L313.6 672.0 L314.7 671.5 L315.9 671.1 L317.0 671.4 L317.8 672.4 L318.3 673.5 L319.0 674.2 L319.9 674.8 L320.5 675.7 L320.4 676.9Z" fill="none" stroke="#dc7494" stroke-width="1.3" stroke-opacity="0.85" stroke-linejoin="round" filter="url(#b4)"/>
<path d="M328.4 677.9 L329.0 679.0 L329.4 680.2 L329.6 681.4 L329.4 682.5 L328.8 683.6 L327.9 684.4 L326.8 685.1 L325.6 685.6 L324.6 686.0 L323.7 686.6 L323.0 687.2 L322.5 688.0 L322.0 689.0 L321.3 689.9 L320.6 690.8 L319.7 691.3 L318.6 691.6 L317.5 691.6 L316.4 691.3 L315.4 691.0 L314.4 690.7 L313.4 690.7 L312.5 690.8 L311.4 691.1 L310.2 691.5 L308.9 691.8 L307.7 691.8 L306.5 691.5 L305.6 690.8 L304.9 689.8 L304.4 688.7 L304.1 687.5 L303.8 686.4 L303.4 685.4 L302.9 684.5 L302.2 683.8 L301.5 683.0 L300.7 682.1 L300.2 681.2 L299.9 680.1 L300.0 679.0 L300.4 677.9 L301.0 676.9 L301.7 676.0 L302.3 675.1 L302.6 674.3 L302.7 673.3 L302.7 672.3 L302.5 671.1 L302.5 669.8 L302.7 668.6 L303.2 667.5 L304.0 666.7 L305.0 666.1 L306.2 665.8 L307.3 665.7 L308.4 665.5 L309.4 665.3 L310.4 664.9 L311.3 664.3 L312.2 663.6 L313.3 663.1 L314.4 662.7 L315.5 662.7 L316.6 663.1 L317.6 663.8 L318.5 664.8 L319.2 665.7 L319.8 666.6 L320.5 667.3 L321.4 667.7 L322.3 667.9 L323.5 668.1 L324.6 668.4 L325.7 668.9 L326.6 669.6 L327.2 670.5 L327.4 671.6 L327.5 672.8 L327.5 673.9 L327.5 674.9 L327.6 675.9 L327.9 676.9Z" fill="none" stroke="#ec88a0" stroke-width="2.0" stroke-opacity="0.95" stroke-linejoin="round" filter="url(#b5)"/>
<path d="M329.1 680.8 L331.4 675.6 L333.4 680.9 L335.6 675.7 L337.7 681.0 L339.9 675.8 L341.9 681.0M328.0 684.2 L331.8 679.9 L332.8 685.5 L336.6 681.2 L337.6 686.8 L341.4 682.4 L342.4 688.1M325.9 687.6 L330.2 684.1 L329.3 689.6 L333.6 686.1 L332.7 691.5 L337.0 688.0 L336.0 693.5M322.3 690.7 L327.6 688.8 L325.2 693.9 L330.5 692.0 L328.0 697.1 L333.3 695.3 L330.9 700.3M319.9 691.9 L325.3 690.7 L321.8 695.0 L327.2 693.8 L323.7 698.1 L329.1 696.9 L325.6 701.2M315.7 692.8 L321.1 693.0 L316.5 695.9 L322.0 696.0 L317.4 698.9 L322.8 699.1 L318.2 701.9M311.6 692.6 L316.7 695.0 L311.5 697.2 L316.7 699.5 L311.5 701.7 L316.6 704.0 L311.4 706.2M308.2 691.6 L312.6 695.2 L307.0 696.2 L311.5 699.7 L305.8 700.7 L310.3 704.3 L304.7 705.3M304.1 688.8 L307.3 693.4 L301.9 692.3 L305.1 696.9 L299.6 695.8 L302.8 700.4 L297.3 699.2M301.9 686.2 L304.3 691.1 L299.5 688.5 L301.9 693.4 L297.2 690.7 L299.6 695.6 L294.8 693.0M300.6 683.9 L301.4 689.6 L296.4 686.6 L297.2 692.3 L292.3 689.3 L293.0 695.1 L288.1 692.1M299.5 679.6 L299.3 685.1 L296.2 680.6 L296.0 686.1 L292.9 681.6 L292.7 687.1 L289.6 682.6M299.8 674.5 L297.2 679.6 L295.2 674.3 L292.7 679.4 L290.7 674.1 L288.2 679.1 L286.2 673.8M300.5 672.3 L297.6 676.9 L296.9 671.5 L294.0 676.2 L293.3 670.7 L290.4 675.4 L289.7 669.9M302.6 668.7 L298.6 672.4 L299.4 667.0 L295.4 670.7 L296.3 665.3 L292.2 669.0 L293.1 663.6M305.0 666.2 L300.0 668.7 L301.9 663.5 L297.0 666.0 L298.9 660.8 L293.9 663.4 L295.8 658.1M308.9 663.9 L303.5 665.0 L306.9 660.7 L301.5 661.8 L304.9 657.4 L299.5 658.5 L302.9 654.2M312.5 663.0 L307.0 663.0 L311.5 659.9 L306.1 659.9 L310.5 656.8 L305.1 656.8 L309.6 653.7M316.1 663.0 L310.8 660.9 L315.8 658.2 L310.5 656.1 L315.5 653.4 L310.2 651.4 L315.2 648.7M321.2 664.5 L316.8 661.0 L322.4 660.5 L318.0 657.0 L323.6 656.6 L319.2 653.1 L324.8 652.6M323.5 665.9 L319.6 662.1 L325.0 663.0 L321.1 659.1 L326.5 660.0 L322.6 656.2 L328.0 657.1M326.2 668.7 L323.6 663.8 L328.7 666.0 L326.1 661.1 L331.2 663.2 L328.5 658.4 L333.6 660.5M328.2 671.9 L326.8 666.6 L331.2 670.0 L329.8 664.7 L334.2 668.0 L332.8 662.7 L337.2 666.1M329.3 676.0 L329.4 670.5 L332.6 675.0 L332.6 669.5 L335.8 674.0 L335.9 668.5 L339.1 673.0" fill="none" stroke="#de7696" stroke-width="1.5" stroke-opacity="0.8" stroke-linecap="round" stroke-linejoin="round" filter="url(#b6)"/></g>
<g filter="url(#b7)">
<path d="M455.5 679.1 L455.4 680.9 L455.0 682.6 L454.3 684.2 L454.0 685.9 L454.2 687.7 L454.0 689.5 L453.6 691.2 L452.9 692.8 L452.0 694.4 L450.9 695.7 L450.1 697.3 L449.7 699.0 L449.0 700.6 L448.1 702.1 L447.0 703.5 L445.7 704.6 L444.1 705.6 L442.9 706.8 L442.0 708.3 L440.9 709.7 L439.5 710.8 L438.1 711.7 L436.5 712.4 L434.7 712.8 L433.2 713.6 L431.9 714.8 L430.4 715.7 L428.8 716.4 L427.1 716.8 L425.3 716.9 L423.6 716.8 L421.9 717.1 L420.2 717.8 L418.5 718.2 L416.8 718.3 L415.1 718.2 L413.4 717.8 L411.7 717.1 L410.0 716.8 L408.3 716.9 L406.5 716.8 L404.8 716.4 L403.2 715.7 L401.7 714.8 L400.4 713.6 L398.9 712.8 L397.1 712.4 L395.5 711.7 L394.1 710.8 L392.7 709.7 L391.6 708.3 L390.7 706.8 L389.5 705.6 L387.9 704.6 L386.6 703.5 L385.5 702.1 L384.6 700.6 L383.9 699.0 L383.5 697.3 L382.7 695.7 L381.6 694.4 L380.7 692.8 L380.0 691.2 L379.6 689.5 L379.4 687.7 L379.6 685.9 L379.3 684.2 L378.6 682.6 L378.2 680.9 L378.1 679.1 L378.2 677.3 L378.6 675.6 L379.3 674.0 L379.6 672.3 L379.4 670.5 L379.6 668.7 L380.0 667.0 L380.7 665.4 L381.6 663.8 L382.7 662.5 L383.5 660.9 L383.9 659.2 L384.6 657.6 L385.5 656.1 L386.6 654.7 L387.9 653.6 L389.5 652.6 L390.7 651.4 L391.6 649.9 L392.7 648.5 L394.1 647.4 L395.5 646.5 L397.1 645.8 L398.9 645.4 L400.4 644.6 L401.7 643.4 L403.2 642.5 L404.8 641.8 L406.5 641.4 L408.3 641.3 L410.0 641.4 L411.7 641.1 L413.4 640.4 L415.1 640.0 L416.8 639.9 L418.5 640.0 L420.2 640.4 L421.9 641.1 L423.6 641.4 L425.3 641.3 L427.1 641.4 L428.8 641.8 L430.4 642.5 L431.9 643.4 L433.2 644.6 L434.7 645.4 L436.5 645.8 L438.1 646.5 L439.5 647.4 L440.9 648.5 L442.0 649.9 L442.9 651.4 L444.1 652.6 L445.7 653.6 L447.0 654.7 L448.1 656.1 L449.0 657.6 L449.7 659.2 L450.1 660.9 L450.9 662.5 L452.0 663.8 L452.9 665.4 L453.6 667.0 L454.0 668.7 L454.2 670.5 L454.0 672.3 L454.3 674.0 L455.0 675.6 L455.4 677.3Z" fill="url(#g16)"/>
</g>
<path d="M447.4 684.0L453.9 685.0M444.4 693.3L450.2 696.4M438.7 701.3L443.3 706.0M430.9 707.0L433.8 713.0M421.6 710.1L422.7 716.7M412.0 710.1L410.9 716.7M402.7 707.0L399.8 713.0M394.9 701.3L390.3 706.0M389.2 693.3L383.4 696.4M386.2 684.0L379.7 685.0M386.2 674.2L379.7 673.2M389.2 664.9L383.4 661.8M394.9 656.9L390.3 652.2M402.7 651.2L399.8 645.2M412.0 648.1L410.9 641.5M421.6 648.1L422.7 641.5M430.9 651.2L433.8 645.2M438.7 656.9L443.3 652.2M444.4 664.9L450.2 661.8M447.4 674.2L453.9 673.2" stroke="#706880" stroke-opacity="0.3" stroke-width="0.9" fill="none" stroke-linecap="round" filter="url(#b10)"/>
<g filter="url(#wob)"><path d="M419.7 678.8 L419.3 679.3 L419.2 679.9 L419.3 680.7 L419.0 681.4 L418.3 681.8 L417.6 681.7 L416.9 681.6 L416.2 681.7 L415.5 681.7 L414.9 681.3 L414.7 680.5 L414.6 679.9 L414.3 679.4 L413.7 678.8 L413.4 678.0 L413.8 677.3 L414.6 676.9 L415.3 676.8 L415.7 676.4 L416.2 675.9 L416.9 675.6 L417.6 675.9 L418.1 676.3 L418.7 676.6 L419.4 676.8 L420.0 677.3 L420.1 678.1ZM422.4 678.8 L422.9 679.9 L423.0 681.0 L422.4 682.0 L421.5 682.6 L420.7 683.3 L420.0 684.2 L419.1 684.9 L418.0 684.9 L416.9 684.3 L416.0 684.0 L414.9 684.2 L413.8 684.2 L412.9 683.6 L412.4 682.6 L411.9 681.7 L411.1 680.9 L410.4 679.9 L410.4 678.8 L411.1 677.8 L411.8 676.9 L412.1 676.0 L412.3 674.9 L412.9 674.1 L414.0 673.8 L415.0 673.6 L415.9 673.0 L416.9 672.3 L418.1 672.2 L419.1 672.9 L419.8 673.8 L420.6 674.4 L421.5 674.9 L422.3 675.7 L422.4 676.8 L422.2 677.9ZM425.6 678.8 L426.0 679.9 L425.9 681.0 L424.9 681.8 L424.0 682.5 L423.7 683.5 L423.6 684.7 L422.9 685.5 L421.8 685.8 L420.8 686.3 L420.1 687.2 L419.2 688.1 L418.0 688.1 L416.9 687.5 L415.9 687.2 L414.8 687.5 L413.7 687.3 L412.9 686.4 L412.3 685.4 L411.4 685.0 L410.2 684.7 L409.3 684.0 L409.1 682.9 L408.9 681.8 L408.2 680.9 L407.4 679.9 L407.5 678.8 L408.3 677.8 L408.8 676.8 L408.8 675.7 L408.9 674.6 L409.8 673.9 L410.8 673.4 L411.4 672.6 L411.8 671.4 L412.5 670.5 L413.7 670.4 L414.8 670.4 L415.8 670.0 L416.9 669.4 L418.0 669.5 L419.0 670.5 L419.8 671.2 L420.8 671.3 L422.0 671.4 L422.8 672.2 L423.1 673.3 L423.7 674.1 L424.9 674.6 L425.8 675.4 L425.9 676.6 L425.5 677.8Z" fill="none" stroke="#781c48" stroke-width="1.0" stroke-opacity="0.85" stroke-linejoin="round" filter="url(#b4)"/>
<path d="M429.7 678.8 L430.1 679.9 L430.2 681.0 L428.7 681.7 L428.0 682.5 L428.4 683.7 L428.9 685.1 L428.2 686.0 L426.5 686.0 L425.8 686.7 L425.9 688.1 L425.8 689.7 L424.9 690.4 L423.5 690.3 L422.5 690.7 L421.7 691.4 L420.8 692.2 L419.5 691.6 L418.4 690.8 L417.4 690.6 L416.4 691.6 L415.3 692.1 L414.3 691.4 L413.6 690.3 L412.5 690.3 L411.2 690.7 L409.8 691.1 L409.2 689.9 L408.7 688.8 L407.7 688.4 L406.7 687.8 L406.0 687.0 L406.1 685.6 L405.8 684.6 L405.3 683.8 L404.5 682.9 L403.8 682.0 L404.8 680.8 L404.7 679.8 L404.7 678.8 L403.2 677.7 L402.9 676.5 L404.3 675.7 L404.9 674.8 L404.9 673.7 L404.6 672.3 L405.4 671.5 L406.8 671.2 L408.0 670.9 L408.1 669.7 L408.7 668.7 L409.5 668.1 L410.9 668.4 L411.9 668.2 L412.2 666.4 L413.2 665.9 L414.2 665.7 L415.3 665.9 L416.4 665.8 L417.5 664.7 L418.6 664.6 L419.7 665.2 L420.3 667.0 L421.4 666.9 L422.5 666.9 L423.6 667.3 L424.2 668.2 L424.5 669.4 L425.2 670.2 L426.6 670.2 L427.5 670.8 L428.1 671.7 L428.0 673.0 L428.6 673.8 L430.1 674.4 L430.2 675.5 L429.8 676.7 L429.5 677.8ZM432.0 678.8 L433.2 679.9 L432.6 680.9 L432.1 681.9 L432.1 683.0 L432.0 684.1 L432.7 685.6 L431.6 686.3 L429.6 686.5 L429.5 687.6 L429.6 689.0 L428.3 689.3 L427.1 689.6 L426.2 690.0 L426.0 691.4 L425.4 692.5 L424.6 693.3 L423.3 693.0 L422.4 693.5 L421.6 694.7 L420.6 695.4 L419.3 694.5 L418.2 693.6 L417.2 693.7 L416.1 694.5 L415.0 694.4 L414.2 693.4 L413.3 692.8 L412.1 693.2 L410.7 694.0 L409.6 693.8 L409.3 692.0 L408.0 692.0 L406.7 691.9 L405.9 691.2 L405.9 689.6 L405.5 688.6 L404.6 688.0 L403.8 687.3 L403.0 686.5 L403.2 685.2 L403.1 684.2 L402.3 683.4 L401.0 682.6 L400.6 681.6 L401.4 680.4 L401.3 679.3 L400.8 678.3 L400.2 677.1 L401.5 676.2 L402.8 675.4 L402.4 674.3 L402.4 673.1 L402.6 672.1 L403.8 671.5 L404.1 670.5 L403.9 669.1 L404.3 668.0 L405.1 667.2 L406.8 667.4 L407.3 666.4 L407.7 665.1 L408.7 664.6 L410.4 665.5 L411.5 665.6 L412.3 664.9 L412.9 663.4 L414.0 663.6 L415.2 664.2 L416.2 664.2 L417.2 662.4 L418.3 661.9 L419.4 662.4 L420.3 663.5 L421.2 664.1 L422.6 663.5 L423.5 664.2 L424.0 665.4 L424.3 666.9 L425.6 666.7 L426.9 666.8 L427.9 667.3 L428.4 668.2 L429.1 669.0 L430.4 669.4 L431.0 670.3 L431.7 671.2 L430.8 672.8 L431.4 673.7 L432.2 674.6 L432.8 675.5 L431.5 676.8 L430.9 677.9ZM435.5 678.8 L434.6 679.8 L435.0 680.9 L435.7 682.1 L435.2 683.1 L434.3 684.0 L432.5 684.4 L433.3 685.8 L433.1 686.9 L432.9 687.9 L431.6 688.3 L431.2 689.3 L431.0 690.5 L430.9 691.8 L430.3 692.8 L428.7 692.6 L427.6 692.9 L427.4 694.4 L426.7 695.5 L425.3 695.1 L423.9 694.6 L422.9 694.8 L422.3 696.0 L421.3 696.5 L420.3 696.8 L419.1 695.9 L418.2 696.8 L417.2 698.4 L416.1 697.7 L415.0 697.4 L414.1 696.4 L413.0 696.4 L411.7 697.3 L410.9 696.2 L410.5 694.3 L409.5 694.1 L408.1 694.8 L407.0 694.5 L406.4 693.5 L405.7 692.8 L405.0 692.0 L403.4 692.1 L402.6 691.4 L402.4 690.1 L402.4 688.8 L401.7 688.1 L400.7 687.4 L400.5 686.4 L400.6 685.2 L400.7 684.1 L399.4 683.5 L398.8 682.5 L398.1 681.5 L399.0 680.4 L398.9 679.3 L397.6 678.2 L397.9 677.2 L398.4 676.1 L399.8 675.3 L400.2 674.4 L399.1 673.0 L400.1 672.2 L400.8 671.4 L402.1 670.9 L401.5 669.4 L401.8 668.3 L402.1 667.2 L403.0 666.6 L404.1 666.2 L404.2 664.8 L404.7 663.6 L405.9 663.4 L407.6 664.0 L408.6 663.7 L409.1 662.5 L409.8 661.4 L411.2 662.2 L412.3 662.3 L413.1 661.3 L413.9 659.9 L414.9 659.5 L416.1 660.2 L417.2 660.8 L418.2 660.3 L419.4 660.0 L420.4 660.6 L421.1 661.8 L422.0 662.4 L423.2 662.0 L424.2 662.3 L425.2 662.7 L425.5 664.2 L426.6 664.4 L427.9 664.2 L429.5 664.0 L429.9 665.2 L430.2 666.5 L430.7 667.4 L432.0 667.7 L433.2 668.2 L432.5 669.9 L432.6 671.0 L433.1 671.9 L434.5 672.4 L434.0 673.7 L433.4 674.9 L434.2 675.8 L435.4 676.7 L436.1 677.7ZM436.9 678.8 L435.9 679.8 L436.9 680.8 L437.6 682.0 L437.9 683.1 L436.1 683.8 L436.3 684.9 L436.8 686.2 L437.2 687.5 L435.8 688.1 L434.5 688.6 L434.6 689.8 L434.7 691.2 L433.8 691.9 L432.4 692.1 L431.3 692.5 L431.0 693.6 L431.0 695.2 L429.8 695.4 L428.5 695.5 L427.6 696.0 L427.6 698.2 L426.7 698.8 L425.1 697.8 L423.8 697.4 L423.1 698.6 L422.3 699.8 L421.1 699.2 L419.9 698.2 L418.9 698.5 L417.9 699.2 L416.9 699.7 L415.9 699.3 L414.9 698.6 L413.7 699.5 L412.6 700.0 L411.3 700.3 L410.5 699.1 L409.8 698.1 L408.6 698.2 L407.5 697.9 L407.1 696.5 L406.5 695.5 L405.4 695.4 L404.2 695.2 L402.9 695.1 L402.5 693.9 L402.1 692.8 L400.9 692.5 L399.3 692.4 L399.2 691.1 L399.4 689.7 L399.3 688.6 L397.6 688.3 L397.4 687.2 L397.5 686.0 L398.1 684.7 L397.8 683.7 L396.6 683.0 L395.9 682.0 L396.9 680.8 L396.6 679.8 L395.2 678.8 L395.0 677.7 L395.9 676.7 L396.6 675.7 L396.6 674.6 L396.1 673.4 L397.0 672.5 L398.1 671.8 L398.9 671.1 L398.4 669.7 L398.5 668.6 L399.3 667.8 L400.5 667.4 L400.6 666.2 L400.6 664.8 L400.7 663.4 L402.3 663.4 L403.6 663.3 L404.4 662.7 L404.4 660.8 L405.7 660.9 L407.3 661.5 L408.3 661.4 L408.7 659.6 L409.4 658.5 L410.6 658.8 L411.8 659.0 L412.8 658.7 L413.5 656.8 L414.7 656.7 L415.8 657.6 L416.9 658.1 L417.9 658.1 L419.0 657.8 L420.0 658.5 L420.9 659.2 L421.8 659.8 L423.0 659.4 L424.3 658.7 L425.1 659.7 L425.6 661.0 L427.0 660.5 L428.4 660.3 L429.4 660.9 L429.5 662.6 L430.1 663.5 L431.6 663.4 L432.7 663.8 L432.8 665.1 L432.2 667.0 L433.6 667.2 L434.6 667.8 L435.4 668.6 L435.1 669.9 L435.2 670.9 L436.8 671.4 L438.3 672.1 L438.2 673.3 L437.4 674.6 L437.1 675.7 L438.0 676.7 L438.0 677.7ZM439.9 678.8 L439.5 679.8 L440.6 680.9 L440.9 682.1 L439.9 683.0 L438.3 683.7 L438.6 684.8 L439.2 686.1 L439.3 687.2 L438.3 687.9 L437.4 688.7 L437.6 689.9 L438.0 691.4 L437.3 692.3 L435.6 692.4 L434.4 692.7 L434.2 693.9 L434.0 695.1 L432.9 695.5 L431.8 695.8 L430.6 696.0 L431.2 698.4 L430.4 699.2 L428.9 698.8 L427.8 699.0 L427.1 699.9 L426.4 700.9 L425.5 701.7 L424.0 700.7 L422.9 700.6 L422.0 701.1 L421.2 702.6 L420.1 702.3 L418.9 701.2 L417.9 701.6 L416.9 702.7 L415.8 703.7 L414.8 702.6 L413.8 701.8 L412.8 701.6 L411.6 702.0 L410.6 701.5 L410.0 700.0 L409.1 699.5 L407.9 699.8 L406.5 700.4 L405.6 699.9 L405.3 698.2 L404.2 698.1 L402.5 698.7 L401.7 697.9 L401.1 696.9 L401.1 695.3 L400.3 694.7 L398.6 694.8 L398.3 693.6 L398.6 692.1 L398.2 691.2 L397.1 690.6 L395.9 690.1 L395.2 689.2 L395.6 687.9 L395.4 686.9 L394.0 686.2 L392.9 685.4 L394.4 683.9 L395.1 682.7 L394.1 681.9 L392.9 681.0 L393.2 679.9 L394.3 678.8 L394.4 677.8 L393.6 676.7 L392.9 675.5 L392.8 674.4 L394.5 673.7 L394.4 672.6 L393.9 671.3 L394.1 670.2 L395.8 669.8 L397.2 669.3 L397.1 668.1 L396.3 666.5 L397.5 666.0 L398.5 665.4 L399.4 664.9 L399.1 663.3 L398.8 661.5 L400.2 661.3 L401.9 661.6 L402.6 660.8 L402.7 659.3 L403.6 658.6 L405.1 659.1 L406.4 659.3 L406.9 658.1 L407.5 656.7 L408.6 656.7 L409.7 656.8 L410.8 656.6 L411.5 655.2 L412.5 654.5 L413.7 655.0 L414.8 655.6 L415.9 656.1 L416.9 654.9 L418.0 654.8 L418.9 656.4 L419.9 657.0 L421.0 656.5 L422.3 654.9 L423.3 655.7 L424.0 657.0 L425.1 656.9 L426.3 656.8 L427.6 656.6 L428.3 657.7 L428.6 659.3 L429.0 660.4 L430.9 659.6 L431.7 660.3 L432.1 661.3 L432.0 663.0 L433.8 662.6 L435.1 662.9 L436.2 663.4 L435.5 665.3 L436.4 665.9 L437.3 666.6 L438.2 667.3 L437.8 668.8 L437.3 670.1 L437.7 671.0 L439.2 671.6 L440.3 672.4 L439.8 673.6 L439.0 674.8 L440.5 675.6 L441.5 676.6 L441.6 677.7Z" fill="none" stroke="#8a2050" stroke-width="1.05" stroke-opacity="0.85" stroke-linejoin="round" filter="url(#b4)"/></g>
<g filter="url(#b7)">
<path d="M559.3 679.9 L559.2 681.6 L559.0 683.3 L558.6 685.0 L558.0 686.6 L557.2 688.1 L557.3 689.9 L557.1 691.6 L556.7 693.3 L556.1 694.9 L555.5 696.5 L554.6 698.0 L553.7 699.4 L552.6 700.7 L551.4 702.0 L549.9 703.0 L549.3 704.6 L548.3 706.1 L547.2 707.4 L546.0 708.6 L544.7 709.8 L543.3 710.8 L541.8 711.6 L540.3 712.4 L538.6 713.0 L536.9 713.3 L535.6 714.4 L534.1 715.3 L532.5 716.1 L530.9 716.7 L529.2 717.1 L527.5 717.4 L525.8 717.6 L524.0 717.6 L522.3 717.4 L520.6 717.0 L518.9 717.4 L517.2 717.6 L515.4 717.6 L513.7 717.4 L512.0 717.1 L510.3 716.7 L508.7 716.1 L507.1 715.3 L505.6 714.4 L504.3 713.3 L502.6 713.0 L500.9 712.4 L499.4 711.6 L497.9 710.8 L496.5 709.8 L495.2 708.6 L494.0 707.4 L492.9 706.1 L491.9 704.6 L491.3 703.0 L489.8 702.0 L488.6 700.7 L487.5 699.4 L486.6 698.0 L485.7 696.5 L485.1 694.9 L484.5 693.3 L484.1 691.6 L483.9 689.9 L484.0 688.1 L483.2 686.6 L482.6 685.0 L482.2 683.3 L482.0 681.6 L481.9 679.9 L482.0 678.2 L482.2 676.5 L482.6 674.8 L483.2 673.2 L484.0 671.7 L483.9 669.9 L484.1 668.2 L484.5 666.5 L485.1 664.9 L485.7 663.3 L486.6 661.8 L487.5 660.4 L488.6 659.1 L489.8 657.8 L491.3 656.8 L491.9 655.2 L492.9 653.7 L494.0 652.4 L495.2 651.2 L496.5 650.0 L497.9 649.0 L499.4 648.2 L500.9 647.4 L502.6 646.8 L504.3 646.5 L505.6 645.4 L507.1 644.5 L508.7 643.7 L510.3 643.1 L512.0 642.7 L513.7 642.4 L515.4 642.2 L517.2 642.2 L518.9 642.4 L520.6 642.8 L522.3 642.4 L524.0 642.2 L525.8 642.2 L527.5 642.4 L529.2 642.7 L530.9 643.1 L532.5 643.7 L534.1 644.5 L535.6 645.4 L536.9 646.5 L538.6 646.8 L540.3 647.4 L541.8 648.2 L543.3 649.0 L544.7 650.0 L546.0 651.2 L547.2 652.4 L548.3 653.7 L549.3 655.2 L549.9 656.8 L551.4 657.8 L552.6 659.1 L553.7 660.4 L554.6 661.8 L555.5 663.3 L556.1 664.9 L556.7 666.5 L557.1 668.2 L557.3 669.9 L557.2 671.7 L558.0 673.2 L558.6 674.8 L559.0 676.5 L559.2 678.2Z" fill="url(#g17)"/>
</g>
<path d="M550.8 686.7L557.2 688.1M544.8 699.0L549.9 703.0M534.0 707.4L536.9 713.3M520.6 710.5L520.6 717.0M507.2 707.4L504.3 713.3M496.4 699.0L491.3 703.0M490.4 686.7L484.0 688.1M490.4 673.1L484.0 671.7M496.4 660.8L491.3 656.8M507.2 652.4L504.3 646.5M520.6 649.3L520.6 642.8M534.0 652.4L536.9 646.5M544.8 660.8L549.9 656.8M550.8 673.1L557.2 671.7" stroke="#707888" stroke-opacity="0.25" stroke-width="0.9" fill="none" stroke-linecap="round" filter="url(#b10)"/>
<g filter="url(#wob)"><path d="M519.7 663.2h.01M531.6 665.2h.01M530.6 676.4h.01M519.3 663.0h.01M536.1 670.9h.01M512.2 687.0h.01M504.3 669.7h.01M507.6 692.5h.01M540.1 680.3h.01M507.0 691.5h.01M518.1 675.8h.01M520.1 683.5h.01M526.2 688.8h.01M527.2 682.6h.01M536.3 688.4h.01M527.1 682.7h.01M500.4 673.1h.01M538.4 675.5h.01M507.9 687.9h.01M518.4 691.8h.01M535.4 675.4h.01M520.2 663.9h.01M529.1 661.5h.01M503.2 673.7h.01M514.9 683.4h.01M501.5 685.7h.01M518.5 696.1h.01M522.7 694.5h.01M526.8 661.6h.01M518.2 676.4h.01M525.7 676.8h.01M525.7 685.2h.01M504.7 665.7h.01M517.5 679.3h.01M529.3 695.3h.01M514.8 696.4h.01M508.5 687.3h.01M515.9 681.9h.01M508.5 668.5h.01M527.1 692.3h.01M515.5 694.6h.01M535.9 690.3h.01M535.5 688.3h.01M510.2 691.5h.01M514.1 665.7h.01M538.4 679.2h.01M508.2 662.7h.01M517.4 672.4h.01M506.5 692.4h.01M529.9 695.6h.01M520.2 693.0h.01M513.1 696.7h.01M530.1 678.7h.01M506.5 681.8h.01M527.2 694.7h.01M512.6 661.2h.01M524.0 664.7h.01M535.6 690.2h.01M499.2 676.0h.01M511.3 662.2h.01M521.5 658.3h.01M525.9 687.0h.01M518.9 692.1h.01M509.9 676.1h.01M507.7 687.7h.01M530.6 693.4h.01M506.6 683.7h.01M530.7 666.7h.01M535.7 678.9h.01M509.4 691.4h.01M507.3 672.9h.01M522.4 669.3h.01M511.1 688.4h.01M534.3 683.7h.01M531.5 678.2h.01M514.0 683.5h.01M501.4 681.8h.01M529.1 665.3h.01M502.3 687.3h.01M532.0 679.7h.01M531.3 692.6h.01M529.9 688.8h.01M502.1 683.4h.01M513.5 675.2h.01M515.9 683.9h.01M520.3 667.6h.01M523.3 694.7h.01M508.1 682.7h.01M508.4 694.3h.01M536.0 686.7h.01M520.8 671.6h.01M531.7 682.3h.01M511.3 683.2h.01M515.2 683.2h.01M538.3 688.3h.01M514.3 690.2h.01M527.3 676.1h.01M523.4 689.2h.01M532.2 684.8h.01M526.0 691.8h.01M528.7 690.4h.01M500.0 678.3h.01M522.5 695.4h.01M519.8 683.2h.01M534.5 678.9h.01M527.7 674.9h.01M524.1 689.3h.01M515.5 697.3h.01M504.1 676.5h.01M533.8 683.0h.01M511.4 694.1h.01M538.7 675.1h.01M527.7 668.9h.01M528.8 697.1h.01M529.1 672.6h.01M523.9 697.9h.01M525.9 671.5h.01M521.9 684.4h.01M517.9 687.3h.01M528.8 689.6h.01M529.0 677.9h.01M505.5 682.0h.01M531.0 678.5h.01M503.3 680.5h.01M518.7 671.2h.01M529.9 672.2h.01M512.8 675.3h.01M505.9 666.4h.01M540.1 677.2h.01M535.3 686.7h.01M499.3 678.6h.01M515.0 690.6h.01M520.5 681.6h.01M519.6 688.1h.01M532.1 692.6h.01M510.6 673.2h.01M521.2 671.4h.01M518.2 679.1h.01M527.5 681.7h.01M503.0 675.2h.01M512.6 691.7h.01M530.2 685.9h.01M516.1 679.1h.01M518.9 696.2h.01M504.6 678.2h.01M522.1 691.8h.01M510.7 691.7h.01M522.9 665.3h.01M523.7 663.0h.01M504.8 667.8h.01M525.7 671.9h.01M526.1 665.3h.01M516.1 674.1h.01M528.3 665.3h.01M526.3 662.2h.01M533.7 672.3h.01M528.7 693.8h.01M516.2 699.2h.01M516.3 688.0h.01M505.3 666.5h.01M519.5 694.4h.01M527.8 665.8h.01M502.8 682.2h.01M515.9 696.9h.01M519.9 672.2h.01M525.4 679.4h.01M500.7 677.2h.01M517.6 682.7h.01M511.3 677.6h.01M528.4 668.2h.01M517.0 677.8h.01M530.3 692.7h.01M536.9 670.9h.01M516.9 662.7h.01M539.0 678.7h.01M518.3 692.0h.01M513.8 684.2h.01M537.1 674.9h.01M507.4 668.4h.01M536.0 683.4h.01M524.9 679.1h.01M529.5 662.6h.01M525.5 671.7h.01M512.5 683.4h.01M534.0 677.3h.01M534.7 680.8h.01M533.9 663.8h.01M539.9 677.6h.01M522.9 682.0h.01M510.5 678.3h.01M526.9 685.3h.01M534.1 671.4h.01M519.2 692.4h.01M513.8 660.2h.01M532.7 687.4h.01M536.8 681.6h.01M528.1 664.4h.01M515.8 660.2h.01M519.5 676.1h.01M529.9 684.3h.01M503.8 673.3h.01M518.9 660.5h.01M517.9 678.1h.01M514.0 685.3h.01M519.5 684.4h.01M506.0 674.9h.01M531.2 696.1h.01M527.5 690.9h.01M504.8 668.7h.01M513.0 662.9h.01M511.3 665.5h.01M512.9 692.5h.01M506.5 677.2h.01M524.9 691.8h.01M525.2 691.6h.01M519.5 665.6h.01M512.9 680.8h.01M539.6 681.0h.01M519.5 661.0h.01M523.1 683.0h.01M519.1 657.9h.01M507.8 670.6h.01M524.4 674.6h.01M504.2 676.3h.01M506.6 694.2h.01M537.7 685.8h.01M505.1 692.4h.01M520.2 676.6h.01M506.7 673.5h.01M529.9 689.4h.01M501.2 669.7h.01M539.9 679.0h.01M506.3 665.9h.01M528.3 692.5h.01M502.1 679.6h.01M519.3 689.2h.01M513.9 678.5h.01M537.1 667.9h.01M516.5 695.9h.01M517.9 667.7h.01M520.8 668.3h.01M516.7 686.5h.01M531.2 685.7h.01M508.5 677.8h.01M513.7 691.6h.01M529.3 678.9h.01M532.1 676.4h.01M529.6 671.6h.01M512.8 690.9h.01M527.2 683.7h.01M511.9 679.0h.01M538.3 670.3h.01M523.5 672.3h.01M531.3 668.7h.01M517.1 664.0h.01M506.7 679.0h.01M525.9 667.9h.01M520.1 669.9h.01M534.6 673.7h.01M528.3 692.6h.01M531.1 663.6h.01M521.2 681.9h.01M507.2 694.0h.01M535.4 679.7h.01M500.4 673.1h.01M527.0 665.8h.01M524.7 677.2h.01M516.9 679.4h.01M523.9 699.3h.01M506.2 684.9h.01M506.5 681.6h.01M533.3 671.5h.01M518.4 681.8h.01M527.2 670.8h.01M521.3 684.4h.01M524.0 658.5h.01M535.0 668.5h.01M529.8 686.5h.01M509.7 670.5h.01M516.1 679.0h.01M502.5 677.5h.01M528.2 677.8h.01M511.1 682.5h.01M519.5 678.0h.01M515.2 659.2h.01M526.3 669.5h.01M507.2 677.0h.01M534.4 672.1h.01M499.5 682.2h.01M509.1 666.2h.01M505.7 675.1h.01M502.1 681.5h.01M535.9 676.3h.01M514.1 696.4h.01M500.9 676.5h.01M501.1 676.3h.01M522.6 667.1h.01M525.4 698.9h.01M511.8 696.3h.01M527.9 668.9h.01M524.7 674.6h.01M522.6 659.1h.01M519.0 684.2h.01M521.4 685.2h.01M520.9 691.9h.01M507.9 689.5h.01M512.8 661.6h.01M515.9 693.6h.01M527.0 674.0h.01M511.0 698.0h.01M524.6 693.1h.01M520.9 688.2h.01M512.8 663.2h.01M526.6 692.3h.01M499.2 674.1h.01M526.2 685.3h.01M532.4 680.2h.01M530.2 678.7h.01M533.0 681.1h.01M508.2 677.3h.01M527.9 678.7h.01M500.4 683.1h.01M527.3 692.6h.01M525.3 695.1h.01M539.6 676.6h.01M511.1 680.1h.01M524.3 685.5h.01M517.2 681.5h.01M531.2 693.2h.01M507.8 665.6h.01" fill="none" stroke="#801e48" stroke-width="0.9" stroke-opacity="0.7" stroke-linecap="round" filter="url(#b4)"/>
<path d="M526.5 670.9 L528.9 671.9 L530.6 670.0M514.9 678.4 L513.5 680.6 L511.1 681.4 L508.6 682.4 L506.2 681.4M516.2 671.7 L518.6 672.8 L519.8 675.1M507.8 681.6 L510.4 681.7 L513.0 682.2M524.6 681.9 L526.7 683.4 L529.2 684.1M509.0 676.0 L508.9 678.6 L506.7 680.0M532.8 674.8 L531.9 677.2 L533.8 679.0M527.3 690.8 L528.4 688.5 L528.5 685.9 L530.1 683.9M517.4 688.0 L518.4 685.6 L517.4 683.2 L516.7 680.7 L514.3 679.8M521.5 677.1 L522.0 674.5 L521.0 672.1 L519.9 669.7M522.4 692.4 L524.4 690.7 L526.9 689.8 L529.3 689.1M520.4 676.5 L522.2 678.3 L520.8 680.5 L522.0 682.8 L524.6 683.2M528.9 671.1 L530.6 669.1M531.9 675.7 L533.8 677.5 L533.6 680.1M512.5 667.5 L514.9 666.5 L516.6 664.5M519.0 668.8 L520.0 671.2 L519.0 673.6 L517.0 675.3M518.8 681.4 L517.6 683.6 L515.1 684.4M507.4 676.1 L507.1 678.7 L509.4 679.9M516.6 682.3 L515.8 684.7 L513.5 686.0 L510.9 685.7M511.2 670.4 L509.6 672.4 L507.0 672.4" fill="none" stroke="#ee98ae" stroke-width="0.7" stroke-opacity="0.6" stroke-linecap="round" stroke-linejoin="round" filter="url(#b4)"/></g>
<g filter="url(#b7)">
<path d="M660.8 681.4 L660.8 682.6 L660.6 683.8 L660.4 685.0 L660.2 686.2 L659.8 687.4 L659.4 688.5 L658.9 689.6 L658.3 690.7 L657.6 691.7 L656.8 692.6 L656.6 693.8 L656.2 695.0 L655.7 696.1 L655.1 697.1 L654.5 698.2 L653.8 699.2 L653.0 700.1 L652.2 701.0 L651.3 701.9 L650.3 702.7 L649.3 703.4 L648.3 704.1 L647.2 704.7 L646.1 705.2 L644.9 705.6 L643.8 706.0 L642.6 706.3 L641.3 706.5 L640.1 706.7 L638.9 706.6 L637.8 707.2 L636.6 707.6 L635.4 707.9 L634.2 708.2 L633.0 708.3 L631.8 708.4 L630.5 708.4 L629.3 708.3 L628.0 708.2 L626.8 707.9 L625.6 707.6 L624.4 707.2 L623.3 706.8 L622.1 706.2 L621.1 705.6 L620.0 705.0 L619.0 704.3 L618.1 703.5 L617.3 702.6 L616.5 701.6 L615.4 701.1 L614.3 700.5 L613.3 699.8 L612.4 699.0 L611.5 698.2 L610.7 697.3 L609.9 696.3 L609.2 695.3 L608.5 694.3 L608.0 693.2 L607.4 692.1 L607.0 690.9 L606.7 689.8 L606.4 688.6 L606.2 687.4 L606.1 686.2 L606.0 685.0 L606.1 683.8 L606.2 682.6 L606.6 681.4 L606.2 680.2 L606.1 679.0 L606.0 677.8 L606.1 676.6 L606.2 675.4 L606.4 674.2 L606.7 673.0 L607.0 671.9 L607.4 670.7 L608.0 669.6 L608.5 668.5 L609.2 667.5 L609.9 666.5 L610.7 665.5 L611.5 664.6 L612.4 663.8 L613.3 663.0 L614.3 662.3 L615.4 661.7 L616.5 661.2 L617.3 660.2 L618.1 659.3 L619.0 658.5 L620.0 657.8 L621.1 657.2 L622.1 656.6 L623.3 656.0 L624.4 655.6 L625.6 655.2 L626.8 654.9 L628.0 654.6 L629.3 654.5 L630.5 654.4 L631.8 654.4 L633.0 654.5 L634.2 654.6 L635.4 654.9 L636.6 655.2 L637.8 655.6 L638.9 656.2 L640.1 656.1 L641.3 656.3 L642.6 656.5 L643.8 656.8 L644.9 657.2 L646.1 657.6 L647.2 658.1 L648.3 658.7 L649.3 659.4 L650.3 660.1 L651.3 660.9 L652.2 661.8 L653.0 662.7 L653.8 663.6 L654.5 664.6 L655.1 665.7 L655.7 666.7 L656.2 667.8 L656.6 669.0 L656.8 670.2 L657.6 671.1 L658.3 672.1 L658.9 673.2 L659.4 674.3 L659.8 675.4 L660.2 676.6 L660.4 677.8 L660.6 679.0 L660.8 680.2Z" fill="url(#g18)"/>
</g>
<path d="M157.4 417V732M261.2 417V732M365.3 417V732M470 417V732M581.2 417V732M56.4 526H685M56.4 627.1H685" stroke="#fff" stroke-width="2.1" fill="none"/>
<path d="M86.2 518.9H119.9" stroke="#fff" stroke-width="1.9"/>
<text x="104.1" y="516.5" text-anchor="middle" font-size="7.5" font-weight="bold" letter-spacing="0.35" fill="#f4f4f4">5mm</text>
</svg>
</body></html>
